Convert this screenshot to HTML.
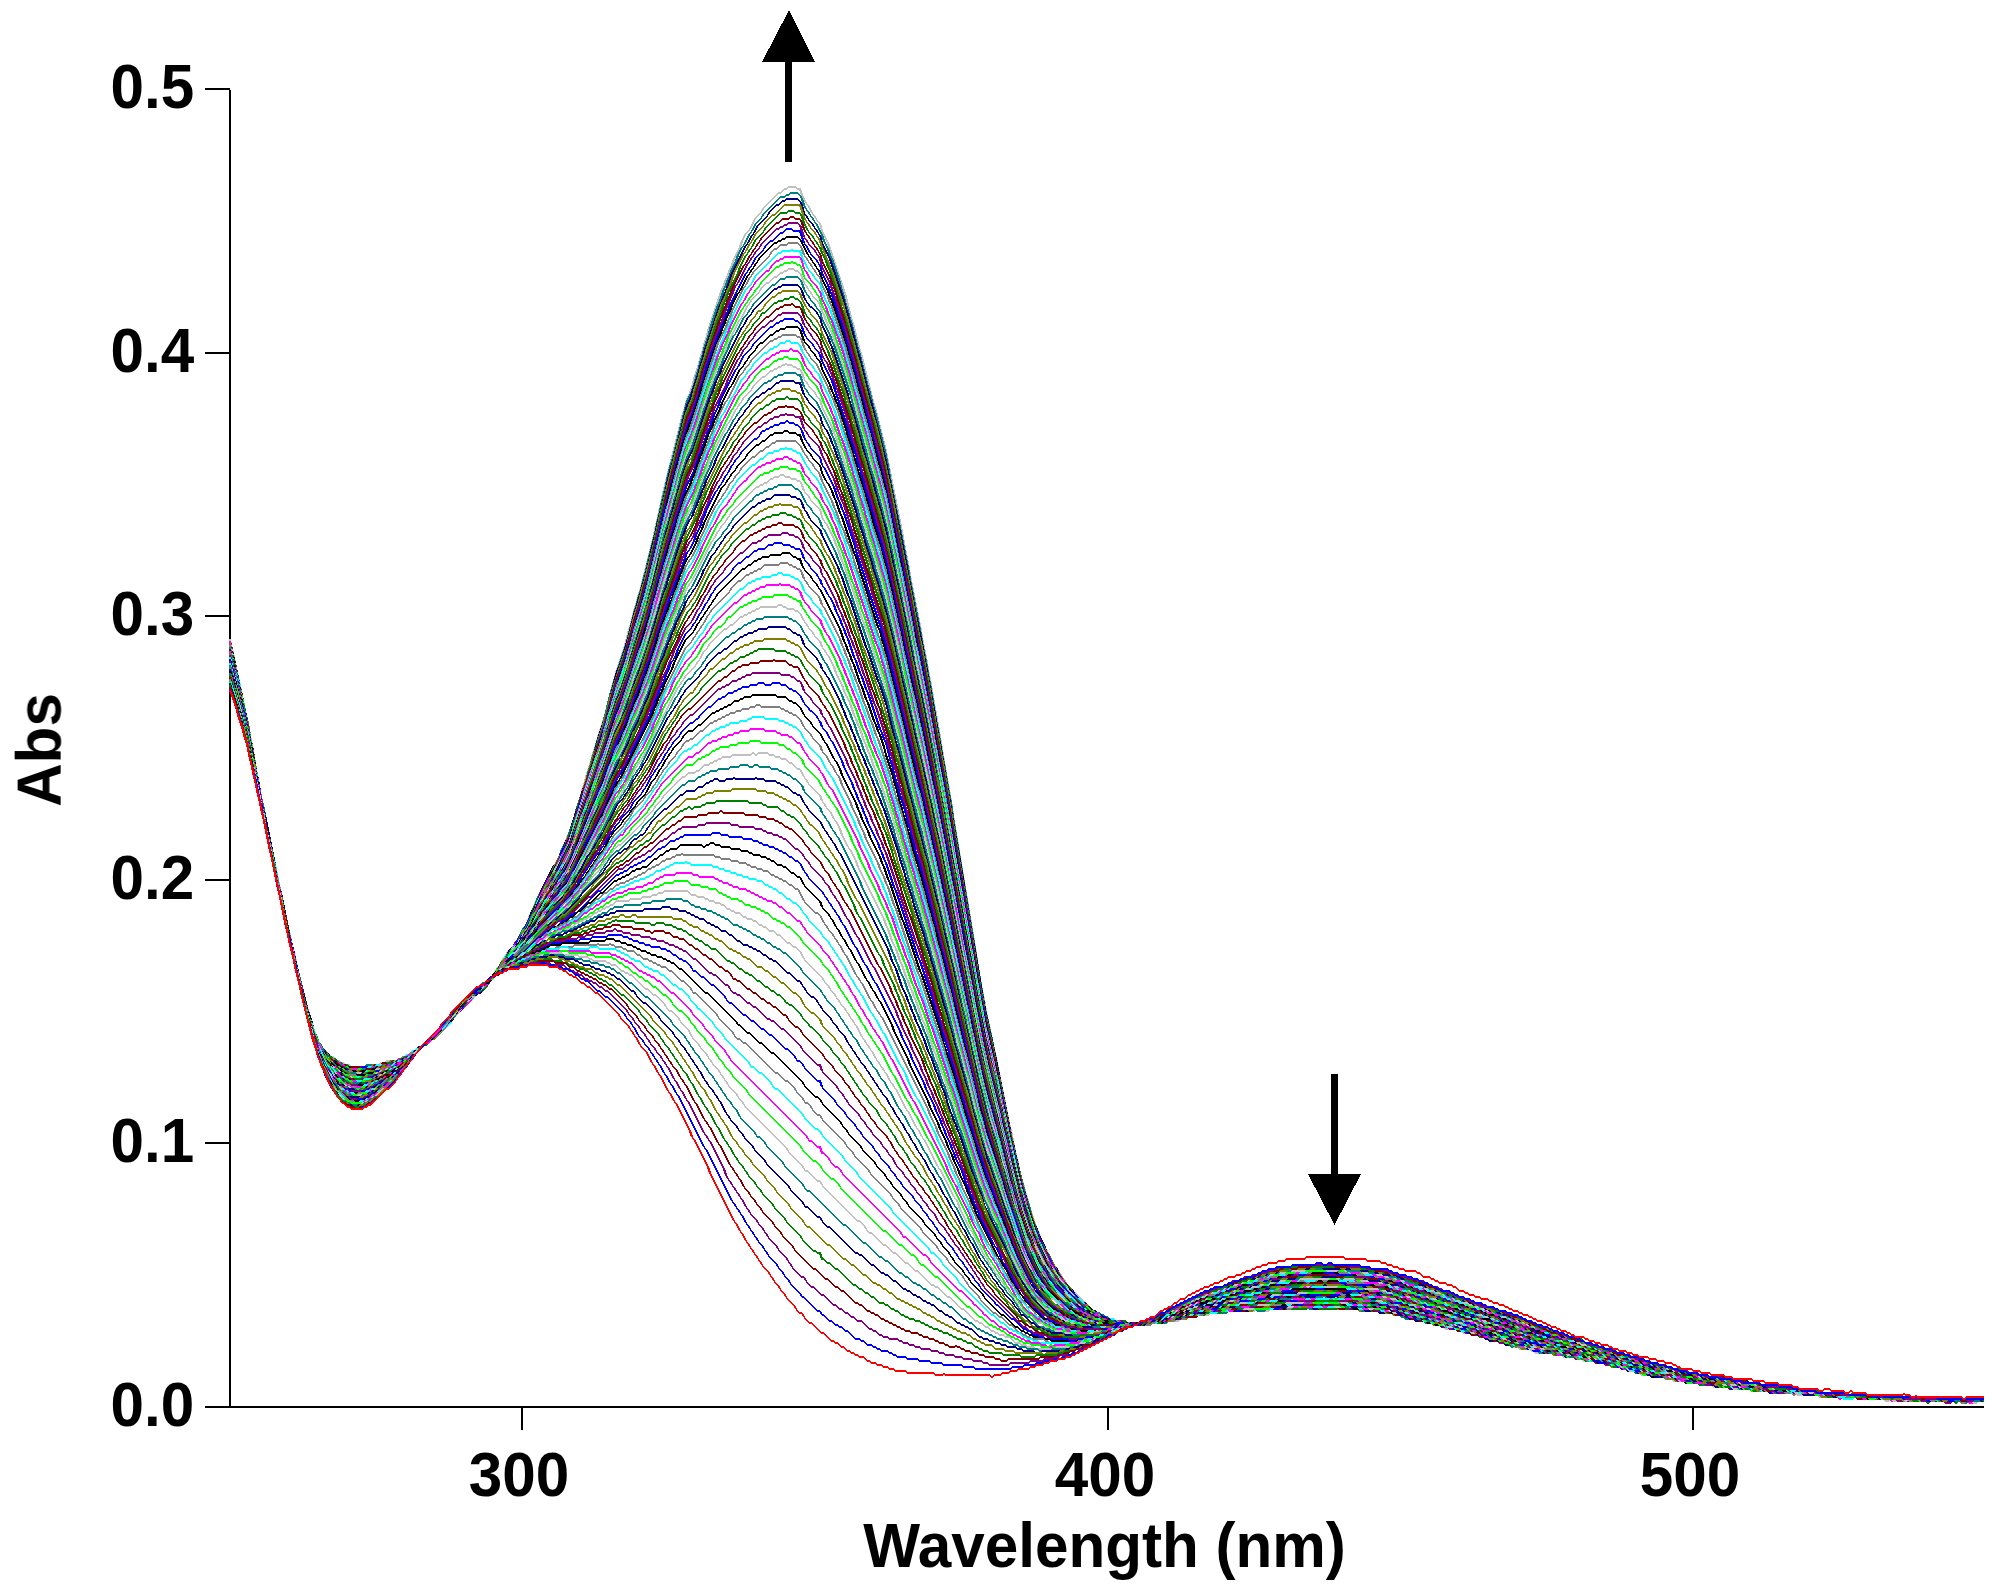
<!DOCTYPE html>
<html><head><meta charset="utf-8"><title>Abs vs Wavelength</title>
<style>
html,body{margin:0;padding:0;background:#fff}
body{width:2002px;height:1596px;overflow:hidden}
svg{display:block}
text{font-family:"Liberation Sans",sans-serif;font-weight:bold;font-size:60.2px;fill:#000}
.aw{stroke-width:.98}.bw{stroke-width:.72;transform:translate(0,.25px)}.cw{stroke-width:.9}
.r{stroke:#ff0000}.u{stroke:#0000ff}.p{stroke:#800080}.m{stroke:#800000}.g{stroke:#008000}.o{stroke:#808000}.n{stroke:#000080}.t{stroke:#008080}.s{stroke:#c0c0c0}.l{stroke:#00ff00}.f{stroke:#ff00ff}.c{stroke:#00ffff}.y{stroke:#808080}.k{stroke:#000000}
</style></head><body>
<svg width="2002" height="1596" viewBox="0 0 2002 1596">
<rect width="2002" height="1596" fill="#fff"/>
<g shape-rendering="crispEdges" fill="#000">
<rect x="229" y="90" width="2" height="1318"/>
<rect x="205" y="1406" width="1779" height="2"/>
<rect x="205" y="88" width="25" height="2"/>
<rect x="205" y="352" width="25" height="2"/>
<rect x="205" y="615" width="25" height="2"/>
<rect x="205" y="879" width="25" height="2"/>
<rect x="205" y="1142" width="25" height="2"/>
<rect x="521" y="1407" width="2" height="23"/>
<rect x="1107" y="1407" width="2" height="23"/>
<rect x="1692" y="1407" width="2" height="23"/>
</g>
<g fill="none" shape-rendering="crispEdges" stroke-linejoin="miter" stroke-linecap="butt" transform="translate(1 0) scale(2) translate(.5 .5)">
<path class="s aw" d="M114 319l1 5l1 4l2 10l1 4l3 15l1 4l1 6l1 5l3 18l2 10l1 4l9 45l1 4l2 10l1 4l1 5l2 8l1 5l5 20l1 3l1 4l1 3m1 2l1 3m7 8h1m2 2h1m1 1h1m1 1h2m1 1h6m1-1h6m1-1h2m1-1h5m1-1h2m1-1h1m1-1h1m4-4h2m2-2h1m3-3h1m17-19h1m28-39l1-3m2-4l1-3m13-25l1-3m1-2l1-3m1-2l2-6l1-4l2-6l1-4l1-3l1-4l2-6l1-4l2-6l1-4l3-9l4-16l1-3l1-4l4-12l2-8l1-3l2-8l1-3l1-4l1-3l7-28l1-5l1-4l1-5l1-4l1-5l9-36l1-3l1-4l1-3m1-2l1-3l1-4l2-6l1-4l1-3l1-4l1-3l1-4l7-21m1-2l1-3m1-2l1-3m1-2l1-3m3-6l1-3m18-24h1m2-2h1m1-1h4m1 1h1l1 3m9 14l1 4m3 6l9 27l3 12l1 3l3 12l1 3l6 24l1 3l5 20l8 40l1 6l2 10l1 6l5 25l1 6l2 10l1 6l1 5l2 12l1 5l5 30l1 5l2 12l1 7l11 66l1 7l1 6l2 10l1 6l1 5l1 4l2 10l1 4l7 35l1 4l2 10l1 4l1 5l1 4l1 3l1 4l1 3l1 4l3 9m1 2l1 3m1 2l1 3m25 32h1m1 1h1m1 1h1m1 1h1m1 1h2m1 1h4m1 1h2m1 1h1m1-1h13m1-1h2m1-1h2m1 1h1m1-1h1m1-1h4m1-1h7m1-1h5m1-1h16m1-1h2m1 1h3m1-1h18m1-1h3m1 1h2m1-1h6m1 1h11m1 1h10m1 1h5m1 1h3m1 1h3m1 1h4m1 1h2m1 1h6m1 1h1m2 2h5m1 1h2m1 1h4m1 1h3m1 1h3m1 1h2m1 1h3m1 1h1m1 1h2m1 1h2m1 1h5m1 1h1m1 1h1m1-1h3m1 1h4m1 1h2m1 1h5m1 1h3m1 1h6m1 1h3m1 1h2m1 1h5m1 1h1m1 1h4m1 1h1m1 1h5m1 1h5m1 1h3m1 1h8m1 1h3m1 1h6m1 1h9m1 1h9m1 1h9m1 1h13m1 1h16m1 1h17m1 1h6m1 1h1m1-1h18m1 1h22m1 1h1m1-1h3"/>
<path class="s cw" d="M156 515l1 2m2 4l1 2m61-9l1-2m7-7l1-2m14-13l1-2m1-1l2-4m1-1l2-4m1-1l1-2m3-3l1-2m1-1l1-2m1-1l3-6m1-3l2-4m1-3l9-18m1-1l3-6m1-3l1-2m1-3l1-2m59-217l1-2m16-52l1-2m1-3l1-2m1-3l1-2m1-3l3-6m1-3l2-4m2-2l3-6m3-3l1-2m19-6l2 4m1 1l2 4m1 1l1 2m3 6l3 6m104 492l1 2m1 3l1 2m2 4l4 8m1 1l1 2m1 1l1 2m1 1l1 2"/>
<path class="s bw" d="M158 520l1 1m1 2l5 5m1 0l2 2m1 0l1 1m1 0l1 1m2 0l1 1m6 0l1-1m6 0l1-1m2 0l1-1m5 0l1-1m2 0l1-1m1 0l1-1m1 0l4-4m2 0l2-2m1 0l3-3m1 0l4-4m1-2l7-7m1-2l4-4m1 0l9-9m1-2l1-1m2-4l1-1m2-4l1-1m1-2l3-3m1-2l1-1m1-2l1-1m16-34l1-1m95-315l2-2m3-6l3-3m1-2l7-7m1 0l2-2m1 0l1-1m4 0l1 1m4 7l1 1m2 4l1 1m1 2l2 2m112 512l1 1m4 8l1 1m1 2l1 1m1 2l1 1m1 2l14 14m1 0l1 1m1 0l1 1m1 0l1 1m1 0l1 1m2 0l1 1m4 0l1 1m2 0l1 1m1 0l1-1m13 0l1-1m2 0l1-1m2 0l1 1m1 0l1-1m1 0l1-1m4 0l1-1m7 0l1-1m5 0l1-1m16 0l1-1m2 0l1 1m3 0l1-1m18 0l1-1m3 0l1 1m2 0l1-1m6 0l1 1m11 0l1 1m10 0l1 1m5 0l1 1m3 0l1 1m3 0l1 1m4 0l1 1m2 0l1 1m6 0l1 1m1 0l2 2m5 0l1 1m2 0l1 1m4 0l1 1m3 0l1 1m3 0l1 1m2 0l1 1m3 0l1 1m1 0l1 1m2 0l1 1m2 0l1 1m5 0l1 1m1 0l1 1m1 0l1-1m3 0l1 1m4 0l1 1m2 0l1 1m5 0l1 1m3 0l1 1m6 0l1 1m3 0l1 1m2 0l1 1m5 0l1 1m1 0l1 1m4 0l1 1m1 0l1 1m5 0l1 1m5 0l1 1m3 0l1 1m8 0l1 1m3 0l1 1m6 0l1 1m9 0l1 1m9 0l1 1m9 0l1 1m13 0l1 1m16 0l1 1m17 0l1 1m6 0l1 1m1 0l1-1m18 0l1 1m22 0l1 1m1 0l1-1"/>
<path class="t aw" d="M114 320l1 4l1 5l1 4l2 10l1 4l5 25l2 12l1 5l1 6l1 5l1 4l1 5l1 6l5 25l1 4l2 10l1 4l2 10l2 8l1 5l7 28l2 6m1 2l1 3m6 8h1m3 3h1m1 1h3m1 1h7m1-1h8m1-1h3m1-1h2m1-1h1m1-1h1m1-1h1m2-2h2m2-2h1m2-2h1m2-2h1m24-25h1m23-36l1-3m2-4l1-3m11-21l1-3m3-6l3-9l1-4l5-15l1-4l1-3l1-4l1-3l1-4l3-9l1-4l1-3l1-5l1-4l1-3l1-4l6-18l4-16l1-3l1-4l1-3l2-8l1-3l1-5l4-16l1-5l1-4l1-5l2-8l1-5l1-4l1-3l7-28l1-3m2-4l1-3l1-4l1-3l1-4l1-3l1-4l2-6l1-4l4-12m1-2l2-6m1-2l1-3m1-2l1-3m2-4l1-3m21-29h2m1-1h1m1-1h4m2 3l1 3m9 15l1 3m2 4l1 3m1 2l4 12l1 4l1 3l1 4l1 3l1 4l1 3l3 12l1 3l4 16l1 3l2 8l1 3l5 20l1 5l1 6l9 45l1 6l5 25l1 6l2 10l1 6l1 5l3 18l1 5l2 12l1 5l2 12l1 5l1 6l1 7l15 90l1 5l1 4l1 5l1 4l11 55l6 24l2 6l1 4l1 3m1 2l1 3m1 2l1 3m23 32h1m3 3h2m1 1h1m1 1h1m1 1h1m1 1h2m1 1h23m1-1h3m1-1h4m1-1h5m1-1h3m1-1h10m1-1h2m1-1h3m1 1h5m1-1h1m1 1h3m1-1h17m1-1h3m1 1h3m1-1h6m1 1h4m1-1h3m1 1h5m1 1h10m1 1h4m1 1h3m1 1h1m1 1h5m1 1h3m1 1h5m1 1h2m1 1h3m1 1h2m1 1h3m1 1h4m1 1h2m1 1h3m1 1h3m1 1h2m1 1h1m1 1h1m2 0h3m1 1h1m1 1h4m1 1h1m1 1h8m1 1h4m1 1h3m1 1h6m1 1h2m1 1h5m1 1h3m1 1h2m1 1h3m1 1h2m1 1h5m1 1h4m1 1h5m1 1h6m1 1h2m1 1h10m1 1h2m1 1h7m1 1h12m1 1h4m1 1h1m1-1h2m1 1h8m1 1h1m1-1h2m1 1h8m1 1h18m1 1h4m1-1h4m1 1h11m1 1h7m1-1h3m1 1h6m2 0h18"/>
<path class="t cw" d="M156 515l1 2m2 4l2 4m58-9l1-2m23-22l2-4m1-1l1-2m1-1l2-4m1-1l1-2m2-2l1-2m2-2l4-8m1-1l2-4m1-3l2-4m1-3l8-16m1-1l2-4m1-3l3-6m60-219l2-4m13-43l1-2m2-6l1-2m1-3l1-2m1-3l2-4m1-3l2-4m1-1l3-6m1-1l2-4m3-3l1-2m18-9l1 2m1 3l1 2m1 1l1 2m1 1l1 2m1 1l3 6m1 3l2 4m1 3l1 2m101 482l1 2m1 3l1 2m1 3l2 4m1 1l3 6m1 1l2 4m1 1l1 2m3 3l1 2"/>
<path class="t bw" d="M158 520l1 1m2 4l3 3m1 0l3 3m1 0l1 1m3 0l1 1m7 0l1-1m8 0l1-1m3 0l1-1m2 0l1-1m1 0l1-1m1 0l1-1m1 0l2-2m2 0l2-2m1 0l2-2m1 0l2-2m1 0l3-3m1-2l20-20m1 0l2-2m2-4l1-1m1-2l1-1m2-4l1-1m1-2l2-2m1-2l2-2m4-8l1-1m14-30l1-1m93-308l1-1m3-6l1-1m2-4l3-3m1-2l8-8m2 0l1-1m1 0l1-1m4 0l1 1m3 7l1 1m1 2l1 1m1 2l1 1m115 514l1 1m3 6l1 1m2 4l1 1m1 2l3 3m1 2l8 8m1 0l3 3m2 0l1 1m1 0l1 1m1 0l1 1m1 0l1 1m2 0l1 1m23 0l1-1m3 0l1-1m4 0l1-1m5 0l1-1m3 0l1-1m10 0l1-1m2 0l1-1m3 0l1 1m5 0l1-1m1 0l1 1m3 0l1-1m17 0l1-1m3 0l1 1m3 0l1-1m6 0l1 1m4 0l1-1m3 0l1 1m5 0l1 1m10 0l1 1m4 0l1 1m3 0l1 1m1 0l1 1m5 0l1 1m3 0l1 1m5 0l1 1m2 0l1 1m3 0l1 1m2 0l1 1m3 0l1 1m4 0l1 1m2 0l1 1m3 0l1 1m3 0l1 1m2 0l1 1m1 0l1 1m1 0l1 1l1-1m3 0l1 1m1 0l1 1m4 0l1 1m1 0l1 1m8 0l1 1m4 0l1 1m3 0l1 1m6 0l1 1m2 0l1 1m5 0l1 1m3 0l1 1m2 0l1 1m3 0l1 1m2 0l1 1m5 0l1 1m4 0l1 1m5 0l1 1m6 0l1 1m2 0l1 1m10 0l1 1m2 0l1 1m7 0l1 1m12 0l1 1m4 0l1 1m1 0l1-1m2 0l1 1m8 0l1 1m1 0l1-1m2 0l1 1m8 0l1 1m18 0l1 1m4 0l1-1m4 0l1 1m11 0l1 1m7 0l1-1m3 0l1 1m6 0l1-1l1 1"/>
<path class="n aw" d="M114 320l1 4l1 5l1 4l2 10l1 4l5 25l3 18l5 25l1 4l5 25l1 4l3 15l1 4l1 5l1 4l1 5l7 28l3 9m7 10h1m3 3h1m1 1h2m1 1h12m1-1h4m1-1h5m1-1h1m1-1h1m1-1h1m1-1h1m1-1h1m3-3h1m2-2h1m3-3h1m17-19h1m3-3h1m25-38l1-3m4-8l1-3m11-21l1-3m2-4l1-4l4-12l1-4l3-9l1-4l2-6l2-8l4-12l5-20l1-3m1-2l2-6l1-4l1-3l3-12l1-3l1-4l1-3l1-4l1-3l3-12l1-5l2-8l1-5l4-16l1-5l1-4l1-3l7-28l1-3m1-2l4-12l1-4l1-3l1-4l8-24m1-2l1-3m1-2l3-9m22-34h1m2-2h1m1-1h6m2 3l1 4m8 11l1 4m4 8l7 21l1 4l1 3l1 4l1 3l3 12l1 3l5 20l1 3l7 28l10 50l1 6l2 10l1 6l1 5l1 4l2 10l1 6l1 5l1 6l1 5l1 6l1 5l2 12l1 5l4 24l1 5l1 7l2 12l1 5l3 18l1 7l3 18l1 5l4 24l1 5l1 6l1 4l1 5l1 4l1 5l1 4l8 40l1 4l1 5l1 4l1 5l2 8l1 3l1 4l3 9m1 2l1 3m3 6l1 3m19 26h1m4 4h1m2 2h1m1 1h1m1 1h2m1 1h4m1 1h18m1-1h5m1-1h6m1-1h2m1-1h4m1-1h6m1-1h6m2 0h8m1-1h26m1-1h3m1 1h3m1-1h3m1 1h2m1-1h1m1 1h12m1 1h6m1 1h9m1 1h2m1 1h1m1 1h2m1 1h5m1 1h3m1 1h2m1 1h3m1 1h3m1 1h5m1 1h4m1 1h1m2 2h1m1 1h5m1 1h1m1 1h5m1 1h2m1 1h5m1 1h3m1 1h6m1 1h3m1 1h6m1 1h3m1 1h5m1 1h2m1 1h5m1 1h1m1 1h2m1 1h3m1 1h3m1 1h3m1 1h6m1 1h5m1 1h4m1 1h6m1 1h6m1 1h10m1 1h8m1 1h6m1 1h14m1 1h1m1-1h3m1 1h10m1 1h17m2 0h4m1 1h10m2 0h1m1 1h37"/>
<path class="n cw" d="M157 518l2 4m4 4l1 2m59-16l1-2m9-9l1-2m7-5l1-2m2-2l1-2m2-2l2-4m1-1l2-4m1-1l1-2m3-3l2-4m1-1l4-8m1-3l4-8m1-3l6-12m1-1l4-8m1-3l2-4m24-82l1-2m34-131l1-2m15-47l1-2m1-3l1-2m3-9l7-14m1-1l2-4m1-1l2-4m5-5l1-2m15-5l1 2m2 5l1 2m2 2l1 2m1 1l1 2m2 5l4 8m102 482l1 2m1 3l3 6m1 3l2 4m1 1l1 2m1 1l2 4m1 1l1 2m4 4l1 2"/>
<path class="n bw" d="M159 522l4 4m2 2l3 3m1 0l1 1m2 0l1 1m12 0l1-1m4 0l1-1m5 0l1-1m1 0l1-1m1 0l1-1m1 0l1-1m1 0l1-1m1 0l3-3m1 0l2-2m1 0l3-3m1 0l6-6m1-2l9-9m2-2l3-3m1 0l2-2m1-2l2-2m1-2l2-2m2-4l1-1m2-4l1-1m1-2l3-3m2-4l1-1m16-34l1-1m95-309l1-1m2-4l1-1m2-4l5-5m1-2l3-3m1 0l2-2m1 0l1-1m6 0l1 1m2 6l1 1m1 2l2 2m1 2l1 1m1 2l1 1m115 512l1 1m1 2l1 1m2 4l1 1m1 2l4 4m1 2l5 5m1 0l4 4m1 0l2 2m1 0l1 1m1 0l1 1m2 0l1 1m4 0l1 1m18 0l1-1m5 0l1-1m6 0l1-1m2 0l1-1m4 0l1-1m6 0l1-1m6 0l1-1l1 1m8 0l1-1m26 0l1-1m3 0l1 1m3 0l1-1m3 0l1 1m2 0l1-1m1 0l1 1m12 0l1 1m6 0l1 1m9 0l1 1m2 0l1 1m1 0l1 1m2 0l1 1m5 0l1 1m3 0l1 1m2 0l1 1m3 0l1 1m3 0l1 1m5 0l1 1m4 0l1 1m1 0l2 2m1 0l1 1m5 0l1 1m1 0l1 1m5 0l1 1m2 0l1 1m5 0l1 1m3 0l1 1m6 0l1 1m3 0l1 1m6 0l1 1m3 0l1 1m5 0l1 1m2 0l1 1m5 0l1 1m1 0l1 1m2 0l1 1m3 0l1 1m3 0l1 1m3 0l1 1m6 0l1 1m5 0l1 1m4 0l1 1m6 0l1 1m6 0l1 1m10 0l1 1m8 0l1 1m6 0l1 1m14 0l1 1m1 0l1-1m3 0l1 1m10 0l1 1m17 0l1 1l1-1m4 0l1 1m10 0l1-1l1 1m1 0l1 1"/>
<path class="o aw" d="M114 320l1 4l2 10l1 4l2 10l1 4l1 5l1 4l1 6l1 5l4 24l1 4l4 20l1 4l5 25l1 4l2 10l1 4l1 5l2 8l1 5l7 28m1 2l1 3m7 10h1m2 2h1m1 1h1m1 1h1m1 1h11m1-1h5m1-1h2m1-1h3m1-1h2m1-1h1m1-1h1m2-2h1m2-2h1m1-1h1m4-4h1m17-19h1m31-45l1-3m14-27l2-6m1-2l3-9l1-4l2-6l1-4l2-6l1-4l3-9l1-4l2-6l1-4l1-3l2-8l1-3l1-4l6-18l4-16l2-6l2-8l1-3l5-20l1-5l1-4l1-5l9-36l1-3l3-12m1-2l1-3m1-2l1-4l2-6l1-4l2-6l1-4l4-12l1-4m1-2l2-6m2-4l1-3m1-2l2-6m19-29h1m5-5h8l2 6m8 12l1 3m1 2l1 3m1 2l1 3m1 2l6 18l1 4l1 3l2 8l1 3l2 8l1 3l5 20l1 3l1 4l1 3l3 12l1 5l1 4l1 5l1 4l2 10l1 6l8 40l1 6l3 15l1 4l1 6l2 10l2 12l1 5l1 6l1 5l1 6l1 5l19 114l1 5l1 6l1 5l1 4l1 5l1 4l3 15l1 4l5 25l1 4l2 10l5 20l6 18m24 35h1m5 5h1m1 1h1m1 1h1m1 1h4m1 1h5m1 1h3m1-1h9m1-1h3m1-1h9m1-1h4m1-1h2m1-1h5m1-1h9m1-1h6m1 1h1m1-1h22m1-1h11m1 1h17m2 0h5m1 1h5m1 1h3m1 1h5m1 1h3m1 1h2m1 1h3m1 1h2m1 1h4m1 1h3m1 1h3m1 1h3m1 1h3m1 1h3m1 1h2m1 1h1m1 1h3m1 1h3m1 1h2m1 1h2m1 1h6m1 1h4m1 1h3m1 1h7m1 1h2m1 1h7m1 1h4m1 1h1m1 1h2m2 0h2m1 1h1m1 1h2m1 1h2m1 1h6m1 1h4m1 1h2m1 1h4m1 1h4m1 1h9m1 1h6m1 1h13m1 1h5m1 1h7m1 1h12m1 1h13m1 1h14m1 1h4m1-1h8m1 1h10m1 1h1m1-1h3m1 1h19m2 0h10"/>
<path class="o cw" d="M155 513l1 2m1 3l2 4m3 3l1 2m61-16l1-2m6-6l1-2m13-12l1-2m1-1l1-2m1-1l2-4m1-1l1-2m2-2l1-2m1-1l2-4m1-1l6-12m1-3l12-24m1-1l1-2m2-6l1-2m58-210l1-2m1-3l1-2m12-40l1-2m2-6l2-4m1-3l1-2m2-6l5-10m1-1l2-4m1-1l2-4m4-4l1-2m19-2l1 2m1 1l1 2m2 2l1 2m1 1l1 2m1 3l1 2m1 3l1 2m1 3l1 2m103 482l6 12m1 1l2 4m1 1l1 2m1 1l1 2m3 3l1 2"/>
<path class="o bw" d="M159 522l3 3m1 2l1 1m1 0l2 2m1 0l1 1m1 0l1 1m1 0l1 1m11 0l1-1m5 0l1-1m2 0l1-1m3 0l1-1m2 0l1-1m1 0l1-1m1 0l2-2m1 0l2-2m1 0l1-1m1 0l4-4m1 0l7-7m1-2l6-6m1-2l2-2m1 0l10-10m1-2l1-1m1-2l1-1m2-4l1-1m1-2l2-2m1-2l1-1m2-4l1-1m19-39l1-1m91-300l1-1m2-4l1-1m2-4l4-4m1-2l3-3m1 0l5-5m11 8l1 1m1 2l2 2m1 2l1 1m116 511l1 1m2 4l1 1m1 2l1 1m1 2l3 3m1 2l7 7m1 0l5 5m1 0l1 1m1 0l1 1m1 0l1 1m4 0l1 1m5 0l1 1m3 0l1-1m9 0l1-1m3 0l1-1m9 0l1-1m4 0l1-1m2 0l1-1m5 0l1-1m9 0l1-1m6 0l1 1m1 0l1-1m22 0l1-1m11 0l1 1m17 0l1 1l1-1m5 0l1 1m5 0l1 1m3 0l1 1m5 0l1 1m3 0l1 1m2 0l1 1m3 0l1 1m2 0l1 1m4 0l1 1m3 0l1 1m3 0l1 1m3 0l1 1m3 0l1 1m3 0l1 1m2 0l1 1m1 0l1 1m3 0l1 1m3 0l1 1m2 0l1 1m2 0l1 1m6 0l1 1m4 0l1 1m3 0l1 1m7 0l1 1m2 0l1 1m7 0l1 1m4 0l1 1m1 0l1 1m2 0l1 1l1-1m2 0l1 1m1 0l1 1m2 0l1 1m2 0l1 1m6 0l1 1m4 0l1 1m2 0l1 1m4 0l1 1m4 0l1 1m9 0l1 1m6 0l1 1m13 0l1 1m5 0l1 1m7 0l1 1m12 0l1 1m13 0l1 1m14 0l1 1m4 0l1-1m8 0l1 1m10 0l1 1m1 0l1-1m3 0l1 1m19 0l1 1l1-1"/>
<path class="g aw" d="M114 320l1 5l2 8l2 10l1 4l5 25l3 18l4 20l1 4l7 35l1 4l2 10l1 4l1 5l1 4l1 5l8 32m1 2l1 3m7 10h1m1 1h1m2 2h1m1 1h2m1 1h1m2 0h3m2 0h4m1-1h2m1-1h4m1-1h2m1-1h2m1-1h1m2-2h1m1-1h1m1-1h1m2-2h1m3-3h1m19-21h1m29-42l1-3m15-29l1-3m1-2l4-12l1-4l4-12l1-4l3-9l1-4l4-12l2-8l1-3l3-12m1-2l3-9l1-4l1-3l1-4l1-3l1-4l1-3l1-4l1-3l2-8l1-3l2-8l1-5l1-4l1-5l2-8l1-5l2-8l1-3l7-28l1-3l1-4l1-3m2-4l1-3l1-4l2-6l1-4l4-12l1-4l3-9m1-2l2-6m1-2l1-3m5-10l1-3m20-27h3m1-1h3m1 1h2m1 2l1 3m8 12l1 3m2 4l1 3m1 2l5 15l1 4l3 9l1 4l1 3l4 16l1 3l2 8l1 3l2 8l1 3l6 24l5 25l1 4l1 5l1 6l4 20l1 6l8 40l1 6l1 5l2 12l1 5l2 12l1 5l4 24l1 5l12 72l1 5l1 6l1 5l1 6l2 8l2 10l1 4l7 35l1 4l1 5l1 4l1 5l2 8l1 3l1 4l2 6l1 4m1 2l2 6m2 4l1 3m25 32h1m1 1h2m1 1h1m1 1h2m1 1h2m2 0h2m1 1h16m1-1h5m1-1h3m1-1h4m1-1h6m1-1h7m1-1h8m1-1h15m2 0h16m1-1h5m1 1h8m1-1h3m1 1h3m1-1h1m1 1h6m1 1h7m1 1h4m1 1h3m1 1h2m1 1h4m1 1h2m1 1h3m1 1h3m1 1h3m1 1h3m1 1h3m1 1h2m1 1h2m1 1h4m1 1h4m1 1h1m1 1h2m1 1h4m1 1h3m1 1h3m1 1h4m1 1h4m1 1h3m2 0h1m1 1h4m1 1h2m1 1h6m1 1h3m1 1h2m1 1h5m1 1h2m1 1h1m1 1h5m1 1h2m1 1h5m1 1h8m1 1h1m1 1h5m1 1h12m1 1h3m1 1h5m2 0h1m1 1h13m1 1h9m1 1h10m1 1h23m2 0h2m1 1h6m1 1h2m1-1h7m1 1h6m2 0h27"/>
<path class="g cw" d="M155 513l1 2m1 3l3 6m59-8l1-2m13-13l1-2m10-9l1-2m1-1l1-2m1-1l2-4m1-1l1-2m2-2l1-2m2-2l2-4m1-1l5-10m1-3l8-16m1-1l6-12m1-3l1-2m24-80l1-2m35-132l2-4m13-42l1-2m2-6l1-2m1-3l5-10m1-3l3-6m1-1l1-2m1-1l2-4m4-4l1-2m17-7l1 2m1 3l2 4m2 2l1 2m1 1l1 2m2 4l2 4m1 3l1 2m101 474l1 2m2 6l2 4m1 3l3 6m1 1l1 2m1 1l1 2m1 1l1 2m3 3l1 2"/>
<path class="g bw" d="M160 524l4 4m1 0l1 1m1 0l2 2m1 0l1 1m2 0l1 1m1 0l1 1l1-1m3 0l1 1l1-1m4 0l1-1m2 0l1-1m4 0l1-1m2 0l1-1m2 0l1-1m1 0l2-2m1 0l1-1m1 0l1-1m1 0l2-2m1 0l3-3m1 0l3-3m1-2l13-13m1-2l1-1m1 0l8-8m1-2l1-1m1-2l1-1m2-4l1-1m1-2l2-2m1-2l2-2m2-4l1-1m14-29l1-1m97-309l1-1m1-2l1-1m2-4l4-4m1-2l7-7m3 0l1-1m3 0l1 1m6 9l2 2m1 2l1 1m1 2l1 1m115 507l1 1m1 2l1 1m1 2l1 1m1 2l3 3m1 2l12 12m1 0l1 1m2 0l1 1m1 0l1 1m2 0l1 1m2 0l1 1l1-1m2 0l1 1m16 0l1-1m5 0l1-1m3 0l1-1m4 0l1-1m6 0l1-1m7 0l1-1m8 0l1-1m15 0l1-1l1 1m16 0l1-1m5 0l1 1m8 0l1-1m3 0l1 1m3 0l1-1m1 0l1 1m6 0l1 1m7 0l1 1m4 0l1 1m3 0l1 1m2 0l1 1m4 0l1 1m2 0l1 1m3 0l1 1m3 0l1 1m3 0l1 1m3 0l1 1m3 0l1 1m2 0l1 1m2 0l1 1m4 0l1 1m4 0l1 1m1 0l1 1m2 0l1 1m4 0l1 1m3 0l1 1m3 0l1 1m4 0l1 1m4 0l1 1m3 0l1-1l1 1m1 0l1 1m4 0l1 1m2 0l1 1m6 0l1 1m3 0l1 1m2 0l1 1m5 0l1 1m2 0l1 1m1 0l1 1m5 0l1 1m2 0l1 1m5 0l1 1m8 0l1 1m1 0l1 1m5 0l1 1m12 0l1 1m3 0l1 1m5 0l1-1l1 1m1 0l1 1m13 0l1 1m9 0l1 1m10 0l1 1m23 0l1 1l1-1m2 0l1 1m6 0l1 1m2 0l1-1m7 0l1 1m6 0l1 1l1-1"/>
<path class="m aw" d="M114 320l1 4l1 5l1 4l2 10l1 4l5 25l2 12l1 5l1 6l4 20l1 4l7 35l1 4l2 10l1 4l1 5l8 32l4 12m7 8h1m3 3h3m1 1h12m1-1h3m1-1h2m2 0h1m1-1h1m1-1h1m1-1h1m1-1h1m2-2h1m1-1h1m2-2h1m2-2h1m1-1h1m5-6h1m11-13h1m34-50l1-3m13-25l1-3m1-2l2-6l1-4l1-3l1-4l6-18l1-4l5-15l4-16l1-3l1-4l1-3m1-2l2-6l2-8l1-3l2-8l3-9l2-8l1-3l4-16l1-5l4-16l1-5l3-12l1-3l3-12l1-3l2-8l1-3m1-2l1-3m1-2l1-4l2-6l1-4l9-27m1-2l1-3m1-2l1-3m1-2l1-3m22-33h1m2-2h3m1-1h2m1 1h2m1 2l1 3m8 12l1 4m4 8l1 3m1 2l1 3l1 4l3 9l1 4l1 3l1 4l1 3l1 4l1 3l3 12l1 3l2 8l1 3l4 16l1 3l3 12l12 60l1 6l7 35l1 6l1 5l1 6l1 5l1 6l1 5l1 6l1 5l2 12l1 5l5 30l1 5l10 60l5 25l1 4l1 5l1 4l5 25l1 4l3 15l6 24l5 15m2 4l1 3m25 33h1m2 2h1m1 1h2m1 1h1m1 1h4m1 1h18m1-1h5m1-1h5m1-1h6m2-2h6m1-1h10m1-1h1m1 1h2m1-1h21m1-1h24m1 1h2m1-1h3m1 1h9m1 1h7m1 1h2m1 1h4m1 1h2m1 1h3m1 1h5m1 1h2m1 1h3m1 1h2m1 1h2m1 1h3m1 1h2m1 1h4m1 1h3m1 1h1m1 1h6m1 1h2m1 1h1m1 1h4m1 1h3m1 1h6m1 1h4m1 1h3m1 1h4m1 1h5m1 1h5m1 1h3m1 1h2m1 1h4m1 1h1m1 1h3m1 1h5m1 1h2m1 1h5m1 1h6m1 1h5m1 1h6m1 1h6m1 1h3m2 0h4m1 1h5m1 1h6m1-1h1m1 1h1m1 1h13m1 1h16m1 1h9m1 1h2m1-1h1m2 0h4m1 1h12m2 0h1m1 1h4m1-1h1m1 1h17m1 1h1m1-1h9"/>
<path class="m cw" d="M160 523l1 2m56-7l1-2m5-4l1-2m6-6l1-2m13-12l1-2m1-1l1-2m1-1l1-2m1-1l1-2m1-1l1-2m2-2l1-2m1-1l2-4m1-1l8-16m1-3l6-12m1-1l6-12m1-3l1-2m24-80l1-2m34-128l1-2m1-3l1-2m13-41l1-2m1-3l1-2m1-3l1-2m1-3l6-12m1-1l2-4m1-1l1-2m1-1l1-2m1-1l1-2m19-9l1 2m1 3l1 2m1 1l1 2m1 1l1 2m1 1l1 2m2 5l4 8m1 3l1 2m101 472l2 4m1 3l1 2m1 1l5 10m2 2l1 2m2 2l1 2"/>
<path class="m bw" d="M158 521l2 2m1 2l4 4m1 0l3 3m3 0l1 1m12 0l1-1m3 0l1-1m2 0l1 1l1-1m1 0l1-1m1 0l1-1m1 0l1-1m1 0l1-1m1 0l2-2m1 0l1-1m1 0l2-2m1 0l2-2m1 0l1-1m1 0l1-1m1-2l3-3m1 0l1-1m1-2l6-6m1-2l2-2m1 0l10-10m1-2l1-1m1-2l1-1m1-2l1-1m1-2l1-1m1-2l2-2m1-2l1-1m2-4l1-1m15-31l1-1m95-302l1-1m2-4l1-1m1-2l1-1m1-2l1-1m1-2l7-7m1 0l2-2m3 0l1-1m2 0l1 1m5 7l1 1m1 2l1 1m1 2l1 1m1 2l1 1m112 498l1 1m5 10l2 2m1 2l2 2m1 2l12 12m1 0l2 2m1 0l1 1m2 0l1 1m1 0l1 1m4 0l1 1m18 0l1-1m5 0l1-1m5 0l1-1m6 0l2-2m6 0l1-1m10 0l1-1m1 0l1 1m2 0l1-1m21 0l1-1m24 0l1 1m2 0l1-1m3 0l1 1m9 0l1 1m7 0l1 1m2 0l1 1m4 0l1 1m2 0l1 1m3 0l1 1m5 0l1 1m2 0l1 1m3 0l1 1m2 0l1 1m2 0l1 1m3 0l1 1m2 0l1 1m4 0l1 1m3 0l1 1m1 0l1 1m6 0l1 1m2 0l1 1m1 0l1 1m4 0l1 1m3 0l1 1m6 0l1 1m4 0l1 1m3 0l1 1m4 0l1 1m5 0l1 1m5 0l1 1m3 0l1 1m2 0l1 1m4 0l1 1m1 0l1 1m3 0l1 1m5 0l1 1m2 0l1 1m5 0l1 1m6 0l1 1m5 0l1 1m6 0l1 1m6 0l1 1m3 0l1 1l1-1m4 0l1 1m5 0l1 1m6 0l1-1m1 0l1 1m1 0l1 1m13 0l1 1m16 0l1 1m9 0l1 1m2 0l1-1m1 0l1 1l1-1m4 0l1 1m12 0l1 1l1-1m1 0l1 1m4 0l1-1m1 0l1 1m17 0l1 1m1 0l1-1"/>
<path class="p aw" d="M114 320l1 4l1 5l1 4l4 20l1 4l2 10l1 6l1 5l3 18l1 5l1 4l2 10l1 4l7 35l1 4l1 5l1 4l2 10l5 20l1 5l1 3l2 8m1 2l2 6m7 8h1m2 2h1m1 1h1m1 1h2m1 1h3m1-1h7m1-1h5m1-1h1m1-1h2m1-1h2m2-2h1m1-1h1m1-1h1m4-4h1m1-1h1m3-3h1m16-18h1m27-36l1-3m6-12l1-3m12-23l1-3m1-2l6-18l1-4l3-9l1-4l3-9l1-4l3-9l1-4l1-3l2-8l6-18l1-4l1-3l2-8l1-3l1-4l2-6l7-28l1-5l5-20l1-3l6-24l1-3l1-4m1-2l1-3m1-2l3-9l1-4l1-3l1-4l6-18m1-2l1-3m1-2l2-6m1-2l1-3m1-2l1-3m21-30h1m1-1h1m1-1h1m1-1h5m1 1l2 6m8 11l1 4m4 8l8 24l2 8l1 3l1 4l1 3l4 16l1 3l1 4l1 3l2 8l1 3l5 20l1 5l1 4l10 50l1 6l8 40l2 12l1 5l1 6l1 5l1 6l2 10l5 30l1 5l4 24l1 5l6 36l1 5l1 6l4 20l1 4l2 10l1 4l1 5l1 4l5 25l2 8l1 5l1 4l1 3l2 8l2 6l1 4m1 2l1 3m1 2l1 3m18 28h1m6 6h1m2 2h1m1 1h1m1 1h1m1 1h3m1 1h3m1 1h4m1 1h3m1-1h6m1-1h9m1-1h4m1-1h2m1-1h5m1-1h5m1-1h8m1-1h28m1-1h28m1 1h12m1 1h8m1 1h2m1 1h3m1 1h3m1 1h3m1 1h2m1 1h4m1 1h1m1 1h2m1 1h5m1 1h1m1 1h4m1 1h3m1 1h3m1 1h1m1 1h1m1 1h6m1 1h1m1 1h5m1 1h4m1 1h3m1 1h6m1 1h3m1 1h2m1 1h5m1 1h3m1 1h4m1 1h6m1 1h1m1 1h3m1 1h3m1 1h4m1 1h4m1 1h3m1 1h4m1 1h5m1 1h6m1 1h9m1 1h6m1 1h8m1 1h2m1-1h2m1 1h6m1 1h9m1 1h15m1 1h17m1 1h15m1 1h3m2 0h10m2 0h4m1 1h2m1-1h16"/>
<path class="p cw" d="M155 513l1 2m3 7l1 2m62-11l1-2m5-5l1-2m15-14l1-2m2-2l1-2m1-1l2-4m1-1l1-2m1-1l1-2m1-1l1-2m2-2l1-2m1-1l1-2m1-3l6-12m1-3l4-8m1-1l7-14m1-3l1-2m58-205l1-2m1-3l1-2m12-38l1-2m1-3l1-2m2-6l1-2m1-3l1-2m1-3l1-2m1-1l5-10m1-1l1-2m1-1l1-2m2-2l1-2m22-2l1 2m3 3l1 2m1 1l1 2m1 4l4 8m101 469l1 2m1 3l1 2m1 3l3 6m1 1l3 6m1 1l1 2m1 1l1 2m1 1l1 2m2 2l1 2"/>
<path class="p bw" d="M158 521l1 1m1 2l5 5m1 0l2 2m1 0l1 1m1 0l1 1m2 0l1 1m3 0l1-1m7 0l1-1m5 0l1-1m1 0l1-1m2 0l1-1m2 0l2-2m1 0l1-1m1 0l1-1m1 0l4-4m1 0l1-1m1 0l3-3m1 0l4-4m1-2l5-5m1-2l5-5m1 0l9-9m1-2l2-2m1-2l1-1m2-4l1-1m1-2l1-1m1-2l1-1m1-2l2-2m1-2l1-1m13-28l1-1m92-294l1-1m5-10l1-1m1-2l1-1m1-2l2-2m1-2l7-7m1 0l1-1m1 0l1-1m1 0l1-1m5 0l1 1m2 6l1 1m1 2l3 3m1 2l1 1m114 499l1 1m3 6l1 1m1 2l1 1m1 2l1 1m1 2l2 2m1 2l2 2m1 0l6 6m1 0l2 2m1 0l1 1m1 0l1 1m1 0l1 1m3 0l1 1m3 0l1 1m4 0l1 1m3 0l1-1m6 0l1-1m9 0l1-1m4 0l1-1m2 0l1-1m5 0l1-1m5 0l1-1m8 0l1-1m28 0l1-1m28 0l1 1m12 0l1 1m8 0l1 1m2 0l1 1m3 0l1 1m3 0l1 1m3 0l1 1m2 0l1 1m4 0l1 1m1 0l1 1m2 0l1 1m5 0l1 1m1 0l1 1m4 0l1 1m3 0l1 1m3 0l1 1m1 0l1 1m1 0l1 1m6 0l1 1m1 0l1 1m5 0l1 1m4 0l1 1m3 0l1 1m6 0l1 1m3 0l1 1m2 0l1 1m5 0l1 1m3 0l1 1m4 0l1 1m6 0l1 1m1 0l1 1m3 0l1 1m3 0l1 1m4 0l1 1m4 0l1 1m3 0l1 1m4 0l1 1m5 0l1 1m6 0l1 1m9 0l1 1m6 0l1 1m8 0l1 1m2 0l1-1m2 0l1 1m6 0l1 1m9 0l1 1m15 0l1 1m17 0l1 1m15 0l1 1m3 0l1-1l1 1m10 0l1-1l1 1m4 0l1 1m2 0l1-1"/>
<path class="u aw" d="M114 320l1 5l1 4l1 5l1 4l2 10l1 4l3 15l1 6l1 5l2 12l3 15l1 4l1 5l1 6l1 4l6 30l1 4l1 5l1 4l1 5l2 8l1 5l6 24l3 9m9 12h1m1 1h1m1 1h1m1 1h2m1 1h4m1-1h8m1-1h3m1-1h2m1-1h2m1-1h1m1-1h1m2-2h1m1-1h1m2-2h1m2-2h1m2-2h1m13-15h1m6-7h1m26-36l1-3m15-29l1-3m4-8l3-9l1-4l6-18l1-4l3-9l1-4l3-9l2-8l1-3l1-4l5-15l1-4l2-6l1-4l1-3l1-4l2-6l2-8l1-3l4-16l1-5l2-8l1-5l1-4l1-3l5-20l1-3l1-4l1-3l1-4l3-9m1-2l3-9l1-4l1-3l1-4l4-12m1-2l2-6m1-2l1-3m1-2l1-3m1-2l1-3m20-32h1m4-4h1m2-2h3m1 1h3l2 6m8 11l1 4m3 6l1 3m1 2l6 18l1 4l1 3l1 4l1 3l1 4l1 3l3 12l1 3l2 8l1 3l3 12l1 3l4 16l1 5l1 4l4 20l1 4l2 10l1 6l6 30l1 4l1 5l1 6l1 5l1 6l1 5l1 6l1 5l1 6l2 10l1 6l1 5l3 18l1 5l3 18l1 5l7 42l1 5l2 12l2 10l1 6l1 4l1 5l1 4l1 5l1 4l1 5l1 4l3 15l1 4l2 10l1 4l1 5l1 4l1 5l1 4l1 3l1 4l4 12m1 2l1 3m2 4l1 3m23 29h1m2 2h1m1 1h1m1 1h1m1 1h1m1 1h3m1 1h7m1 1h4m1-1h5m1-1h5m1-1h6m1-1h2m1-1h4m1-1h4m1-1h15m1-1h3m2 0h13m1-1h30m2 0h9m1 1h8m1 1h5m1 1h2m1 1h3m1 1h3m1 1h3m1 1h3m1 1h1m1 1h4m1 1h3m1 1h3m1 1h2m1 1h4m1 1h3m1 1h3m1 1h1m1 1h4m1 1h1m1 1h2m1 1h4m1 1h2m1 1h9m1 1h2m1 1h4m1 1h4m1 1h4m1 1h5m1 1h3m1 1h2m1 1h4m1 1h1m1 1h3m1 1h5m1 1h3m1 1h6m1 1h3m1 1h4m1 1h9m1 1h5m1 1h4m1 1h11m1 1h7m1 1h12m1 1h2m1-1h2m1 1h11m1 1h19m1 1h2m1-1h2m1 1h21m1 1h27"/>
<path class="u cw" d="M157 518l2 4m2 2l1 2m58-11l1-2m6-6l1-2m5-4l1-2m11-10l2-4m1-1l1-2m1-1l1-2m1-1l1-2m2-2l1-2m1-1l1-2m1-1l3-6m2-4l12-24m1-1l2-4m1-3l4-8m60-209l1-2m10-32l1-2m2-6l1-2m1-3l1-2m1-3l1-2m1-3l8-16m1-1l1-2m1-1l2-4m4-4l1-2m20 0l2 4m3 3l1 2m2 5l3 6m1 3l1 2m101 466l1 2m1 3l2 4m1 3l1 2m1 1l2 4m1 1l1 2m1 1l1 2m1 1l1 2"/>
<path class="u bw" d="M159 522l2 2m1 2l4 4m1 0l1 1m1 0l1 1m1 0l1 1m2 0l1 1m4 0l1-1m8 0l1-1m3 0l1-1m2 0l1-1m2 0l1-1m1 0l1-1m1 0l2-2m1 0l1-1m1 0l2-2m1 0l2-2m1 0l2-2m1 0l4-4m1-2l6-6m1-2l1-1m1 0l3-3m1-2l2-2m1 0l8-8m2-4l1-1m1-2l1-1m1-2l1-1m1-2l2-2m1-2l1-1m1-2l1-1m3-6l1-1m13-27l1-1m95-297l1-1m1-2l1-1m2-4l4-4m1-2l2-2m1 0l4-4m1 0l2-2m3 0l1 1m5 6l1 1m2 4l3 3m1 2l1 1m113 495l1 1m2 4l1 1m1 2l1 1m1 2l1 1m1 2l13 13m1 0l2 2m1 0l1 1m1 0l1 1m1 0l1 1m1 0l1 1m3 0l1 1m7 0l1 1m4 0l1-1m5 0l1-1m5 0l1-1m6 0l1-1m2 0l1-1m4 0l1-1m4 0l1-1m15 0l1-1m3 0l1-1l1 1m13 0l1-1m30 0l1-1l1 1m9 0l1 1m8 0l1 1m5 0l1 1m2 0l1 1m3 0l1 1m3 0l1 1m3 0l1 1m3 0l1 1m1 0l1 1m4 0l1 1m3 0l1 1m3 0l1 1m2 0l1 1m4 0l1 1m3 0l1 1m3 0l1 1m1 0l1 1m4 0l1 1m1 0l1 1m2 0l1 1m4 0l1 1m2 0l1 1m9 0l1 1m2 0l1 1m4 0l1 1m4 0l1 1m4 0l1 1m5 0l1 1m3 0l1 1m2 0l1 1m4 0l1 1m1 0l1 1m3 0l1 1m5 0l1 1m3 0l1 1m6 0l1 1m3 0l1 1m4 0l1 1m9 0l1 1m5 0l1 1m4 0l1 1m11 0l1 1m7 0l1 1m12 0l1 1m2 0l1-1m2 0l1 1m11 0l1 1m19 0l1 1m2 0l1-1m2 0l1 1m21 0l1 1"/>
<path class="k aw" d="M114 320l1 5l1 4l2 10l1 4l2 10l1 4l2 10l1 6l1 5l1 6l1 5l1 6l7 35l1 4l3 15l1 4l3 15l1 4l1 5l7 28l1 3l1 4l2 6m10 13h2m1 1h1m1 1h2m1 1h8m1-1h4m1-1h3m1-1h3m1-1h1m1-1h1m2-2h1m2-2h1m1-1h1m3-3h1m1-1h1m50-61l1-3m17-33l1-3m1-2l6-18l1-4l3-9l1-4l7-21l2-8l1-3l1-4l6-18l1-4l1-3l1-4l1-3l1-4l2-6l1-4l1-3l11-44l1-5l1-4l1-3l2-8l1-3l2-8l4-12m1-2l3-9l1-4l8-24m1-2l2-6m1-2l1-3m2-4l1-3m21-31h1m1-1h1m1-1h1m1-1h6m11 18l1 3m3 6l1 3m1 2l6 18l1 4l1 3l1 4l1 3l1 4l1 3l1 4l1 3l5 20l2 6l2 8l1 3l3 12l3 15l1 4l16 80l1 6l3 15l1 6l1 5l1 6l1 5l2 12l1 5l3 18l1 5l6 36l1 5l1 6l1 5l3 18l1 5l1 6l1 4l1 5l2 8l1 5l1 4l4 20l1 4l3 15l1 4l1 5l4 16l7 21m21 31h1m3 3h1m4 4h1m1 1h1m1 1h2m1 1h3m1 1h7m1 1h4m1-1h8m1-1h4m1-1h2m1-1h5m1-1h4m1-1h6m1-1h9m1-1h13m1-1h9m2 0h12m1-1h1m1 1h18m1 1h16m1 1h1m1 1h4m1 1h3m1 1h4m1 1h1m1 1h1m1 1h3m1 1h6m1 1h2m1 1h3m1 1h2m1 1h3m1 1h4m1 1h1m1 1h2m1 1h3m1 1h2m1 1h4m1 1h3m1 1h6m1 1h2m1 1h6m1 1h2m1 1h5m1 1h2m1 1h4m1 1h5m1 1h4m1 1h2m1 1h3m1 1h3m1 1h3m1 1h1m1 1h5m1 1h7m1 1h1m1 1h3m2 0h3m1 1h10m1 1h5m1 1h13m1 1h4m1 1h14m1 1h10m1 1h1m1-1h4m1 1h15m1 1h14m1 1h8m2 0h30"/>
<path class="k cw" d="M157 518l3 6m85-35l1-2m1-1l2-4m1-1l2-4m5-5l4-8m1-1l2-4m1-3l12-24m1-1l4-8m1-3l1-2m60-207l1-2m12-37l1-2m2-6l1-2m1-3l2-4m1-3l3-6m1-1l4-8m1-1l1-2m1-1l1-2m1-1l1-2m20-9l4 8m1 1l1 2m1 1l1 2m1 1l1 2m1 3l3 6m1 3l1 2m103 469l6 12m1 1l1 2m1 1l1 2m2 2l1 2m3 3l1 2"/>
<path class="k bw" d="M160 524l7 7m2 0l1 1m1 0l1 1m2 0l1 1m8 0l1-1m4 0l1-1m3 0l1-1m3 0l1-1m1 0l1-1m1 0l2-2m1 0l2-2m1 0l1-1m1 0l3-3m1 0l1-1m1 0l31-31m1-2l1-1m2-4l1-1m2-4l5-5m4-8l1-1m15-31l1-1m90-285l1-1m4-8l1-1m1-2l1-1m1-2l1-1m1-2l7-7m1 0l1-1m1 0l1-1m1 0l1-1m6 0l1 1m4 8l1 1m1 2l1 1m1 2l1 1m116 497l1 1m1 2l1 1m1 2l2 2m1 2l3 3m1 2l4 4m1 0l3 3m1 0l4 4m1 0l1 1m1 0l1 1m2 0l1 1m3 0l1 1m7 0l1 1m4 0l1-1m8 0l1-1m4 0l1-1m2 0l1-1m5 0l1-1m4 0l1-1m6 0l1-1m9 0l1-1m13 0l1-1m9 0l1 1l1-1m12 0l1-1m1 0l1 1m18 0l1 1m16 0l1 1m1 0l1 1m4 0l1 1m3 0l1 1m4 0l1 1m1 0l1 1m1 0l1 1m3 0l1 1m6 0l1 1m2 0l1 1m3 0l1 1m2 0l1 1m3 0l1 1m4 0l1 1m1 0l1 1m2 0l1 1m3 0l1 1m2 0l1 1m4 0l1 1m3 0l1 1m6 0l1 1m2 0l1 1m6 0l1 1m2 0l1 1m5 0l1 1m2 0l1 1m4 0l1 1m5 0l1 1m4 0l1 1m2 0l1 1m3 0l1 1m3 0l1 1m3 0l1 1m1 0l1 1m5 0l1 1m7 0l1 1m1 0l1 1m3 0l1-1l1 1m3 0l1 1m10 0l1 1m5 0l1 1m13 0l1 1m4 0l1 1m14 0l1 1m10 0l1 1m1 0l1-1m4 0l1 1m15 0l1 1m14 0l1 1m8 0l1-1l1 1"/>
<path class="y aw" d="M114 320l2 10l1 4l1 5l1 4l2 10l1 4l2 10l1 6l1 5l3 18l1 4l3 15l1 4l7 35l1 4l2 10l1 4l1 5l8 32l4 12m7 8h1m2 2h1m2 2h1m1 1h9m1-1h4m1-1h5m1-1h1m1-1h2m2-2h1m1-1h2m3-3h1m1-1h1m3-3h1m1-1h1m19-21h1m33-49l1-3m14-27l1-3l1-4l4-12l1-4l9-27l1-4l1-3l1-4l1-3l1-4l1-3l1-4l1-3m1-2l3-9l1-4l1-3l2-8l3-9l1-4l1-3l11-44l1-3l4-16l1-3l1-4l1-3l1-4l2-6m1-2l6-18l1-4l7-21m4-8l1-3m1-2l1-3m21-31h1m2-2h3m1-1h5m2 3l1 3m8 11l1 4m3 6l1 3m1 2l7 21l1 4l1 3l1 4l1 3l2 8l1 3l2 8l1 3l1 4l1 3l4 16l1 3l2 8l1 3l7 35l1 4l5 25l1 6l1 5l1 4l5 25l1 6l1 5l1 6l1 5l1 6l3 15l6 36l1 5l1 6l1 5l4 24l1 5l2 12l1 5l1 6l1 5l1 6l1 5l1 4l1 5l2 8l1 5l1 4l3 15l1 4l2 10l1 4l1 5l1 4l1 5l2 8l2 6l1 4l3 9m1 2l1 3m23 33h1m3 3h1m2 2h1m1 1h1m1 1h1m1 1h5m1 1h3m1 1h2m1-1h2m1 1h4m1-1h4m1-1h1m1-1h1m1 1h2m1-1h4m1-1h2m1-1h5m1-1h4m1-1h6m1-1h12m1-1h16m1 1h1m1-1h21m1-1h1m1 1h11m1 1h8m1 1h7m1 1h2m1 1h2m1 1h3m1 1h2m1 1h4m1 1h4m2 2h5m1 1h2m1 1h3m1 1h4m1 1h1m1 1h1m1 1h6m1 1h1m1 1h1m1 1h2m1 1h5m1 1h7m1 1h2m1 1h3m1 1h6m1 1h1m1 1h4m1 1h7m1 1h2m1 1h2m1 1h3m1 1h2m1 1h5m1 1h2m1 1h5m1 1h2m1 1h7m1 1h4m1 1h6m1 1h9m1 1h3m1 1h10m1 1h9m1 1h15m1 1h11m1 1h15m2 0h3m1 1h17m2 0h6m1 1h29"/>
<path class="y cw" d="M159 522l1 2m61-10l1-2m10-10l1-2m12-11l1-2m1-1l1-2m1-1l2-4m1-1l1-2m3-3l1-2m1-1l1-2m1-1l9-18m1-3l4-8m1-1l9-18m24-78l1-2m34-123l1-2m14-43l4-8m1-3l1-2m1-3l6-12m1-1l2-4m1-1l1-2m8-8l1-2m14-3l1 2m2 4l1 2m1 1l1 2m1 1l1 2m3 6l3 6m1 3l1 2m101 461l1 2m1 3l7 14m1 1l1 2m2 2l1 2m2 2l1 2"/>
<path class="y bw" d="M158 521l1 1m1 2l5 5m1 0l2 2m1 0l2 2m1 0l1 1m9 0l1-1m4 0l1-1m5 0l1-1m1 0l1-1m2 0l2-2m1 0l1-1m2 0l3-3m1 0l1-1m1 0l3-3m1 0l1-1m1 0l5-5m1-2l10-10m1-2l2-2m1 0l9-9m1-2l1-1m1-2l1-1m2-4l1-1m1-2l3-3m1-2l1-1m1-2l1-1m14-29l1-1m96-294l1-1m2-4l1-1m1-2l8-8m1-2l1-1m1 0l2-2m3 0l1-1m5 0l1 1m2 5l1 1m1 2l1 1m1 2l1 1m1 2l2 2m116 495l1 1m1 2l2 2m1 2l2 2m1 2l8 8m1 0l3 3m1 0l2 2m1 0l1 1m1 0l1 1m1 0l1 1m5 0l1 1m3 0l1 1m2 0l1-1m2 0l1 1m4 0l1-1m4 0l1-1m1 0l1-1m1 0l1 1m2 0l1-1m4 0l1-1m2 0l1-1m5 0l1-1m4 0l1-1m6 0l1-1m12 0l1-1m16 0l1 1m1 0l1-1m21 0l1-1m1 0l1 1m11 0l1 1m8 0l1 1m7 0l1 1m2 0l1 1m2 0l1 1m3 0l1 1m2 0l1 1m4 0l1 1m4 0l2 2m5 0l1 1m2 0l1 1m3 0l1 1m4 0l1 1m1 0l1 1m1 0l1 1m6 0l1 1m1 0l1 1m1 0l1 1m2 0l1 1m5 0l1 1m7 0l1 1m2 0l1 1m3 0l1 1m6 0l1 1m1 0l1 1m4 0l1 1m7 0l1 1m2 0l1 1m2 0l1 1m3 0l1 1m2 0l1 1m5 0l1 1m2 0l1 1m5 0l1 1m2 0l1 1m7 0l1 1m4 0l1 1m6 0l1 1m9 0l1 1m3 0l1 1m10 0l1 1m9 0l1 1m15 0l1 1m11 0l1 1m15 0l1 1l1-1m3 0l1 1m17 0l1 1l1-1m6 0l1 1"/>
<path class="c aw" d="M114 321l1 4l1 5l1 4l1 5l1 4l3 15l1 4l1 6l2 10l2 12l9 45l1 4l3 15l1 4l1 5l1 4l1 5l1 4l1 5l8 32m1 2l1 3m10 13h1m1 1h1m1 1h1m1 1h9m1-1h3m1-1h2m2 0h2m1-1h2m1-1h1m1-1h1m2-2h1m2-2h1m1-1h1m2-2h1m3-3h1m1-1h1m4-5h1m10-12h1m34-48l1-3m11-20l1-3m4-8l4-12l1-4l12-36l2-8l1-3l1-4l1-3l1-4m1-2l5-15l1-4l1-3l1-4l1-3l1-4l2-6l1-4l1-3l12-48l1-3l1-4l1-3l3-12l3-9m2-4l3-9l1-4l7-21m1-2l1-3m1-2l1-3m1-2l1-3m2-4l1-3m23-32h1m1-1h4m2 0h3l1 3m9 13l1 4l1 3m3 6l5 15m1 2l1 3l1 4l1 3l1 4l1 3l1 4l1 3l1 4l1 3l2 8l1 3l2 8l1 3l2 8l1 3l2 8l1 3l1 4l3 15l1 4l11 55l1 4l3 15l1 6l2 10l1 6l4 20l2 12l1 5l2 12l1 5l1 6l1 5l4 24l1 5l2 12l1 5l2 12l1 5l1 6l1 5l1 6l1 5l2 8l1 5l1 4l1 5l1 4l2 10l1 4l3 15l2 8l1 5l4 16l6 18m2 4l1 3m18 25h1m8 8h1m1 1h2m1 1h4m1 1h2m1 1h18m1-1h5m1-1h4m1-1h4m1-1h3m1-1h8m1-1h7m1-1h10m1-1h6m1 1h1m1-1h9m1-1h1m1 1h30m1 1h1m1-1h5m1 1h2m1 1h6m1 1h4m1 1h2m1 1h2m1 1h2m1 1h3m1 1h4m1 1h2m1 1h3m1 1h2m1 1h5m1 1h2m1 1h2m1 1h3m1 1h2m1 1h3m1 1h2m1 1h4m1 1h4m1 1h3m1 1h5m1 1h4m1 1h3m1 1h4m1 1h3m1 1h6m1 1h2m1 1h3m1 1h3m1 1h2m1 1h5m1 1h1m1 1h5m1 1h7m1 1h2m1 1h2m2 0h4m1 1h3m1 1h8m1 1h9m1 1h2m1 1h12m1 1h13m1 1h18m1 1h3m2 0h11m1 1h12m1 1h1m1-1h4m1 1h33"/>
<path class="c cw" d="M155 513l1 2m1 3l3 6m58-7l1-2m6-5l1-2m4-4l1-2m13-12l1-2m1-1l1-2m1-1l1-2m1-1l2-4m3-3l1-2m2-2l1-2m1-1l7-14m1-3l2-4m1-1l6-12m1-1l1-2m1-3l4-8m23-74l1-2m35-125l2-4m11-34l1-2m1-3l1-2m1-3l1-2m1-3l2-4m1-3l7-14m3-3l2-4m23-9l3 6m2 2l1 2m5 10l3 6m5 15l1 2m97 446l2 4m1 3l2 4m1 1l2 4m1 1l1 2m1 1l1 2m3 3l1 2"/>
<path class="c bw" d="M160 524l7 7m1 0l1 1m1 0l1 1m1 0l1 1m9 0l1-1m3 0l1-1m2 0l1 1l1-1m2 0l1-1m2 0l1-1m1 0l1-1m1 0l2-2m1 0l2-2m1 0l1-1m1 0l2-2m1 0l3-3m1 0l1-1m1 0l1-1m1-2l2-2m1 0l3-3m1-2l4-4m1-2l1-1m1 0l11-11m1-2l1-1m1-2l1-1m1-2l1-1m2-4l3-3m1-2l2-2m1-2l1-1m10-21l1-1m6-12l1-1m94-288l3-3m2-4l11-11m1 0l1-1m4 0l1-1l1 1m7 9l2 2m1 2l3 3m113 487l1 1m2 4l1 1m1 2l1 1m1 2l3 3m1 2l5 5m1 0l8 8m1 0l1 1m2 0l1 1m4 0l1 1m2 0l1 1m18 0l1-1m5 0l1-1m4 0l1-1m4 0l1-1m3 0l1-1m8 0l1-1m7 0l1-1m10 0l1-1m6 0l1 1m1 0l1-1m9 0l1-1m1 0l1 1m30 0l1 1m1 0l1-1m5 0l1 1m2 0l1 1m6 0l1 1m4 0l1 1m2 0l1 1m2 0l1 1m2 0l1 1m3 0l1 1m4 0l1 1m2 0l1 1m3 0l1 1m2 0l1 1m5 0l1 1m2 0l1 1m2 0l1 1m3 0l1 1m2 0l1 1m3 0l1 1m2 0l1 1m4 0l1 1m4 0l1 1m3 0l1 1m5 0l1 1m4 0l1 1m3 0l1 1m4 0l1 1m3 0l1 1m6 0l1 1m2 0l1 1m3 0l1 1m3 0l1 1m2 0l1 1m5 0l1 1m1 0l1 1m5 0l1 1m7 0l1 1m2 0l1 1m2 0l1 1l1-1m4 0l1 1m3 0l1 1m8 0l1 1m9 0l1 1m2 0l1 1m12 0l1 1m13 0l1 1m18 0l1 1m3 0l1-1l1 1m11 0l1 1m12 0l1 1m1 0l1-1m4 0l1 1"/>
<path class="f aw" d="M114 320l2 10l1 4l3 15l1 4l1 5l1 4l1 6l2 10l2 12l5 25l1 4l8 40l1 4l1 5l1 4l1 5l5 20l1 5l1 3l1 4l3 9m10 13h2m1 1h1m1 1h1m1 1h10m1-1h5m1-1h2m1-1h2m2-2h2m1-1h1m2-2h1m2-2h1m2-2h1m2-2h1m4-4h1m17-19h1m2-2h1m29-46l1-3m10-18l1-3m4-8l3-9l1-4l8-24l1-4l4-12l1-4l1-3l1-4l4-12m1-2l1-3l1-4l1-3l1-4l1-3l1-4l2-6l1-4l3-9l12-48l2-6l3-12l1-3l1-4l1-3m1-2l1-3m1-2l13-39m1-2l1-3m3-6l1-3m18-28h1m4-5h1m1-1h1m1-1h8m1 2l1 4m8 11l1 4m2 4l1 3m2 4l2 6m1 2l3 9l1 4l2 6l2 8l1 3l2 8l1 3l1 4l1 3l2 8l1 3l1 4l1 3l1 4l1 3l3 12l4 20l1 4l3 15l1 4l7 35l1 4l4 20l1 6l1 5l1 6l2 10l1 6l1 5l1 6l1 5l1 6l1 5l2 12l1 5l2 12l1 5l3 18l1 5l3 18l1 5l1 6l3 15l2 8l1 5l1 4l2 10l2 8l4 20l1 4l1 5l4 16l2 6l1 4l3 9m2 4l1 3m22 30h1m3 3h1m1 1h1m2 2h1m1 1h2m1 1h4m1 1h16m1-1h7m1-1h3m1-1h5m1-1h2m1-1h5m1-1h6m1-1h2m1 1h1m1-1h8m1-1h5m1 1h2m1-1h21m1-1h4m1 1h1m1-1h7m1 1h9m1 1h2m1-1h1m1 1h5m1 1h4m1 1h3m1 1h2m1 1h3m1 1h4m1 1h2m1 1h2m1 1h4m1 1h4m1 1h2m1 1h2m1 1h3m1 1h2m1 1h3m1 1h3m1 1h1m1 1h5m1 1h2m1 1h4m1 1h4m1 1h4m1 1h1m1 1h7m1 1h5m1 1h2m1 1h4m1 1h3m1 1h3m1 1h2m1 1h3m1 1h3m1 1h4m1 1h2m1 1h5m1 1h5m1 1h3m1 1h7m1 1h9m1 1h7m1 1h5m2 0h3m1 1h5m1 1h2m1-1h2m1 1h6m2 0h1m1 1h12m1 1h3m2 0h10m2 0h3m1 1h2m1-1h1m1 1h3m1 1h1m1-1h5m1 1h2m1-1h8m1 1h18m1 1h2m1-1h4"/>
<path class="f cw" d="M157 518l3 6m60-9l1-2m10-10l1-2m8-6l1-2m4-4l1-2m1-1l2-4m1-1l1-2m2-2l1-2m2-2l1-2m1-1l1-2m1-1l9-18m1-3l4-8m1-1l1-2m1-1l3-6m1-3l4-8m24-76l1-2m32-116l1-2m1-3l1-2m13-39l1-2m1-3l3-6m1-3l6-12m1-1l2-4m1-1l1-2m1-1l1-2m7-6l1-2m14-4l1 2m2 5l2 4m3 3l1 2m2 5l2 4m1 3l2 4m2 6l1 2m98 447l2 4m1 3l3 6m1 1l1 2m1 1l2 4m3 3l2 4"/>
<path class="f bw" d="M160 524l7 7m2 0l1 1m1 0l1 1m1 0l1 1m10 0l1-1m5 0l1-1m2 0l1-1m2 0l2-2m2 0l1-1m1 0l2-2m1 0l2-2m1 0l2-2m1 0l2-2m1 0l4-4m1 0l1-1m1-2l10-10m1-2l4-4m1 0l2-2m2-2l4-4m1-2l1-1m2-4l1-1m1-2l2-2m1-2l2-2m1-2l1-1m1-2l1-1m14-29l1-1m1-2l1-1m93-283l1-1m2-4l1-1m1-2l1-1m1-2l5-5m1 0l1-1m1-2l2-2m1 0l1-1m1 0l1-1m10 6l1 1m2 4l3 3m1 2l1 1m113 483l1 1m1 2l1 1m2 4l3 3m2 4l9 9m1 0l3 3m1 0l1 1m1 0l2 2m1 0l1 1m2 0l1 1m4 0l1 1m16 0l1-1m7 0l1-1m3 0l1-1m5 0l1-1m2 0l1-1m5 0l1-1m6 0l1-1m2 0l1 1m1 0l1-1m8 0l1-1m5 0l1 1m2 0l1-1m21 0l1-1m4 0l1 1m1 0l1-1m7 0l1 1m9 0l1 1m2 0l1-1m1 0l1 1m5 0l1 1m4 0l1 1m3 0l1 1m2 0l1 1m3 0l1 1m4 0l1 1m2 0l1 1m2 0l1 1m4 0l1 1m4 0l1 1m2 0l1 1m2 0l1 1m3 0l1 1m2 0l1 1m3 0l1 1m3 0l1 1m1 0l1 1m5 0l1 1m2 0l1 1m4 0l1 1m4 0l1 1m4 0l1 1m1 0l1 1m7 0l1 1m5 0l1 1m2 0l1 1m4 0l1 1m3 0l1 1m3 0l1 1m2 0l1 1m3 0l1 1m3 0l1 1m4 0l1 1m2 0l1 1m5 0l1 1m5 0l1 1m3 0l1 1m7 0l1 1m9 0l1 1m7 0l1 1m5 0l1 1l1-1m3 0l1 1m5 0l1 1m2 0l1-1m2 0l1 1m6 0l1 1l1-1m1 0l1 1m12 0l1 1m3 0l1 1l1-1m10 0l1 1l1-1m3 0l1 1m2 0l1-1m1 0l1 1m3 0l1 1m1 0l1-1m5 0l1 1m2 0l1-1m8 0l1 1m18 0l1 1m2 0l1-1"/>
<path class="l aw" d="M114 322l2 8l1 5l1 4l1 5l2 8l3 15l2 12l1 5l1 6l5 25l1 4l8 40l1 4l1 5l1 4l1 5l5 20l1 5l1 4l1 3l1 4l1 3m1 2l1 3m4 6h1m3 3h1m2 2h1m1 1h2m1 1h1m1 1h1m1-1h7m1-1h3m1-1h2m1-1h2m1-1h2m1-1h1m1-1h1m2-2h1m1-1h1m2-2h1m3-3h1m1-1h1m5-6h1m13-15h1m35-53l1-3m9-15l1-3m2-4l11-33l1-4l6-18l2-8l10-30l1-4l1-3l1-4l3-9l1-4l1-3l4-16l1-3l2-8l1-5l1-4l2-6l3-12l1-3l2-8l1-3l1-4l2-6m2-4l1-3m1-2l1-3l1-4l1-3l1-4l3-9m1-2l1-3m1-2l1-3m2-4l1-3m1-2l1-3m24-35h1m1-1h1m1-1h3m2 0h1m1 1h1m1 2l1 4m8 11l1 3m3 6l1 3m1 2l5 15m1 2l1 4l1 3l1 4l1 3l1 4l1 3l2 8l1 3l1 4l1 3l2 8l1 3l1 4l1 3l1 4l1 3l3 12l1 5l1 4l2 10l1 4l6 30l1 4l9 45l1 6l6 30l1 6l1 5l3 18l1 5l2 12l1 5l2 12l1 5l1 6l1 5l2 12l1 5l1 6l1 5l1 6l3 15l1 4l1 5l3 12l2 10l1 4l2 10l1 4l1 5l3 12l1 5l1 3l1 4l5 15m1 2l1 3m20 30h1m3 3h1m2 2h1m2 2h1m1 1h1m1 1h2m1 1h3m1 1h18m1-1h5m1-1h4m1-1h4m1-1h3m1-1h5m1-1h7m1-1h7m1-1h6m1 1h6m1-1h5m1-1h8m1 1h3m1-1h16m1 1h16m1 1h8m1 1h2m1 1h2m1 1h3m1 1h1m1 1h3m1 1h3m1 1h2m1 1h4m1 1h3m1 1h3m1 1h2m1 1h4m1 1h3m1 1h1m1 1h2m1 1h2m1 1h4m1 1h4m1 1h4m1 1h3m1 1h4m1 1h3m1 1h2m1 1h5m1 1h5m1 1h5m1 1h3m1 1h2m1 1h3m1 1h3m1 1h2m1 1h1m1 1h5m1 1h5m1 1h7m1 1h1m1 1h7m1 1h9m2 0h2m1 1h2m1 1h6m1 1h1m1-1h4m1 1h6m1 1h10m1 1h11m1 1h26m1 1h16m1 1h4m1-1h3m1 1h26"/>
<path class="l cw" d="M156 516l1 2m1 3l1 2m1 1l1 2m57-9l1-2m3-2l1-2m6-6l1-2m14-13l1-2m1-1l2-4m2-2l1-2m1-1l1-2m4-4l4-8m1-1l9-18m2-4l3-6m1-1l1-2m1-1l2-4m1-3l2-4m59-198l2-4m1-3l1-2m7-23l1-2m1-3l1-2m1-3l2-4m1-3l1-2m1-3l7-14m1-1l1-2m1-1l1-2m2-2l1-2m2-2l1-2m19-8l1 2m4 7l1 2m1 1l1 2m1 1l1 2m1 3l3 6m1 3l1 2m5 15l1 2m95 435l1 2m1 3l6 12m2 2l1 2m1 1l1 2m2 2l1 2m3 3l1 2"/>
<path class="l bw" d="M159 523l1 1m1 2l1 1m1 0l3 3m1 0l2 2m1 0l1 1m2 0l1 1m1 0l1 1m1 0l1-1m7 0l1-1m3 0l1-1m2 0l1-1m2 0l1-1m2 0l1-1m1 0l1-1m1 0l2-2m1 0l1-1m1 0l2-2m1 0l3-3m1 0l1-1m1 0l2-2m1-2l2-2m2-2l6-6m1-2l5-5m1 0l8-8m1-2l1-1m2-4l2-2m1-2l1-1m1-2l4-4m4-8l1-1m10-21l1-1m3-6l1-1m1-2l1-1m91-277l1-1m1-2l1-1m1-2l2-2m1-2l2-2m1-2l7-7m1 0l1-1m1 0l1-1m3 0l1-1l1 1m1 0l1 1m3 6l3 3m1 2l1 1m1 2l1 1m116 485l2 2m1 2l1 1m1 2l2 2m1 2l3 3m1 2l2 2m1 0l3 3m1 0l2 2m1 0l2 2m1 0l1 1m1 0l1 1m2 0l1 1m3 0l1 1m18 0l1-1m5 0l1-1m4 0l1-1m4 0l1-1m3 0l1-1m5 0l1-1m7 0l1-1m7 0l1-1m6 0l1 1m6 0l1-1m5 0l1-1m8 0l1 1m3 0l1-1m16 0l1 1m16 0l1 1m8 0l1 1m2 0l1 1m2 0l1 1m3 0l1 1m1 0l1 1m3 0l1 1m3 0l1 1m2 0l1 1m4 0l1 1m3 0l1 1m3 0l1 1m2 0l1 1m4 0l1 1m3 0l1 1m1 0l1 1m2 0l1 1m2 0l1 1m4 0l1 1m4 0l1 1m4 0l1 1m3 0l1 1m4 0l1 1m3 0l1 1m2 0l1 1m5 0l1 1m5 0l1 1m5 0l1 1m3 0l1 1m2 0l1 1m3 0l1 1m3 0l1 1m2 0l1 1m1 0l1 1m5 0l1 1m5 0l1 1m7 0l1 1m1 0l1 1m7 0l1 1m9 0l1 1l1-1m2 0l1 1m2 0l1 1m6 0l1 1m1 0l1-1m4 0l1 1m6 0l1 1m10 0l1 1m11 0l1 1m26 0l1 1m16 0l1 1m4 0l1-1m3 0l1 1"/>
<path class="s aw" d="M114 321l1 4l1 5l1 4l3 15l2 8l2 10l1 6l1 5l3 18l1 4l10 50l1 4l1 5l2 8l1 5l2 8l1 5l7 28m1 2l1 3m7 11h1m2 2h1m1 1h1m1 1h1m1 1h1m1 1h7m1-1h3m1-1h1m1-1h4m1-1h2m1-1h1m1-1h1m1-1h1m2-2h1m2-2h1m2-2h1m2-2h1m21-22h1m31-44l1-3m15-28l2-6m1-2l1-3l1-4l14-42l1-4l1-3l1-4l4-12m1-2l2-6l1-4l3-9l1-4l2-6l1-4l2-6l9-36l1-3l2-8l1-3l1-4l1-3l1-4l1-3l1-4l3-9m1-2l3-9m1-2l1-3l1-4l4-12m1-2l2-6m2-4l1-3m2-4l1-3m19-30h1m3-3h1m2-2h1m1-1h1m1-1h3m1 1h1m2 3l1 3m8 11l1 3m1 2l1 3m3 6l7 21l1 4l2 6l1 4l1 3l3 12l1 3l1 4l1 3l1 4l1 3l1 4l1 3l2 8l1 3l2 8l1 5l1 4l3 15l1 4l2 10l1 4l4 20l1 4l8 40l1 6l3 15l1 6l1 5l1 6l2 10l1 6l1 5l2 12l1 5l2 12l1 5l1 6l1 5l1 6l1 5l2 12l1 5l1 6l2 10l1 4l1 5l1 4l1 5l1 4l1 5l1 4l1 5l1 4l3 15l2 8l1 5l4 16l1 3l1 4l3 9m1 2l2 6m21 30h1m4 4h1m1 1h1m2 2h1m1 1h3m1 1h2m1 1h11m1 1h1m1-1h4m1-1h5m1-1h6m1-1h3m1-1h3m1-1h5m1-1h3m1-1h11m2 0h4m1-1h12m1-1h3m1 1h2m1-1h11m2 0h7m1 1h1m1-1h6m1 1h7m1 1h1m1-1h4m1 1h2m1 1h1m1 1h5m1 1h3m1 1h3m1 1h2m1 1h4m1 1h2m1 1h2m1 1h4m1 1h2m1 1h2m1 1h4m1 1h3m1 1h2m1 1h3m1 1h3m1 1h2m1 1h3m1 1h1m1 1h7m1 1h2m1 1h6m1 1h2m1 1h4m1 1h5m1 1h3m1 1h3m1 1h3m1 1h3m1 1h1m1 1h4m1 1h6m1 1h1m1 1h6m1 1h3m1 1h7m1 1h4m1 1h8m1 1h4m1 1h1m1-1h2m1 1h7m1 1h7m1 1h13m1 1h7m1 1h3m1-1h1m1 1h6m2 0h10m1 1h11m1 1h5m1-1h6m1 1h5m1-1h2m1 1h23"/>
<path class="s cw" d="M155 513l1 2m1 3l2 4m1 1l1 2m1 1l1 2m70-27l1-2m10-9l1-2m1-1l1-2m1-1l1-2m1-1l1-2m4-4l1-2m1-1l2-4m1-1l2-4m1-1l4-8m1-3l5-10m1-1l5-10m1-1l3-6m2-6l1-2m23-72l1-2m33-116l1-2m3-9l1-2m6-19l1-2m2-6l2-4m1-3l2-4m1-3l6-12m1-1l3-6m1-1l1-2m4-4l1-2m19-7l1 2m2 4l1 2m1 1l1 2m3 3l1 2m1 3l1 2m1 3l3 6m100 447l1 2m2 6l1 2m1 1l4 8m1 1l1 2m1 1l1 2m2 2l1 2m6 6l1 2"/>
<path class="s bw" d="M159 522l1 1m1 2l1 1m1 2l1 1m1 0l2 2m1 0l1 1m1 0l1 1m1 0l1 1m1 0l1 1m7 0l1-1m3 0l1-1m1 0l1-1m4 0l1-1m2 0l1-1m1 0l1-1m1 0l1-1m1 0l2-2m1 0l2-2m1 0l2-2m1 0l2-2m1 0l19-19m1-2l1-1m1 0l8-8m1-2l1-1m1-2l1-1m1-2l1-1m1-2l4-4m1-2l1-1m2-4l1-1m2-4l1-1m10-21l1-1m5-10l1-1m89-270l1-1m3-6l1-1m1-2l4-4m1-2l2-2m1 0l3-3m1 0l2-2m1 0l1-1m1 0l1-1m3 0l1 1m1 0l1 1m2 5l1 1m1 2l1 1m1 2l3 3m111 473l1 1m4 8l1 1m1 2l1 1m1 2l2 2m1 2l6 6m1 2l1 1m1 0l4 4m1 0l1 1m1 0l2 2m1 0l1 1m3 0l1 1m2 0l1 1m11 0l1 1m1 0l1-1m4 0l1-1m5 0l1-1m6 0l1-1m3 0l1-1m3 0l1-1m5 0l1-1m3 0l1-1m11 0l1-1l1 1m4 0l1-1m12 0l1-1m3 0l1 1m2 0l1-1m11 0l1-1l1 1m7 0l1 1m1 0l1-1m6 0l1 1m7 0l1 1m1 0l1-1m4 0l1 1m2 0l1 1m1 0l1 1m5 0l1 1m3 0l1 1m3 0l1 1m2 0l1 1m4 0l1 1m2 0l1 1m2 0l1 1m4 0l1 1m2 0l1 1m2 0l1 1m4 0l1 1m3 0l1 1m2 0l1 1m3 0l1 1m3 0l1 1m2 0l1 1m3 0l1 1m1 0l1 1m7 0l1 1m2 0l1 1m6 0l1 1m2 0l1 1m4 0l1 1m5 0l1 1m3 0l1 1m3 0l1 1m3 0l1 1m3 0l1 1m1 0l1 1m4 0l1 1m6 0l1 1m1 0l1 1m6 0l1 1m3 0l1 1m7 0l1 1m4 0l1 1m8 0l1 1m4 0l1 1m1 0l1-1m2 0l1 1m7 0l1 1m7 0l1 1m13 0l1 1m7 0l1 1m3 0l1-1m1 0l1 1m6 0l1 1l1-1m10 0l1 1m11 0l1 1m5 0l1-1m6 0l1 1m5 0l1-1m2 0l1 1"/>
<path class="t aw" d="M114 321l1 5l1 4l1 5l1 4l2 10l1 4l5 25l2 12l8 40l1 4l6 30l2 8l1 5l9 36m1 2l2 6m3 5h1m6 6h2m1 1h1m1 1h1m1 1h4m1-1h5m1-1h3m1-1h3m1-1h2m1-1h1m1-1h1m1-1h1m1-1h1m3-3h1m1-1h1m2-2h1m8-8h1m15-17h1m46-75l17-51l1-4l1-3l1-4l2-6l1-4m1-2l1-3m1-2l3-9l1-4l1-3l1-4l3-9l1-4l2-6l2-8l1-3l3-12l1-5l2-8l2-6l1-4l1-3l1-4l1-3l2-8l4-12m2-4l5-15l1-4m1-2l3-9m1-2l1-3m1-2l1-3m1-2l1-3m2-4l1-3m21-29h1m3-3h2m1-1h6m2 3l1 3m8 11l1 4m4 8l1 3m1 2l8 24l3 12l1 3l1 4l1 3l1 4l1 3l2 8l2 6l2 8l1 3l4 16l1 5l1 4l3 15l1 4l3 15l1 4l2 10l1 6l1 5l1 4l1 5l1 4l6 30l1 6l1 5l1 6l2 10l1 6l1 5l2 12l2 10l1 6l1 5l2 12l1 5l1 6l2 10l2 12l1 5l1 6l3 15l2 8l1 5l2 8l2 10l1 4l2 10l1 4l1 5l1 4l1 5l3 12l1 3l1 4l5 15m1 2l1 3m18 27h1m7 7h1m1 1h1m2 2h1m1 1h2m1 1h3m1 1h3m1 1h2m1-1h12m1-1h4m1-1h4m1-1h5m1-1h2m1-1h6m1-1h3m1-1h12m1-1h18m1-1h31m1 1h1m1-1h3m1 1h11m1 1h4m1 1h2m1 1h4m1 1h2m1 1h1m1 1h4m1 1h5m1 1h2m1 1h3m1 1h3m1 1h1m1 1h4m1 1h3m1 1h2m1 1h3m1 1h2m1 1h4m2 2h5m1 1h3m1 1h3m1 1h2m1 1h5m1 1h3m1 1h1m1-1h2m2 2h5m1 1h2m1 1h6m1 1h1m1 1h3m1 1h5m1 1h1m1 1h3m1 1h7m1 1h1m1 1h6m1 1h5m1 1h3m1 1h1m1-1h2m1 1h5m1 1h6m1 1h10m1 1h9m1 1h9m1 1h13m1 1h23m1 1h17m1 1h12m1-1h2m1 1h7m1 1h2m1-1h2m2 0h4"/>
<path class="t cw" d="M155 513l1 2m3 7l2 4m61-13l1-2m7-7l1-2m14-13l1-2m1-1l1-2m1-1l2-4m1-1l1-2m4-4l3-6m1-1l13-26m1-1l1-2m1-1l7-14m23-72l1-2m1-3l1-2m33-115l2-4m6-19l1-2m3-9l1-2m1-3l1-2m1-3l1-2m1-3l2-4m1-3l2-4m1-1l4-8m2-2l1-2m1-1l1-2m23-12l1 2m1 3l1 2m1 1l1 2m2 2l1 2m3 6l4 8m1 3l1 2m100 444l1 2m1 3l4 8m1 1l3 6m1 1l1 2m3 3l1 2"/>
<path class="t bw" d="M158 521l1 1m3 4l6 6m2 0l1 1m1 0l1 1m1 0l1 1m4 0l1-1m5 0l1-1m3 0l1-1m3 0l1-1m2 0l1-1m1 0l1-1m1 0l1-1m1 0l1-1m1 0l3-3m1 0l1-1m1 0l2-2m1 0l8-8m2-2l7-7m1-2l6-6m1 0l7-7m1-2l1-1m1-2l1-1m2-4l1-1m1-2l4-4m3-6l1-1m13-26l1-1m1-2l1-1m89-268l1-1m4-8l2-2m1-2l1-1m1-2l9-9m1 0l3-3m2 0l1-1m6 0l1 1m3 7l1 1m1 2l2 2m1 2l2 2m113 474l1 1m3 6l1 1m1 2l3 3m1 2l4 4m1 0l7 7m1 0l1 1m1 0l2 2m1 0l1 1m2 0l1 1m3 0l1 1m3 0l1 1m2 0l1-1m12 0l1-1m4 0l1-1m4 0l1-1m5 0l1-1m2 0l1-1m6 0l1-1m3 0l1-1m12 0l1-1m18 0l1-1m31 0l1 1m1 0l1-1m3 0l1 1m11 0l1 1m4 0l1 1m2 0l1 1m4 0l1 1m2 0l1 1m1 0l1 1m4 0l1 1m5 0l1 1m2 0l1 1m3 0l1 1m3 0l1 1m1 0l1 1m4 0l1 1m3 0l1 1m2 0l1 1m3 0l1 1m2 0l1 1m4 0l2 2m5 0l1 1m3 0l1 1m3 0l1 1m2 0l1 1m5 0l1 1m3 0l1 1m1 0l1-1m2 0l2 2m5 0l1 1m2 0l1 1m6 0l1 1m1 0l1 1m3 0l1 1m5 0l1 1m1 0l1 1m3 0l1 1m7 0l1 1m1 0l1 1m6 0l1 1m5 0l1 1m3 0l1 1m1 0l1-1m2 0l1 1m5 0l1 1m6 0l1 1m10 0l1 1m9 0l1 1m9 0l1 1m13 0l1 1m23 0l1 1m17 0l1 1m12 0l1-1m2 0l1 1m7 0l1 1m2 0l1-1m2 0l1 1l1-1"/>
<path class="n aw" d="M114 322l1 4l1 5l2 8l2 10l2 8l1 5l1 6l1 5l3 18l2 10l1 4l2 10l1 4l2 10l1 6l1 5l1 4l3 15l1 4l1 5l2 8l1 5l2 8l1 5l2 8l3 9l1 4l2 6m5 7h1m2 2h1m3 3h1m2 2h8m1-1h4m1-1h4m1-1h1m1-1h2m1-1h2m1-1h1m2-2h1m4-4h1m1-1h1m1-1h1m22-23h1m31-44l1-3m16-30l7-21m1-2l10-30l1-4l1-3l1-4l3-9m1-2l4-12l1-4l3-9l1-4l4-12l6-24l1-3l3-12l1-3l1-4l1-3l1-4l1-3l1-4l1-3l1-4l3-9m3-6l2-6l1-4l5-15m1-2l2-6m2-4l1-3m26-39h1m1-1h1m1-1h8m2 3l1 3m3 5h1m4 5l1 4m3 6l1 3m1 2l8 24l1 4l2 6l1 4l1 3l2 8l1 3l1 4l1 3l1 4l2 6l2 8l1 3l2 8l1 3l2 10l1 4l2 10l1 4l2 10l1 4l6 30l1 4l1 5l1 4l3 15l1 6l2 10l1 6l3 15l1 6l2 10l1 6l1 5l1 6l2 10l1 6l1 5l1 6l1 5l1 6l1 5l1 6l1 5l2 12l4 20l1 4l1 5l1 4l1 5l2 8l1 5l1 4l1 5l1 4l1 5l1 4l1 5l3 12l1 5l2 6l1 4l4 12m24 35h1m3 3h1m2 2h1m1 1h2m1 1h2m1 1h2m1 1h21m1-1h3m1-1h5m1-1h2m1-1h4m1-1h4m1-1h3m1-1h8m1-1h18m1-1h1m1 1h5m1-1h14m1-1h1m1 1h14m1 1h2m1-1h3m1 1h9m1 1h2m1 1h2m1 1h3m1 1h3m1 1h3m1 1h4m1 1h2m1 1h4m1 1h3m1 1h1m1 1h5m1 1h1m1 1h2m1 1h3m1 1h3m1 1h1m1 1h5m1 1h1m1 1h6m1 1h3m1 1h3m1 1h3m1 1h5m1 1h2m1 1h5m1 1h3m1 1h4m1 1h4m1 1h2m1 1h3m1 1h2m1 1h2m1 1h3m1 1h3m1 1h7m1 1h5m1 1h5m1 1h6m1 1h11m1 1h3m1 1h6m1 1h10m1 1h12m1 1h11m1 1h24m1 1h16m2 0h1m1 1h33"/>
<path class="n cw" d="M159 522l2 4m72-25l1-2m10-9l1-2m2-2l1-2m1-1l2-4m2-2l1-2m4-4l3-6m1-1l5-10m1-3l4-8m1-1l1-2m1-1l9-18m7-21l1-2m16-50l1-2m34-117l3-6m8-25l1-2m2-6l2-4m1-3l10-20m1-1l2-4m2-2l1-2m23-11l1 2m1 3l1 2m1 1l1 2m3 2l1 2m2 5l3 6m1 3l1 2m101 444l7 14m1 1l2 4m1 1l1 2m2 2l1 2"/>
<path class="n bw" d="M158 521l1 1m2 4l2 2m1 0l2 2m1 0l3 3m1 0l2 2m8 0l1-1m4 0l1-1m4 0l1-1m1 0l1-1m2 0l1-1m2 0l1-1m1 0l2-2m1 0l4-4m1 0l1-1m1 0l1-1m1 0l20-20m1-2l1-1m1 0l8-8m1-2l2-2m1-2l1-1m2-4l2-2m1-2l4-4m3-6l1-1m10-21l1-1m1-2l1-1m95-276l1-1m2-4l2-2m1-2l10-10m1 0l1-1m1 0l1-1m8 0l1 1m3 7l1 1m2 2l2 2m1 2l1 1m114 473l1 1m2 4l1 1m1 2l2 2m1 2l9 9m1 0l3 3m1 0l2 2m1 0l1 1m2 0l1 1m2 0l1 1m2 0l1 1m21 0l1-1m3 0l1-1m5 0l1-1m2 0l1-1m4 0l1-1m4 0l1-1m3 0l1-1m8 0l1-1m18 0l1-1m1 0l1 1m5 0l1-1m14 0l1-1m1 0l1 1m14 0l1 1m2 0l1-1m3 0l1 1m9 0l1 1m2 0l1 1m2 0l1 1m3 0l1 1m3 0l1 1m3 0l1 1m4 0l1 1m2 0l1 1m4 0l1 1m3 0l1 1m1 0l1 1m5 0l1 1m1 0l1 1m2 0l1 1m3 0l1 1m3 0l1 1m1 0l1 1m5 0l1 1m1 0l1 1m6 0l1 1m3 0l1 1m3 0l1 1m3 0l1 1m5 0l1 1m2 0l1 1m5 0l1 1m3 0l1 1m4 0l1 1m4 0l1 1m2 0l1 1m3 0l1 1m2 0l1 1m2 0l1 1m3 0l1 1m3 0l1 1m7 0l1 1m5 0l1 1m5 0l1 1m6 0l1 1m11 0l1 1m3 0l1 1m6 0l1 1m10 0l1 1m12 0l1 1m11 0l1 1m24 0l1 1m16 0l1 1l1-1m1 0l1 1"/>
<path class="o aw" d="M114 321l1 5l1 4l2 10l1 4l1 5l1 4l1 5l1 4l1 6l1 5l1 6l1 5l2 12l1 5l1 4l6 30l1 4l5 25l2 8l1 5l2 8l1 5l3 12l1 3l1 4l4 12m9 11h2m1 1h1m1 1h3m1 1h6m1-1h4m1-1h2m1-1h2m1-1h2m1-1h2m2-2h1m2-2h1m2-2h1m3-3h2m2-2h1m21-23h1m32-48l1-3m13-23l19-57l1-4l4-12m1-2l3-9l1-4l6-18l1-4l1-3l1-4l1-3l1-4l1-3l2-8l1-3l1-5l2-8l2-6l1-4l2-6l2-8l1-3l1-4l3-9m2-3l9-27m1-2l1-3m1-2l1-3m1-2l1-3m18-31h1m6-7h1m2-2h1m1-1h8m1 1l1 3m9 13l1 4m5 10l8 24l1 4l2 6l1 4l1 3l2 8l2 6l1 4l1 3l2 8l1 3l1 4l1 3l4 16l2 10l1 4l1 5l1 4l1 5l1 4l5 25l1 4l2 10l1 4l8 40l1 4l1 6l1 5l1 6l1 5l2 12l2 10l1 6l1 5l1 6l1 5l1 6l1 5l1 6l1 5l1 6l1 5l1 6l1 5l1 6l2 10l1 4l1 5l3 12l1 5l2 8l1 5l1 4l2 10l1 4l1 5l5 20l1 3l1 4m1 2l3 9m1 2l1 3m24 32h1m1 1h1m2 2h1m1 1h1m1 1h1m1 1h4m1 1h17m1-1h8m1-1h4m1-1h4m1-1h2m1-1h2m1-1h8m1-1h1m1-1h3m1 1h2m1-1h15m1-1h14m1 1h2m1-1h3m1-1h3m1 1h8m2 0h12m1 1h7m1 1h4m1 1h2m1 1h3m1 1h3m1 1h3m1 1h2m1 1h1m1 1h5m1 1h3m1 1h1m1 1h4m1 1h2m1 1h4m1 1h2m1 1h1m1 1h2m1 1h4m1 1h3m1 1h3m1 1h4m1 1h4m1 1h2m1 1h5m1 1h3m1 1h4m1 1h4m1 1h4m1 1h3m1 1h2m1 1h4m1 1h2m1 1h4m1 1h4m1 1h3m1 1h2m1 1h6m1 1h5m1 1h7m1 1h8m1 1h8m1 1h6m1 1h9m1 1h5m1-1h1m1 1h2m1 1h9m1 1h3m1-1h3m1 1h20m1 1h19m1 1h32"/>
<path class="o cw" d="M159 522l2 4m59-11l1-2m9-9l1-2m13-12l1-2m2-2l1-2m1-1l2-4m2-2l1-2m3-3l1-2m1-1l3-6m1-1l7-14m1-3l2-4m1-1l1-2m1-1l1-2m1-1l6-12m24-73l1-2m34-116l1-2m10-28l1-2m1-3l1-2m1-3l1-2m1-3l9-18m1-1l1-2m1-1l1-2m1-1l1-2m2-2l1-2m3-2l1-2m18-2l2 4m1 1l1 2m3 3l1 2m2 5l5 10m97 430l1 2m3 9l1 2m1 3l3 6m1 1l2 4m1 1l1 2m1 1l1 2m2 2l1 2"/>
<path class="o bw" d="M158 521l1 1m2 4l6 6m2 0l1 1m1 0l1 1m3 0l1 1m6 0l1-1m4 0l1-1m2 0l1-1m2 0l1-1m2 0l1-1m2 0l2-2m1 0l2-2m1 0l2-2m1 0l3-3m2 0l2-2m1 0l4-4m1-2l9-9m1-2l6-6m1 0l6-6m1-2l2-2m1-2l1-1m2-4l2-2m1-2l3-3m1-2l1-1m3-6l1-1m10-21l1-1m1-2l1-1m1-2l1-1m66-205l1-1m24-60l1-1m1-2l1-1m1-2l1-1m1-2l2-2m2-2l2-2m1-2l3-3m1 0l2-2m1 0l1-1m8 0l1 1m3 7l1 1m1 2l3 3m1 2l1 1m112 466l1 1m2 4l1 1m1 2l1 1m1 2l2 2m1 2l11 11m1 0l1 1m1 0l2 2m1 0l1 1m1 0l1 1m1 0l1 1m4 0l1 1m17 0l1-1m8 0l1-1m4 0l1-1m4 0l1-1m2 0l1-1m2 0l1-1m8 0l1-1m1 0l1-1m3 0l1 1m2 0l1-1m15 0l1-1m14 0l1 1m2 0l1-1m3 0l1-1m3 0l1 1m8 0l1-1l1 1m12 0l1 1m7 0l1 1m4 0l1 1m2 0l1 1m3 0l1 1m3 0l1 1m3 0l1 1m2 0l1 1m1 0l1 1m5 0l1 1m3 0l1 1m1 0l1 1m4 0l1 1m2 0l1 1m4 0l1 1m2 0l1 1m1 0l1 1m2 0l1 1m4 0l1 1m3 0l1 1m3 0l1 1m4 0l1 1m4 0l1 1m2 0l1 1m5 0l1 1m3 0l1 1m4 0l1 1m4 0l1 1m4 0l1 1m3 0l1 1m2 0l1 1m4 0l1 1m2 0l1 1m4 0l1 1m4 0l1 1m3 0l1 1m2 0l1 1m6 0l1 1m5 0l1 1m7 0l1 1m8 0l1 1m8 0l1 1m6 0l1 1m9 0l1 1m5 0l1-1m1 0l1 1m2 0l1 1m9 0l1 1m3 0l1-1m3 0l1 1m20 0l1 1m19 0l1 1"/>
<path class="g aw" d="M114 322l2 8l1 5l1 4l2 10l1 4l1 5l1 4l1 6l1 5l2 12l1 5l1 6l1 5l1 4l6 30l1 4l4 20l1 4l1 5l1 4l1 5l5 20l1 5l1 3l2 8m1 2l1 3m11 14h1m1 1h1m1 1h1m1 1h3m2 0h2m1-1h6m1-1h2m2-2h3m1-1h1m1-1h1m1-1h1m1-1h1m3-3h1m3-3h1m2-2h1m22-23h1m1-1h1m44-73l2-6m1-2l17-51l1-4l3-9m1-2l5-15l1-4l6-18l1-4l1-3l4-16l1-3l1-4l1-3l2-8l1-3l2-8l1-3l1-4l3-9l1-4l1-3m3-6l5-15m1-2l3-9m1-2l2-6m2-4l1-3m20-33h1m5-5h1m1-1h2m1-1h2m1-1h2m1 1h1m2 3l1 3m8 11l1 3m3 6l1 3m1 2l4 12m1 2l1 3l1 4l2 6l1 4l2 6l1 4l1 3l1 4l1 3l1 4l1 3l1 4l1 3l1 4l1 3l1 4l1 3l2 8l1 3l1 5l1 4l1 5l1 4l2 10l1 4l1 5l1 4l6 30l2 8l10 50l1 6l2 10l1 6l1 5l1 6l1 5l1 6l3 15l2 12l1 5l1 6l2 10l1 6l1 5l1 6l2 10l1 4l2 10l5 20l1 5l1 4l1 5l1 4l1 5l6 24l1 3l1 4l3 9m1 2l1 3m23 32h1m5 5h1m1 1h1m1 1h2m1 1h4m1 1h21m1-1h2m1-1h4m1-1h2m1-1h5m1-1h6m1-1h2m1-1h7m2 0h3m1-1h7m1-1h18m2 0h9m1-1h2m1 1h21m1 1h9m1 1h4m1 1h1m1 1h2m1 1h4m1 1h2m1 1h4m1 1h2m1 1h3m1 1h4m1 1h1m1 1h4m1 1h3m1 1h1m1 1h2m1 1h3m1 1h3m1 1h1m1 1h2m1 1h5m1 1h4m1 1h5m1 1h2m1 1h4m1 1h3m1 1h5m1 1h4m1 1h3m1 1h2m1 1h2m1 1h5m1 1h2m1 1h2m1 1h5m1 1h5m1 1h6m1 1h3m1 1h3m1 1h5m1 1h1m2 0h4m1 1h2m2 0h8m1 1h2m1 1h10m1 1h14m1 1h13m1 1h1m1-1h1m1 1h16m1 1h10m1 1h1m1-1h4m1 1h21m2 0h4m1-1h1m1 1h6"/>
<path class="g cw" d="M155 513l1 2m1 3l2 4m1 1l1 2m72-24l1-2m9-7l1-2m1-1l1-2m1-1l1-2m1-1l1-2m1-1l1-2m2-2l1-2m3-3l2-4m1-1l12-24m1-1l1-2m1-1l8-16m2-6l1-2m21-64l1-2m33-112l3-6m5-15l1-2m3-9l1-2m2-6l2-4m1-3l9-18m1-1l2-4m3-3l1-2m3-3l1-2m19-6l1 2m1 3l1 2m2 2l1 2m2 2l1 2m2 4l3 6m1 3l1 2m4 12l1 2m95 421l1 2m1 3l6 12m1 1l1 2m2 2l1 2m2 2l1 2"/>
<path class="g bw" d="M159 522l1 1m1 2l7 7m1 0l1 1m1 0l1 1m1 0l1 1m3 0l1 1l1-1m2 0l1-1m6 0l1-1m2 0l2-2m3 0l1-1m1 0l1-1m1 0l1-1m1 0l1-1m1 0l3-3m1 0l3-3m1 0l2-2m1 0l18-18m1-2l3-3m1 0l1-1m1 0l3-3m1-2l1-1m1-2l1-1m1-2l1-1m1-2l1-1m1-2l2-2m1-2l3-3m2-4l1-1m12-24l1-1m1-2l1-1m93-267l1-1m2-4l3-3m1-2l3-3m2-2l5-5m1 0l1-1m2 0l1-1m2 0l1-1m2 0l1 1m1 0l1 1m3 7l2 2m1 2l2 2m1 2l1 1m114 466l1 1m1 2l2 2m1 2l2 2m1 2l9 9m1 0l5 5m1 0l1 1m1 0l1 1m2 0l1 1m4 0l1 1m21 0l1-1m2 0l1-1m4 0l1-1m2 0l1-1m5 0l1-1m6 0l1-1m2 0l1-1m7 0l1-1l1 1m3 0l1-1m7 0l1-1m18 0l1-1l1 1m9 0l1-1m2 0l1 1m21 0l1 1m9 0l1 1m4 0l1 1m1 0l1 1m2 0l1 1m4 0l1 1m2 0l1 1m4 0l1 1m2 0l1 1m3 0l1 1m4 0l1 1m1 0l1 1m4 0l1 1m3 0l1 1m1 0l1 1m2 0l1 1m3 0l1 1m3 0l1 1m1 0l1 1m2 0l1 1m5 0l1 1m4 0l1 1m5 0l1 1m2 0l1 1m4 0l1 1m3 0l1 1m5 0l1 1m4 0l1 1m3 0l1 1m2 0l1 1m2 0l1 1m5 0l1 1m2 0l1 1m2 0l1 1m5 0l1 1m5 0l1 1m6 0l1 1m3 0l1 1m3 0l1 1m5 0l1 1m1 0l1-1l1 1m4 0l1 1m2 0l1-1l1 1m8 0l1 1m2 0l1 1m10 0l1 1m14 0l1 1m13 0l1 1m1 0l1-1m1 0l1 1m16 0l1 1m10 0l1 1m1 0l1-1m4 0l1 1m21 0l1 1l1-1m4 0l1-1m1 0l1 1"/>
<path class="m aw" d="M114 322l1 4l1 5l1 4l1 5l1 4l2 10l1 4l3 15l3 18l2 10l1 4l6 30l1 4l5 25l1 4l1 5l10 40m1 2l2 6m6 8h1m2 2h1m2 2h1m1 1h1m1 1h2m1 1h1m1-1h2m1-1h8m1-1h1m1-1h3m2-2h1m1-1h1m1-1h1m4-4h1m1-1h1m3-3h1m24-25h1m45-72l10-30m1-2l8-24l1-4l4-12m1-2l3-9m1-2l1-4l1-3l1-4l6-18l1-4l1-3l1-4l1-3l3-12l1-3l2-8l1-3l1-4l1-3l1-4l3-9l1-4l3-9m3-6l8-24m1-2l1-3m2-4l1-3m23-36h1m4-4h1m1-1h1m1-1h3m3 1h2m1 2l1 3m8 11l1 4m4 8l2 6m1 2l7 21l1 4l1 3l1 4l1 3l1 4l2 6l1 4l1 3l1 4l1 3l1 4l1 3l1 4l1 3l6 24l2 10l1 4l3 15l1 4l2 10l1 4l3 15l1 4l1 5l1 4l8 40l1 6l2 10l1 6l1 5l1 6l2 10l1 6l1 5l1 6l2 10l1 6l1 5l1 6l2 10l1 6l2 10l1 4l2 10l1 4l1 5l4 16l1 5l1 4l1 5l1 4l1 5l6 24l5 15m1 2l1 3m1 2l1 3m24 30h1m1 1h1m1 1h1m1 1h1m1 1h2m1 1h2m1 1h20m1-1h3m1-1h7m1-1h4m1-1h1m1-1h3m1-1h6m1-1h9m1-1h12m1-1h3m1 1h1m1-1h3m2 0h4m2 0h8m1-1h4m1 1h3m1-1h3m1 1h15m1 1h5m1 1h3m1 1h4m1 1h3m1 1h2m1 1h3m1 1h3m1 1h2m1 1h3m1 1h3m1 1h3m1 1h4m1 1h1m1 1h2m1 1h3m1 1h2m1 1h3m1 1h2m1 1h4m1 1h3m1 1h3m1 1h4m1 1h6m1 1h2m1 1h3m1 1h1m1-1h1m1 1h1m1 1h3m1 1h3m1 1h3m1 1h2m1 1h6m2 2h4m1 1h3m1 1h7m1 1h3m1 1h4m1 1h3m1 1h6m1 1h9m1 1h8m1 1h7m1 1h12m1 1h9m1 1h16m1 1h15m1 1h11m1 1h1m1-1h3m1 1h1m1-1h5m1 1h29"/>
<path class="m cw" d="M155 513l1 2m3 7l2 4m69-22l1-2m15-14l3-6m2-2l1-2m1-1l1-2m3-3l1-2m1-1l1-2m1-1l11-22m1-1l3-6m1-1l2-4m1-1l4-8m10-30l1-2m13-40l1-2m3-9l1-2m30-102l3-6m8-24l1-2m1-3l2-4m1-3l9-18m1-1l1-2m1-1l1-2m1-1l1-2m2-2l1-2m22-10l1 2m1 3l1 2m1 1l1 2m3 3l1 2m2 5l4 8m2 6l1 2m98 426l1 2m1 3l1 2m1 3l2 4m1 1l2 4m1 1l1 2m2 2l1 2"/>
<path class="m bw" d="M158 521l1 1m2 4l3 3m1 0l2 2m1 0l2 2m1 0l1 1m1 0l1 1m2 0l1 1m1 0l1-1m2 0l1-1m8 0l1-1m1 0l1-1m3 0l2-2m1 0l1-1m1 0l1-1m1 0l4-4m1 0l1-1m1 0l3-3m1 0l16-16m1-2l7-7m1 0l7-7m3-6l2-2m1-2l1-1m1-2l3-3m1-2l1-1m1-2l1-1m11-22l1-1m3-6l1-1m2-4l1-1m88-255l1-1m1-2l1-1m1-2l1-1m1-2l2-2m1-2l5-5m1 0l4-4m1 0l1-1m1 0l1-1m3 0l1-1l2 2m5 7l1 1m1 2l3 3m1 2l1 1m112 460l1 1m2 4l1 1m1 2l2 2m1 2l14 14m1 0l1 1m1 0l1 1m1 0l1 1m1 0l1 1m2 0l1 1m2 0l1 1m20 0l1-1m3 0l1-1m7 0l1-1m4 0l1-1m1 0l1-1m3 0l1-1m6 0l1-1m9 0l1-1m12 0l1-1m3 0l1 1m1 0l1-1m3 0l1-1l1 1m4 0l1-1l1 1m8 0l1-1m4 0l1 1m3 0l1-1m3 0l1 1m15 0l1 1m5 0l1 1m3 0l1 1m4 0l1 1m3 0l1 1m2 0l1 1m3 0l1 1m3 0l1 1m2 0l1 1m3 0l1 1m3 0l1 1m3 0l1 1m4 0l1 1m1 0l1 1m2 0l1 1m3 0l1 1m2 0l1 1m3 0l1 1m2 0l1 1m4 0l1 1m3 0l1 1m3 0l1 1m4 0l1 1m6 0l1 1m2 0l1 1m3 0l1 1m1 0l1-1m1 0l1 1m1 0l1 1m3 0l1 1m3 0l1 1m3 0l1 1m2 0l1 1m6 0l2 2m4 0l1 1m3 0l1 1m7 0l1 1m3 0l1 1m4 0l1 1m3 0l1 1m6 0l1 1m9 0l1 1m8 0l1 1m7 0l1 1m12 0l1 1m9 0l1 1m16 0l1 1m15 0l1 1m11 0l1 1m1 0l1-1m3 0l1 1m1 0l1-1m5 0l1 1"/>
<path class="p aw" d="M114 323l3 12l3 15l2 8l3 15l3 18l3 15l1 4l4 20l1 4l4 20l1 4l2 10l1 4l1 5l4 16l1 5l1 4l1 3l1 4l4 12m9 11h1m1 1h1m1 1h1m1 1h2m1 1h4m1-1h4m1-1h2m1-1h2m1-1h2m1-1h1m1-1h2m1-1h1m3-3h1m2-2h1m1-1h1m4-4h1m22-23h1m26-35l1-3m16-28l1-3m2-4l3-9m1-2l5-15m1-2l9-27l1-4l4-12m1-2l11-33l1-4l2-6l1-4l1-3l3-12l1-3l2-8l1-3l1-4l3-9l1-4l2-6l1-4l3-9m3-6l1-3m1-2l1-3l1-4l1-3m1-2l1-3m1-2l2-6m6-12l1-3m17-26h1m3-3h1m3-3h1m1-1h8m2 3l1 3m8 11l1 4m3 5l1 3m1 2l2 6m1 2l4 12l1 4l1 3l1 4l2 6l1 4l1 3l1 4l2 6l1 4l2 6l1 4l1 3l2 8l2 6l2 8l2 10l1 4l2 10l1 4l1 5l1 4l1 5l1 4l2 10l1 4l3 15l1 4l5 25l1 4l3 15l1 6l3 15l1 6l1 5l1 6l1 5l1 6l1 5l1 6l3 15l1 6l1 5l1 6l1 5l1 6l3 15l4 16l1 5l3 12l1 5l1 4l1 5l2 8l1 5l4 16l1 3l1 4l4 12m1 2l1 3m22 31h1m3 3h1m1 1h1m1 1h1m2 2h2m1 1h3m1 1h18m1-1h6m1-1h4m1-1h4m1-1h1m1-1h5m1-1h8m1-1h3m1-1h5m1-1h1m1 1h4m1-1h18m1-1h2m1 1h4m1-1h10m2 0h5m1 1h13m1 1h8m1 1h1m1 1h2m2 0h1m1 1h1m1 1h2m1 1h4m1 1h4m1 1h2m1 1h2m1 1h5m1 1h1m1 1h2m1 1h3m1 1h1m1 1h4m1 1h1m1 1h4m1 1h2m1 1h2m1 1h4m1 1h2m1 1h4m1 1h7m1 1h2m1 1h3m1 1h5m1 1h3m1 1h3m1 1h4m1 1h2m1 1h3m1 1h4m1 1h2m1 1h4m1 1h3m1 1h5m1 1h5m1 1h3m1 1h5m1 1h10m1 1h8m1 1h8m1 1h10m1 1h9m1 1h4m2 0h6m1 1h1m1-1h5m1 1h11m1 1h16m1 1h3m1-1h1m1 1h10m2 0h21"/>
<path class="p cw" d="M159 522l1 2m1 1l1 2m72-27l1-2m9-8l1-2m1-1l1-2m1-1l1-2m1-1l1-2m2-2l1-2m5-5l2-4m1-1l2-4m1-3l7-14m1-1l2-4m1-1l1-2m1-1l2-4m2-4l2-4m3-9l1-2m5-15l1-2m14-43l1-2m34-112l3-6m1-3l1-2m3-10l1-2m1-3l1-2m2-6l6-12m1-3l5-10m1-1l2-4m2-2l1-2m2-2l1-2m22-9l1 2m2 4l1 2m1 1l1 2m2 2l1 2m2 5l1 2m1 1l1 2m1 3l1 2m2 6l1 2m97 421l1 2m1 3l3 6m1 1l3 6m1 1l1 2m1 1l1 2m2 2l1 2"/>
<path class="p bw" d="M158 521l1 1m1 2l1 1m1 2l5 5m1 0l1 1m1 0l1 1m1 0l1 1m2 0l1 1m4 0l1-1m4 0l1-1m2 0l1-1m2 0l1-1m2 0l1-1m1 0l1-1m2 0l1-1m1 0l3-3m1 0l2-2m1 0l1-1m1 0l4-4m1 0l19-19m1-2l2-2m1 0l6-6m1-2l1-1m1-2l1-1m1-2l1-1m1-2l2-2m1-2l5-5m2-4l1-1m10-21l1-1m2-4l1-1m1-2l1-1m2-4l1-1m87-251l1-1m2-4l2-2m1-2l2-2m1-2l3-3m1 0l3-3m1 0l3-3m1 0l1-1m8 0l1 1m2 5l1 1m1 2l1 1m1 2l2 2m1 2l1 1m2 6l1 1m108 447l1 1m3 6l1 1m1 2l1 1m1 2l2 2m1 2l8 8m1 0l3 3m1 0l1 1m1 0l1 1m1 0l2 2m2 0l1 1m3 0l1 1m18 0l1-1m6 0l1-1m4 0l1-1m4 0l1-1m1 0l1-1m5 0l1-1m8 0l1-1m3 0l1-1m5 0l1-1m1 0l1 1m4 0l1-1m18 0l1-1m2 0l1 1m4 0l1-1m10 0l1 1l1-1m5 0l1 1m13 0l1 1m8 0l1 1m1 0l1 1m2 0l1 1l1-1m1 0l1 1m1 0l1 1m2 0l1 1m4 0l1 1m4 0l1 1m2 0l1 1m2 0l1 1m5 0l1 1m1 0l1 1m2 0l1 1m3 0l1 1m1 0l1 1m4 0l1 1m1 0l1 1m4 0l1 1m2 0l1 1m2 0l1 1m4 0l1 1m2 0l1 1m4 0l1 1m7 0l1 1m2 0l1 1m3 0l1 1m5 0l1 1m3 0l1 1m3 0l1 1m4 0l1 1m2 0l1 1m3 0l1 1m4 0l1 1m2 0l1 1m4 0l1 1m3 0l1 1m5 0l1 1m5 0l1 1m3 0l1 1m5 0l1 1m10 0l1 1m8 0l1 1m8 0l1 1m10 0l1 1m9 0l1 1m4 0l1-1l1 1m6 0l1 1m1 0l1-1m5 0l1 1m11 0l1 1m16 0l1 1m3 0l1-1m1 0l1 1m10 0l1-1l1 1"/>
<path class="u aw" d="M114 322l1 5l1 4l1 5l1 4l2 10l2 8l2 10l1 6l1 5l2 12l3 15l1 4l8 40l1 4l1 5l1 4l1 5l1 4l1 5l3 12l1 5l3 12l1 3l1 4l1 3m1 2l1 3m9 11h1m1 1h1m1 1h2m1 1h3m1 1h1m1-1h7m1-1h1m1-1h3m1-1h1m1-1h1m1-1h1m1-1h1m1-1h1m2-2h1m3-3h1m1-1h1m25-26h1m45-70l1-3m1-2l2-6m1-2l7-21m1-2l4-12m1-2l1-4l1-3l1-4l4-12m2-4l10-30l1-4l2-6l1-4l1-3l3-12l1-3l2-8l2-6l1-4l1-3l1-4l3-9l1-4l2-6m4-8l3-9m1-2l3-9m1-2l2-6m2-4l1-3m25-37h1m2-2h1m1-1h1m1-1h5m1 1h1m2 3l1 3m8 11l1 3m5 10l8 24l1 4l3 9l1 4l1 3l1 4l1 3l1 4l2 6l1 4l1 3l1 4l2 6l5 20l1 5l1 4l1 5l1 4l1 5l1 4l2 10l1 4l2 10l1 4l1 5l1 4l1 5l1 4l13 65l1 6l1 5l1 6l5 25l1 6l1 5l1 6l1 5l1 6l7 35l5 20l1 5l2 8l1 5l2 8l1 5l4 16l2 6l1 4m1 2l2 6m1 2l1 3m23 32h1m4 4h1m1 1h1m1 1h2m1 1h5m1 1h18m1-1h5m1-1h1m1-1h2m2 0h2m1-1h3m1-1h3m1-1h6m1-1h4m1-1h11m1-1h17m1-1h5m1 1h2m1-1h23m1 1h11m1 1h7m1 1h2m1 1h4m1 1h1m1 1h2m1 1h4m1 1h2m1 1h4m1 1h2m1 1h3m1 1h1m1 1h6m1 1h2m1 1h1m1 1h2m1 1h3m1 1h3m1 1h3m1 1h2m1 1h4m1 1h3m1 1h4m1 1h3m1 1h4m1 1h4m1 1h5m1 1h1m1 1h2m1 1h6m1 1h1m1 1h5m1 1h2m1 1h3m1 1h5m1 1h1m1 1h6m1 1h4m1 1h8m1 1h4m1 1h8m1 1h6m1 1h6m1 1h9m1 1h4m2 0h3m1 1h2m1-1h2m1 1h12m1 1h16m2 0h5m1 1h3m2 0h3m1 1h2m1-1h8m1 1h2m1-1h1m1 1h24"/>
<path class="u cw" d="M156 516l1 2m2 4l2 4m66-19l1-2m17-16l1-2m1-1l1-2m1-1l1-2m1-1l1-2m3-3l1-2m1-1l1-2m1-1l1-2m1-1l4-8m1-1l7-14m1-1l2-4m1-1l3-6m1-1l2-4m1-3l1-2m2-6l1-2m7-21l1-2m4-12l1-2m7-23l2-4m32-106l4-8m3-9l1-2m3-9l1-2m2-6l2-4m1-3l8-16m1-1l3-6m4-4l1-2m23-10l1 2m1 3l1 2m3 3l1 2m2 2l1 2m1 3l5 10m97 418l1 2m2 6l1 2m1 3l7 14m1 1l1 2m9 9l1 2"/>
<path class="u bw" d="M158 521l1 1m2 4l6 6m1 0l1 1m1 0l1 1m2 0l1 1m3 0l1 1m1 0l1-1m7 0l1-1m1 0l1-1m3 0l1-1m1 0l1-1m1 0l1-1m1 0l1-1m1 0l1-1m1 0l2-2m1 0l3-3m1 0l1-1m1 0l15-15m1-2l9-9m1 0l7-7m1-2l1-1m1-2l1-1m1-2l1-1m1-2l3-3m1-2l1-1m1-2l1-1m1-2l1-1m4-8l1-1m7-14l1-1m2-4l1-1m3-6l1-1m86-246l1-1m3-6l4-4m1-2l8-8m1 0l2-2m1 0l1-1m1 0l1-1m5 0l1 1m1 0l1 1m3 7l3 3m1 2l2 2m116 460l1 1m1 2l9 9m1 2l4 4m1 0l4 4m1 0l1 1m1 0l1 1m2 0l1 1m5 0l1 1m18 0l1-1m5 0l1-1m1 0l1-1m2 0l1 1l1-1m2 0l1-1m3 0l1-1m3 0l1-1m6 0l1-1m4 0l1-1m11 0l1-1m17 0l1-1m5 0l1 1m2 0l1-1m23 0l1 1m11 0l1 1m7 0l1 1m2 0l1 1m4 0l1 1m1 0l1 1m2 0l1 1m4 0l1 1m2 0l1 1m4 0l1 1m2 0l1 1m3 0l1 1m1 0l1 1m6 0l1 1m2 0l1 1m1 0l1 1m2 0l1 1m3 0l1 1m3 0l1 1m3 0l1 1m2 0l1 1m4 0l1 1m3 0l1 1m4 0l1 1m3 0l1 1m4 0l1 1m4 0l1 1m5 0l1 1m1 0l1 1m2 0l1 1m6 0l1 1m1 0l1 1m5 0l1 1m2 0l1 1m3 0l1 1m5 0l1 1m1 0l1 1m6 0l1 1m4 0l1 1m8 0l1 1m4 0l1 1m8 0l1 1m6 0l1 1m6 0l1 1m9 0l1 1m4 0l1-1l1 1m3 0l1 1m2 0l1-1m2 0l1 1m12 0l1 1m16 0l1 1l1-1m5 0l1 1m3 0l1-1l1 1m3 0l1 1m2 0l1-1m8 0l1 1m2 0l1-1m1 0l1 1"/>
<path class="k aw" d="M114 322l1 5l1 4l1 5l2 8l2 10l1 4l3 15l2 12l1 5l1 6l2 10l1 4l7 35l1 4l3 15l1 4l1 5l2 8l1 5l6 24l3 9m9 12h1m2 2h1m1 1h1m1 1h4m1 1h1m1-1h4m1-1h4m1-1h3m1-1h2m2-2h1m1-1h1m1-1h1m4-4h1m1-1h1m4-4h1m2-2h1m6-7h1m9-12h1m3-3h1m44-69l1-3m1-2l1-3m1-2l4-12m1-2l4-12m1-2l3-9m1-2l1-4l1-3l1-4l2-6m1-2l2-6m1-2l10-30l1-4l4-12l3-12l1-3l1-4l1-3l2-8l4-12l1-4l4-12m2-4l1-3m1-2l3-9m1-2l3-9m2-4l1-3m3-6l1-3m19-30h1m4-4h1m2-2h1m1-1h2m1-1h6m1 1l2 6m8 10l1 4m4 8l1 3m1 2l1 3m1 2l4 12l1 4l2 6l1 4l1 3l1 4l2 6l1 4l2 6l1 4l1 3l1 4l2 6l2 8l1 3l4 16l2 10l1 4l1 5l1 4l2 10l1 4l1 5l2 8l1 5l1 4l2 10l1 4l10 50l1 6l4 20l1 6l2 10l1 6l4 20l1 6l2 10l1 6l3 15l2 8l1 5l4 16l1 5l2 8l1 5l8 32l1 3l1 4m1 2l1 3m1 2l1 3m1 2l1 3m23 30h1m1 1h1m2 2h1m1 1h1m1 1h2m1 1h2m1 1h5m1 1h4m1-1h8m1-1h4m1-1h6m1-1h2m1-1h2m1-1h7m1-1h3m1-1h5m1-1h9m1-1h12m1-1h1m1 1h5m1-1h3m2 0h22m1 1h14m1 1h9m1 1h2m1 1h2m1 1h2m1 1h5m1 1h3m1 1h3m1 1h2m1 1h2m1 1h4m1 1h2m1 1h2m1 1h2m1 1h4m1 1h3m1 1h1m1 1h2m1 1h3m1 1h4m1 1h2m1 1h3m1 1h3m1 1h7m1 1h3m1 1h1m1 1h4m1 1h7m1 1h2m1 1h1m1 1h3m1 1h4m1 1h2m1 1h3m1 1h3m1 1h4m1 1h5m1 1h5m1 1h6m1 1h8m1 1h6m1 1h6m1 1h1m1-1h1m1 1h3m1 1h9m1 1h13m1 1h12m1 1h16m1 1h21m1 1h11m1-1h3m1 1h19"/>
<path class="k cw" d="M157 519l2 4m2 2l1 2m58-12l1-2m4-3l1-2m1-1l1-2m4-4l1-2m9-7l1-2m4-4l1-2m1-1l2-4m4-4l1-2m3-3l3-6m1-1l10-20m1-1l1-2m1-1l1-2m1-1l5-10m1-3l1-2m1-3l1-2m4-12l1-2m4-12l1-2m3-9l1-2m5-17l1-2m2-6l1-2m32-104l2-4m1-3l1-2m3-9l1-2m3-9l2-4m1-3l3-6m1-3l4-8m1-1l4-8m2-2l1-2m1-1l1-2m3-3l1-2m25 0l1 2m2 2l1 2m3 6l4 8m1 3l1 2m1 3l1 2m94 407l1 2m1 3l1 2m1 3l1 2m1 3l1 2m1 1l4 8m1 1l1 2m1 1l1 2"/>
<path class="k bw" d="M159 523l2 2m1 2l4 4m1 0l2 2m1 0l1 1m1 0l1 1m4 0l1 1m1 0l1-1m4 0l1-1m4 0l1-1m3 0l1-1m2 0l2-2m1 0l1-1m1 0l1-1m1 0l4-4m1 0l1-1m1 0l4-4m1 0l2-2m1 0l2-2m1-2l3-3m2-2l1-1m1-2l4-4m1-2l1-1m1 0l3-3m1 0l3-3m1-2l4-4m1-2l1-1m2-4l4-4m1-2l3-3m3-6l1-1m10-20l1-1m1-2l1-1m1-2l1-1m86-243l1-1m4-8l2-2m1-2l1-1m1-2l3-3m1-2l1-1m1 0l4-4m1 0l2-2m1 0l1-1m2 0l1-1m6 0l1 1m2 6l2 2m1 2l2 2m1 2l2 2m110 446l1 1m4 8l1 1m1 2l1 1m1 2l13 13m1 0l1 1m1 0l2 2m1 0l1 1m1 0l1 1m2 0l1 1m2 0l1 1m5 0l1 1m4 0l1-1m8 0l1-1m4 0l1-1m6 0l1-1m2 0l1-1m2 0l1-1m7 0l1-1m3 0l1-1m5 0l1-1m9 0l1-1m12 0l1-1m1 0l1 1m5 0l1-1m3 0l1 1l1-1m22 0l1 1m14 0l1 1m9 0l1 1m2 0l1 1m2 0l1 1m2 0l1 1m5 0l1 1m3 0l1 1m3 0l1 1m2 0l1 1m2 0l1 1m4 0l1 1m2 0l1 1m2 0l1 1m2 0l1 1m4 0l1 1m3 0l1 1m1 0l1 1m2 0l1 1m3 0l1 1m4 0l1 1m2 0l1 1m3 0l1 1m3 0l1 1m7 0l1 1m3 0l1 1m1 0l1 1m4 0l1 1m7 0l1 1m2 0l1 1m1 0l1 1m3 0l1 1m4 0l1 1m2 0l1 1m3 0l1 1m3 0l1 1m4 0l1 1m5 0l1 1m5 0l1 1m6 0l1 1m8 0l1 1m6 0l1 1m6 0l1 1m1 0l1-1m1 0l1 1m3 0l1 1m9 0l1 1m13 0l1 1m12 0l1 1m16 0l1 1m21 0l1 1m11 0l1-1m3 0l1 1"/>
<path class="y aw" d="M114 322l2 10l1 4l1 5l2 8l3 15l1 4l2 10l3 18l3 15l1 4l4 20l1 4l5 25l2 8l1 5l1 4l1 5l5 20l1 3l1 4l1 3m10 16h1m1 1h1m1 1h1m1 1h3m1 1h6m1-1h3m1-1h2m1-1h3m1-1h1m1-1h2m2-2h1m3-3h1m2-2h1m1-1h1m3-3h1m2-2h1m19-21h1m27-36l1-3m6-11l1-3m13-22l5-15m1-2l2-6m1-2l6-18m1-2l7-21m1-2l10-30m1-2l2-6l1-4l1-3l2-8l1-3l2-8l1-3l1-4l2-6l1-4l3-9l1-4l4-12m4-8l3-9m1-2l2-6m1-2l1-3m1-2l1-3m1-2l1-3m26-38h1m1-1h1m1-1h1m1-1h7m1 1h1m1 2l1 3m12 20l1 3m2 4l1 3m1 2l1 3l1 4l5 15l1 4l1 3l1 4l3 9l1 4l1 3l2 8l4 12l2 8l1 3l1 5l2 8l1 5l1 4l1 5l1 4l2 10l1 4l2 10l3 12l2 10l1 4l5 25l1 4l5 25l1 6l4 20l1 6l2 10l1 6l5 25l1 6l5 25l1 4l1 5l6 24l1 5l3 12l1 5l5 20l1 3l1 4l2 6m1 2l1 3m1 2l1 3m16 25h1m7 7h1m2 2h1m1 1h1m2 2h2m1 1h3m1 1h6m1 1h6m1-1h5m1-1h5m1-1h4m1-1h2m1-1h5m1-1h3m1-1h4m1-1h9m1-1h6m1-1h17m1-1h39m1 1h9m1 1h5m1 1h2m1 1h4m2 2h2m1 1h2m2 0h1m1 1h2m1 1h2m1 1h3m1 1h5m1 1h2m1 1h2m1 1h4m1 1h1m1 1h2m1 1h3m1 1h2m1 1h5m1 1h2m1 1h3m1 1h5m1 1h2m1 1h2m1 1h5m1 1h2m1 1h4m1 1h5m1 1h5m1 1h2m1 1h1m1 1h5m1 1h2m1 1h2m1 1h3m1 1h6m1 1h2m1 1h5m1 1h5m1 1h13m1 1h2m1 1h7m1 1h6m1 1h11m1 1h4m2 0h2m1 1h16m1 1h14m1 1h21m2 0h7m1 1h28"/>
<path class="y cw" d="M156 516l5 10m1 1l1 2m59-16l1-2m6-6l1-2m15-14l1-2m2-2l2-4m1-1l1-2m4-4l1-2m2-2l3-6m1-1l1-2m1-3l1-2m1-1l4-8m3-5l1-2m1-1l2-4m1-1l6-12m5-15l1-2m2-6l1-2m6-18l1-2m7-21l1-2m10-30l1-2m22-74l4-8m3-9l1-2m2-6l1-2m1-3l1-2m1-3l1-2m1-3l4-8m1-1l6-12m2-2l1-2m2-2l1-2m24-11l1 2m1 3l1 2m1 1l1 2m3 3l6 12m1 3l2 4m1 3l1 2m95 407l1 2m1 3l1 2m1 3l5 10m1 1l1 2m1 1l1 2m1 1l1 2m2 2l1 2"/>
<path class="y bw" d="M161 526l1 1m1 2l3 3m1 0l1 1m1 0l1 1m1 0l1 1m3 0l1 1m6 0l1-1m3 0l1-1m2 0l1-1m3 0l1-1m1 0l1-1m2 0l2-2m1 0l3-3m1 0l2-2m1 0l1-1m1 0l3-3m1 0l2-2m1 0l5-5m1-2l6-6m1-2l6-6m1 0l8-8m1-2l2-2m2-4l1-1m1-2l4-4m1-2l2-2m3-6l1-1m3-7l1-1m5-11l2-2m1-2l1-1m2-4l1-1m83-234l1-1m6-12l2-2m1-2l2-2m1-2l9-9m1 0l1-1m1 0l1-1m1 0l1-1m7 0l1 1m4 7l1 1m1 2l3 3m115 451l1 1m1 2l1 1m1 2l1 1m1 2l2 2m1 2l2 2m1 0l7 7m1 0l2 2m1 0l1 1m1 0l2 2m2 0l1 1m3 0l1 1m6 0l1 1m6 0l1-1m5 0l1-1m5 0l1-1m4 0l1-1m2 0l1-1m5 0l1-1m3 0l1-1m4 0l1-1m9 0l1-1m6 0l1-1m17 0l1-1m39 0l1 1m9 0l1 1m5 0l1 1m2 0l1 1m4 0l2 2m2 0l1 1m2 0l1-1l1 1m1 0l1 1m2 0l1 1m2 0l1 1m3 0l1 1m5 0l1 1m2 0l1 1m2 0l1 1m4 0l1 1m1 0l1 1m2 0l1 1m3 0l1 1m2 0l1 1m5 0l1 1m2 0l1 1m3 0l1 1m5 0l1 1m2 0l1 1m2 0l1 1m5 0l1 1m2 0l1 1m4 0l1 1m5 0l1 1m5 0l1 1m2 0l1 1m1 0l1 1m5 0l1 1m2 0l1 1m2 0l1 1m3 0l1 1m6 0l1 1m2 0l1 1m5 0l1 1m5 0l1 1m13 0l1 1m2 0l1 1m7 0l1 1m6 0l1 1m11 0l1 1m4 0l1 1l1-1m2 0l1 1m16 0l1 1m14 0l1 1m21 0l1 1l1-1m7 0l1 1"/>
<path class="c aw" d="M114 323l1 4l1 5l2 8l1 5l1 4l2 10l1 4l1 5l1 6l1 5l2 12l4 20l1 4l3 15l1 4l1 5l1 6l1 5l1 4l1 5l1 4l1 5l1 4l1 5l3 12l1 5l2 8l1 3l1 4l4 12m10 12h1m2 2h2m1 1h7m1-1h4m1-1h3m1-1h2m1-1h1m1-1h1m1-1h1m1-1h2m5-5h1m1-1h1m2-2h1m23-24h1m48-74l6-18m2-4l4-12m1-2l10-30m1-2l1-3m1-2l4-12l1-4m1-2l6-18l1-4l1-3l1-4l1-3l1-4l1-3l1-4l1-3l1-4l3-9l1-4l2-6l1-4l1-3m1-2l1-3m2-4l1-3m1-2l1-3m1-2l2-6m1-2l1-3m1-2l1-3m1-2l1-3m2-4l1-3m22-33h1m2-2h1m1-1h1m2-2h2m1-1h2m1 1h3m1 1l1 3m9 13l1 3m4 8l1 3m1 2l2 6m1 2l3 9l1 4l4 12l1 4l2 6l1 4l2 6l2 8l2 6l1 4l2 6l1 4l1 3l1 5l1 4l1 5l1 4l1 5l1 4l1 5l1 4l1 5l2 8l2 10l1 4l1 5l2 8l1 5l1 4l5 25l1 4l5 25l1 6l5 25l1 6l3 15l1 6l4 20l1 6l3 15l8 32l1 5l2 8l1 5l6 24l2 6l1 4m1 2l2 6m1 2l1 3m16 24h1m5 6h1m1 1h1m2 2h1m1 1h1m1 1h1m1 1h1m1 1h3m1 1h10m1 1h3m1-1h6m1-1h3m1-1h4m1-1h4m1-1h3m1-1h2m1-1h6m1-1h4m1-1h7m1-1h12m1-1h10m1 1h1m1-1h18m1-1h1m1 1h6m1 1h16m1 1h4m1 1h4m1 1h1m1 1h4m1 1h2m1 1h3m1 1h3m1 1h3m1 1h2m1 1h4m1 1h4m1 1h1m1 1h3m1 1h2m1 1h3m1 1h2m1 1h2m1 1h3m1 1h3m1 1h2m1 1h5m1 1h3m1 1h6m1 1h2m1 1h3m1 1h4m1 1h5m1 1h1m1 1h2m1 1h4m1 1h2m1 1h2m1 1h6m1 1h3m1 1h3m1 1h6m1 1h3m1 1h7m1 1h6m1 1h10m1 1h5m1 1h5m1 1h13m1 1h5m1 1h15m1 1h4m1 1h4m1-1h11m1 1h3m2 0h15m1 1h2m1-1h13m1 1h15"/>
<path class="c cw" d="M158 521l1 2m1 1l1 2m67-20l1-2m16-15l1-2m2-2l1-2m1-1l1-2m1-1l1-2m2-2l1-2m2-2l1-2m2-2l9-18m1-1l3-6m1-1l1-2m1-1l3-6m1-1l4-8m6-18l2-4m4-12l1-2m10-30l1-2m1-3l1-2m5-16l1-2m23-76l1-2m1-3l2-4m1-3l1-2m1-3l1-2m2-6l1-2m1-3l1-2m1-3l1-2m1-3l2-4m1-3l1-2m1-1l4-8m1-1l4-8m2-2l1-2m2-2l1-2m24-6l1 2m1 1l1 2m2 2l1 2m2 2l1 2m1 3l4 8m1 3l1 2m2 6l1 2m93 398l1 2m2 6l1 2m1 3l4 8m1 1l1 2m1 1l1 2m1 1l1 2m5 5l1 2m3 2l1 2"/>
<path class="c bw" d="M159 523l1 1m1 2l7 7m1 0l2 2m2 0l1 1m7 0l1-1m4 0l1-1m3 0l1-1m2 0l1-1m1 0l1-1m1 0l1-1m1 0l1-1m2 0l5-5m1 0l1-1m1 0l2-2m1 0l15-15m1-2l7-7m1 0l8-8m1-2l2-2m1-2l1-1m1-2l1-1m1-2l2-2m1-2l2-2m1-2l2-2m9-18l1-1m3-6l1-1m1-2l1-1m3-6l1-1m79-224l1-1m4-8l1-1m4-8l2-2m1-2l2-2m1-2l5-5m1 0l2-2m1 0l1-1m1 0l2-2m2 0l1-1m2 0l1 1m3 0l1 1m2 5l1 1m1 2l2 2m1 2l2 2m113 445l1 1m1 2l1 1m1 2l1 1m1 2l5 5m2 2l2 2m1 2l2 2m1 0l1 1m1 0l2 2m1 0l1 1m1 0l1 1m1 0l1 1m1 0l1 1m3 0l1 1m10 0l1 1m3 0l1-1m6 0l1-1m3 0l1-1m4 0l1-1m4 0l1-1m3 0l1-1m2 0l1-1m6 0l1-1m4 0l1-1m7 0l1-1m12 0l1-1m10 0l1 1m1 0l1-1m18 0l1-1m1 0l1 1m6 0l1 1m16 0l1 1m4 0l1 1m4 0l1 1m1 0l1 1m4 0l1 1m2 0l1 1m3 0l1 1m3 0l1 1m3 0l1 1m2 0l1 1m4 0l1 1m4 0l1 1m1 0l1 1m3 0l1 1m2 0l1 1m3 0l1 1m2 0l1 1m2 0l1 1m3 0l1 1m3 0l1 1m2 0l1 1m5 0l1 1m3 0l1 1m6 0l1 1m2 0l1 1m3 0l1 1m4 0l1 1m5 0l1 1m1 0l1 1m2 0l1 1m4 0l1 1m2 0l1 1m2 0l1 1m6 0l1 1m3 0l1 1m3 0l1 1m6 0l1 1m3 0l1 1m7 0l1 1m6 0l1 1m10 0l1 1m5 0l1 1m5 0l1 1m13 0l1 1m5 0l1 1m15 0l1 1m4 0l1 1m4 0l1-1m11 0l1 1m3 0l1-1l1 1m15 0l1 1m2 0l1-1m13 0l1 1"/>
<path class="f aw" d="M114 324l3 12l1 5l1 4l1 5l1 4l1 5l1 4l1 6l1 5l1 6l13 65l1 4l2 10l1 4l2 10l1 4l1 5l5 20l1 3l2 8l1 3m1 2l1 3m10 12h1m1 1h1m1 1h1m1 1h9m1-1h2m1-1h2m1-1h2m1-1h3m1-1h1m1-1h1m3-3h1m2-2h1m2-2h1m3-3h1m7-7h1m8-10h1m6-7h1m43-64l1-3m2-4l1-3m1-2l1-3m1-2l3-9m1-2l3-9m1-2l3-9m1-2l5-15l1-4l1-3m1-2l1-3m1-2l1-3m1-2l5-15m1-2l3-9l1-4l3-9l3-12l2-6l1-4l4-12l1-4l6-18m4-8l1-3m1-2l3-9m1-2l1-3m2-4l1-3m3-6l1-3m22-31h1m2-2h1m1-1h1m1-1h4m1-1h1m1 1h2m2 3l1 3m8 10l1 4m4 8l1 3m1 2l3 9m1 2l5 15l1 4l2 6l1 4l2 6l1 4l1 3l1 4l2 6l1 4l2 6l1 4l1 3l2 8l1 5l4 16l3 15l2 8l1 5l1 4l1 5l1 4l1 5l2 8l1 5l1 4l5 25l1 4l4 20l1 6l3 15l1 4l1 6l2 10l1 6l3 15l1 6l6 30l8 32l1 5l3 12l1 5l3 12l1 3l1 4l2 6l1 4m1 2l2 6m1 2l1 3m22 30h1m2 2h1m1 1h1m1 1h2m2 2h2m1 1h3m1 1h7m1 1h3m1-1h1m1-1h3m1 1h2m1-1h3m1-1h4m1-1h4m1-1h2m1-1h3m1-1h6m1-1h3m1-1h13m1-1h5m1-1h19m2 0h4m1-1h7m1 1h11m1 1h1m1-1h2m1 1h1m1-1h2m1 1h1m2 0h2m1 1h3m1 1h3m1 1h3m1 1h3m1 1h4m1 1h1m1 1h3m1 1h2m1 1h3m1 1h4m1 1h2m1 1h2m1 1h2m1 1h4m1 1h2m1 1h2m1 1h1m1 1h3m1 1h6m1 1h1m1 1h2m1 1h7m1 1h3m1 1h1m1 1h8m2 2h6m1 1h2m1 1h2m1 1h2m1 1h5m1 1h1m1 1h5m1 1h2m1 1h4m1 1h4m1 1h3m2 0h3m1 1h4m1 1h5m1 1h6m1 1h2m1-1h2m1 1h2m1 1h9m1 1h10m1 1h7m1 1h16m1 1h12m1 1h1m2 0h16m1 1h1m1-1h5m1 1h3m1-1h6m1 1h21"/>
<path class="f cw" d="M156 516l1 2m1 3l1 2m1 1l1 2m61-13l1-2m4-4l1-2m7-6l1-2m8-7l1-2m2-2l1-2m1-1l1-2m2-2l1-2m1-1l1-2m3-3l1-2m1-1l1-2m1-1l7-14m1-1l4-8m1-1l1-2m2-2l2-4m2-4l2-4m1-3l1-2m1-3l1-2m3-9l1-2m3-9l1-2m3-9l1-2m7-22l1-2m1-3l1-2m1-3l1-2m5-15l1-2m24-78l4-8m1-3l1-2m3-9l1-2m1-3l2-4m1-3l3-6m2-4l6-12m1-1l1-2m1-1l1-2m2-2l1-2m25-11l1 2m1 3l1 2m2 2l1 2m5 8l4 8m1 3l1 2m3 9l1 2m92 391l1 2m2 6l1 2m1 3l6 12m3 3l1 2m3 3l1 2"/>
<path class="f bw" d="M159 523l1 1m1 2l7 7m1 0l1 1m1 0l1 1m1 0l1 1m9 0l1-1m2 0l1-1m2 0l1-1m2 0l1-1m3 0l1-1m1 0l1-1m1 0l3-3m1 0l2-2m1 0l2-2m1 0l3-3m1 0l7-7m2-2l4-4m1-2l2-2m1 0l4-4m1-2l1-1m1 0l6-6m1-2l2-2m1-2l1-1m1-2l2-2m1-2l1-1m1-2l3-3m1-2l1-1m1-2l1-1m7-14l1-1m4-8l1-1m1-2l2-2m2-4l1-1m79-222l1-1m6-12l1-1m1-2l1-1m1-2l2-2m1-2l8-8m1 0l2-2m1 0l1-1m1 0l1-1m4 0l1-1m1 0l1 1m2 0l1 1m3 7l2 2m1 2l4 4m114 444l3 3m1 2l3 3m1 2l8 8m1 0l2 2m1 0l1 1m1 0l1 1m2 0l2 2m2 0l1 1m3 0l1 1m7 0l1 1m3 0l1-1m1 0l1-1m3 0l1 1m2 0l1-1m3 0l1-1m4 0l1-1m4 0l1-1m2 0l1-1m3 0l1-1m6 0l1-1m3 0l1-1m13 0l1-1m5 0l1-1m19 0l1-1l1 1m4 0l1-1m7 0l1 1m11 0l1 1m1 0l1-1m2 0l1 1m1 0l1-1m2 0l1 1m1 0l1 1l1-1m2 0l1 1m3 0l1 1m3 0l1 1m3 0l1 1m3 0l1 1m4 0l1 1m1 0l1 1m3 0l1 1m2 0l1 1m3 0l1 1m4 0l1 1m2 0l1 1m2 0l1 1m2 0l1 1m4 0l1 1m2 0l1 1m2 0l1 1m1 0l1 1m3 0l1 1m6 0l1 1m1 0l1 1m2 0l1 1m7 0l1 1m3 0l1 1m1 0l1 1m8 0l2 2m6 0l1 1m2 0l1 1m2 0l1 1m2 0l1 1m5 0l1 1m1 0l1 1m5 0l1 1m2 0l1 1m4 0l1 1m4 0l1 1m3 0l1 1l1-1m3 0l1 1m4 0l1 1m5 0l1 1m6 0l1 1m2 0l1-1m2 0l1 1m2 0l1 1m9 0l1 1m10 0l1 1m7 0l1 1m16 0l1 1m12 0l1 1m1 0l1-1l1 1m16 0l1 1m1 0l1-1m5 0l1 1m3 0l1-1m6 0l1 1"/>
<path class="l aw" d="M114 323l1 5l1 4l1 5l2 8l1 5l2 8l2 10l1 6l1 5l2 12l3 15l1 4l7 35l1 4l2 10l1 4l1 5l1 4l1 5l3 12l1 5l3 12l1 3l1 4l1 3m1 2l1 3m6 9h1m3 3h1m1 1h1m1 1h1m1 1h8m1-1h5m1-1h2m1-1h1m1-1h2m1-1h1m1-1h1m2-2h1m2-2h1m3-3h1m4-4h1m3-3h1m12-15h1m4-4h1m47-71l1-3m1-2l4-12m1-2l2-6m1-2l3-9m1-2l1-3m1-2l8-24m2-4l7-21m1-2l6-18l1-4l3-9l2-8l1-3l1-4l5-15l1-4l3-9m1-2l1-3m2-3l1-3m1-2l2-6m2-4l1-3m1-2l1-3m1-2l1-3m24-38h1m1-1h1m3-3h1m1-1h2m1-1h2m1 1h4m2 3l1 3m9 13l1 3m4 8l2 6m1 2l2 6m1 2l1 3l1 4l4 12l1 4l1 3l1 4l3 9l1 4l2 6l1 4l1 3l1 4l2 6l2 8l1 5l2 8l1 5l2 8l1 5l2 8l1 5l1 4l2 10l2 8l1 5l1 4l2 10l1 4l2 10l1 4l4 20l1 4l2 10l1 6l1 5l1 6l6 30l1 4l1 6l3 15l1 6l1 5l1 4l1 5l7 28l1 5l2 8l1 5l3 12l1 3l3 12l6 18m1 2l1 3m19 27h1m3 3h1m1 1h1m1 1h1m2 2h1m2 2h6m1 1h18m1-1h4m1-1h5m1-1h3m1-1h2m1-1h4m1-1h5m1-1h6m1-1h3m1-1h18m1-1h15m1-1h4m1 1h4m1-1h2m1 1h4m1-1h3m1 1h10m1 1h5m1 1h7m1 1h1m1 1h4m1 1h2m1 1h2m1 1h5m1 1h2m1 1h1m1 1h5m1 1h2m1 1h1m1 1h5m1 1h1m1 1h3m1 1h3m1 1h1m1 1h2m1 1h2m1 1h4m1 1h3m1 1h5m1 1h3m1 1h4m1 1h4m1 1h4m1 1h3m1 1h2m1 1h4m1 1h2m1 1h3m1 1h3m1 1h3m1 1h4m1 1h3m1 1h5m1 1h2m1 1h5m1 1h5m1 1h7m1 1h4m2 0h2m1 1h5m1 1h13m1 1h7m1 1h12m1 1h9m2 0h5m1 1h14m1 1h24m1 1h28"/>
<path class="l cw" d="M156 516l1 2m1 3l2 4m2 2l1 2m56-13l1-2m8-8l1-2m1-1l1-2m13-11l1-2m2-2l1-2m2-2l1-2m1-1l1-2m1-1l1-2m4-4l1-2m1-1l6-12m1-1l4-8m1-1l2-4m1-1l1-2m1-1l1-2m1-1l4-8m1-3l1-2m4-12l1-2m2-6l1-2m3-9l1-2m1-3l1-2m8-24l2-4m7-21l1-2m23-74l1-2m2-4l1-2m1-3l1-2m2-6l2-4m1-3l1-2m1-3l1-2m1-3l9-18m1-1l3-6m4-4l1-2m2-2l1-2m22-7l1 2m2 4l1 2m4 4l3 6m1 3l4 8m2 6l1 2m2 6l1 2m94 394l1 2m1 3l2 4m1 1l2 4m1 1l1 2m1 1l1 2m3 3l1 2m4 4l1 2"/>
<path class="l bw" d="M160 525l2 2m1 2l1 1m1 0l3 3m1 0l1 1m1 0l1 1m1 0l1 1m8 0l1-1m5 0l1-1m2 0l1-1m1 0l1-1m2 0l1-1m1 0l1-1m1 0l2-2m1 0l2-2m1 0l3-3m1 0l4-4m1 0l3-3m2-2l8-8m1-2l1-1m2-2l4-4m1 0l7-7m1-2l2-2m1-2l2-2m1-2l1-1m1-2l1-1m1-2l4-4m1-2l1-1m6-12l1-1m4-8l1-1m2-4l1-1m1-2l1-1m1-2l1-1m63-181l1-1m21-48l1-1m3-6l4-4m1-2l2-2m1-2l3-3m1 0l1-1m1 0l3-3m1 0l1-1m2 0l1-1m2 0l1 1m4 0l1 1m2 5l1 1m1 2l4 4m112 436l1 1m2 4l1 1m1 2l1 1m1 2l3 3m1 2l4 4m1 2l1 1m1 0l3 3m1 0l1 1m1 0l1 1m1 0l2 2m1 0l2 2m6 0l1 1m18 0l1-1m4 0l1-1m5 0l1-1m3 0l1-1m2 0l1-1m4 0l1-1m5 0l1-1m6 0l1-1m3 0l1-1m18 0l1-1m15 0l1-1m4 0l1 1m4 0l1-1m2 0l1 1m4 0l1-1m3 0l1 1m10 0l1 1m5 0l1 1m7 0l1 1m1 0l1 1m4 0l1 1m2 0l1 1m2 0l1 1m5 0l1 1m2 0l1 1m1 0l1 1m5 0l1 1m2 0l1 1m1 0l1 1m5 0l1 1m1 0l1 1m3 0l1 1m3 0l1 1m1 0l1 1m2 0l1 1m2 0l1 1m4 0l1 1m3 0l1 1m5 0l1 1m3 0l1 1m4 0l1 1m4 0l1 1m4 0l1 1m3 0l1 1m2 0l1 1m4 0l1 1m2 0l1 1m3 0l1 1m3 0l1 1m3 0l1 1m4 0l1 1m3 0l1 1m5 0l1 1m2 0l1 1m5 0l1 1m5 0l1 1m7 0l1 1m4 0l1 1l1-1m2 0l1 1m5 0l1 1m13 0l1 1m7 0l1 1m12 0l1 1m9 0l1 1l1-1m5 0l1 1m14 0l1 1m24 0l1 1"/>
<path class="s aw" d="M114 323l1 5l2 8l1 5l2 8l2 10l1 4l1 6l2 10l2 12l4 20l1 4l7 35l1 4l1 5l1 4l2 10l1 4l1 5l7 28l3 9m7 11h1m4 4h1m1 1h1m1 1h10m1-1h2m1-1h2m1-1h4m1-1h1m1-1h2m1-1h1m4-4h1m3-3h1m3-3h1m21-22h1m48-72l1-3m2-4l3-9m1-2l2-6m1-2l1-3m1-2l4-12m1-2l1-3l1-4l2-6m1-2l1-3m2-4l1-3m1-2l4-12l1-4m2-4l4-12l1-4l2-6l1-4l1-3l1-4l2-6l1-4l10-30m1-2l1-3m2-3l1-3m1-2l2-6m1-2l1-3m1-2l2-6m26-41h1m3-3h1m1-1h1m1-1h1m1-1h1m2 0h2m1 1h1m1 1h1m1 2l1 3m8 10l1 4m5 10l1 3m1 2l11 33l1 4l2 6l1 4l1 3l1 4l5 15l2 8l1 3l1 5l5 20l3 15l2 8l1 5l2 8l1 5l3 12l1 5l1 4l2 10l1 6l1 4l1 5l1 4l16 80l1 6l5 25l1 4l1 5l4 16l1 3l1 4l1 5l10 40l6 18m23 32h1m5 5h1m1 1h1m1 1h1m1 1h4m1 1h10m1 1h5m1-1h4m1-1h4m1-1h3m1-1h5m1-1h2m1-1h2m1-1h3m1-1h5m1-1h7m1-1h17m1-1h16m1-1h18m1 1h14m1 1h8m1 1h2m1 1h3m1 1h4m1 1h2m1 1h3m1 1h2m1 1h3m1 1h2m1 1h3m1 1h1m1 1h4m1 1h3m1 1h3m1 1h2m1 1h1m1 1h3m1 1h3m1 1h2m1 1h4m1 1h2m1 1h3m1 1h4m1 1h4m1 1h2m1 1h7m1 1h2m1 1h3m1 1h5m1 1h2m1 1h2m1 1h2m1 1h4m1 1h2m1 1h8m1 1h2m1 1h3m1 1h6m1 1h4m1 1h8m1 1h6m1 1h8m1 1h6m1 1h1m1-1h1m1 1h6m1 1h6m1 1h18m1 1h20m1 1h1m1-1h3m1 1h18m1 1h21m1 1h1m1-1h3"/>
<path class="s cw" d="M157 519l2 4m1 1l1 2m2 2l1 2m65-25l1-2m14-13l1-2m2-2l1-2m1-1l1-2m1-1l1-2m3-3l1-2m2-2l1-2m1-1l1-2m2-2l9-18m1-1l1-2m2-2l1-2m1-1l6-12m1-3l2-4m3-9l1-2m2-6l1-2m1-3l1-2m4-12l1-2m4-13l1-2m1-3l2-4m1-3l1-2m5-16l2-4m23-73l1-2m1-3l1-2m2-4l1-2m2-6l1-2m1-3l1-2m2-6l9-18m1-1l3-6m1-1l1-2m1-1l1-2m4-4l1-2m23-8l1 2m2 4l1 2m3 3l1 2m3 6l5 10m1 3l1 2m99 403l6 12m1 1l2 4m1 1l1 2"/>
<path class="s bw" d="M159 523l1 1m1 2l2 2m2 2l4 4m1 0l1 1m1 0l1 1m10 0l1-1m2 0l1-1m2 0l1-1m4 0l1-1m1 0l1-1m2 0l1-1m1 0l4-4m1 0l3-3m1 0l3-3m1 0l15-15m1-2l5-5m1 0l8-8m1-2l2-2m1-2l1-1m1-2l1-1m1-2l3-3m1-2l2-2m1-2l1-1m1-2l2-2m9-18l1-1m1-2l2-2m1-2l1-1m66-184l1-1m18-42l1-1m3-6l1-1m1-2l1-1m1-2l4-4m1-2l4-4m1 0l3-3m1 0l1-1m1 0l1-1m1 0l1-1m1 0l1-1l1 1m2 0l1 1m1 0l1 1m3 5l1 1m1 2l3 3m1 2l2 2m106 421l1 1m6 12l1 1m2 4l1 1m1 2l11 11m1 0l5 5m1 0l1 1m1 0l1 1m1 0l1 1m4 0l1 1m10 0l1 1m5 0l1-1m4 0l1-1m4 0l1-1m3 0l1-1m5 0l1-1m2 0l1-1m2 0l1-1m3 0l1-1m5 0l1-1m7 0l1-1m17 0l1-1m16 0l1-1m18 0l1 1m14 0l1 1m8 0l1 1m2 0l1 1m3 0l1 1m4 0l1 1m2 0l1 1m3 0l1 1m2 0l1 1m3 0l1 1m2 0l1 1m3 0l1 1m1 0l1 1m4 0l1 1m3 0l1 1m3 0l1 1m2 0l1 1m1 0l1 1m3 0l1 1m3 0l1 1m2 0l1 1m4 0l1 1m2 0l1 1m3 0l1 1m4 0l1 1m4 0l1 1m2 0l1 1m7 0l1 1m2 0l1 1m3 0l1 1m5 0l1 1m2 0l1 1m2 0l1 1m2 0l1 1m4 0l1 1m2 0l1 1m8 0l1 1m2 0l1 1m3 0l1 1m6 0l1 1m4 0l1 1m8 0l1 1m6 0l1 1m8 0l1 1m6 0l1 1m1 0l1-1m1 0l1 1m6 0l1 1m6 0l1 1m18 0l1 1m20 0l1 1m1 0l1-1m3 0l1 1m18 0l1 1m21 0l1 1m1 0l1-1"/>
<path class="t aw" d="M114 323l1 5l2 8l1 5l1 4l1 5l1 4l5 25l2 12l2 10l1 4l10 50l1 4l2 10l5 20l1 5l3 12l1 3l1 4l2 6m8 12h1m3 3h1m1 1h2m1 1h3m1 1h3m1-1h2m1-1h3m1-1h2m1-1h1m1-1h2m1-1h1m1-1h1m2-2h1m3-3h1m3-3h1m2-2h1m26-27h1m44-68l1-3m1-2l5-15m1-2l1-3m1-2l1-3m1-2l3-9m1-2l6-18m3-6l3-9m1-2l4-12m1-2l5-15l1-4l2-6l1-4l1-3l1-4l3-9l1-4l7-21m5-10l1-3m1-2l2-6m1-2l1-3m2-4l1-3m26-39h1m1-1h1m2-2h1m1-1h2m1-1h6m1 1h1l2 6m13 21l1 3m1 2l6 18m1 2l2 6l1 4l2 6l1 4l2 6l1 4l4 12l1 4l2 6l1 4l1 3l5 20l1 5l2 8l1 5l2 8l1 5l1 4l1 5l1 4l1 5l2 8l1 5l1 4l1 5l1 4l1 5l1 4l3 15l1 4l4 20l1 4l1 6l9 45l1 6l4 20l1 4l1 5l17 68l1 3l1 4l3 9m1 2l2 6m18 26h1m4 4h1m3 3h1m2 2h1m1 1h2m1 1h5m1 1h6m1 1h2m1-1h7m1-1h7m1-1h1m1-1h6m1-1h1m1-1h3m1-1h5m1-1h3m1-1h11m1-1h7m1-1h12m1-1h11m2 0h19m1 1h4m2 0h4m1 1h7m1 1h3m1 1h6m1 1h1m1 1h2m1 1h2m1 1h3m1 1h4m1 1h1m1 1h4m1 1h4m2 2h4m1 1h1m1 1h1m1 1h5m1 1h3m1 1h2m1 1h2m1 1h3m1 1h4m1 1h3m1 1h2m1 1h6m1 1h5m1 1h2m1 1h4m1 1h2m1 1h3m1 1h3m1 1h4m1 1h1m1 1h3m1 1h4m1 1h2m1 1h4m1 1h7m1 1h4m1 1h2m1 1h8m1 1h11m1 1h3m1 1h2m2 0h4m1 1h10m1 1h11m1 1h13m1 1h17m1 1h19m1 1h8m1-1h3m1 1h16m1-1h1m1 1h3"/>
<path class="t cw" d="M157 519l2 4m1 1l1 2m1 1l1 2m64-22l1-2m18-17l2-4m1-1l1-2m2-2l1-2m4-4l1-2m1-1l1-2m1-1l1-2m1-1l5-10m1-1l4-8m2-2l3-6m1-1l1-2m1-1l4-8m1-3l1-2m5-15l1-2m1-3l1-2m1-3l1-2m3-9l1-2m6-18l3-6m3-9l1-2m4-12l1-2m22-70l5-10m1-3l1-2m2-6l1-2m1-3l2-4m1-3l7-14m1-1l3-6m1-1l1-2m1-1l1-2m3-3l1-2m28-4l1 2m4 4l7 14m1 3l1 2m6 18l1 2m90 376l1 2m2 6l4 8m1 1l1 2m1 1l1 2m2 2l1 2m3 3l1 2"/>
<path class="t bw" d="M159 523l1 1m1 2l1 1m1 2l2 2m1 0l3 3m1 0l1 1m2 0l1 1m3 0l1 1m3 0l1-1m2 0l1-1m3 0l1-1m2 0l1-1m1 0l1-1m2 0l1-1m1 0l1-1m1 0l2-2m1 0l3-3m1 0l3-3m1 0l2-2m1 0l13-13m1-2l12-12m1 0l5-5m2-4l1-1m1-2l2-2m1-2l4-4m1-2l1-1m1-2l1-1m1-2l1-1m5-10l1-1m4-8l2-2m3-6l1-1m1-2l1-1m81-217l1-1m3-6l1-1m1-2l1-1m1-2l3-3m1-2l7-7m1 0l1-1m1 0l2-2m1 0l1-1m2 0l1-1m6 0l1 1m3 6l1 1m1 2l4 4m113 431l1 1m1 2l1 1m1 2l2 2m1 2l3 3m1 2l3 3m1 0l4 4m1 0l3 3m1 0l2 2m1 0l1 1m2 0l1 1m5 0l1 1m6 0l1 1m2 0l1-1m7 0l1-1m7 0l1-1m1 0l1-1m6 0l1-1m1 0l1-1m3 0l1-1m5 0l1-1m3 0l1-1m11 0l1-1m7 0l1-1m12 0l1-1m11 0l1 1l1-1m19 0l1 1m4 0l1-1l1 1m4 0l1 1m7 0l1 1m3 0l1 1m6 0l1 1m1 0l1 1m2 0l1 1m2 0l1 1m3 0l1 1m4 0l1 1m1 0l1 1m4 0l1 1m4 0l2 2m4 0l1 1m1 0l1 1m1 0l1 1m5 0l1 1m3 0l1 1m2 0l1 1m2 0l1 1m3 0l1 1m4 0l1 1m3 0l1 1m2 0l1 1m6 0l1 1m5 0l1 1m2 0l1 1m4 0l1 1m2 0l1 1m3 0l1 1m3 0l1 1m4 0l1 1m1 0l1 1m3 0l1 1m4 0l1 1m2 0l1 1m4 0l1 1m7 0l1 1m4 0l1 1m2 0l1 1m8 0l1 1m11 0l1 1m3 0l1 1m2 0l1-1l1 1m4 0l1 1m10 0l1 1m11 0l1 1m13 0l1 1m17 0l1 1m19 0l1 1m8 0l1-1m3 0l1 1m16 0l1-1m1 0l1 1"/>
<path class="n aw" d="M114 324l3 12l2 10l1 4l1 5l1 4l3 15l1 6l1 5l1 6l3 15l1 4l7 35l1 4l2 10l1 4l2 10l3 12l1 5l5 20l3 9m10 14h1m1 1h1m1 1h1m1 1h1m1 1h4m1-1h4m1-1h3m1-1h2m1-1h2m1-1h1m1-1h1m2-2h1m1-1h1m3-3h1m2-2h1m3-3h1m22-23h1m2-2h1m44-67l2-6m1-2l2-6m1-2l2-6m1-2l1-3m2-4l3-9m1-2l7-21m3-6l1-3m1-2l5-15m1-2l2-6m1-2l2-6l1-4l2-6l1-4l1-3l1-4l3-9l1-4l1-3m1-2l1-3l1-4l3-9m1-2l1-3m3-5l1-3m1-2l1-3m1-2l1-3m1-2l1-3m4-8l1-3m20-31h1m2-2h1m2-2h1m3-3h1m1-1h7m1 1h2l2 6m8 10l1 4m4 7l1 3m1 2l2 6m1 2l8 24l1 4l3 9l1 4l3 9l1 4l2 6l1 4l1 3l1 4l1 3l4 16l1 5l2 8l1 5l2 8l1 5l2 8l1 5l1 4l1 5l4 16l2 10l1 4l2 10l1 4l22 110l1 4l1 5l1 4l1 3l3 12l1 3l1 5l8 32l1 3l1 4l4 12m1 2l2 6m21 29h1m2 2h1m1 1h1m2 2h1m1 1h1m1 1h1m1 1h3m1 1h3m1 1h1m1-1h4m1 1h3m1-1h5m1-1h4m1-1h3m1-1h4m1-1h3m1-1h6m2-2h6m1-1h7m1-1h6m1-1h13m1-1h37m1 1h5m2 0h5m1 1h3m1 1h4m1 1h2m1 1h3m1 1h5m1 1h1m1 1h5m1 1h1m1 1h3m1 1h2m1 1h2m1 1h3m1 1h2m1 1h3m1 1h1m1 1h3m1 1h4m1 1h1m1 1h5m1 1h3m1 1h3m1 1h2m1 1h4m1 1h3m1 1h3m1 1h5m1 1h3m1 1h2m1 1h3m1 1h5m1 1h3m1 1h2m1 1h3m1 1h2m1 1h5m1 1h4m1 1h4m1 1h4m1 1h7m1 1h4m1 1h9m1 1h6m1 1h7m1 1h10m1 1h10m1 1h10m1 1h3m1-1h4m1 1h13m1 1h4m1-1h2m1 1h11m1 1h10m1-1h3m1 1h19"/>
<path class="n cw" d="M157 519l3 6m1 1l1 2m64-20l1-2m13-11l1-2m4-4l1-2m1-1l1-2m1-1l1-2m2-2l1-2m4-4l1-2m1-1l1-2m1-1l1-2m1-1l4-8m1-1l3-6m1-1l3-6m1-1l1-2m1-1l1-2m1-1l2-4m1-1l1-2m2-6l1-2m2-6l1-2m2-6l1-2m1-3l2-4m3-9l1-2m7-21l3-6m1-3l1-2m5-15l1-2m2-6l1-2m13-43l1-2m5-16l1-2m1-3l2-4m2-4l1-2m1-3l1-2m1-3l1-2m1-3l4-8m1-3l2-4m1-1l5-10m1-1l1-2m1-1l1-2m2-2l1-2m2-2l1-2m27-2l1 2m4 4l1 2m2 5l1 2m1 1l2 4m1 3l1 2m2 6l1 2m94 384l1 2m2 6l4 8m1 1l3 6m6 6l1 2"/>
<path class="n bw" d="M160 525l1 1m1 2l5 5m1 0l1 1m1 0l1 1m1 0l1 1m1 0l1 1m4 0l1-1m4 0l1-1m3 0l1-1m2 0l1-1m2 0l1-1m1 0l1-1m1 0l2-2m1 0l1-1m1 0l3-3m1 0l2-2m1 0l3-3m1 0l12-12m1-2l9-9m1 0l2-2m2-2l4-4m1-2l1-1m1-2l1-1m1-2l2-2m1-2l4-4m1-2l1-1m1-2l1-1m1-2l1-1m4-8l1-1m3-6l1-1m3-6l1-1m1-2l1-1m1-2l1-1m2-4l1-1m61-171l1-1m14-33l1-1m5-10l1-1m1-2l1-1m1-2l2-2m1-2l2-2m1-2l2-2m1 0l2-2m1 0l2-2m1 0l3-3m1 0l1-1m7 0l1 1m4 6l1 1m1 2l4 4m1 2l1 1m2 6l1 1m108 417l1 1m3 6l6 6m1 2l6 6m1 0l2 2m1 0l1 1m1 0l2 2m1 0l1 1m1 0l1 1m1 0l1 1m3 0l1 1m3 0l1 1m1 0l1-1m4 0l1 1m3 0l1-1m5 0l1-1m4 0l1-1m3 0l1-1m4 0l1-1m3 0l1-1m6 0l2-2m6 0l1-1m7 0l1-1m6 0l1-1m13 0l1-1m37 0l1 1m5 0l1-1l1 1m5 0l1 1m3 0l1 1m4 0l1 1m2 0l1 1m3 0l1 1m5 0l1 1m1 0l1 1m5 0l1 1m1 0l1 1m3 0l1 1m2 0l1 1m2 0l1 1m3 0l1 1m2 0l1 1m3 0l1 1m1 0l1 1m3 0l1 1m4 0l1 1m1 0l1 1m5 0l1 1m3 0l1 1m3 0l1 1m2 0l1 1m4 0l1 1m3 0l1 1m3 0l1 1m5 0l1 1m3 0l1 1m2 0l1 1m3 0l1 1m5 0l1 1m3 0l1 1m2 0l1 1m3 0l1 1m2 0l1 1m5 0l1 1m4 0l1 1m4 0l1 1m4 0l1 1m7 0l1 1m4 0l1 1m9 0l1 1m6 0l1 1m7 0l1 1m10 0l1 1m10 0l1 1m10 0l1 1m3 0l1-1m4 0l1 1m13 0l1 1m4 0l1-1m2 0l1 1m11 0l1 1m10 0l1-1m3 0l1 1"/>
<path class="o aw" d="M114 324l2 8l1 5l1 4l1 5l1 4l1 5l1 4l2 10l1 6l1 5l1 6l6 30l1 4l5 25l1 4l2 10l1 4l3 15l9 36m1 2l1 3m6 10h1m4 5h1m1 1h2m1 1h1m1 1h5m1-1h2m1-1h2m4-2h5m1-1h1m1-1h1m3-3h1m3-3h1m2-2h1m3-3h1m16-17h1m8-9h1m26-35l1-3m17-28l1-3m1-2l3-9m2-4l1-3m1-2l2-6m1-2l2-6m1-2l1-3m1-2l6-18m3-6l1-3m2-4l1-4l2-6m1-2l1-3m1-2l8-24l1-4l1-3l1-4l2-6m1-2l1-3l1-4l5-15m1-2l1-3m4-7l1-3m1-2l2-6m1-2l1-3m26-42h1m4-4h1m1-1h1m1-1h2m1-1h4m1 1h2m1 1h1m1 2l1 3m8 10l1 4m3 5l1 3m2 4l1 3m1 2l10 30l1 4l5 15l1 4l3 9l1 4l1 3l1 4l1 3l4 16l1 5l2 8l1 5l2 8l1 5l2 8l1 5l4 16l1 5l1 4l1 5l1 4l2 10l2 8l11 55l1 4l1 6l3 15l1 4l2 10l1 6l1 5l18 72l1 3l1 4l4 12m1 2l1 3m2 4l1 3m21 26h1m1 1h1m2 2h1m1 1h1m1 1h3m1 1h2m1 1h7m1 1h2m1-1h8m1-1h6m1-1h4m1-1h1m1-1h3m1-1h3m1-1h6m1-1h3m1-1h5m1-1h9m1-1h12m1-1h40m1 1h13m1 1h3m1 1h3m1 1h1m1 1h4m1 1h3m1 1h2m1 1h2m1 1h2m1 1h5m1 1h2m1 1h3m1 1h3m1 1h2m1 1h2m1 1h2m1 1h1m1 1h4m1 1h2m1 1h3m1 1h3m1 1h3m1 1h3m1 1h5m1 1h3m1 1h3m1 1h4m1 1h3m1 1h3m1 1h4m1 1h2m1 1h4m1 1h1m1 1h3m2 2h8m1 1h5m1 1h1m1 1h7m1 1h6m1 1h5m1 1h12m1 1h1m1 1h5m2 0h4m1 1h5m1 1h12m1 1h22m1 1h7m1 1h1m1-1h4m1 1h12m1 1h8m2 0h27"/>
<path class="o cw" d="M155 514l1 2m1 3l4 8m3 2l1 2m59-21l1-2m6-5l1-2m12-11l1-2m2-2l1-2m1-1l2-4m7-7l1-2m1-1l1-2m1-1l3-6m2-4l3-6m1-1l2-4m2-2l1-2m1-1l1-2m1-1l1-2m1-1l3-6m1-3l1-2m3-9l2-4m1-3l1-2m2-6l1-2m2-6l1-2m1-3l1-2m6-18l3-6m1-3l2-4m3-10l1-2m1-3l1-2m13-41l1-2m7-22l1-2m1-3l1-2m1-1l2-4m1-3l1-2m2-6l1-2m1-3l11-22m1-1l1-2m1-1l1-2m1-1l1-2m1-1l1-2m3-3l1-2m24-8l1 2m2 4l1 2m3 3l1 2m3 6l1 2m1 1l1 2m1 3l2 4m1 3l1 2m95 384l1 2m1 3l2 4m2 4l3 6m1 1l1 2m2 2l1 2"/>
<path class="o bw" d="M161 527l2 2m2 2l3 3m1 0l1 1m2 0l1 1m1 0l1 1m5 0l1-1m2 0l1-1m2 0l1 1l3-3m5 0l1-1m1 0l1-1m1 0l3-3m1 0l3-3m1 0l2-2m1 0l3-3m1 0l10-10m1-2l5-5m2-2l7-7m1 0l4-4m1-2l2-2m1-2l1-1m2-4l7-7m1-2l1-1m1-2l1-1m3-6l1-1m4-9l1-1m2-4l2-2m1-2l1-1m1-2l1-1m1-2l1-1m62-170l1-1m19-42l1-1m1-2l1-1m1-2l1-1m1-2l1-1m1-2l3-3m1-2l3-3m1 0l4-4m1 0l1-1m1 0l1-1m2 0l1-1m4 0l1 1m2 0l1 1m3 5l1 1m1 2l3 3m1 2l2 2m2 6l1 1m106 410l1 1m3 6l1 1m1 2l2 2m1 2l12 12m1 0l1 1m1 0l2 2m1 0l1 1m1 0l1 1m3 0l1 1m2 0l1 1m7 0l1 1m2 0l1-1m8 0l1-1m6 0l1-1m4 0l1-1m1 0l1-1m3 0l1-1m3 0l1-1m6 0l1-1m3 0l1-1m5 0l1-1m9 0l1-1m12 0l1-1m40 0l1 1m13 0l1 1m3 0l1 1m3 0l1 1m1 0l1 1m4 0l1 1m3 0l1 1m2 0l1 1m2 0l1 1m2 0l1 1m5 0l1 1m2 0l1 1m3 0l1 1m3 0l1 1m2 0l1 1m2 0l1 1m2 0l1 1m1 0l1 1m4 0l1 1m2 0l1 1m3 0l1 1m3 0l1 1m3 0l1 1m3 0l1 1m5 0l1 1m3 0l1 1m3 0l1 1m4 0l1 1m3 0l1 1m3 0l1 1m4 0l1 1m2 0l1 1m4 0l1 1m1 0l1 1m3 0l2 2m8 0l1 1m5 0l1 1m1 0l1 1m7 0l1 1m6 0l1 1m5 0l1 1m12 0l1 1m1 0l1 1m5 0l1 1l1-1m4 0l1 1m5 0l1 1m12 0l1 1m22 0l1 1m7 0l1 1m1 0l1-1m4 0l1 1m12 0l1 1m8 0l1-1l1 1"/>
<path class="g aw" d="M114 324l3 12l2 10l1 4l1 5l1 4l3 15l1 6l1 5l1 6l6 30l1 4l5 25l1 4l1 5l1 4l3 15l9 36l1 3m1 2l1 3m11 13h2m1 1h1m1 1h7m1-1h3m1-1h4m1-1h1m1-1h1m1-1h1m1-1h1m1-1h1m1-1h1m2-2h1m4-4h1m1-1h1m18-19h1m6-7h1m46-67l2-6m1-2l1-3m1-2l1-3m1-2l1-3m1-2l1-3m1-2l1-3m1-2l2-6m1-2l6-18m4-8l4-12m1-2l2-6m1-2l1-3m1-2l6-18l1-4l2-6l1-4l5-15m1-2l4-12m1-2l1-3m6-12l2-6m1-2l1-3m27-42h1m2-2h1m2-2h1m1-1h4m1-1h1m1 1h4m2 3l1 4m8 10l1 3m3 5l1 3m1 2l1 3m1 2l2 6m1 2l8 24l1 4l4 12l1 4l5 15l1 4l1 3l7 28l1 5l3 12l1 5l2 8l1 5l3 12l1 5l1 4l1 5l1 4l1 5l2 8l2 10l1 4l1 5l1 4l10 50l1 4l7 35l1 4l1 5l4 16l1 3l10 40l1 3l2 8l3 9m1 2l2 6m20 29h1m3 3h1m1 1h1m2 2h1m1 1h1m1 1h2m1 1h4m1 1h7m1 1h3m1-1h7m1-1h5m1-1h2m1-1h4m1-1h3m1-1h3m1-1h3m1-1h7m1-1h1m1-1h3m1-1h3m1 1h5m1-1h8m1-1h2m1 1h3m1-1h11m1-1h2m1 1h23m1 1h5m1-1h1m1 1h2m1 1h4m1 1h1m1 1h4m1 1h2m1 1h4m1 1h1m1 1h4m1 1h2m1 1h2m1 1h2m1 1h4m1 1h3m1 1h1m1 1h2m1 1h4m1 1h1m1 1h4m1 1h1m1 1h3m1 1h4m1 1h4m1 1h3m1 1h2m1 1h5m1 1h3m1 1h4m1 1h3m1 1h3m1 1h4m1 1h1m1 1h4m1 1h1m1 1h4m1 1h3m1 1h2m1 1h7m1 1h4m1 1h3m1 1h5m1 1h8m1 1h3m1 1h9m1 1h8m2 0h2m1 1h9m1 1h8m1 1h10m1 1h8m1-1h1m1 1h10m1 1h25m1 1h25m2 0h1"/>
<path class="g cw" d="M156 517l1 2m2 4l1 2m1 1l1 2m64-20l1-2m4-3l1-2m12-11l1-2m2-2l1-2m1-1l1-2m2-2l1-2m5-5l1-2m1-1l1-2m1-1l2-4m1-1l5-10m1-1l2-4m2-2l1-2m1-1l2-4m1-1l1-2m1-1l2-4m2-6l1-2m1-3l1-2m1-3l1-2m1-3l1-2m1-3l1-2m1-3l1-2m2-6l1-2m6-18l4-8m4-12l1-2m2-6l1-2m1-3l1-2m15-47l1-2m4-12l1-2m1-3l6-12m2-6l1-2m1-3l9-18m1-1l1-2m1-1l2-4m2-2l1-2m1-1l1-2m3-3l1-2m24-8l1 2m3 6l1 2m4 4l1 2m2 4l2 4m1 3l1 2m1 3l1 2m2 6l1 2m92 372l1 2m2 6l5 10m1 1l1 2m1 1l1 2m1 1l1 2m1 1l1 2"/>
<path class="g bw" d="M158 522l1 1m1 2l1 1m1 2l7 7m2 0l1 1m1 0l1 1m7 0l1-1m3 0l1-1m4 0l1-1m1 0l1-1m1 0l1-1m1 0l1-1m1 0l1-1m1 0l1-1m1 0l2-2m1 0l4-4m1 0l1-1m1 0l14-14m1-2l3-3m2-2l5-5m1 0l6-6m1-2l2-2m1-2l1-1m1-2l2-2m1-2l5-5m1-2l1-1m1-2l1-1m2-4l1-1m5-10l1-1m2-4l2-2m1-2l1-1m2-4l1-1m1-2l1-1m79-205l1-1m1-2l1-1m2-4l2-2m1-2l1-1m1-2l3-3m1-2l4-4m1 0l2-2m1 0l2-2m1 0l1-1m4 0l1-1m1 0l1 1m4 0l1 1m2 6l2 2m1 2l4 4m2 5l1 1m109 412l1 1m1 2l1 1m1 2l1 1m1 2l1 1m1 2l7 7m1 0l3 3m1 0l1 1m1 0l2 2m1 0l1 1m1 0l1 1m2 0l1 1m4 0l1 1m7 0l1 1m3 0l1-1m7 0l1-1m5 0l1-1m2 0l1-1m4 0l1-1m3 0l1-1m3 0l1-1m3 0l1-1m7 0l1-1m1 0l1-1m3 0l1-1m3 0l1 1m5 0l1-1m8 0l1-1m2 0l1 1m3 0l1-1m11 0l1-1m2 0l1 1m23 0l1 1m5 0l1-1m1 0l1 1m2 0l1 1m4 0l1 1m1 0l1 1m4 0l1 1m2 0l1 1m4 0l1 1m1 0l1 1m4 0l1 1m2 0l1 1m2 0l1 1m2 0l1 1m4 0l1 1m3 0l1 1m1 0l1 1m2 0l1 1m4 0l1 1m1 0l1 1m4 0l1 1m1 0l1 1m3 0l1 1m4 0l1 1m4 0l1 1m3 0l1 1m2 0l1 1m5 0l1 1m3 0l1 1m4 0l1 1m3 0l1 1m3 0l1 1m4 0l1 1m1 0l1 1m4 0l1 1m1 0l1 1m4 0l1 1m3 0l1 1m2 0l1 1m7 0l1 1m4 0l1 1m3 0l1 1m5 0l1 1m8 0l1 1m3 0l1 1m9 0l1 1m8 0l1 1l1-1m2 0l1 1m9 0l1 1m8 0l1 1m10 0l1 1m8 0l1-1m1 0l1 1m10 0l1 1m25 0l1 1m25 0l1-1l1 1"/>
<path class="m aw" d="M114 324l1 5l2 8l1 5l2 8l1 5l1 4l2 10l1 6l1 5l1 6l5 25l1 4l8 40l2 8l1 5l1 4l1 5l1 4l1 5l5 20l1 3l1 4l3 9m6 9h1m2 2h1m3 3h1m1 1h11m1-1h1m1-1h2m1-1h2m1-1h1m1-1h1m1-1h1m1-1h1m2-2h1m2-2h1m3-3h1m2-2h1m26-27h1m4-5h1m40-62l1-3m1-2l2-6m1-2l1-3m1-2l1-3m1-2l1-3m1-2l1-3m1-2l1-3m1-2l4-12m1-2l2-6m2-4l1-3m2-4l2-6m1-2l2-6m1-2l2-6m1-2l5-15l1-4l2-6l1-4l1-3m1-2l8-24m1-2l1-3m5-9l1-3m1-2l1-3m4-8l1-3m21-32h1m4-4h1m1-1h1m2-2h1m1-1h3m2 0h3m1 1h1m2 3l1 3m8 10l1 3m3 5l1 3m2 4l3 9m1 2l3 9m1 2l1 3l1 4l3 9l1 4l5 15l1 4l5 15l7 28l1 5l3 12l1 5l2 8l1 5l4 16l1 5l2 8l2 10l2 8l1 5l1 4l4 20l1 4l4 20l1 4l9 45l1 4l1 5l6 24l1 3l9 36l1 3l1 4l5 15m1 2l1 3m1 2l1 3m11 17h1m7 8h1m2 2h1m2 2h1m1 1h1m1 1h1m1 1h1m1 1h2m1 1h5m1 1h1m1-1h14m1-1h6m1-1h1m1-1h4m1-1h2m1-1h3m1-1h4m1-1h5m1-1h3m1-1h10m1-1h8m1-1h10m1-1h5m1 1h7m1-1h12m1 1h5m2 0h10m1 1h2m1 1h5m1 1h1m1 1h4m1 1h1m1 1h5m1 1h1m1 1h3m1 1h3m1 1h5m1 1h2m1 1h1m1 1h2m1 1h3m1 1h4m1 1h2m1 1h1m1 1h2m1 1h2m1 1h5m1 1h2m1 1h4m1 1h3m1 1h3m1 1h3m1 1h5m1 1h3m1 1h2m1 1h3m1 1h4m1 1h2m1 1h4m1 1h3m1 1h3m1 1h3m1 1h5m1 1h2m1 1h5m1 1h4m1 1h5m1 1h5m1 1h9m1 1h8m1 1h5m1 1h7m1 1h14m1 1h1m1-1h3m1 1h13m1 1h8m1 1h14m1 1h4m1-1h4m1 1h2m1-1h3m1 1h3m1-1h4m1 1h17"/>
<path class="m cw" d="M159 523l1 2m1 1l1 2m1 1l1 2m60-21l1-2m16-15l1-2m3-2l1-2m1-1l1-2m1-1l1-2m4-4l1-2m4-4l1-2m1-1l3-6m1-1l5-10m1-1l2-4m1-1l1-2m2-2l1-2m1-1l1-2m1-1l4-8m1-3l1-2m2-6l1-2m1-3l1-2m1-3l1-2m1-3l1-2m1-3l1-2m1-3l1-2m4-12l1-2m2-6l2-4m1-3l2-4m2-6l1-2m2-6l1-2m2-6l1-2m10-32l1-2m8-24l1-2m1-3l1-2m1-1l3-6m1-3l1-2m1-3l4-8m1-3l5-10m1-1l1-2m1-1l1-2m1-1l2-4m1-1l1-2m2-2l1-2m27-10l1 2m5 7l1 2m1 1l1 2m2 4l1 2m1 1l1 2m1 3l2 4m3 9l1 2m3 9l1 2m89 360l1 2m1 3l1 2m1 3l2 4m1 1l1 2m1 1l1 2m1 1l1 2m1 1l1 2m3 2l1 2"/>
<path class="m bw" d="M158 522l1 1m1 2l1 1m1 2l1 1m2 2l2 2m1 0l3 3m1 0l1 1m11 0l1-1m1 0l1-1m2 0l1-1m2 0l1-1m1 0l1-1m1 0l1-1m1 0l1-1m1 0l2-2m1 0l2-2m1 0l3-3m1 0l2-2m1 0l11-11m1-2l14-14m1 0l1-1m1-2l2-2m2-2l1-1m1-2l1-1m1-2l4-4m1-2l4-4m1-2l1-1m3-6l1-1m5-10l1-1m2-4l1-1m1-2l2-2m1-2l1-1m1-2l1-1m62-166l1-1m16-35l1-1m1-2l1-1m1-2l1-1m2-4l1-1m1-2l2-2m1-2l4-4m1 0l4-4m1 0l1-1m1 0l2-2m1 0l1-1m3 0l1-1l1 1m3 0l1 1m1 0l1 1m2 5l4 4m1 2l1 1m1 2l1 1m2 5l1 1m107 405l1 1m1 2l1 1m1 2l1 1m1 2l1 1m1 2l1 1m1 0l1 1m1 2l5 5m1 0l2 2m1 0l2 2m1 0l1 1m1 0l1 1m1 0l1 1m1 0l1 1m2 0l1 1m5 0l1 1m1 0l1-1m14 0l1-1m6 0l1-1m1 0l1-1m4 0l1-1m2 0l1-1m3 0l1-1m4 0l1-1m5 0l1-1m3 0l1-1m10 0l1-1m8 0l1-1m10 0l1-1m5 0l1 1m7 0l1-1m12 0l1 1m5 0l1-1l1 1m10 0l1 1m2 0l1 1m5 0l1 1m1 0l1 1m4 0l1 1m1 0l1 1m5 0l1 1m1 0l1 1m3 0l1 1m3 0l1 1m5 0l1 1m2 0l1 1m1 0l1 1m2 0l1 1m3 0l1 1m4 0l1 1m2 0l1 1m1 0l1 1m2 0l1 1m2 0l1 1m5 0l1 1m2 0l1 1m4 0l1 1m3 0l1 1m3 0l1 1m3 0l1 1m5 0l1 1m3 0l1 1m2 0l1 1m3 0l1 1m4 0l1 1m2 0l1 1m4 0l1 1m3 0l1 1m3 0l1 1m3 0l1 1m5 0l1 1m2 0l1 1m5 0l1 1m4 0l1 1m5 0l1 1m5 0l1 1m9 0l1 1m8 0l1 1m5 0l1 1m7 0l1 1m14 0l1 1m1 0l1-1m3 0l1 1m13 0l1 1m8 0l1 1m14 0l1 1m4 0l1-1m4 0l1 1m2 0l1-1m3 0l1 1m3 0l1-1m4 0l1 1"/>
<path class="p aw" d="M114 325l4 16l1 5l1 4l1 5l2 8l1 6l2 10l2 12l6 30l1 4l6 30l1 4l1 5l1 4l2 10l7 28l1 3l1 4l2 6m8 13h1m2 2h1m2 2h1m2 2h5m1-1h2m1-1h4m1-1h2m1-1h1m1-1h3m1-1h1m4-4h1m3-3h1m3-3h1m2-2h1m23-24h1m48-71l1-3m1-2l2-6m2-4l2-6m1-2l1-3m1-2l1-3m3-6l6-18m3-5l2-6m1-2l3-9m1-2l1-3m1-2l1-3m1-2l6-18l1-4l5-15m1-2l6-18m1-2l1-3m4-7l1-3m4-8l1-3m1-2l1-3m24-35h1m2-2h1m2-2h1m1-1h2m1-1h2m2 0h3m1 1h2l2 6m8 10l1 3m6 12l2 6m1 2l1 3m1 2l2 6l1 4l10 30l1 4l4 12l1 4l1 3l2 8l1 3l3 12l1 5l3 12l1 5l3 12l1 5l5 20l1 5l2 8l1 5l1 4l1 5l1 4l2 10l1 4l4 20l1 4l4 20l1 4l1 5l1 4l5 25l1 4l1 5l1 4l1 5l1 3l3 12l1 3l5 20l1 5l1 3l1 4l1 3l1 4l1 3l1 4l4 12m1 2l1 3m20 28h1m3 3h1m2 2h1m1 1h1m2 2h2m1 1h1m1 1h9m1 1h1m1-1h11m1-1h4m1-1h3m1-1h3m1-1h3m1-1h4m1-1h1m1-1h6m1-1h1m2 0h1m1-1h6m1-1h8m1-1h21m2 0h3m1-1h13m1 1h3m1-1h3m1 1h8m1 1h4m1 1h3m1 1h4m1 1h3m1 1h3m1 1h1m1 1h4m1 1h2m1 1h3m1 1h5m1 1h1m1 1h2m1 1h1m1 1h5m1 1h2m1 1h1m1 1h3m1 1h3m1 1h4m2 2h7m1 1h2m1 1h2m1 1h1m1 1h6m1 1h2m1 1h4m1 1h5m1 1h2m1 1h2m1 1h3m1 1h4m1 1h1m1 1h6m1 1h1m1 1h4m1 1h4m1 1h5m1 1h2m1 1h5m1 1h8m1 1h10m1 1h6m1 1h10m1 1h2m1 1h3m2 0h14m1 1h10m1 1h17m1 1h9m1 1h1m1-1h13m1 1h5m1-1h3m1 1h17"/>
<path class="p cw" d="M157 519l4 8m1 1l1 2m63-22l1-2m18-17l1-2m2-2l1-2m1-1l1-2m2-2l1-2m4-4l1-2m1-1l1-2m1-1l1-2m1-1l5-10m1-1l1-2m2-2l2-4m1-1l2-4m1-1l1-2m1-1l5-10m1-3l1-2m2-6l2-4m2-6l1-2m1-3l1-2m1-3l3-6m6-18l2-4m3-7l1-2m3-9l1-2m1-3l1-2m1-3l1-2m12-37l1-2m6-18l1-2m1-3l2-4m1-1l1-2m1-3l4-8m1-3l1-2m1-3l4-8m1-1l2-4m1-1l1-2m1-1l2-4m2-2l1-2m1-1l1-2m31-5l1 2m5 5l1 2m1 3l6 12m2 6l1 2m1 3l1 2m92 366l1 2m1 3l6 12m3 3l1 2m4 4l1 2"/>
<path class="p bw" d="M161 527l1 1m1 2l2 2m1 0l2 2m1 0l2 2m1 0l2 2m5 0l1-1m2 0l1-1m4 0l1-1m2 0l1-1m1 0l1-1m3 0l1-1m1 0l4-4m1 0l3-3m1 0l3-3m1 0l2-2m1 0l12-12m1-2l10-10m1 0l7-7m1-2l2-2m1-2l1-1m1-2l2-2m1-2l4-4m1-2l1-1m1-2l1-1m1-2l1-1m5-10l1-1m1-2l2-2m2-4l1-1m2-4l1-1m1-2l1-1m28-69l1-1m34-95l1-1m13-29l1-1m2-4l1-1m1-2l1-1m2-4l2-2m1-2l1-1m1-2l7-7m1 0l2-2m1 0l2-2m1 0l1-1m2 0l1-1m2 0l1-1l1 1m3 0l1 1m4 6l1 1m1 2l5 5m113 413l3 3m1 2l4 4m1 2l5 5m1 0l3 3m1 0l2 2m1 0l1 1m1 0l2 2m2 0l1 1m1 0l1 1m9 0l1 1m1 0l1-1m11 0l1-1m4 0l1-1m3 0l1-1m3 0l1-1m3 0l1-1m4 0l1-1m1 0l1-1m6 0l1-1m1 0l1-1l1 1m1 0l1-1m6 0l1-1m8 0l1-1m21 0l1-1l1 1m3 0l1-1m13 0l1 1m3 0l1-1m3 0l1 1m8 0l1 1m4 0l1 1m3 0l1 1m4 0l1 1m3 0l1 1m3 0l1 1m1 0l1 1m4 0l1 1m2 0l1 1m3 0l1 1m5 0l1 1m1 0l1 1m2 0l1 1m1 0l1 1m5 0l1 1m2 0l1 1m1 0l1 1m3 0l1 1m3 0l1 1m4 0l2 2m7 0l1 1m2 0l1 1m2 0l1 1m1 0l1 1m6 0l1 1m2 0l1 1m4 0l1 1m5 0l1 1m2 0l1 1m2 0l1 1m3 0l1 1m4 0l1 1m1 0l1 1m6 0l1 1m1 0l1 1m4 0l1 1m4 0l1 1m5 0l1 1m2 0l1 1m5 0l1 1m8 0l1 1m10 0l1 1m6 0l1 1m10 0l1 1m2 0l1 1m3 0l1-1l1 1m14 0l1 1m10 0l1 1m17 0l1 1m9 0l1 1m1 0l1-1m13 0l1 1m5 0l1-1m3 0l1 1"/>
<path class="u aw" d="M114 325l4 16l1 5l1 4l1 5l1 4l2 10l1 6l1 5l2 12l1 5l1 4l3 15l1 4l7 35l1 4l1 5l1 4l2 10l7 28l1 3l1 4l3 9m8 11h1m2 2h1m1 1h1m1 1h2m1 1h2m1-1h3m1-1h3m1-1h3m1-1h2m1-1h1m1-1h1m1-1h1m2-2h1m2-2h1m5-5h1m1-1h1m21-23h1m3-3h1m45-65l1-3m2-4l1-3m1-2l1-3m1-2l1-3m1-2l1-3m2-4l1-3m1-2l1-3m1-2l3-9m1-2l2-6m1-2l1-3m4-8l2-6m1-2l2-6m1-2l1-3m1-2l3-9m1-2l2-6l1-4l7-21m1-2l2-6m1-2l1-3m1-2l2-6m4-7l1-3m2-4l1-3m1-2l1-3m24-36h1m3-4h1m1-1h1m1-1h1m1-1h2m1-1h2m1-1h1m1 1h2m1 1h1m2 3l1 3m8 10l1 4m6 11l2 6m1 2l1 3m1 2l5 15l1 4l5 15l1 4l7 21l1 4l1 3l6 24l1 5l8 32l1 5l3 12l1 5l2 8l1 5l1 4l1 5l1 4l1 5l1 4l1 5l1 4l2 10l1 4l3 15l1 4l4 20l1 4l4 20l1 4l1 5l4 16l1 3l3 12l1 3l1 4l1 3l1 5l3 12l1 3l1 4l1 3l1 4l3 9m1 2l2 6m18 26h1m4 4h1m1 1h1m3 3h2m1 1h1m1 1h3m1 1h5m2 0h14m1-1h5m1-1h3m1-1h2m1-1h3m1-1h4m1-1h2m1-1h7m1-1h2m1-1h6m1-1h7m1-1h15m1-1h2m1 1h2m1-1h30m1 1h10m1 1h2m1 1h4m1 1h2m1 1h3m1 1h3m1 1h5m1 1h1m1 1h1m1 1h2m1 1h4m1 1h1m1 1h4m1 1h3m1 1h2m1 1h3m1 1h2m1 1h2m1 1h2m1 1h4m1 1h1m1 1h4m1 1h3m1 1h5m1 1h1m1 1h5m1 1h3m1 1h3m1 1h4m1 1h1m1 1h5m1 1h3m1 1h2m1 1h1m1 1h2m1 1h6m1 1h4m1 1h5m1 1h1m2 0h2m1 1h1m1 1h4m1 1h8m1 1h11m1 1h5m1 1h8m1 1h2m2 0h3m1 1h14m1 1h5m1 1h1m1-1h5m1 1h18m1 1h22m2 0h2m1 1h24"/>
<path class="u cw" d="M159 523l2 4m4 4l1 2m57-22l1-2m9-9l1-2m11-9l1-2m1-1l1-2m2-2l1-2m4-4l1-2m3-3l1-2m1-1l1-2m1-1l4-8m1-1l2-4m1-1l2-4m2-2l2-4m1-1l1-2m1-1l3-6m2-4l2-4m1-3l1-2m1-3l1-2m1-3l1-2m1-3l2-4m1-3l1-2m1-3l1-2m3-9l1-2m2-6l1-2m1-3l4-8m2-6l1-2m2-6l1-2m1-3l1-2m3-9l1-2m10-31l1-2m2-6l1-2m1-3l1-2m2-6l1-2m1-1l2-4m1-3l2-4m1-3l1-2m1-3l5-10m1-1l1-2m1-1l2-4m1-1l2-4m1-1l1-2m2-2l1-2m9-8l1-2m19-2l1 2m1 3l1 2m1 1l1 2m7 10l5 10m2 6l1 2m1 3l1 2m91 360l1 2m2 6l3 6m1 1l1 2m1 1l2 4m2 2l1 2m4 4l1 2"/>
<path class="u bw" d="M158 522l1 1m2 4l4 4m2 2l2 2m1 0l1 1m1 0l1 1m2 0l1 1m2 0l1-1m3 0l1-1m3 0l1-1m3 0l1-1m2 0l1-1m1 0l1-1m1 0l1-1m1 0l2-2m1 0l2-2m1 0l5-5m1 0l1-1m1 0l10-10m1-2l9-9m2-2l3-3m1 0l6-6m1-2l1-1m1-2l2-2m1-2l4-4m1-2l3-3m1-2l1-1m1-2l1-1m4-8l1-1m2-4l1-1m2-4l2-2m2-4l1-1m1-2l1-1m3-6l1-1m59-155l1-1m13-29l1-1m1-2l1-1m2-4l1-1m2-4l1-1m1-2l2-2m1-2l6-6m1 0l2-2m2-2l1-1m1 0l1-1m1 0l1-1m2 0l1-1m2 0l1-1m1 0l1 1m2 0l1 1m1 0l1 1m3 7l1 1m1 2l5 5m1 4l1 1m107 397l1 1m1 2l1 1m2 4l2 2m1 2l4 4m1 2l2 2m1 0l4 4m1 0l1 1m1 0l3 3m2 0l1 1m1 0l1 1m3 0l1 1m5 0l1 1l1-1m14 0l1-1m5 0l1-1m3 0l1-1m2 0l1-1m3 0l1-1m4 0l1-1m2 0l1-1m7 0l1-1m2 0l1-1m6 0l1-1m7 0l1-1m15 0l1-1m2 0l1 1m2 0l1-1m30 0l1 1m10 0l1 1m2 0l1 1m4 0l1 1m2 0l1 1m3 0l1 1m3 0l1 1m5 0l1 1m1 0l1 1m1 0l1 1m2 0l1 1m4 0l1 1m1 0l1 1m4 0l1 1m3 0l1 1m2 0l1 1m3 0l1 1m2 0l1 1m2 0l1 1m2 0l1 1m4 0l1 1m1 0l1 1m4 0l1 1m3 0l1 1m5 0l1 1m1 0l1 1m5 0l1 1m3 0l1 1m3 0l1 1m4 0l1 1m1 0l1 1m5 0l1 1m3 0l1 1m2 0l1 1m1 0l1 1m2 0l1 1m6 0l1 1m4 0l1 1m5 0l1 1m1 0l1 1l1-1m2 0l1 1m1 0l1 1m4 0l1 1m8 0l1 1m11 0l1 1m5 0l1 1m8 0l1 1m2 0l1-1l1 1m3 0l1 1m14 0l1 1m5 0l1 1m1 0l1-1m5 0l1 1m18 0l1 1m22 0l1 1l1-1m2 0l1 1"/>
<path class="k aw" d="M114 325l3 12l1 5l2 8l2 10l1 4l3 15l3 18l1 4l2 10l1 4l8 40l1 4l1 5l1 4l1 5l1 4l1 5l6 24l1 3l1 4l2 6m7 12h1m4 4h1m1 1h1m1 1h2m2 0h5m1-1h6m1-1h1m1-1h2m1-1h1m2-2h1m1-1h1m4-4h1m3-3h1m7-7h1m21-22h1m47-70l2-6m2-4l1-3m1-2l1-3m1-2l1-3m3-6l2-6m1-2l3-9m3-6l1-3m2-4l1-3m1-2l2-6m1-2l1-3m1-2l1-3m1-2l1-3m1-2l4-12l1-4l4-12m1-2l2-6m1-2l4-12m1-2l1-3m6-11l1-3m2-4l1-3m26-39h1m2-2h1m3-3h1m1-1h4m1-1h2m1 1h3m1 1h1l1 3m9 12l1 4m5 9l1 3m1 2l2 6m1 2l6 18m1 2l1 3l1 4l4 12l1 4l4 12m1 2l1 4l1 3l15 60l1 5l5 20l1 5l2 8l1 5l2 8l1 5l1 4l1 5l1 4l3 15l1 4l4 20l1 4l2 10l1 4l1 5l1 4l2 10l1 4l1 5l5 20l1 3l1 4l1 3l7 28l1 3l1 4l6 18m1 2l1 3m17 25h1m6 6h1m2 2h1m1 1h1m1 1h2m1 1h4m1 1h7m1 1h4m1-1h7m1-1h5m1-1h3m1-1h4m1-1h2m1-1h1m1-1h3m1-1h5m1-1h5m1-1h5m1-1h10m1-1h12m1-1h7m1-1h1m1 1h27m1 1h5m1 1h1m1-1h1m1 1h5m1 1h3m1 1h3m1 1h2m1 1h1m1 1h5m1 1h2m1 1h5m1 1h1m1 1h3m1 1h2m1 1h2m1 1h2m1 1h2m1 1h2m1 1h2m1 1h2m1 1h4m1 1h1m1 1h4m1 1h3m1 1h3m1 1h3m1 1h3m1 1h5m1 1h4m1 1h1m1 1h5m1 1h3m1 1h3m1 1h4m1 1h2m1 1h2m1 1h5m1 1h2m1 1h4m1 1h3m1 1h2m1 1h2m2 0h5m1 1h4m1 1h4m1 1h7m1 1h9m1 1h6m1 1h15m1 1h7m1 1h16m1 1h18m1 1h14m2 0h3m1 1h29"/>
<path class="k cw" d="M157 519l4 8m2 2l1 2m62-23l1-2m17-16l1-2m3-3l1-2m1-1l1-2m2-2l1-2m4-4l1-2m2-2l1-2m1-1l4-8m1-1l2-4m1-1l1-2m1-1l1-2m1-1l1-2m1-1l1-2m2-2l7-14m2-6l2-4m1-3l1-2m1-3l1-2m1-3l3-6m2-6l1-2m3-9l3-6m1-3l2-4m1-3l1-2m2-6l1-2m1-3l1-2m1-3l1-2m1-3l1-2m9-28l1-2m2-6l1-2m4-12l1-2m1-3l2-4m1-1l3-6m1-3l2-4m1-3l9-18m2-2l1-2m1-1l1-2m2-2l1-2m4-4l1-2m27-6l2 4m2 2l1 2m5 8l2 4m1 1l2 4m1 3l1 2m2 6l1 2m6 18l1 2m11 35l1 2m74 304l1 2m1 3l5 10m1 1l1 2m1 1l1 2m1 1l1 2"/>
<path class="k bw" d="M161 527l2 2m2 2l4 4m1 0l1 1m1 0l1 1m2 0l1 1l1-1m5 0l1-1m6 0l1-1m1 0l1-1m2 0l1-1m1 0l2-2m1 0l1-1m1 0l4-4m1 0l3-3m1 0l7-7m1 0l8-8m1-2l12-12m1 0l4-4m1-2l3-3m1-2l1-1m1-2l2-2m1-2l4-4m1-2l2-2m1-2l1-1m4-8l1-1m2-4l1-1m1-2l1-1m1-2l1-1m1-2l1-1m1-2l2-2m63-160l1-1m16-34l2-2m1-2l1-1m1-2l2-2m1-2l4-4m1-2l4-4m1 0l2-2m1 0l3-3m1 0l1-1m4 0l1-1m2 0l1 1m3 0l1 1m4 7l2 2m1 2l4 4m3 8l1 1m107 393l1 1m1 2l1 1m1 2l1 1m1 2l6 6m1 0l6 6m1 0l2 2m1 0l1 1m1 0l1 1m2 0l1 1m4 0l1 1m7 0l1 1m4 0l1-1m7 0l1-1m5 0l1-1m3 0l1-1m4 0l1-1m2 0l1-1m1 0l1-1m3 0l1-1m5 0l1-1m5 0l1-1m5 0l1-1m10 0l1-1m12 0l1-1m7 0l1-1m1 0l1 1m27 0l1 1m5 0l1 1m1 0l1-1m1 0l1 1m5 0l1 1m3 0l1 1m3 0l1 1m2 0l1 1m1 0l1 1m5 0l1 1m2 0l1 1m5 0l1 1m1 0l1 1m3 0l1 1m2 0l1 1m2 0l1 1m2 0l1 1m2 0l1 1m2 0l1 1m2 0l1 1m2 0l1 1m4 0l1 1m1 0l1 1m4 0l1 1m3 0l1 1m3 0l1 1m3 0l1 1m3 0l1 1m5 0l1 1m4 0l1 1m1 0l1 1m5 0l1 1m3 0l1 1m3 0l1 1m4 0l1 1m2 0l1 1m2 0l1 1m5 0l1 1m2 0l1 1m4 0l1 1m3 0l1 1m2 0l1 1m2 0l1-1l1 1m5 0l1 1m4 0l1 1m4 0l1 1m7 0l1 1m9 0l1 1m6 0l1 1m15 0l1 1m7 0l1 1m16 0l1 1m18 0l1 1m14 0l1 1l1-1m3 0l1 1"/>
<path class="y aw" d="M114 325l1 4l1 5l3 12l1 5l1 4l1 5l1 4l1 6l2 10l1 6l8 40l1 4l5 25l1 4l1 5l1 4l2 10l9 36m1 2l2 6m10 13h1m1 1h1m1 1h5m1 1h4m1-1h3m1-1h1m2-2h2m1-1h2m1-1h1m2-2h1m1-1h1m4-4h1m2-2h1m4-4h1m20-22h1m2-2h1m47-68l1-3m2-4l1-3m1-2l1-3m1-2l1-3m1-2l1-3m2-4l1-3m2-4l3-9m1-2l2-6m3-5l1-3m2-4l2-6m1-2l1-3m2-4l3-9m1-2l5-15l1-4l2-6m1-2l1-3m1-2l3-9m1-2l1-3m1-2l2-6m6-10l1-3m3-6l1-3m22-32h1m3-3h1m2-2h1m2-2h1m1-1h10m12 17l1 3m5 10l1 3m1 2l2 6m2 4l2 6m1 2l1 3l1 4l9 27l1 4l2 6m1 2l1 4l2 6l9 36l1 5l6 24l1 3l1 4l1 5l3 12l1 5l2 8l1 5l1 4l1 5l1 4l1 5l1 4l3 15l1 4l2 10l1 4l2 10l1 4l2 10l1 4l2 10l1 4l1 5l3 12l1 3l2 8l1 3l1 4l1 3l5 20l1 3l1 4l1 3l1 4l4 12m1 2l1 3m2 4l1 3m19 24h1m2 2h1m1 1h1m1 1h1m1 1h1m1 1h1m1 1h2m1 1h21m1-1h6m1-1h4m1-1h1m1-1h3m1-1h3m1-1h3m1-1h3m1-1h5m1-1h3m1-1h2m2 0h8m1-1h6m1-1h44m1 1h5m2 0h2m1 1h4m1 1h4m1 1h3m1 1h3m1 1h1m1 1h5m1 1h1m1 1h2m1 1h2m1 1h4m1 1h1m1 1h3m1 1h4m1 1h2m1 1h3m1 1h1m1 1h4m1 1h2m1 1h1m1 1h6m1 1h1m1 1h3m1 1h1m1 1h7m1 1h3m1 1h3m1 1h3m1 1h4m1 1h1m1 1h6m1 1h1m1 1h2m1 1h3m1 1h3m1 1h3m1 1h4m1 1h2m1 1h5m1 1h6m1 1h5m1 1h5m1 1h12m1 1h3m1 1h7m1 1h11m1 1h3m1 1h2m1-1h5m1 1h11m2 0h3m1 1h13m1 1h12m1 1h1m1-1h8m1 1h29"/>
<path class="y cw" d="M155 514l1 2m3 7l1 2m1 1l1 2m1 1l1 2m60-21l1-2m5-5l1-2m14-12l1-2m1-1l1-2m1-1l1-2m3-3l1-2m5-5l1-2m1-1l1-2m1-1l1-2m1-1l3-6m1-1l2-4m1-1l2-4m2-2l1-2m2-2l2-4m1-1l4-8m1-3l2-4m1-3l1-2m1-3l1-2m1-3l1-2m1-3l2-4m1-3l2-4m3-9l1-2m2-6l1-2m1-1l1-2m1-3l2-4m2-6l1-2m1-3l2-4m3-9l1-2m8-25l1-2m1-3l1-2m3-9l1-2m1-3l1-2m3-7l1-2m1-1l3-6m1-3l3-6m1-3l4-8m1-1l1-2m1-1l1-2m1-1l2-4m2-2l1-2m2-2l1-2m29-11l2 4m1 1l1 2m2 2l1 2m2 2l1 2m1 3l5 10m1 3l1 2m2 6l2 4m2 6l1 2m14 44l1 2m73 298l1 2m1 3l2 4m1 3l1 2m1 1l1 2m1 1l2 4m2 2l1 2"/>
<path class="y bw" d="M158 522l1 1m1 2l1 1m1 2l1 1m1 2l4 4m1 0l1 1m1 0l1 1m5 0l1 1m4 0l1-1m3 0l1-1m1 0l2-2m2 0l1-1m2 0l1-1m1 0l2-2m1 0l1-1m1 0l4-4m1 0l2-2m1 0l4-4m1 0l9-9m1-2l5-5m1-2l4-4m1 0l2-2m1 0l6-6m1-2l1-1m1-2l1-1m1-2l3-3m1-2l5-5m1-2l1-1m1-2l1-1m1-2l1-1m3-6l1-1m2-4l1-1m2-4l2-2m1-2l2-2m2-4l1-1m26-63l1-1m33-89l1-1m1-2l1-1m12-26l1-1m1-2l1-1m1-2l1-1m2-4l2-2m1-2l2-2m1-2l5-5m1 0l3-3m1 0l2-2m1 0l2-2m1 0l1-1m10 0l2 2m2 4l1 1m1 2l2 2m1 2l2 2m110 396l1 1m1 2l1 1m2 4l2 2m1 2l10 10m1 0l2 2m1 0l1 1m1 0l1 1m1 0l1 1m1 0l1 1m1 0l1 1m2 0l1 1m21 0l1-1m6 0l1-1m4 0l1-1m1 0l1-1m3 0l1-1m3 0l1-1m3 0l1-1m3 0l1-1m5 0l1-1m3 0l1-1m2 0l1 1l1-1m8 0l1-1m6 0l1-1m44 0l1 1m5 0l1-1l1 1m2 0l1 1m4 0l1 1m4 0l1 1m3 0l1 1m3 0l1 1m1 0l1 1m5 0l1 1m1 0l1 1m2 0l1 1m2 0l1 1m4 0l1 1m1 0l1 1m3 0l1 1m4 0l1 1m2 0l1 1m3 0l1 1m1 0l1 1m4 0l1 1m2 0l1 1m1 0l1 1m6 0l1 1m1 0l1 1m3 0l1 1m1 0l1 1m7 0l1 1m3 0l1 1m3 0l1 1m3 0l1 1m4 0l1 1m1 0l1 1m6 0l1 1m1 0l1 1m2 0l1 1m3 0l1 1m3 0l1 1m3 0l1 1m4 0l1 1m2 0l1 1m5 0l1 1m6 0l1 1m5 0l1 1m5 0l1 1m12 0l1 1m3 0l1 1m7 0l1 1m11 0l1 1m3 0l1 1m2 0l1-1m5 0l1 1m11 0l1 1l1-1m3 0l1 1m13 0l1 1m12 0l1 1m1 0l1-1m8 0l1 1"/>
<path class="c aw" d="M114 326l2 8l1 3l2 10l1 4l1 5l2 8l1 6l3 15l1 6l5 25l1 4l7 35l1 4l1 5l1 4l1 5l1 4l1 5l7 28l4 12m10 13h1m1 1h1m1 1h1m1 1h8m1-1h3m1-1h1m1-1h2m1-1h1m2-2h2m1-1h1m1-1h1m6-6h1m2-2h1m2-2h1m24-25h1m14-17h1m31-48l1-3m2-4l1-3m1-2l1-3m1-2l1-3m1-2l1-3m2-4l1-3m2-4l1-3m1-2l2-6m1-2l1-3m5-10l1-3m1-2l2-6m2-4l1-3m2-4l1-3m1-2l11-33m1-2l2-6m1-2l1-3m1-2l1-3m1-2l1-3m6-10l1-3m7-14l1-3m18-23h1m3-3h1m3-3h2m1-1h2m1-1h2m2 0h2m1 1h1m1 1h1m10 15l1 3m6 12l1 3m1 2l2 6m1 2l5 15m1 2l3 9l1 4l9 27l2 8l1 3l1 4l1 3l9 36l1 5l2 8l1 3l3 12l1 5l4 16l1 5l2 8l2 10l1 4l1 5l1 4l1 5l1 4l4 20l1 4l1 5l1 4l2 10l1 4l2 10l2 8l1 5l1 3l2 8l1 3l1 4l1 3l4 16l1 3l2 8l1 3l1 4l1 3l1 4l4 12m1 2l1 3m20 28h1m5 5h1m2 2h1m1 1h4m1 1h1m1 1h12m2 0h7m2 0h2m1-1h2m1-1h2m1-1h3m1-1h3m1-1h3m1-1h4m1-1h1m1-1h6m1-1h4m2 0h2m1-1h6m1-1h11m1-1h25m1-1h1m1 1h15m1 1h7m1 1h6m1 1h3m1 1h2m1 1h2m1 1h3m1 1h2m1 1h3m1 1h3m1 1h1m1 1h2m1 1h3m1 1h3m1 1h2m1 1h4m1 1h2m1 1h1m1 1h1m1 1h6m1 1h1m1 1h3m1 1h2m1 1h6m1 1h2m1 1h2m1 1h1m2 0h3m1 1h4m1 1h1m1 1h4m1 1h2m1 1h3m1 1h2m1 1h5m1 1h1m1 1h4m1 1h1m1 1h6m1 1h3m1 1h6m1 1h3m1 1h6m1 1h6m1 1h5m1 1h8m1 1h9m1 1h9m1 1h9m1 1h11m1 1h16m1 1h4m1-1h2m1 1h15m2 0h5m1 1h27"/>
<path class="c cw" d="M159 523l2 4m2 2l1 2m57-18l1-2m22-21l1-2m1-1l1-2m3-3l1-2m4-3l1-2m1-1l1-2m2-2l1-2m1-1l1-2m1-1l5-10m1-1l2-4m3-3l1-2m1-1l2-4m1-1l1-2m2-2l2-4m1-3l2-4m1-3l1-2m1-3l1-2m1-3l1-2m1-3l2-4m1-3l2-4m1-3l1-2m2-6l1-2m1-3l5-10m1-3l1-2m2-6l2-4m1-3l2-4m1-3l1-2m11-33l1-2m2-6l1-2m1-3l1-2m1-3l1-2m2-4l1-2m1-1l3-6m1-3l7-14m2-4l1-2m1-1l1-2m2-2l1-2m1-1l1-2m1-1l1-2m31-13l3 6m1 1l1 2m3 3l1 2m2 4l6 12m1 3l1 2m2 6l1 2m5 15l1 2m85 332l1 2m1 3l7 14m3 3l1 2"/>
<path class="c bw" d="M158 522l1 1m2 4l2 2m1 2l4 4m1 0l1 1m1 0l1 1m1 0l1 1m8 0l1-1m3 0l1-1m1 0l1-1m2 0l1-1m1 0l2-2m2 0l1-1m1 0l1-1m1 0l6-6m1 0l2-2m1 0l2-2m1 0l7-7m1-2l16-16m1 0l5-5m1-2l1-1m1-2l3-3m1-2l2-2m1 0l1-1m1-2l1-1m1-2l2-2m1-2l1-1m1-2l1-1m5-10l1-1m2-4l3-3m1-2l1-1m2-4l1-1m1-2l2-2m59-149l1-1m1-2l1-1m12-26l1-1m1-2l1-1m1-2l2-2m1-2l1-1m1-2l1-1m1-2l7-7m1 0l3-3m1 0l3-3m2 0l1-1m2 0l1-1m2 0l1-1l1 1m2 0l1 1m1 0l1 1m4 6l1 1m1 2l3 3m1 2l1 1m112 396l3 3m1 2l9 9m1 0l5 5m1 0l2 2m1 0l1 1m4 0l1 1m1 0l1 1m12 0l1 1l1-1m7 0l1-1l1 1m2 0l1-1m2 0l1-1m2 0l1-1m3 0l1-1m3 0l1-1m3 0l1-1m4 0l1-1m1 0l1-1m6 0l1-1m4 0l1-1l1 1m2 0l1-1m6 0l1-1m11 0l1-1m25 0l1-1m1 0l1 1m15 0l1 1m7 0l1 1m6 0l1 1m3 0l1 1m2 0l1 1m2 0l1 1m3 0l1 1m2 0l1 1m3 0l1 1m3 0l1 1m1 0l1 1m2 0l1 1m3 0l1 1m3 0l1 1m2 0l1 1m4 0l1 1m2 0l1 1m1 0l1 1m1 0l1 1m6 0l1 1m1 0l1 1m3 0l1 1m2 0l1 1m6 0l1 1m2 0l1 1m2 0l1 1m1 0l1-1l1 1m3 0l1 1m4 0l1 1m1 0l1 1m4 0l1 1m2 0l1 1m3 0l1 1m2 0l1 1m5 0l1 1m1 0l1 1m4 0l1 1m1 0l1 1m6 0l1 1m3 0l1 1m6 0l1 1m3 0l1 1m6 0l1 1m6 0l1 1m5 0l1 1m8 0l1 1m9 0l1 1m9 0l1 1m9 0l1 1m11 0l1 1m16 0l1 1m4 0l1-1m2 0l1 1m15 0l1 1l1-1m5 0l1 1"/>
<path class="f aw" d="M114 325l1 5l4 16l1 5l1 4l1 5l1 4l1 6l2 10l1 6l7 35l1 4l6 30l1 4l1 5l1 4l1 5l2 8l1 5l6 24l3 9m9 14h1m3 3h1m1 1h1m1 1h2m1 1h2m1-1h1m1-1h3m1-1h2m1-1h1m1-1h2m1-1h1m1-1h1m1-1h1m1-1h1m4-4h1m3-3h1m2-2h1m11-12h1m9-11h1m52-72l1-3m1-2l1-3m2-4l1-3m1-2l1-3m3-6l1-3m2-4l2-6m1-2l1-3m2-4l1-3m4-8l1-3m1-2l1-3m1-2l1-3m1-2l1-3m2-4l1-3m1-2l8-24m1-2l1-3m1-2l1-3m1-2l2-6m1-2l1-3m9-17l1-3m21-33h1m6-7h1m1-1h1m1-1h2m1-1h1m1-1h3m1-1h2m1 1h1m1 1h1m1 1h1m1 2l1 3m8 10l1 3m4 7l1 3m2 4l2 6m1 2l2 6m1 2l14 42m1 2l1 3l1 4l1 3l2 8l1 3l4 16l1 3l4 16l1 5l3 12l1 3l2 8l1 5l4 16l1 5l2 8l1 5l2 8l2 10l1 4l1 5l1 4l1 5l1 4l2 10l1 4l1 5l1 4l1 5l1 4l2 10l1 4l1 5l4 16l1 3l1 4l1 3l3 12l1 3l1 4l1 3l1 4l1 3l1 4l1 3l1 4l1 3l1 4l3 9m2 4l1 3m18 25h1m3 3h1m1 1h1m2 2h1m1 1h1m2 2h3m1 1h8m1 1h4m2 0h2m1-1h5m1-1h6m1-1h2m1-1h3m1-1h1m1-1h2m1-1h2m1-1h7m1-1h2m1-1h4m1-1h9m1-1h10m1-1h8m1-1h2m1 1h5m1-1h2m1 1h1m1-1h14m1 1h3m2 0h4m1 1h11m1 1h4m1 1h1m1 1h2m1 1h3m1 1h3m1 1h1m1 1h3m1 1h3m1 1h1m1 1h4m1 1h3m1 1h1m1 1h3m1 1h1m1 1h4m1 1h3m1 1h1m1 1h3m1 1h2m1 1h4m1 1h2m1 1h4m1 1h4m1 1h5m1 1h1m1 1h2m1 1h6m1 1h2m1 1h2m1 1h4m1 1h2m1 1h3m1 1h4m1 1h1m1 1h3m1 1h5m1 1h2m1 1h4m1 1h4m3 1h2m1 1h9m1 1h9m1 1h8m1 1h8m1 1h8m1 1h3m1 1h3m1-1h5m1 1h11m1 1h25m1 1h14m1 1h2m1-1h2m1 1h10m1-1h4m1 1h7"/>
<path class="f cw" d="M157 519l4 8m2 2l1 2m57-18l1-2m3-2l1-2m7-7l1-2m13-12l1-2m3-3l1-2m6-6l1-2m1-1l1-2m1-1l2-4m1-1l1-2m1-1l2-4m1-1l2-4m1-1l1-2m2-2l2-4m2-2l1-2m1-1l5-10m1-3l1-2m1-3l2-4m1-3l1-2m1-3l3-6m1-3l2-4m2-6l1-2m1-3l2-4m1-3l4-8m1-3l1-2m1-3l1-2m1-3l1-2m1-3l2-4m1-3l1-2m8-24l1-2m1-3l1-2m1-3l1-2m2-6l1-2m1-3l4-8m1-1l4-8m1-3l5-10m1-1l4-8m3-3l1-2m1-1l1-2m1-1l1-2m4-3l1-2m26-7l1 2m3 5l1 2m3 3l1 2m2 4l1 2m1 1l2 4m1 3l2 4m2 6l1 2m2 6l1 2m14 42l1 2m74 296l2 4m1 3l4 8m1 1l1 2m1 1l1 2m2 2l1 2"/>
<path class="f bw" d="M161 527l2 2m1 2l2 2m1 0l3 3m1 0l1 1m1 0l1 1m2 0l1 1m2 0l1-1m1 0l1-1m3 0l1-1m2 0l1-1m1 0l1-1m2 0l1-1m1 0l1-1m1 0l1-1m1 0l1-1m1 0l4-4m1 0l3-3m1 0l2-2m1 0l8-8m1-2l2-2m2-2l7-7m2-2l12-12m1-2l3-3m1-2l6-6m1-2l1-1m1-2l1-1m2-4l1-1m1-2l1-1m2-4l1-1m2-4l1-1m1-2l2-2m2-4l2-2m1-2l1-1m62-151l1-1m10-21l1-1m4-8l3-3m1-2l1-1m1-2l1-1m1-2l3-3m2-2l5-5m1 0l1-1m1 0l1-1m2 0l1-1m1 0l1-1m3 0l1-1m2 0l1 1m1 0l1 1m1 0l1 1m3 5l2 2m1 2l3 3m1 2l1 1m2 5l1 1m107 382l1 1m1 2l1 1m1 2l2 2m1 2l7 7m1 0l3 3m1 0l1 1m1 0l2 2m1 0l1 1m1 0l2 2m3 0l1 1m8 0l1 1m4 0l1-1l1 1m2 0l1-1m5 0l1-1m6 0l1-1m2 0l1-1m3 0l1-1m1 0l1-1m2 0l1-1m2 0l1-1m7 0l1-1m2 0l1-1m4 0l1-1m9 0l1-1m10 0l1-1m8 0l1-1m2 0l1 1m5 0l1-1m2 0l1 1m1 0l1-1m14 0l1 1m3 0l1-1l1 1m4 0l1 1m11 0l1 1m4 0l1 1m1 0l1 1m2 0l1 1m3 0l1 1m3 0l1 1m1 0l1 1m3 0l1 1m3 0l1 1m1 0l1 1m4 0l1 1m3 0l1 1m1 0l1 1m3 0l1 1m1 0l1 1m4 0l1 1m3 0l1 1m1 0l1 1m3 0l1 1m2 0l1 1m4 0l1 1m2 0l1 1m4 0l1 1m4 0l1 1m5 0l1 1m1 0l1 1m2 0l1 1m6 0l1 1m2 0l1 1m2 0l1 1m4 0l1 1m2 0l1 1m3 0l1 1m4 0l1 1m1 0l1 1m3 0l1 1m5 0l1 1m2 0l1 1m4 0l1 1m4 0l1-1l2 2m2 0l1 1m9 0l1 1m9 0l1 1m8 0l1 1m8 0l1 1m8 0l1 1m3 0l1 1m3 0l1-1m5 0l1 1m11 0l1 1m25 0l1 1m14 0l1 1m2 0l1-1m2 0l1 1m10 0l1-1m4 0l1 1"/>
<path class="l aw" d="M114 326l4 16l1 5l1 4l1 5l1 4l4 20l2 12l2 10l1 4l4 20l1 4l4 20l1 4l2 10l1 4l2 10l5 20l1 5l1 3l1 4l4 12m9 12h1m2 2h1m1 1h1m1 1h3m2 0h2m1-1h3m1-1h3m1-1h2m1-1h1m1-1h1m1-1h1m2-2h1m4-4h1m4-4h1m2-2h1m6-7h1m17-18h1m17-21h1m30-47l1-3m2-4l1-3m1-2l1-3m3-6l2-6m4-8l2-6m1-2l2-6m6-12l1-3m1-2l1-3m3-6l1-3m1-2l1-3m1-2l2-6m1-2l7-21m1-2l1-3m2-4l1-3m1-2l1-3m1-2l1-3m37-54h1m1-1h2m1-1h1m1-1h2m1-1h4m1 1h3m1 1h1m1 2l1 3m14 23l1 3m2 4l1 3m1 2l5 15m1 2l3 9l1 4m1 2l11 33l5 20l1 3l10 40l1 3l2 8l1 5l5 20l1 5l1 4l1 5l1 4l1 5l2 8l2 10l1 4l1 5l2 8l1 5l1 4l1 5l1 4l1 5l1 4l2 10l6 24l1 3l1 4l2 6l3 12l1 3l2 8l1 3l1 4l6 18m1 2l1 3m17 25h1m4 5h1m1 1h1m2 2h1m1 1h2m1 1h2m1 1h1m1 1h3m1 1h9m1-1h10m1-1h3m1-1h3m1-1h3m1-1h3m1-1h2m1-1h2m1-1h3m1-1h4m1-1h3m1-1h2m1 1h2m1-1h4m1-1h9m1-1h7m1-1h3m2 0h21m2 0h7m1 1h8m1 1h7m1 1h4m1 1h2m1 1h2m1 1h3m1 1h3m1 1h3m1 1h4m1 1h1m1 1h3m1 1h1m1 1h4m2 2h5m1 1h1m1 1h2m1 1h2m1 1h2m1 1h4m1 1h2m1 1h4m1 1h2m1 1h4m1 1h2m1 1h3m1 1h5m1 1h3m1 1h2m1 1h3m1 1h5m1 1h1m1 1h3m1 1h1m1 1h6m1 1h1m1 1h6m1 1h2m1 1h3m1 1h5m1 1h4m1 1h6m1 1h7m1 1h6m1 1h10m1 1h4m1 1h9m1 1h11m1 1h14m1 1h18m1 1h29m1 1h5m2 0h15"/>
<path class="l cw" d="M158 522l1 2m1 1l1 2m2 2l1 2m54-15l1-2m4-3l1-2m19-18l1-2m3-3l1-2m2-2l1-2m2-2l1-2m3-2l1-2m3-3l2-4m1-1l2-4m1-1l1-2m1-1l3-6m3-3l1-2m1-1l1-2m2-2l1-2m1-1l5-10m1-3l2-4m1-3l1-2m1-3l3-6m2-6l4-8m2-6l1-2m2-6l6-12m1-3l1-2m1-3l3-6m1-3l1-2m1-3l1-2m2-6l1-2m7-21l1-2m1-3l2-4m1-3l1-2m1-3l1-2m3-5l14-28m2-2l1-2m1-1l1-2m3-3l1-2m32-14l1 2m3 5l1 2m1 1l1 2m2 2l7 14m1 3l2 4m1 3l1 2m5 15l1 2m4 13l1 2m81 312l1 2m1 3l6 12m1 1l1 2m3 3l1 2m7 6l1 2"/>
<path class="l bw" d="M159 524l1 1m1 2l2 2m1 2l3 3m1 0l2 2m1 0l1 1m1 0l1 1m3 0l1 1l1-1m2 0l1-1m3 0l1-1m3 0l1-1m2 0l1-1m1 0l1-1m1 0l1-1m1 0l2-2m1 0l4-4m1 0l4-4m1 0l2-2m1 0l4-4m1-2l1-1m1 0l2-2m1-2l14-14m1 0l4-4m1-2l3-3m1-2l2-2m1-2l2-2m1-2l2-2m2-2l3-3m2-4l1-1m2-4l1-1m1-2l1-1m3-6l3-3m1-2l1-1m1-2l2-2m1-2l1-1m60-146l2-2m14-28l2-2m1-2l1-1m1-2l3-3m1-2l12-12m1 0l1-1m2 0l1-1m1 0l1-1m2 0l1-1m4 0l1 1m3 0l1 1m3 5l2 2m1 2l1 1m1 2l2 2m112 387l1 1m1 2l3 3m1 2l5 5m1 0l1 1m1 2l2 2m1 0l1 1m1 0l2 2m1 0l1 1m2 0l1 1m2 0l1 1m1 0l1 1m3 0l1 1m9 0l1-1m10 0l1-1m3 0l1-1m3 0l1-1m3 0l1-1m3 0l1-1m2 0l1-1m2 0l1-1m3 0l1-1m4 0l1-1m3 0l1-1m2 0l1 1m2 0l1-1m4 0l1-1m9 0l1-1m7 0l1-1m3 0l1 1l1-1m21 0l1 1l1-1m7 0l1 1m8 0l1 1m7 0l1 1m4 0l1 1m2 0l1 1m2 0l1 1m3 0l1 1m3 0l1 1m3 0l1 1m4 0l1 1m1 0l1 1m3 0l1 1m1 0l1 1m4 0l2 2m5 0l1 1m1 0l1 1m2 0l1 1m2 0l1 1m2 0l1 1m4 0l1 1m2 0l1 1m4 0l1 1m2 0l1 1m4 0l1 1m2 0l1 1m3 0l1 1m5 0l1 1m3 0l1 1m2 0l1 1m3 0l1 1m5 0l1 1m1 0l1 1m3 0l1 1m1 0l1 1m6 0l1 1m1 0l1 1m6 0l1 1m2 0l1 1m3 0l1 1m5 0l1 1m4 0l1 1m6 0l1 1m7 0l1 1m6 0l1 1m10 0l1 1m4 0l1 1m9 0l1 1m11 0l1 1m14 0l1 1m18 0l1 1m29 0l1 1m5 0l1-1l1 1"/>
<path class="s aw" d="M114 326l4 16l1 5l1 4l1 5l1 4l3 15l1 6l1 5l1 6l2 10l1 4l3 15l1 4l6 30l1 4l1 5l1 4l1 5l2 8l1 5l3 12l1 5l1 3l2 8m1 2l2 6m10 13h1m3 3h3m1 1h3m1-1h4m1-1h1m1-1h1m1-1h2m1-1h2m1-1h2m2-2h1m5-5h1m4-4h1m3-3h1m26-27h1m42-58l1-3m3-6l1-3m1-2l1-3m5-10l1-3m4-8l4-12m9-18l2-6m2-4l1-3m1-2l1-3m1-2l1-3m2-4l7-21m1-2l1-3m2-4l1-3m1-2l1-3m2-4l1-3m35-51h1m1-1h1m1-1h1m2-2h1m1-1h2m1-1h2m1 1h2m1 1h2m1 1h1m1 2l1 3m8 9l1 4m6 11l1 3m1 2l2 6m1 2l3 9m1 2l3 9l1 4l1 3m1 2l1 3m1 2l1 3l1 4l2 6m1 2l1 3l1 4l2 6l2 8l1 3l7 28l1 3l1 4l1 5l2 8l1 3l1 4l1 3l2 8l1 5l5 20l1 5l1 4l1 5l1 4l1 5l2 8l1 5l1 4l1 5l1 4l1 5l1 4l1 5l1 4l1 5l1 4l1 5l1 4l1 5l4 16l1 3l1 4l2 6l1 4l1 3l2 8l1 3l3 12l1 3l1 4l5 15m1 2l1 3m1 2l1 3m20 26h1m3 3h1m1 1h1m1 1h1m1 1h1m1 1h3m1 1h8m1 1h8m1-1h5m1-1h3m1-1h4m1-1h3m1-1h3m1-1h3m1-1h2m1-1h2m1-1h5m1-1h5m1-1h8m1-1h5m1-1h11m1-1h40m1 1h5m1 1h6m1 1h2m1 1h4m1 1h1m1 1h2m1 1h4m1 1h4m1 1h1m1 1h2m1 1h2m1 1h2m1 1h4m1 1h2m1 1h2m1 1h2m1 1h3m1 1h2m1 1h3m1 1h2m1 1h3m1 1h2m1 1h4m1 1h2m1 1h4m1 1h4m1 1h2m1 1h5m1 1h2m1 1h2m1 1h5m1 1h2m1 1h5m2 2h3m1 1h2m1 1h5m1 1h4m1 1h2m1 1h4m1 1h7m1 1h3m1 1h9m1 1h7m1 1h6m1 1h9m1 1h8m1 1h2m1 1h3m1-1h4m1 1h5m1 1h1m1-1h6m2 0h6m1 1h8m1 1h12m2 0h3m2 0h9m1 1h23"/>
<path class="s cw" d="M155 514l1 2m2 6l2 4m1 1l1 2m61-18l1-2m21-20l1-2m1-1l1-2m2-2l1-2m8-8l1-2m1-1l1-2m1-1l2-4m1-1l1-2m1-1l2-4m1-1l1-2m1-1l1-2m1-1l1-2m2-2l1-2m2-2l2-4m2-4l3-6m1-3l1-2m1-3l5-10m1-3l4-8m4-12l9-18m2-6l2-4m1-3l1-2m1-3l1-2m1-3l2-4m7-21l1-2m1-3l2-4m1-3l1-2m1-3l2-4m2-4l1-2m1-1l10-20m1-1l2-4m1-1l1-2m2-2l1-2m1-1l1-2m34-15l1 2m3 5l1 2m6 9l1 2m1 1l4 8m1 3l1 2m2 6l1 2m3 9l1 2m5 16l1 2m1 3l1 2m4 13l1 2m73 286l1 2m1 3l1 2m1 3l4 8m1 1l1 2m1 1l1 2"/>
<path class="s bw" d="M160 526l1 1m1 2l6 6m1 0l3 3m3 0l1 1m3 0l1-1m4 0l1-1m1 0l1-1m1 0l1-1m2 0l1-1m2 0l1-1m2 0l2-2m1 0l5-5m1 0l4-4m1 0l3-3m1 0l8-8m1-2l17-17m1 0l3-3m1-2l1-1m1-2l2-2m1-2l8-8m1-2l1-1m1-2l1-1m2-4l1-1m1-2l1-1m2-4l1-1m1-2l1-1m1-2l1-1m1-2l2-2m1-2l2-2m2-4l1-1m58-140l1-1m1-2l1-1m10-20l1-1m2-4l1-1m1-2l2-2m1-2l1-1m1-2l12-12m1 0l1-1m1 0l1-1m1 0l2-2m1 0l1-1m2 0l1-1m2 0l1 1m2 0l1 1m2 0l1 1m3 5l2 2m1 2l5 5m2 6l1 1m107 374l1 1m1 2l1 1m1 2l12 12m1 0l3 3m1 0l1 1m1 0l1 1m1 0l1 1m1 0l1 1m3 0l1 1m8 0l1 1m8 0l1-1m5 0l1-1m3 0l1-1m4 0l1-1m3 0l1-1m3 0l1-1m3 0l1-1m2 0l1-1m2 0l1-1m5 0l1-1m5 0l1-1m8 0l1-1m5 0l1-1m11 0l1-1m40 0l1 1m5 0l1 1m6 0l1 1m2 0l1 1m4 0l1 1m1 0l1 1m2 0l1 1m4 0l1 1m4 0l1 1m1 0l1 1m2 0l1 1m2 0l1 1m2 0l1 1m4 0l1 1m2 0l1 1m2 0l1 1m2 0l1 1m3 0l1 1m2 0l1 1m3 0l1 1m2 0l1 1m3 0l1 1m2 0l1 1m4 0l1 1m2 0l1 1m4 0l1 1m4 0l1 1m2 0l1 1m5 0l1 1m2 0l1 1m2 0l1 1m5 0l1 1m2 0l1 1m5 0l2 2m3 0l1 1m2 0l1 1m5 0l1 1m4 0l1 1m2 0l1 1m4 0l1 1m7 0l1 1m3 0l1 1m9 0l1 1m7 0l1 1m6 0l1 1m9 0l1 1m8 0l1 1m2 0l1 1m3 0l1-1m4 0l1 1m5 0l1 1m1 0l1-1m6 0l1 1l1-1m6 0l1 1m8 0l1 1m12 0l1 1l1-1m3 0l1 1l1-1m9 0l1 1"/>
<path class="t aw" d="M114 326l4 16l1 5l2 8l5 25l1 6l6 30l1 4l2 10l1 6l1 4l3 15l1 4l1 5l1 4l1 5l2 8l1 5l3 12l1 5l1 3l2 8l1 3m1 2l1 3m8 12h1m2 2h1m2 2h2m1 1h4m1-1h2m1-1h4m1-1h1m1-1h2m1-1h1m1-1h1m1-1h1m1-1h1m5-5h1m4-4h1m4-4h1m18-20h1m5-5h1m43-58l1-3m3-6l1-3m1-2l1-3m3-6l1-3m3-6l1-3m3-6l2-6m2-4l1-3m5-9l1-3m1-2l1-3m4-8l1-3m1-2l1-3m1-2l3-9m1-2l1-3m1-2l2-6m1-2l2-6m2-4l1-3m1-2l1-3m2-4l1-3m32-47h1m2-3h1m1-1h1m1-1h1m1-1h2m1-1h1m1-1h7m2 2h1m11 16l1 3m7 13l1 3m1 2l1 3m1 2l8 24m1 2l13 39l4 16l1 3l8 32l1 3l2 8l1 3l1 5l6 24l1 5l3 12l1 5l1 4l1 5l3 12l1 5l1 4l1 5l2 8l1 5l1 4l1 5l1 4l1 5l1 4l1 5l1 3l4 16l3 9l3 12l2 6l1 4l1 3l2 8l6 18m3 6l1 3m16 21h1m3 3h1m1 1h1m2 2h1m1 1h2m2 2h4m1 1h3m1 1h8m1-1h7m1-1h5m1-1h4m1-1h2m1-1h2m1-1h5m1-1h2m1-1h4m1-1h2m1-1h3m1-1h7m1-1h6m1-1h1m1 1h1m1-1h14m1-1h15m2 0h3m1-1h2m1 1h3m2 0h6m1 1h3m1 1h1m1-1h3m1 1h1m1 1h6m1 1h1m1 1h5m1 1h2m1 1h2m1 1h3m1 1h1m1 1h2m1 1h3m1 1h4m1 1h1m1 1h3m1 1h1m1 1h2m1 1h5m1 1h2m1 1h1m1 1h1m1 1h3m1 1h5m1 1h2m1 1h5m1 1h1m1 1h3m1 1h4m1 1h2m1 1h5m1 1h2m1 1h4m1 1h1m1 1h4m1 1h2m1 1h3m1 1h4m1 1h3m1 1h3m1 1h4m1 1h3m1 1h5m1 1h6m1 1h6m1 1h9m1 1h4m1 1h13m1 1h8m1 1h7m1 1h4m1-1h1m1 1h3m1 1h7m1-1h1m1 1h7m1 1h2m1-1h2m1 1h7m1-1h1m1 1h6m1 1h4m1-1h9m1 1h12m1-1h1m1 1h4"/>
<path class="t cw" d="M156 517l1 2m1 3l2 4m1 1l1 2m1 1l1 2m63-25l1-2m5-5l1-2m12-10l1-2m1-1l1-2m2-2l1-2m7-7l1-2m1-1l1-2m1-1l2-4m1-1l1-2m1-1l2-4m1-1l1-2m3-3l2-4m2-2l1-2m1-1l1-2m3-5l3-6m1-3l1-2m1-3l3-6m1-3l3-6m1-3l3-6m2-6l2-4m1-3l1-2m1-1l3-6m1-3l1-2m1-3l4-8m1-3l1-2m1-3l1-2m3-9l1-2m1-3l1-2m2-6l1-2m2-6l2-4m1-3l1-2m1-3l2-4m2-4l1-2m1-1l9-18m1-1l2-4m3-3l1-2m2-2l1-2m1-1l1-2m9-8l1-2m23-3l3 6m2 2l1 2m3 3l1 2m2 4l6 12m1 3l1 2m1 3l1 2m8 24l1 2m82 309l3 6m1 3l2 4m1 1l1 2m2 2l1 2m3 3l1 2"/>
<path class="t bw" d="M160 526l1 1m1 2l1 1m1 2l2 2m1 0l2 2m1 0l2 2m2 0l1 1m4 0l1-1m2 0l1-1m4 0l1-1m1 0l1-1m2 0l1-1m1 0l1-1m1 0l1-1m1 0l1-1m1 0l5-5m1 0l4-4m1 0l4-4m1 0l11-11m1-2l5-5m2-2l5-5m1 0l5-5m1-2l1-1m1-2l2-2m1-2l7-7m1-2l1-1m1-2l1-1m2-4l1-1m1-2l1-1m2-4l1-1m1-2l3-3m2-4l2-2m1-2l1-1m1-2l2-2m24-56l1-1m33-81l1-1m1-2l1-1m9-18l1-1m2-4l3-3m1-2l2-2m1-2l1-1m1-2l8-8m2-2l1-1m1 0l1-1m1 0l1-1m1 0l1-1m2 0l1-1m1 0l1-1m7 0l2 2m1 0l1 1m3 6l2 2m1 2l3 3m2 5l1 1m107 370l1 1m1 2l2 2m1 2l3 3m1 2l5 5m1 0l3 3m1 0l1 1m1 0l2 2m1 0l1 1m2 0l2 2m4 0l1 1m3 0l1 1m8 0l1-1m7 0l1-1m5 0l1-1m4 0l1-1m2 0l1-1m2 0l1-1m5 0l1-1m2 0l1-1m4 0l1-1m2 0l1-1m3 0l1-1m7 0l1-1m6 0l1-1m1 0l1 1m1 0l1-1m14 0l1-1m15 0l1-1l1 1m3 0l1-1m2 0l1 1m3 0l1-1l1 1m6 0l1 1m3 0l1 1m1 0l1-1m3 0l1 1m1 0l1 1m6 0l1 1m1 0l1 1m5 0l1 1m2 0l1 1m2 0l1 1m3 0l1 1m1 0l1 1m2 0l1 1m3 0l1 1m4 0l1 1m1 0l1 1m3 0l1 1m1 0l1 1m2 0l1 1m5 0l1 1m2 0l1 1m1 0l1 1m1 0l1 1m3 0l1 1m5 0l1 1m2 0l1 1m5 0l1 1m1 0l1 1m3 0l1 1m4 0l1 1m2 0l1 1m5 0l1 1m2 0l1 1m4 0l1 1m1 0l1 1m4 0l1 1m2 0l1 1m3 0l1 1m4 0l1 1m3 0l1 1m3 0l1 1m4 0l1 1m3 0l1 1m5 0l1 1m6 0l1 1m6 0l1 1m9 0l1 1m4 0l1 1m13 0l1 1m8 0l1 1m7 0l1 1m4 0l1-1m1 0l1 1m3 0l1 1m7 0l1-1m1 0l1 1m7 0l1 1m2 0l1-1m2 0l1 1m7 0l1-1m1 0l1 1m6 0l1 1m4 0l1-1m9 0l1 1m12 0l1-1m1 0l1 1"/>
<path class="n aw" d="M114 326l1 5l4 16l1 5l2 8l4 20l1 6l1 5l1 6l2 10l1 4l5 25l1 4l2 10l1 4l3 15l3 12l1 5l3 12l1 5l1 3l1 4l4 12m9 13h1m1 1h1m2 2h2m1 1h5m1-1h4m1-1h1m1-1h2m1-1h1m1-1h1m1-1h1m1-1h1m1-1h1m6-6h1m1-1h1m5-5h1m28-29h1m40-55l1-3m6-12l1-3m2-4l1-3m6-12l1-3m1-2l1-3m1-2l1-3m4-7l1-3m3-6l1-3m4-8l1-3m1-2l1-3m1-2l1-3m1-2l3-9m1-2l1-3m1-2l2-6m1-2l1-3m1-2l1-3m4-8l1-3m8-13l1-3m24-31h1m2-2h1m1-1h1m1-1h2m2-2h8m1 1h2m1 1h1m1 2l1 3m8 10l1 3m8 16l1 3m1 2l3 9m1 2l8 24m1 2l5 15m1 2l3 9l5 20l1 3l1 4l1 3l7 28l1 3l11 44l1 5l3 12l1 5l2 8l1 5l1 4l2 10l4 16l1 5l2 8l1 5l5 20l1 3l1 4l3 9l2 8l1 3l1 4l1 3l1 4l1 3l1 4l6 18m22 31h1m2 2h1m1 1h1m1 1h1m1 1h1m1 1h1m1 1h2m1 1h7m1 1h6m1-1h4m1 1h1m1-1h3m1-1h4m1-1h1m1-1h3m1-1h2m1-1h4m1-1h1m1-1h3m1-1h7m1-1h2m1-1h5m1-1h6m1-1h6m1-1h5m2 0h10m1-1h1m1 1h4m1-1h5m1 1h3m2 0h16m1 1h6m1 1h2m1 1h4m1 1h1m1 1h4m1 1h1m1 1h2m1 1h5m1 1h1m1 1h4m2 2h4m1 1h3m1 1h1m1 1h3m1 1h3m1 1h2m1 1h1m1 1h3m1 1h3m1 1h3m1 1h1m1 1h3m1 1h5m1 1h3m1 1h3m1 1h3m1 1h4m1 1h3m1 1h2m1 1h2m1 1h6m1 1h2m1 1h2m1 1h3m1 1h5m1 1h2m1 1h3m1 1h5m1 1h2m1 1h5m1 1h5m1 1h7m1 1h8m1 1h5m1 1h10m1 1h11m1 1h2m1 1h14m1 1h8m1-1h2m1 1h10m1 1h20m1 1h1m1-1h5m1 1h23"/>
<path class="n cw" d="M158 522l1 2m1 1l3 6m62-22l1-2m19-18l1-2m2-2l1-2m1-1l1-2m8-8l2-4m2-2l1-2m1-1l1-2m1-1l2-4m1-1l2-4m2-2l1-2m3-3l1-2m2-2l2-4m2-4l6-12m1-3l2-4m1-3l6-12m1-3l1-2m1-3l1-2m1-3l3-6m2-4l3-6m1-3l4-8m1-3l1-2m1-3l1-2m1-3l1-2m3-9l1-2m1-3l1-2m2-6l1-2m1-3l1-2m1-3l4-8m2-4l1-2m1-1l1-2m1-1l3-6m2-4l3-6m2-2l1-2m1-1l1-2m1-1l1-2m3-3l1-2m33-13l1 2m2 4l2 4m6 8l8 16m1 3l1 2m3 9l1 2m8 24l1 2m5 15l1 2m73 280l7 14m2 2l1 2m1 1l1 2"/>
<path class="n bw" d="M159 524l1 1m3 6l4 4m1 0l1 1m1 0l2 2m2 0l1 1m5 0l1-1m4 0l1-1m1 0l1-1m2 0l1-1m1 0l1-1m1 0l1-1m1 0l1-1m1 0l1-1m1 0l6-6m1 0l1-1m1 0l5-5m1 0l10-10m1-2l17-17m1 0l1-1m1-2l2-2m1-2l1-1m1-2l8-8m2-4l2-2m1-2l1-1m1-2l1-1m2-4l1-1m2-4l2-2m1-2l3-3m1-2l2-2m2-4l1-1m25-56l1-1m32-78l1-1m1-2l1-1m1-2l1-1m4-9l1-1m3-6l2-2m1-2l1-1m1-2l1-1m1-2l3-3m1-2l9-9m1 0l2-2m1 0l1-1m1 0l1-1m2 0l2-2m8 0l1 1m2 0l1 1m3 5l1 1m2 4l5 5m110 372l2 2m1 2l1 1m1 2l10 10m1 0l2 2m1 0l1 1m1 0l1 1m1 0l1 1m1 0l1 1m1 0l1 1m2 0l1 1m7 0l1 1m6 0l1-1m4 0l1 1m1 0l1-1m3 0l1-1m4 0l1-1m1 0l1-1m3 0l1-1m2 0l1-1m4 0l1-1m1 0l1-1m3 0l1-1m7 0l1-1m2 0l1-1m5 0l1-1m6 0l1-1m6 0l1-1m5 0l1 1l1-1m10 0l1-1m1 0l1 1m4 0l1-1m5 0l1 1m3 0l1-1l1 1m16 0l1 1m6 0l1 1m2 0l1 1m4 0l1 1m1 0l1 1m4 0l1 1m1 0l1 1m2 0l1 1m5 0l1 1m1 0l1 1m4 0l2 2m4 0l1 1m3 0l1 1m1 0l1 1m3 0l1 1m3 0l1 1m2 0l1 1m1 0l1 1m3 0l1 1m3 0l1 1m3 0l1 1m1 0l1 1m3 0l1 1m5 0l1 1m3 0l1 1m3 0l1 1m3 0l1 1m4 0l1 1m3 0l1 1m2 0l1 1m2 0l1 1m6 0l1 1m2 0l1 1m2 0l1 1m3 0l1 1m5 0l1 1m2 0l1 1m3 0l1 1m5 0l1 1m2 0l1 1m5 0l1 1m5 0l1 1m7 0l1 1m8 0l1 1m5 0l1 1m10 0l1 1m11 0l1 1m2 0l1 1m14 0l1 1m8 0l1-1m2 0l1 1m10 0l1 1m20 0l1 1m1 0l1-1m5 0l1 1"/>
<path class="o aw" d="M114 326l1 5l3 12l1 5l2 8l1 5l1 4l3 15l1 6l1 5l1 6l1 4l4 20l1 4l8 40l3 12l1 5l4 16l1 5l1 3l1 4l4 12m9 13h1m2 2h1m1 1h2m1 1h5m1-1h4m1-1h1m1-1h1m1-1h2m1-1h1m1-1h1m1-1h1m2-2h1m2-2h1m4-4h1m8-8h1m13-15h1m7-7h1m48-67l1-3m5-10l1-3m4-8l1-3m3-6l1-3m5-10l1-3m4-7l2-6m3-5l1-3m1-2l1-3m2-4l4-12m1-2l1-3m2-4l1-3m1-2l1-3m1-2l1-3m1-2l1-3m32-48h1m4-4h1m2-2h1m1-1h1m1-1h2m1-1h2m2 0h5m1 1h2m1 1l1 3m9 12l1 3m6 11l1 3m1 2l1 3m1 2l1 3m1 2l3 9m1 2l2 6l1 4l1 3m1 2l1 3m1 2l4 12m1 2l3 9l1 4l1 3l2 8l1 3l1 4l1 3l5 20l1 3l4 16l1 3l2 8l1 3l1 4l1 5l3 12l1 3l1 5l1 4l1 5l4 16l1 5l1 4l1 5l3 12l1 5l2 8l1 5l1 4l1 5l5 20l2 6l1 4l3 9l1 4l1 3l3 12l3 9l1 4l3 9m1 2l1 3m1 2l1 3m21 27h1m1 1h1m2 2h1m1 1h2m1 1h1m1 1h3m1 1h7m1 1h6m1-1h6m1-1h6m1-1h2m1-1h3m1-1h3m1-1h2m1-1h1m1-1h6m1-1h2m1-1h4m1-1h6m1-1h7m1-1h11m1-1h11m1-1h18m1 1h2m1-1h2m1 1h6m2 0h4m1 1h2m1 1h6m2 2h2m1 1h6m1 1h1m1 1h3m1 1h3m1 1h2m2 2h4m1 1h2m1 1h2m1 1h3m1 1h3m1 1h2m1 1h4m1 1h1m1 1h3m1 1h2m1 1h3m1 1h3m1 1h3m1 1h1m1 1h3m1 1h5m1 1h1m1 1h7m1 1h2m1 1h1m1 1h5m1 1h2m1 1h3m1 1h3m1 1h2m1 1h3m1 1h4m1 1h2m1 1h5m1 1h4m1 1h5m1 1h3m1 1h6m2 0h3m1 1h4m1 1h8m1 1h10m1 1h8m1 1h10m1 1h9m1 1h11m1-1h1m1 1h6m1 1h1m1-1h2m1 1h9m1 1h3m1-1h7m1 1h1m1-1h1m1 1h4m1-1h5m1 1h10"/>
<path class="o cw" d="M158 522l2 4m1 1l1 2m1 1l1 2m58-20l1-2m7-7l1-2m13-11l1-2m2-2l1-2m2-2l1-2m9-9l1-2m1-1l1-2m1-1l1-2m1-1l3-6m1-1l1-2m1-1l1-2m3-3l1-2m3-3l1-2m1-1l6-12m1-3l5-10m1-3l4-8m1-3l3-6m1-3l5-10m2-4l3-6m3-7l2-4m1-3l1-2m1-3l2-4m4-12l1-2m1-3l2-4m1-3l1-2m1-3l1-2m1-3l1-2m1-3l3-6m2-2l1-2m1-1l8-16m2-2l1-2m2-2l1-2m1-1l1-2m2-2l1-2m35-10l1 2m3 3l1 2m1 1l1 2m3 5l2 4m1 1l3 6m1 3l1 2m1 3l1 2m1 3l1 2m3 9l1 2m4 13l1 2m1 3l1 2m4 12l1 2m72 274l1 2m1 3l1 2m1 3l4 8m1 1l1 2m1 1l1 2"/>
<path class="o bw" d="M160 526l1 1m1 2l1 1m1 2l3 3m1 0l2 2m1 0l1 1m2 0l1 1m5 0l1-1m4 0l1-1m1 0l1-1m1 0l1-1m2 0l1-1m1 0l1-1m1 0l1-1m1 0l2-2m1 0l2-2m1 0l4-4m1 0l8-8m1 0l4-4m1-2l7-7m2-2l7-7m1 0l4-4m1-2l2-2m1-2l2-2m1-2l9-9m1-2l1-1m1-2l1-1m1-2l1-1m3-6l1-1m1-2l1-1m1-2l3-3m1-2l3-3m1-2l1-1m28-61l1-1m5-12l1-1m25-61l2-2m1-2l1-1m8-16l2-2m1-2l2-2m1-2l1-1m1-2l2-2m1-2l6-6m1 0l4-4m1 0l2-2m1 0l1-1m1 0l1-1m2 0l1-1m2 0l1-1l1 1m5 0l1 1m2 0l1 1m2 5l3 3m1 2l1 1m1 2l2 2m3 7l1 1m105 358l1 1m1 2l1 1m1 2l13 13m1 0l1 1m1 0l2 2m1 0l1 1m2 0l1 1m1 0l1 1m3 0l1 1m7 0l1 1m6 0l1-1m6 0l1-1m6 0l1-1m2 0l1-1m3 0l1-1m3 0l1-1m2 0l1-1m1 0l1-1m6 0l1-1m2 0l1-1m4 0l1-1m6 0l1-1m7 0l1-1m11 0l1-1m11 0l1-1m18 0l1 1m2 0l1-1m2 0l1 1m6 0l1 1l1-1m4 0l1 1m2 0l1 1m6 0l2 2m2 0l1 1m6 0l1 1m1 0l1 1m3 0l1 1m3 0l1 1m2 0l2 2m4 0l1 1m2 0l1 1m2 0l1 1m3 0l1 1m3 0l1 1m2 0l1 1m4 0l1 1m1 0l1 1m3 0l1 1m2 0l1 1m3 0l1 1m3 0l1 1m3 0l1 1m1 0l1 1m3 0l1 1m5 0l1 1m1 0l1 1m7 0l1 1m2 0l1 1m1 0l1 1m5 0l1 1m2 0l1 1m3 0l1 1m3 0l1 1m2 0l1 1m3 0l1 1m4 0l1 1m2 0l1 1m5 0l1 1m4 0l1 1m5 0l1 1m3 0l1 1m6 0l1 1l1-1m3 0l1 1m4 0l1 1m8 0l1 1m10 0l1 1m8 0l1 1m10 0l1 1m9 0l1 1m11 0l1-1m1 0l1 1m6 0l1 1m1 0l1-1m2 0l1 1m9 0l1 1m3 0l1-1m7 0l1 1m1 0l1-1m1 0l1 1m4 0l1-1m5 0l1 1"/>
<path class="g aw" d="M114 327l5 20l1 5l1 4l1 5l1 4l1 5l1 6l2 10l1 6l1 5l1 4l5 25l1 4l6 30l1 4l1 5l1 4l1 5l4 16l1 5l1 4l1 3l2 8l1 3m1 2l1 3m9 13h1m2 2h1m1 1h1m1 1h9m1-1h3m1-1h1m2-2h1m1-1h1m1-1h1m1-1h1m1-1h1m1-1h1m3-4h1m3-3h1m4-4h1m24-25h1m48-66l1-3m6-12l1-3m5-10l1-3m1-2l1-3m2-4l1-3m6-10l1-3m1-2l1-3m6-12l1-3m1-2l2-6m1-2l1-3m1-2l2-6m2-4l1-3m3-6l1-3m34-51h1m2-2h1m2-2h1m1-1h1m1-1h2m1-1h3m1-1h3m1 1h2m1 1h1m1 1h1m1 2l1 3m16 26l1 3m1 2l2 6m1 2l2 6m1 2l2 6m1 2l5 15m1 2l4 12m1 2l1 4l2 6l1 4l2 6l2 8l1 3l4 16l1 3l3 12l1 3l1 4l1 3l2 8l1 3l1 5l4 16l1 3l1 5l4 16l1 5l4 16l1 5l2 8l1 5l2 8l1 5l7 28l1 3l1 4l4 12l2 8l1 3l1 4l1 3l1 4l3 9l1 4l2 6m1 2l1 3m19 28h1m3 3h1m2 2h1m2 2h1m1 1h1m1 1h1m1 1h8m1 1h4m1-1h1m1 1h5m1-1h4m1-1h3m1-1h4m1-1h5m1-1h1m1-1h3m1-1h1m1-1h1m1-1h6m1-1h6m1-1h1m1-1h11m1-1h1m2 0h4m1-1h15m1-1h23m1 1h12m1 1h4m1 1h3m1 1h3m1 1h2m1 1h2m1 1h3m1 1h2m1 1h4m1 1h2m1 1h2m1 1h2m1 1h3m1 1h3m1 1h2m1 1h3m1 1h1m1 1h2m1 1h2m1 1h4m1 1h2m1 1h4m1 1h1m1 1h3m1 1h2m1 1h5m1 1h5m2 2h6m1 1h2m1 1h3m1 1h2m1 1h3m1 1h3m1 1h2m1 1h3m1 1h3m1 1h3m1 1h5m1 1h3m1 1h5m1 1h4m1 1h6m1 1h4m1 1h8m1 1h6m1 1h8m1 1h11m1 1h10m1 1h2m2 0h1m1 1h1m1-1h5m1 1h17m1 1h16m1 1h2m1-1h3m1 1h8m1-1h3m1 1h15"/>
<path class="g cw" d="M156 517l1 2m1 3l3 6m1 1l1 2m41-3l1-2m16-13l1-2m19-18l1-2m6-6l1-2m2-2l1-2m7-7l1-2m3-3l2-4m1-1l2-4m1-1l1-2m1-1l1-2m3-3l1-2m2-2l1-2m2-2l2-4m1-1l4-8m1-3l6-12m1-3l5-10m1-3l1-2m1-3l2-4m2-4l2-4m1-1l2-4m1-3l1-2m1-3l6-12m1-3l1-2m2-6l1-2m1-3l1-2m2-6l2-4m1-3l3-6m1-3l5-10m2-2l1-2m1-1l7-14m1-1l1-2m1-1l1-2m1-1l1-2m4-4l1-2m34-12l1 2m2 4l1 2m4 4l1 2m1 1l8 16m1 3l1 2m2 6l1 2m2 6l1 2m2 6l1 2m5 15l1 2m4 12l1 2m71 268l1 2m1 3l7 14m1 1l1 2m2 2l1 2"/>
<path class="g bw" d="M161 528l1 1m1 2l4 4m1 0l2 2m1 0l1 1m1 0l1 1m9 0l1-1m3 0l1-1m1 0l2-2m1 0l1-1m1 0l1-1m1 0l1-1m1 0l1-1m1 0l1-1m1 0l2-2m2-2l3-3m1 0l4-4m1 0l6-6m1-2l17-17m1 0l1-1m1-2l6-6m1-2l2-2m1-2l7-7m1-2l3-3m2-4l1-1m2-4l1-1m1-2l1-1m1-2l3-3m1-2l2-2m1-2l2-2m2-4l1-1m23-51l1-1m2-4l1-1m32-74l2-2m1-2l1-1m7-14l1-1m1-2l1-1m1-2l1-1m1-2l4-4m1-2l7-7m1 0l2-2m1 0l2-2m1 0l1-1m1 0l1-1m2 0l1-1m3 0l1-1m3 0l1 1m2 0l1 1m1 0l1 1m3 5l1 1m1 2l4 4m1 2l1 1m110 363l1 1m1 2l2 2m1 2l7 7m1 0l3 3m1 0l2 2m1 0l2 2m1 0l1 1m1 0l1 1m1 0l1 1m8 0l1 1m4 0l1-1m1 0l1 1m5 0l1-1m4 0l1-1m3 0l1-1m4 0l1-1m5 0l1-1m1 0l1-1m3 0l1-1m1 0l1-1m1 0l1-1m6 0l1-1m6 0l1-1m1 0l1-1m11 0l1-1m1 0l1-1l1 1m4 0l1-1m15 0l1-1m23 0l1 1m12 0l1 1m4 0l1 1m3 0l1 1m3 0l1 1m2 0l1 1m2 0l1 1m3 0l1 1m2 0l1 1m4 0l1 1m2 0l1 1m2 0l1 1m2 0l1 1m3 0l1 1m3 0l1 1m2 0l1 1m3 0l1 1m1 0l1 1m2 0l1 1m2 0l1 1m4 0l1 1m2 0l1 1m4 0l1 1m1 0l1 1m3 0l1 1m2 0l1 1m5 0l1 1m5 0l2 2m6 0l1 1m2 0l1 1m3 0l1 1m2 0l1 1m3 0l1 1m3 0l1 1m2 0l1 1m3 0l1 1m3 0l1 1m3 0l1 1m5 0l1 1m3 0l1 1m5 0l1 1m4 0l1 1m6 0l1 1m4 0l1 1m8 0l1 1m6 0l1 1m8 0l1 1m11 0l1 1m10 0l1 1m2 0l1-1l1 1m1 0l1 1m1 0l1-1m5 0l1 1m17 0l1 1m16 0l1 1m2 0l1-1m3 0l1 1m8 0l1-1m3 0l1 1"/>
<path class="m aw" d="M114 327l5 20l1 5l1 4l6 30l1 6l2 10l1 4l5 25l1 4l4 20l1 4l2 10l1 4l1 5l3 12l1 5l3 12l1 3l1 4l3 9m11 14h1m1 1h1m1 1h3m1 1h2m1-1h2m1-1h2m1-1h3m1-1h1m1-1h1m1-1h1m1-1h1m3-3h1m3-3h1m4-4h1m3-3h1m10-11h1m7-9h1m23-25h1m30-44l1-3m8-16l1-3m5-10l1-3m2-4l1-3m13-25l1-3m2-4l1-3m1-2l1-3m1-2l1-3m1-2l2-6m1-2l1-3m6-12l1-3m31-46h1m3-3h1m1-1h1m1-1h1m1-1h1m1-1h2m1-1h2m1-1h2m1 1h5m1 1h1m2 3l1 3m8 10l1 3m8 15l2 6m1 2l1 3m1 2l2 6m1 2l3 9m1 2l5 15m1 2l2 6m1 2l1 4l3 9l1 4l1 3l2 8l1 3l1 4l1 3l2 8l1 3l4 16l1 3l1 4l1 3l15 60l1 5l3 12l1 5l3 12l1 5l8 32l3 9l1 4l2 6l2 8l2 6l1 4l2 6l1 4l3 9m1 2l2 6m22 30h1m1 1h1m1 1h1m2 2h1m1 1h1m1 1h2m1 1h3m1 1h3m2 0h6m1-1h10m1-1h2m1-1h4m1-1h3m1-1h3m1-1h2m1-1h3m1-1h2m1-1h1m1-1h2m2 0h2m1-1h5m1-1h7m1-1h7m1-1h1m1 1h2m1-1h6m1-1h4m2 0h26m1 1h12m1 1h4m1 1h1m1 1h2m1 1h4m1 1h3m1 1h1m1 1h4m1 1h2m2 2h1m1-1h1m1 1h1m1 1h3m1 1h1m1 1h4m1 1h3m1 1h1m1 1h1m1 1h3m1 1h3m1 1h1m1 1h2m1 1h6m1 1h3m1 1h2m1 1h4m1 1h2m1 1h3m1 1h3m1 1h2m1 1h3m1 1h3m1 1h2m1 1h4m1 1h4m1 1h2m1 1h2m1 1h2m1 1h3m1 1h4m1 1h4m1 1h6m1 1h5m1 1h10m1 1h3m1 1h4m1 1h9m1 1h4m1 1h2m1-1h1m1 1h6m1 1h9m1 1h1m2 0h12m1 1h22m1 1h27m1 1h4m1-1h5m1 1h8"/>
<path class="m cw" d="M159 524l2 4m3 3l1 2m52-16l1-2m7-6l1-2m4-4l1-2m17-16l1-2m3-3l1-2m5-4l1-2m2-2l2-4m1-1l1-2m1-1l1-2m1-1l2-4m2-2l1-2m2-2l1-2m3-3l1-2m2-2l2-4m1-1l2-4m1-3l8-16m1-3l5-10m1-3l2-4m1-3l2-4m1-1l10-20m1-3l2-4m1-3l1-2m1-3l1-2m1-3l1-2m2-6l1-2m1-3l6-12m1-3l3-6m1-1l1-2m1-1l1-2m1-1l3-6m1-1l3-6m1-1l1-2m2-2l1-2m2-2l1-2m4-4l1-2m32-9l1 2m3 5l1 2m3 3l1 2m2 4l1 2m1 1l6 12m2 6l1 2m1 3l1 2m2 6l1 2m3 9l1 2m5 15l1 2m2 6l1 2m70 262l1 2m2 6l6 12m1 1l2 4"/>
<path class="m bw" d="M158 523l1 1m2 4l3 3m1 2l4 4m1 0l1 1m1 0l1 1m3 0l1 1m2 0l1-1m2 0l1-1m2 0l1-1m3 0l1-1m1 0l1-1m1 0l1-1m1 0l1-1m1 0l3-3m1 0l3-3m1 0l4-4m1 0l3-3m1 0l3-3m1-2l6-6m2-2l4-4m1-2l1-1m1 0l15-15m1-2l3-3m1-2l3-3m1 0l1-1m1-2l2-2m2-4l1-1m1-2l1-1m1-2l1-1m2-4l2-2m1-2l2-2m1-2l3-3m1-2l2-2m2-4l1-1m23-50l1-1m33-74l1-1m1-2l1-1m1-2l1-1m3-6l1-1m3-6l1-1m1-2l2-2m1-2l2-2m1-2l4-4m1-2l3-3m1 0l3-3m1 0l1-1m1 0l1-1m1 0l1-1m1 0l1-1m2 0l1-1m2 0l1-1m2 0l1 1m5 0l1 1m1 0l1 1m2 5l2 2m1 2l3 3m1 2l1 1m2 5l1 1m106 351l1 1m2 4l13 13m1 0l1 1m1 0l1 1m1 0l2 2m1 0l1 1m1 0l1 1m2 0l1 1m3 0l1 1m3 0l1-1l1 1m6 0l1-1m10 0l1-1m2 0l1-1m4 0l1-1m3 0l1-1m3 0l1-1m2 0l1-1m3 0l1-1m2 0l1-1m1 0l1-1m2 0l1 1l1-1m2 0l1-1m5 0l1-1m7 0l1-1m7 0l1-1m1 0l1 1m2 0l1-1m6 0l1-1m4 0l1 1l1-1m26 0l1 1m12 0l1 1m4 0l1 1m1 0l1 1m2 0l1 1m4 0l1 1m3 0l1 1m1 0l1 1m4 0l1 1m2 0l2 2m1 0l1-1m1 0l1 1m1 0l1 1m3 0l1 1m1 0l1 1m4 0l1 1m3 0l1 1m1 0l1 1m1 0l1 1m3 0l1 1m3 0l1 1m1 0l1 1m2 0l1 1m6 0l1 1m3 0l1 1m2 0l1 1m4 0l1 1m2 0l1 1m3 0l1 1m3 0l1 1m2 0l1 1m3 0l1 1m3 0l1 1m2 0l1 1m4 0l1 1m4 0l1 1m2 0l1 1m2 0l1 1m2 0l1 1m3 0l1 1m4 0l1 1m4 0l1 1m6 0l1 1m5 0l1 1m10 0l1 1m3 0l1 1m4 0l1 1m9 0l1 1m4 0l1 1m2 0l1-1m1 0l1 1m6 0l1 1m9 0l1 1m1 0l1-1l1 1m12 0l1 1m22 0l1 1m27 0l1 1m4 0l1-1m5 0l1 1"/>
<path class="p aw" d="M114 327l4 16l1 5l2 8l1 5l1 4l1 6l3 15l1 6l3 15l1 4l4 20l1 4l1 5l1 6l1 5l1 4l1 5l1 4l1 5l1 4l1 5l4 16l1 5l1 4l1 3l2 8l3 9m10 13h1m1 1h1m2 2h2m1 1h3m1-1h2m1-1h3m1-1h1m1-1h2m1-1h1m1-1h1m1-1h1m2-2h1m1-1h1m8-8h1m2-2h1m22-24h1m4-4h1m50-71l1-3m6-11l1-3m3-6l1-3m8-15l1-3m9-18l1-3m2-4l1-3m1-2l1-3m1-2l1-3m3-6l1-3m1-2l1-3m33-49h1m5-5h2m1-1h1m2-2h1m1-1h6m1-1h3m1 1h2m1 1h1m2 3l1 3m8 9l1 4m7 13l1 3m2 4l1 3m1 2l2 6m1 2l1 3m1 2l4 12m1 2l4 12m1 2l6 18l1 4l1 3l1 4l1 3l2 8l1 3l2 8l1 3l3 12l2 6l1 4l1 3l2 8l1 3l4 16l1 5l1 4l1 3l3 12l1 5l4 16l1 5l5 20l1 5l7 28l3 9l1 4l4 12l1 4l1 3l1 4l8 24m1 2l1 3m17 24h1m4 4h1m2 2h1m1 1h2m1 1h2m1 1h2m1 1h4m1 1h14m1-1h4m1-1h4m1-1h4m1-1h2m1-1h2m1-1h1m1-1h4m1-1h2m1-1h4m1-1h3m1-1h4m1-1h9m1-1h5m1-1h13m1-1h1m1 1h1m1-1h11m1-1h5m1 1h13m1 1h11m1 1h1m1 1h1m1 1h5m1 1h2m1 1h4m1 1h1m1 1h5m1 1h1m1 1h2m1 1h3m1 1h2m1 1h2m1 1h1m1 1h3m1 1h2m1 1h4m1 1h2m1 1h2m1 1h2m1 1h3m1 1h2m1 1h4m1 1h3m1 1h2m1 1h4m1 1h2m1 1h4m1 1h3m1 1h3m1 1h3m1 1h3m1 1h2m1 1h5m1 1h1m1 1h4m1 1h1m1 1h6m1 1h2m1 1h2m1 1h5m1 1h4m1 1h1m1-1h1m1 1h2m1 1h7m1 1h4m1 1h9m1 1h11m1 1h9m1 1h9m1 1h12m1 1h15m1 1h1m1-1h1m1 1h17m1 1h11m1-1h3m1 1h16"/>
<path class="p cw" d="M159 524l2 4m1 1l1 2m59-19l1-2m6-6l1-2m13-11l1-2m3-3l1-2m11-11l1-2m1-1l1-2m1-1l1-2m1-1l1-2m1-1l2-4m2-2l1-2m2-2l1-2m2-2l1-2m1-1l1-2m2-2l1-2m1-1l8-16m1-3l2-4m1-1l3-6m1-3l3-6m1-3l5-10m1-1l2-4m1-3l9-18m1-3l2-4m1-3l1-2m1-3l1-2m1-3l3-6m1-3l1-2m1-3l6-12m3-3l3-6m1-1l3-6m1-1l2-4m1-1l1-2m4-4l1-2m37-14l1 2m4 6l1 2m6 9l6 12m1 3l2 4m1 3l1 2m2 6l1 2m1 3l1 2m4 12l1 2m4 12l1 2m74 269l1 2m1 3l4 8m1 1l1 2m2 2l1 2m1 1l1 2"/>
<path class="p bw" d="M158 523l1 1m2 4l1 1m1 2l5 5m1 0l1 1m1 0l2 2m2 0l1 1m3 0l1-1m2 0l1-1m3 0l1-1m1 0l1-1m2 0l1-1m1 0l1-1m1 0l1-1m1 0l2-2m1 0l1-1m1 0l8-8m1 0l2-2m1 0l8-8m1-2l6-6m1-2l6-6m1 0l4-4m1 0l1-1m1-2l3-3m1-2l11-11m1-2l1-1m1-2l1-1m1-2l1-1m1-2l1-1m2-4l2-2m1-2l2-2m1-2l2-2m1-2l1-1m1-2l2-2m1-2l1-1m11-23l1-1m13-28l1-1m32-71l3-3m3-6l1-1m3-6l1-1m2-4l1-1m1-2l4-4m1-2l7-7m1 0l5-5m2 0l1-1m1 0l2-2m1 0l1-1m6 0l1-1m3 0l1 1m2 0l1 1m1 0l1 1m2 5l3 3m1 2l4 4m1 4l1 1m106 347l1 1m1 2l2 2m1 2l1 1m1 2l6 6m1 0l4 4m1 0l2 2m1 0l1 1m2 0l1 1m2 0l1 1m2 0l1 1m4 0l1 1m14 0l1-1m4 0l1-1m4 0l1-1m4 0l1-1m2 0l1-1m2 0l1-1m1 0l1-1m4 0l1-1m2 0l1-1m4 0l1-1m3 0l1-1m4 0l1-1m9 0l1-1m5 0l1-1m13 0l1-1m1 0l1 1m1 0l1-1m11 0l1-1m5 0l1 1m13 0l1 1m11 0l1 1m1 0l1 1m1 0l1 1m5 0l1 1m2 0l1 1m4 0l1 1m1 0l1 1m5 0l1 1m1 0l1 1m2 0l1 1m3 0l1 1m2 0l1 1m2 0l1 1m1 0l1 1m3 0l1 1m2 0l1 1m4 0l1 1m2 0l1 1m2 0l1 1m2 0l1 1m3 0l1 1m2 0l1 1m4 0l1 1m3 0l1 1m2 0l1 1m4 0l1 1m2 0l1 1m4 0l1 1m3 0l1 1m3 0l1 1m3 0l1 1m3 0l1 1m2 0l1 1m5 0l1 1m1 0l1 1m4 0l1 1m1 0l1 1m6 0l1 1m2 0l1 1m2 0l1 1m5 0l1 1m4 0l1 1m1 0l1-1m1 0l1 1m2 0l1 1m7 0l1 1m4 0l1 1m9 0l1 1m11 0l1 1m9 0l1 1m9 0l1 1m12 0l1 1m15 0l1 1m1 0l1-1m1 0l1 1m17 0l1 1m11 0l1-1m3 0l1 1"/>
<path class="u aw" d="M114 328l7 28l1 5l1 4l2 10l1 6l2 10l1 6l1 5l1 4l6 30l1 4l5 25l3 12l1 5l4 16l1 5l1 3l2 8l3 9m13 16h3m1 1h5m1-1h3m1-1h1m1-1h2m1-1h2m1-1h1m3-3h1m2-2h1m3-3h1m5-5h1m4-4h1m19-21h1m3-3h1m16-19h1m34-51l1-3m10-19l1-3m1-2l1-3m9-16l1-3m9-18l1-3m1-2l1-3m1-2l1-3m2-4l1-3m1-2l1-3m3-5l1-3m30-43h1m3-3h1m3-3h1m1-1h3m2-2h2m1-1h4m1 1h3m1 1h1m1 1h2m1 2l1 3m8 10l1 3m6 10l1 3m2 4l1 3m1 2l1 3m1 2l3 9m1 2l2 6m1 2l2 6m1 2l6 18m1 2l1 3m1 2l2 8l1 3l2 8l1 3l1 4l2 6l2 8l1 3l3 12l2 6l2 8l1 3l8 32l1 3l4 16l1 5l7 28l1 5l6 24l1 3l1 4l1 3l1 4l3 9l1 4l3 9l1 4l9 27m3 6l1 3m14 18h1m2 3h1m2 2h1m2 2h1m1 1h2m1 1h1m1 1h2m1 1h2m1 1h5m1-1h4m1 1h1m1-1h12m1-1h1m1-1h2m1-1h3m1-1h1m1-1h4m1-1h1m1-1h3m1-1h5m1-1h4m1-1h3m1-1h9m1-1h1m1-1h1m1 1h3m1-1h6m1-1h20m1-1h4m1 1h16m1 1h7m1 1h5m2 2h5m1 1h1m1 1h4m1 1h2m1 1h1m1 1h3m1 1h3m1 1h2m1 1h3m1 1h1m1 1h2m1 1h5m1 1h2m1 1h3m1 1h1m1 1h2m1 1h3m1 1h2m1 1h2m1 1h2m1 1h3m1 1h6m1 1h3m1 1h3m1 1h1m1 1h4m1 1h4m1 1h2m1 1h3m1 1h4m1 1h1m1 1h3m1 1h2m1 1h4m1 1h2m1 1h5m1 1h5m1 1h4m1 1h5m1 1h3m1 1h9m1 1h4m1 1h7m1 1h9m1 1h9m1 1h9m1 1h2m1-1h1m1 1h12m1 1h14m1 1h26m2 0h2m1 1h21"/>
<path class="u cw" d="M158 523l1 2m1 1l2 4m61-19l1-2m7-7l1-2m14-12l1-2m1-1l1-2m4-4l1-2m3-2l1-2m3-3l1-2m1-1l1-2m1-1l1-2m1-1l1-2m1-1l1-2m1-1l1-2m3-3l1-2m2-2l1-2m3-3l1-2m1-1l7-14m1-3l2-4m1-1l7-14m1-3l1-2m1-3l3-6m1-1l2-4m1-1l2-4m1-3l9-18m1-3l1-2m1-3l1-2m1-3l2-4m1-3l1-2m1-3l1-2m1-1l1-2m1-3l4-8m3-3l1-2m1-1l2-4m1-1l2-4m1-1l2-4m1-1l1-2m8-8l1-2m33-9l1 2m3 5l1 2m3 3l1 2m3 5l2 4m1 1l2 4m1 3l2 4m1 3l1 2m1 3l1 2m3 9l1 2m2 6l1 2m2 6l1 2m6 18l1 2m1 3l1 2m69 252l3 6m2 4l2 4m1 1l2 4m10 9l1 2"/>
<path class="u bw" d="M159 525l1 1m2 4l9 9m3 0l1 1m5 0l1-1m3 0l1-1m1 0l1-1m2 0l1-1m2 0l1-1m1 0l3-3m1 0l2-2m1 0l3-3m1 0l5-5m1 0l4-4m1 0l7-7m1-2l7-7m1-2l3-3m1 0l3-3m1 0l6-6m1-2l1-1m1-2l4-4m1-2l2-2m2-2l3-3m1-2l1-1m1-2l1-1m1-2l1-1m1-2l1-1m1-2l1-1m1-2l3-3m1-2l2-2m1-2l3-3m1-2l1-1m10-21l1-1m13-28l1-1m2-4l1-1m23-52l1-1m6-13l3-3m1-2l1-1m2-4l1-1m2-4l1-1m2-4l1-1m1-2l8-8m1-2l2-2m1 0l3-3m1 0l3-3m1 0l1-1m3 0l2-2m2 0l1-1m4 0l1 1m3 0l1 1m1 0l1 1m4 5l2 2m1 2l3 3m1 2l1 1m1 3l1 1m2 4l1 1m101 334l1 1m2 4l1 1m2 4l8 8m1 0l1 1m2 2l2 2m1 0l2 2m1 0l1 1m2 0l1 1m1 0l1 1m2 0l1 1m2 0l1 1m5 0l1-1m4 0l1 1m1 0l1-1m12 0l1-1m1 0l1-1m2 0l1-1m3 0l1-1m1 0l1-1m4 0l1-1m1 0l1-1m3 0l1-1m5 0l1-1m4 0l1-1m3 0l1-1m9 0l1-1m1 0l1-1m1 0l1 1m3 0l1-1m6 0l1-1m20 0l1-1m4 0l1 1m16 0l1 1m7 0l1 1m5 0l2 2m5 0l1 1m1 0l1 1m4 0l1 1m2 0l1 1m1 0l1 1m3 0l1 1m3 0l1 1m2 0l1 1m3 0l1 1m1 0l1 1m2 0l1 1m5 0l1 1m2 0l1 1m3 0l1 1m1 0l1 1m2 0l1 1m3 0l1 1m2 0l1 1m2 0l1 1m2 0l1 1m3 0l1 1m6 0l1 1m3 0l1 1m3 0l1 1m1 0l1 1m4 0l1 1m4 0l1 1m2 0l1 1m3 0l1 1m4 0l1 1m1 0l1 1m3 0l1 1m2 0l1 1m4 0l1 1m2 0l1 1m5 0l1 1m5 0l1 1m4 0l1 1m5 0l1 1m3 0l1 1m9 0l1 1m4 0l1 1m7 0l1 1m9 0l1 1m9 0l1 1m9 0l1 1m2 0l1-1m1 0l1 1m12 0l1 1m14 0l1 1m26 0l1 1l1-1m2 0l1 1"/>
<path class="k aw" d="M114 328l6 24l1 5l1 4l5 25l1 6l4 20l1 4l7 35l1 4l2 10l2 8l1 5l9 36l3 9m9 13h1m1 1h1m2 2h2m1 1h7m1-1h2m1-1h1m1-1h1m1-1h1m1-1h2m1-1h1m3-3h1m1-1h1m3-4h1m6-6h1m4-4h1m19-21h1m50-64l1-3m13-25l1-3m22-43l1-3m1-2l1-3m2-4l1-3m4-8l1-3m34-47h1m2-2h1m2-2h1m1-1h1m1-1h3m1-1h5m1-1h4m2 2h1m1 1h1l1 3m19 32l2 6m1 2l1 3m1 2l1 3m1 2l3 9m1 2l2 6m1 2l3 9m1 2l1 3m1 2l2 6l1 4l3 9l1 4l1 3l2 8l1 3l1 4l1 3l1 4l1 3l2 8l2 6l1 4l1 3l3 12l1 3l2 8l1 3l12 48l1 5l1 4l1 3l1 4l1 5l4 16l1 3l2 8l1 3l1 4l5 15l1 4l2 6l1 4l2 6l1 4l4 12m1 2l1 3m13 22h1m5 6h1m2 2h1m1 1h1m1 1h1m2 2h1m1 1h2m1 1h1m1 1h6m1 1h7m1-1h2m1 1h1m1-1h5m1-1h5m1-1h3m1-1h2m1-1h2m1-1h1m1-1h4m1-1h2m1-1h5m1-1h2m1-1h3m1-1h6m1-1h4m1-1h9m1-1h8m1 1h1m1-1h1m1-1h5m2 0h18m1 1h8m2 0h2m1 1h4m1 1h4m1 1h4m1 1h1m1 1h2m1 1h3m1 1h4m1 1h1m1 1h2m1 1h4m1 1h4m1 1h1m1 1h2m1 1h1m1 1h2m1 1h4m1 1h2m1 1h3m1 1h1m1 1h2m1 1h2m1 1h4m1 1h3m1 1h3m1 1h3m1 1h2m1 1h4m1 1h2m1 1h4m1 1h3m1 1h5m1 1h1m1 1h2m1 1h1m1 1h4m1 1h3m1 1h3m1 1h5m1 1h2m1 1h5m1 1h1m1 1h6m1 1h7m1 1h5m1 1h10m1 1h6m1 1h7m1 1h9m1 1h8m1 1h12m1 1h13m1 1h3m1-1h3m1 1h22m1 1h13m2 0h12"/>
<path class="k cw" d="M159 524l2 4m1 1l1 2m2 2l1 2m37-6l1-2m17-14l1-2m6-6l1-2m16-15l1-2m12-12l1-2m2-2l1-2m2-2l1-2m1-1l2-4m1-1l1-2m2-2l1-2m5-5l1-2m1-1l1-2m3-3l4-8m1-3l2-4m1-1l10-20m1-3l5-10m1-1l16-32m1-3l1-2m1-3l2-4m1-3l4-8m1-3l6-12m4-4l2-4m1-1l1-2m1-1l1-2m1-1l1-2m1-1l1-2m1-1l1-2m42-14l1 2m3 3l1 2m2 2l1 2m1 1l10 20m2 6l1 2m1 3l1 2m1 3l1 2m3 9l1 2m2 6l1 2m3 9l1 2m1 3l1 2m70 252l1 2m1 3l7 14m2 2l1 2m2 2l1 2m4 3l1 2"/>
<path class="k bw" d="M158 523l1 1m2 4l1 1m1 2l2 2m1 2l1 1m1 0l1 1m1 0l2 2m2 0l1 1m7 0l1-1m2 0l1-1m1 0l1-1m1 0l1-1m1 0l1-1m2 0l1-1m1 0l3-3m1 0l1-1m1 0l1-1m1-2l1-1m1 0l6-6m1 0l4-4m1 0l3-3m1-2l6-6m1-2l8-8m1 0l7-7m1-2l12-12m1-2l2-2m1-2l2-2m1-2l1-1m2-4l1-1m1-2l2-2m1-2l5-5m1-2l1-1m1-2l3-3m7-15l1-1m16-33l1-1m33-70l4-4m2-4l1-1m1-2l1-1m1-2l1-1m1-2l1-1m1-2l1-1m1-2l12-12m1 0l2-2m1 0l2-2m1 0l1-1m1 0l1-1m3 0l1-1m5 0l1-1m4 0l2 2m1 0l1 1m3 5l3 3m1 2l2 2m1 2l1 1m109 344l2 2m1 2l2 2m2 2l3 3m1 2l1 1m1 0l2 2m1 0l1 1m1 0l1 1m1 0l2 2m1 0l1 1m2 0l1 1m1 0l1 1m6 0l1 1m7 0l1-1m2 0l1 1m1 0l1-1m5 0l1-1m5 0l1-1m3 0l1-1m2 0l1-1m2 0l1-1m1 0l1-1m4 0l1-1m2 0l1-1m5 0l1-1m2 0l1-1m3 0l1-1m6 0l1-1m4 0l1-1m9 0l1-1m8 0l1 1m1 0l1-1m1 0l1-1m5 0l1 1l1-1m18 0l1 1m8 0l1 1l1-1m2 0l1 1m4 0l1 1m4 0l1 1m4 0l1 1m1 0l1 1m2 0l1 1m3 0l1 1m4 0l1 1m1 0l1 1m2 0l1 1m4 0l1 1m4 0l1 1m1 0l1 1m2 0l1 1m1 0l1 1m2 0l1 1m4 0l1 1m2 0l1 1m3 0l1 1m1 0l1 1m2 0l1 1m2 0l1 1m4 0l1 1m3 0l1 1m3 0l1 1m3 0l1 1m2 0l1 1m4 0l1 1m2 0l1 1m4 0l1 1m3 0l1 1m5 0l1 1m1 0l1 1m2 0l1 1m1 0l1 1m4 0l1 1m3 0l1 1m3 0l1 1m5 0l1 1m2 0l1 1m5 0l1 1m1 0l1 1m6 0l1 1m7 0l1 1m5 0l1 1m10 0l1 1m6 0l1 1m7 0l1 1m9 0l1 1m8 0l1 1m12 0l1 1m13 0l1 1m3 0l1-1m3 0l1 1m22 0l1 1m13 0l1-1l1 1"/>
<path class="y aw" d="M114 328l2 8l1 3l1 5l1 4l1 5l2 8l3 15l1 6l6 30l1 4l3 15l1 4l6 30l2 8l1 5l2 8l1 5l5 20l4 12m9 13h1m2 2h1m1 1h1m1 1h7m1-1h3m1-1h1m1-1h2m1-1h1m1-1h1m2-2h1m1-1h1m6-6h1m3-3h1m8-8h1m14-16h1m6-6h1m11-14h1m48-72l1-3m4-8l1-3m6-9l1-3m10-19l1-3m2-4l1-3m1-2l1-3m38-57h1m3-3h1m1-1h1m1-1h1m1-1h1m2-2h7m1-1h4m1 1h1m1 1h1m1 1h1m1 2l1 3m8 10l1 3m9 17l1 3m1 2l1 3m1 2l2 6m1 2l1 3m1 2l3 9m1 2l2 6m1 2l2 6m1 2l6 18l1 4l1 3l1 4l3 9l1 4l1 3l3 12l1 3l1 4l2 6l1 4l1 3l2 8l1 3l1 4l1 3l1 5l1 4l1 3l4 16l1 3l1 4l1 5l5 20l1 3l5 20l1 5l1 4l1 3l2 8l8 24l1 4l9 27m1 2l1 3m16 23h1m5 5h1m2 2h1m1 1h1m1 1h2m1 1h2m1 1h2m1 1h12m1-1h3m1 1h1m1-1h3m2 0h2m1-1h1m1-1h1m1-1h5m1-1h1m1-1h2m1-1h3m1-1h3m1-1h2m1-1h4m1-1h4m1-1h5m1-1h8m1-1h2m1-1h3m2 0h12m1-1h20m1 1h1m1-1h3m1 1h4m1 1h2m1-1h2m1 1h2m1 1h5m1 1h4m1 1h3m1 1h2m1 1h2m1 1h3m1 1h1m1 1h4m1 1h1m1 1h2m1 1h3m1 1h3m1 1h2m1 1h1m1 1h4m1 1h2m1 1h3m1 1h1m1 1h3m1 1h3m1 1h3m1 1h2m1 1h3m1 1h3m1 1h3m1 1h3m1 1h3m1 1h3m1 1h4m1 1h1m1 1h2m1 1h3m1 1h5m1 1h3m1 1h1m1 1h5m1 1h1m1 1h5m1 1h3m1 1h5m1 1h5m1 1h4m1 1h9m1 1h4m1 1h6m1 1h9m1 1h5m1 1h12m1 1h4m1-1h1m1 1h8m1 1h14m1 1h1m1-1h4m1 1h26m1 1h9m1 1h1m1-1h1m2 0h6"/>
<path class="y cw" d="M158 523l1 2m1 1l2 4m1 1l1 2m59-22l1-2m5-5l1-2m14-12l1-2m3-3l1-2m2-2l1-2m7-6l1-2m2-2l1-2m1-1l1-2m2-2l2-4m1-1l1-2m3-3l1-2m4-4l1-2m3-3l3-6m1-1l13-26m2-4l4-8m2-4l1-2m1-1l2-4m2-4l5-10m1-1l4-8m1-3l2-4m1-3l1-2m1-3l12-24m3-3l1-2m1-1l1-2m1-1l1-2m1-1l2-4m1-1l1-2m9-9l1-2m34-9l1 2m2 4l1 2m5 5l1 2m2 4l8 16m1 3l1 2m1 3l1 2m2 6l1 2m1 3l1 2m3 9l1 2m2 6l1 2m2 6l1 2m72 253l1 2m1 3l5 10m1 1l1 2m2 2l1 2"/>
<path class="y bw" d="M159 525l1 1m2 4l1 1m1 2l3 3m1 0l2 2m1 0l1 1m1 0l1 1m7 0l1-1m3 0l1-1m1 0l1-1m2 0l1-1m1 0l1-1m1 0l2-2m1 0l1-1m1 0l6-6m1 0l3-3m1 0l8-8m1 0l4-4m1-2l5-5m1-2l3-3m1 0l6-6m1 0l3-3m1-2l3-3m1-2l2-2m2-2l6-6m1-2l2-2m1-2l1-1m1-2l2-2m2-4l1-1m1-2l3-3m1-2l4-4m1-2l3-3m3-6l1-1m13-26l1-1m6-14l1-1m1-2l1-1m2-4l1-1m6-13l1-1m22-47l3-3m1-2l1-1m1-2l1-1m1-2l1-1m2-4l1-1m1-2l9-9m1-2l3-3m1 0l3-3m1 0l1-1m1 0l1-1m1 0l1-1m1 0l2-2m7 0l1-1m4 0l1 1m1 0l1 1m1 0l1 1m3 5l1 1m1 2l5 5m2 5l1 1m106 334l1 1m1 2l2 2m1 2l6 6m1 0l5 5m1 0l2 2m1 0l1 1m1 0l1 1m2 0l1 1m2 0l1 1m2 0l1 1m12 0l1-1m3 0l1 1m1 0l1-1m3 0l1-1l1 1m2 0l1-1m1 0l1-1m1 0l1-1m5 0l1-1m1 0l1-1m2 0l1-1m3 0l1-1m3 0l1-1m2 0l1-1m4 0l1-1m4 0l1-1m5 0l1-1m8 0l1-1m2 0l1-1m3 0l1 1l1-1m12 0l1-1m20 0l1 1m1 0l1-1m3 0l1 1m4 0l1 1m2 0l1-1m2 0l1 1m2 0l1 1m5 0l1 1m4 0l1 1m3 0l1 1m2 0l1 1m2 0l1 1m3 0l1 1m1 0l1 1m4 0l1 1m1 0l1 1m2 0l1 1m3 0l1 1m3 0l1 1m2 0l1 1m1 0l1 1m4 0l1 1m2 0l1 1m3 0l1 1m1 0l1 1m3 0l1 1m3 0l1 1m3 0l1 1m2 0l1 1m3 0l1 1m3 0l1 1m3 0l1 1m3 0l1 1m3 0l1 1m3 0l1 1m4 0l1 1m1 0l1 1m2 0l1 1m3 0l1 1m5 0l1 1m3 0l1 1m1 0l1 1m5 0l1 1m1 0l1 1m5 0l1 1m3 0l1 1m5 0l1 1m5 0l1 1m4 0l1 1m9 0l1 1m4 0l1 1m6 0l1 1m9 0l1 1m5 0l1 1m12 0l1 1m4 0l1-1m1 0l1 1m8 0l1 1m14 0l1 1m1 0l1-1m4 0l1 1m26 0l1 1m9 0l1 1m1 0l1-1m1 0l1-1l1 1"/>
<path class="c aw" d="M114 328l2 8l1 5l4 16l1 5l1 4l1 5l1 6l8 40l1 4l5 25l1 4l2 10l1 4l1 5l1 4l1 5l3 12l1 5l3 12l1 3l1 4l2 6m7 13h1m5 5h1m1 1h1m1 1h6m1-1h5m1-1h1m1-1h1m1-1h1m2-2h1m1-1h1m1-1h1m4-4h1m5-5h1m7-7h1m14-16h1m4-5h1m2-2h1m14-17h1m46-70l1-3m10-17l1-3m1-2l1-3m9-16l1-3m1-2l1-3m2-4l1-3m38-53h1m3-3h1m1-1h1m1-1h2m1-1h4m1-1h2m1-1h2m1 1h3m1 1h1m1 1h1m2 3l1 3m8 9l1 3m8 15l1 3m2 4l1 3m2 4l3 9m1 2l1 3m1 2l2 6m1 2l4 12m1 2l1 3m1 2l3 9l1 4l1 3l1 4l2 6l1 4l1 3l1 4l1 3l1 4l1 3l1 4l3 9l1 4l1 3l1 4l1 3l2 8l1 3l2 8l1 3l6 24l1 3l14 56l1 3l1 4l6 18l1 4l12 36m3 6l1 3m10 15h1m6 6h1m2 2h1m3 3h1m1 1h2m1 1h2m1 1h3m1 1h13m1-1h3m2 0h3m1-1h4m1-1h2m1-1h3m1-1h3m1-1h1m1-1h3m1-1h1m1-1h5m1-1h3m1-1h3m1-1h5m1-1h7m1-1h6m1-1h2m2 0h10m1-1h18m1-1h2m1 1h5m1 1h8m1 1h8m1 1h4m1 1h2m1 1h2m1 1h2m1 1h5m1 1h1m1 1h1m1 1h4m1 1h2m1 1h4m2 2h4m1 1h1m1 1h2m1 1h4m1 1h2m1 1h2m1 1h3m1 1h1m1 1h4m1 1h1m1 1h3m1 1h3m1 1h3m1 1h2m1 1h5m1 1h3m1 1h2m1 1h3m1 1h1m2 0h2m2 2h4m1 1h4m1 1h1m1 1h2m1 1h4m1 1h3m1 1h4m1 1h2m1 1h7m1 1h1m1 1h7m1 1h10m1 1h6m1 1h2m1 1h9m1 1h9m1 1h13m1 1h11m1 1h19m1 1h29m1 1h20"/>
<path class="c cw" d="M157 520l5 10m1 1l1 2m57-20l1-2m5-5l1-2m6-5l1-2m9-7l1-2m4-4l1-2m3-3l1-2m4-3l1-2m4-4l1-2m1-1l1-2m2-2l1-2m1-1l1-2m1-1l1-2m5-5l1-2m1-1l1-2m3-3l6-12m1-1l8-16m1-1l2-4m1-3l5-10m1-1l1-2m1-1l1-2m2-4l1-2m2-4l2-4m1-1l5-10m1-3l1-2m1-3l2-4m1-3l2-4m1-1l8-16m4-4l1-2m1-1l1-2m2-2l2-4m2-2l1-2m43-17l1 2m4 6l1 2m6 8l7 14m1 3l2 4m1 3l2 4m3 9l1 2m1 3l1 2m2 6l1 2m4 12l1 2m1 3l1 2m70 244l3 6m1 3l1 2m1 1l2 4m2 2l1 2m2 2l1 2"/>
<path class="c bw" d="M162 530l1 1m2 2l5 5m1 0l1 1m1 0l1 1m6 0l1-1m5 0l1-1m1 0l1-1m1 0l1-1m1 0l2-2m1 0l1-1m1 0l1-1m1 0l4-4m1 0l5-5m1 0l7-7m1 0l3-3m1-2l5-5m1-2l4-4m1 0l1-1m1-2l2-2m1 0l2-2m1 0l3-3m1-2l4-4m1-2l3-3m1-2l1-1m1 0l2-2m1-2l4-4m1-2l1-1m1-2l2-2m1-2l1-1m1-2l1-1m1-2l5-5m1-2l1-1m1-2l3-3m6-12l1-1m8-16l1-1m8-17l1-1m1-2l1-1m1-2l1-1m3-8l1-1m2-4l1-1m13-29l1-1m8-16l4-4m1-2l1-1m1-2l2-2m2-4l2-2m1-2l13-13m1 0l3-3m1 0l1-1m1 0l1-1m2 0l1-1m4 0l1-1m2 0l1-1m2 0l1 1m3 0l1 1m1 0l1 1m1 0l1 1m2 5l3 3m1 2l4 4m1 3l1 1m104 326l1 1m2 4l2 2m1 2l2 2m2 2l6 6m1 0l2 2m1 0l3 3m1 0l1 1m2 0l1 1m2 0l1 1m3 0l1 1m13 0l1-1m3 0l1 1l1-1m3 0l1-1m4 0l1-1m2 0l1-1m3 0l1-1m3 0l1-1m1 0l1-1m3 0l1-1m1 0l1-1m5 0l1-1m3 0l1-1m3 0l1-1m5 0l1-1m7 0l1-1m6 0l1-1m2 0l1 1l1-1m10 0l1-1m18 0l1-1m2 0l1 1m5 0l1 1m8 0l1 1m8 0l1 1m4 0l1 1m2 0l1 1m2 0l1 1m2 0l1 1m5 0l1 1m1 0l1 1m1 0l1 1m4 0l1 1m2 0l1 1m4 0l2 2m4 0l1 1m1 0l1 1m2 0l1 1m4 0l1 1m2 0l1 1m2 0l1 1m3 0l1 1m1 0l1 1m4 0l1 1m1 0l1 1m3 0l1 1m3 0l1 1m3 0l1 1m2 0l1 1m5 0l1 1m3 0l1 1m2 0l1 1m3 0l1 1m1 0l1 1l1-1m2 0l2 2m4 0l1 1m4 0l1 1m1 0l1 1m2 0l1 1m4 0l1 1m3 0l1 1m4 0l1 1m2 0l1 1m7 0l1 1m1 0l1 1m7 0l1 1m10 0l1 1m6 0l1 1m2 0l1 1m9 0l1 1m9 0l1 1m13 0l1 1m11 0l1 1m19 0l1 1m29 0l1 1"/>
<path class="f aw" d="M114 329l1 4l1 3l1 4l1 5l3 12l1 5l1 4l3 15l1 6l4 20l1 4l6 30l1 4l3 15l1 4l1 5l2 8l1 5l2 8l1 5l4 16l4 12m9 13h1m3 3h1m1 1h4m1 1h1m1-1h4m1-1h1m1-1h1m1-1h1m1-1h1m1-1h1m1-1h1m3-3h1m2-2h1m5-5h1m3-3h1m21-23h1m6-6h1m10-13h1m3-3h1m45-69l1-3m11-19l1-3m10-18l1-3m3-6l1-3m4-7l1-3m31-41h1m4-4h1m1-1h1m1-1h1m1-1h1m1-1h2m1-1h6m2 0h4m1 1h1m1 1h1m1 1l1 3m9 11l1 3m9 17l1 3m1 2l1 3m1 2l1 3m1 2l1 3m1 2l2 6m1 2l2 6m1 2l2 6m1 2l1 3m2 4l4 12l1 4l2 6l1 4l1 3l1 4l1 3l1 4l2 6l1 4l2 6l1 4l2 6l1 4l1 3l1 4l1 3l2 8l1 3l1 4l1 3l4 16l1 3l6 24l1 3l9 36l2 6l1 4l9 27l1 4l5 15m1 2l1 3m1 2l1 3m18 26h1m3 3h1m2 2h1m1 1h1m1 1h1m1 1h2m1 1h3m1 1h17m1-1h6m1-1h4m1-1h2m1-1h2m1-1h3m1-1h2m1-1h1m1-1h4m1-1h4m1-1h2m1-1h3m1-1h6m1-1h4m1-1h8m1-1h8m1-1h9m1-1h3m1 1h23m1 1h7m1 1h5m1 1h6m1 1h1m1 1h3m1 1h1m1 1h2m1 1h3m1 1h2m1 1h4m1 1h3m1 1h1m1 1h2m1 1h2m1 1h3m1 1h1m1 1h2m1 1h1m2 0h1m1 1h2m1 1h2m1 1h1m1 1h3m1 1h5m1 1h2m1 1h3m1 1h3m1 1h2m1 1h4m1 1h2m1 1h4m1 1h2m1 1h4m1 1h2m1 1h3m1 1h1m1 1h5m1 1h3m1 1h1m1 1h4m1 1h6m1 1h2m1 1h1m1 1h7m1 1h6m1 1h8m1 1h5m1 1h6m1 1h8m1 1h12m1 1h9m1 1h9m1 1h19m1 1h2m1-1h4m1 1h13m1 1h3m1-1h8m1 1h5m1-1h1m1 1h9"/>
<path class="f cw" d="M158 523l2 4m1 1l2 4m54-15l1-2m11-11l1-2m13-11l1-2m4-4l1-2m2-2l1-2m5-3l1-2m3-3l1-2m1-1l1-2m2-2l1-2m2-2l1-2m1-1l1-2m4-4l1-2m3-3l1-2m2-2l2-4m1-1l4-8m1-1l8-16m1-1l2-4m1-3l4-8m2-2l1-2m1-1l3-6m1-3l2-4m1-1l1-2m1-1l5-10m1-3l3-6m1-3l2-4m1-1l1-2m1-3l2-4m1-1l2-4m1-1l1-2m3-3l1-2m1-1l1-2m1-1l1-2m2-2l1-2m1-1l1-2m45-14l1 2m2 2l1 2m6 8l2 4m1 1l6 12m1 3l1 2m1 3l1 2m1 3l1 2m1 3l1 2m2 6l1 2m2 6l1 2m2 6l1 2m1 3l2 4m68 236l1 2m1 3l1 2m1 3l7 14m2 2l1 2"/>
<path class="f bw" d="M160 527l1 1m2 4l4 4m1 0l3 3m1 0l1 1m4 0l1 1m1 0l1-1m4 0l1-1m1 0l1-1m1 0l1-1m1 0l1-1m1 0l1-1m1 0l1-1m1 0l3-3m1 0l2-2m1 0l5-5m1 0l3-3m1 0l4-4m1-2l11-11m1-2l4-4m1 0l6-6m1 0l1-1m1-2l4-4m1-2l2-2m2-2l3-3m2-2l3-3m1-2l1-1m1-2l2-2m1-2l2-2m1-2l1-1m1-2l4-4m1-2l3-3m1-2l2-2m2-4l1-1m4-8l1-1m8-16l1-1m7-15l2-2m1-2l1-1m6-13l1-1m1-2l1-1m12-26l1-1m4-9l1-1m2-4l1-1m1-2l3-3m1-2l1-1m1-2l1-1m1-2l2-2m1-2l1-1m1-2l11-11m1 0l4-4m1 0l1-1m1 0l1-1m1 0l1-1m1 0l1-1m2 0l1-1m6 0l1-1l1 1m4 0l1 1m1 0l1 1m1 0l1 1m2 5l2 2m1 2l5 5m3 7l1 1m105 323l2 2m1 2l8 8m1 0l3 3m1 0l2 2m1 0l1 1m1 0l1 1m1 0l1 1m2 0l1 1m3 0l1 1m17 0l1-1m6 0l1-1m4 0l1-1m2 0l1-1m2 0l1-1m3 0l1-1m2 0l1-1m1 0l1-1m4 0l1-1m4 0l1-1m2 0l1-1m3 0l1-1m6 0l1-1m4 0l1-1m8 0l1-1m8 0l1-1m9 0l1-1m3 0l1 1m23 0l1 1m7 0l1 1m5 0l1 1m6 0l1 1m1 0l1 1m3 0l1 1m1 0l1 1m2 0l1 1m3 0l1 1m2 0l1 1m4 0l1 1m3 0l1 1m1 0l1 1m2 0l1 1m2 0l1 1m3 0l1 1m1 0l1 1m2 0l1 1m1 0l1-1l1 1m1 0l1 1m2 0l1 1m2 0l1 1m1 0l1 1m3 0l1 1m5 0l1 1m2 0l1 1m3 0l1 1m3 0l1 1m2 0l1 1m4 0l1 1m2 0l1 1m4 0l1 1m2 0l1 1m4 0l1 1m2 0l1 1m3 0l1 1m1 0l1 1m5 0l1 1m3 0l1 1m1 0l1 1m4 0l1 1m6 0l1 1m2 0l1 1m1 0l1 1m7 0l1 1m6 0l1 1m8 0l1 1m5 0l1 1m6 0l1 1m8 0l1 1m12 0l1 1m9 0l1 1m9 0l1 1m19 0l1 1m2 0l1-1m4 0l1 1m13 0l1 1m3 0l1-1m8 0l1 1m5 0l1-1m1 0l1 1"/>
<path class="l aw" d="M114 329l5 20l1 5l3 12l3 15l1 6l5 25l1 4l7 35l1 4l1 5l1 4l1 5l1 4l1 5l4 16l1 5l2 8l1 3l1 4l3 9m12 16h3m1 1h1m1 1h3m1-1h3m1-1h2m1-1h2m1-1h1m1-1h1m1-1h1m2-2h1m3-3h1m9-9h1m3-3h1m19-21h1m5-5h1m12-14h1m47-69l1-3m22-39l1-3m3-6l1-3m28-42h1m4-5h1m5-5h1m1-1h1m1-1h1m1-1h2m1-1h1m1-1h5m1-1h7m1 1h1m1 1h1m1 1h1l1 3m9 11l1 3m7 13l1 3m2 4l1 3m1 2l1 3m1 2l1 3m2 4l3 9m2 4l2 6m1 2l1 3m1 2l1 3m1 2l2 6m1 2l1 4l3 9l1 4l2 6l1 4l1 3l1 4l1 3l1 4l2 6l1 4l3 9l1 4l1 3l1 4l1 3l2 8l1 3l2 8l1 3l1 4l1 3l5 20l1 3l4 16l1 3l4 16l1 3l2 8l1 3l1 4l1 3m1 2l6 18l1 4l5 15m1 2l3 9m22 30h1m1 1h1m1 1h1m1 1h2m1 1h1m2 2h6m1 1h12m1-1h9m1-1h3m1-1h3m1-1h2m1-1h2m1-1h2m1-1h4m2-2h4m1-1h5m1-1h2m1-1h5m1-1h4m1-1h5m1-1h11m1-1h26m1-1h4m1 1h13m1 1h5m1 1h3m1 1h2m1 1h2m1 1h2m1 1h4m1 1h2m1 1h3m1 1h2m1 1h2m1 1h4m1 1h1m1 1h2m1 1h3m1 1h2m1 1h1m1 1h3m1 1h2m1 1h2m1 1h2m1 1h4m1 1h2m1 1h2m1 1h4m1 1h2m1 1h3m1 1h3m1 1h5m1 1h1m1 1h1m1 1h3m1 1h5m1 1h2m1 1h2m1 1h4m1 1h3m1 1h2m1 1h3m1 1h2m1 1h5m1 1h4m1 1h4m1 1h5m1 1h6m1 1h4m1 1h12m1 1h5m1 1h9m1 1h6m1 1h9m1 1h2m2 0h10m1 1h16m1 1h19m1 1h3m2 0h3m1-1h5m1 1h17"/>
<path class="l cw" d="M158 523l1 2m1 1l2 4m1 1l1 2m56-19l1-2m6-6l1-2m17-15l1-2m1-1l1-2m7-6l1-2m6-6l1-2m1-1l1-2m1-1l1-2m2-2l1-2m3-3l1-2m5-5l1-2m3-3l3-6m1-1l4-8m1-1l4-8m1-1l3-6m1-1l1-2m1-3l4-8m1-1l1-2m1-1l1-2m1-1l5-10m1-1l2-4m1-1l4-8m1-3l3-6m1-3l2-4m1-1l5-10m1-1l2-4m2-2l1-2m4-4l3-6m4-4l1-2m6-5l1-2m38-4l1 2m1 1l1 2m6 8l2 4m1 1l4 8m1 3l2 4m1 3l1 2m1 3l1 2m1 3l2 4m3 9l2 4m2 6l1 2m1 3l1 2m1 3l1 2m2 6l1 2m51 182l1 2m12 37l1 2m3 9l6 12m1 1l2 4"/>
<path class="l bw" d="M159 525l1 1m2 4l1 1m1 2l6 6m3 0l1 1m1 0l1 1m3 0l1-1m3 0l1-1m2 0l1-1m2 0l1-1m1 0l1-1m1 0l1-1m1 0l2-2m1 0l3-3m1 0l9-9m1 0l3-3m1 0l4-4m1-2l6-6m1-2l7-7m1 0l5-5m1 0l3-3m1-2l1-1m1-2l6-6m2-2l6-6m1-2l1-1m1-2l1-1m1-2l2-2m1-2l3-3m1-2l5-5m1-2l3-3m3-6l1-1m4-8l1-1m4-8l1-1m3-6l1-1m6-13l1-1m1-2l1-1m1-2l1-1m5-10l1-1m2-4l1-1m11-24l1-1m5-10l1-1m2-4l2-2m1-2l4-4m3-6l4-4m1-2l2-2m1 0l3-3m2-2l5-5m1 0l1-1m1 0l1-1m1 0l1-1m2 0l1-1m1 0l1-1m5 0l1-1m7 0l1 1m1 0l1 1m1 0l1 1m2 3l1 1m1 2l1 1m1 2l5 5m3 7l1 1m103 315l1 1m2 4l13 13m1 0l1 1m1 0l1 1m1 0l1 1m2 0l1 1m1 0l2 2m6 0l1 1m12 0l1-1m9 0l1-1m3 0l1-1m3 0l1-1m2 0l1-1m2 0l1-1m2 0l1-1m4 0l2-2m4 0l1-1m5 0l1-1m2 0l1-1m5 0l1-1m4 0l1-1m5 0l1-1m11 0l1-1m26 0l1-1m4 0l1 1m13 0l1 1m5 0l1 1m3 0l1 1m2 0l1 1m2 0l1 1m2 0l1 1m4 0l1 1m2 0l1 1m3 0l1 1m2 0l1 1m2 0l1 1m4 0l1 1m1 0l1 1m2 0l1 1m3 0l1 1m2 0l1 1m1 0l1 1m3 0l1 1m2 0l1 1m2 0l1 1m2 0l1 1m4 0l1 1m2 0l1 1m2 0l1 1m4 0l1 1m2 0l1 1m3 0l1 1m3 0l1 1m5 0l1 1m1 0l1 1m1 0l1 1m3 0l1 1m5 0l1 1m2 0l1 1m2 0l1 1m4 0l1 1m3 0l1 1m2 0l1 1m3 0l1 1m2 0l1 1m5 0l1 1m4 0l1 1m4 0l1 1m5 0l1 1m6 0l1 1m4 0l1 1m12 0l1 1m5 0l1 1m9 0l1 1m6 0l1 1m9 0l1 1m2 0l1-1l1 1m10 0l1 1m16 0l1 1m19 0l1 1m3 0l1-1l1 1m3 0l1-1m5 0l1 1"/>
<path class="s aw" d="M114 329l2 8l1 3l1 5l1 4l1 5l2 8l11 55l1 4l5 25l1 4l2 10l1 4l1 5l1 4l1 5l2 8l1 5l6 24m1 2l2 6m12 16h1m1 1h1m1 1h7m1-1h2m1-1h1m1-1h1m1-1h1m1-1h2m1-1h1m2-2h1m2-2h1m6-6h1m6-6h1m17-19h1m8-8h1m33-40h1m50-85l1-3m34-50h1m2-2h1m4-4h1m1-1h1m1-1h1m1-1h1m1-1h1m1-1h8m1-1h2m1 1h1m1 1h3m1 1h1m11 15l1 3m6 10l1 3m3 6l1 3m3 6l2 6m1 2l1 3m1 2l2 6m1 2l1 3m1 2l2 6m1 2l1 3m1 2l3 9m1 2l2 6l1 4l2 6l1 4l2 6l1 4l3 9l1 4l3 9l1 4l1 3l1 4l1 3l1 4l2 6l2 8l1 3l1 4l1 3l4 16l1 3l3 12l1 3l2 8l1 3l5 20l1 3l1 4l16 48m1 2l2 6m5 10l1 3m10 13h1m7 7h1m2 2h3m1 1h1m1 1h1m1 1h4m1 1h17m1-1h5m1-1h4m1-1h3m1-1h3m1-1h1m1-1h3m1-1h2m1-1h1m1-1h4m1-1h5m1-1h3m1-1h3m1-1h3m1-1h4m1-1h13m1-1h13m1-1h18m1 1h6m2 0h1m2 0h2m1 1h4m1 1h3m1 1h5m1 1h1m1 1h1m1 1h1m1-1h1m1 1h1m1 1h1m1 1h4m1 1h2m1 1h1m1 1h3m1 1h3m1 1h2m1 1h2m1 1h2m1 1h3m1 1h2m1 1h1m1 1h3m1 1h2m1 1h3m1 1h2m1 1h4m1 1h5m2 2h3m1 1h3m1 1h3m1 1h2m1 1h3m1 1h3m1 1h3m1 1h2m1 1h6m1 1h1m1 1h2m1 1h3m1 1h1m1 1h6m1 1h2m1 1h5m1 1h5m1 1h2m1 1h7m1 1h4m1 1h7m1 1h1m1-1h2m1 1h5m1 1h9m1 1h7m1 1h11m1 1h13m1 1h17m1 1h19m1 1h1m1-1h5m1 1h5m1-1h2m1 1h12"/>
<path class="s cw" d="M155 515l1 2m2 6l3 6m1 1l1 2m58-19l1-2m3-3l1-2m18-16l1-2m5-5l1-2m10-10l1-2m3-3l1-2m1-1l1-2m1-1l1-2m4-4l1-2m3-2l1-2m4-4l2-4m1-1l5-10m1-1l5-10m1-1l1-2m1-1l7-14m1-1l1-2m1-1l3-6m1-1l3-6m1-1l1-2m1-1l6-12m1-3l2-4m1-1l8-16m1-1l1-2m1-1l1-2m5-5l1-2m1-1l2-4m2-2l1-2m45-15l2 4m1 1l1 2m2 2l1 2m5 7l1 2m1 1l3 6m1 3l3 6m1 3l3 6m2 6l1 2m1 3l1 2m2 6l1 2m1 3l1 2m2 6l1 2m1 3l1 2m3 9l1 2m63 214l1 2m2 6l5 10m2 4l2 4m2 2l1 2"/>
<path class="s bw" d="M161 529l1 1m1 2l7 7m1 0l1 1m1 0l1 1m7 0l1-1m2 0l1-1m1 0l1-1m1 0l1-1m1 0l1-1m2 0l1-1m1 0l2-2m1 0l2-2m1 0l6-6m1 0l6-6m1 0l6-6m1-2l3-3m1-2l6-6m1 0l8-8m1 0l2-2m1-2l5-5m1-2l10-10m1-2l3-3m1-2l1-1m1-2l1-1m1-2l4-4m2-2l2-2m1-2l4-4m2-4l1-1m5-10l1-1m5-10l1-1m1-2l1-1m7-14l1-1m1-2l1-1m3-6l1-1m3-6l1-1m1-2l1-1m9-19l1-1m8-16l1-1m1-2l1-1m1-2l5-5m1-2l1-1m2-4l2-2m1-2l7-7m1 0l2-2m1 0l4-4m1 0l1-1m1 0l1-1m1 0l1-1m1 0l1-1m1 0l1-1m8 0l1-1m2 0l1 1m1 0l1 1m3 0l1 1m1 0l1 1m2 4l1 1m1 2l2 2m1 2l3 3m1 3l1 1m1 2l1 1m102 309l1 1m2 4l2 2m1 2l4 4m1 0l7 7m1 0l2 2m3 0l1 1m1 0l1 1m1 0l1 1m4 0l1 1m17 0l1-1m5 0l1-1m4 0l1-1m3 0l1-1m3 0l1-1m1 0l1-1m3 0l1-1m2 0l1-1m1 0l1-1m4 0l1-1m5 0l1-1m3 0l1-1m3 0l1-1m3 0l1-1m4 0l1-1m13 0l1-1m13 0l1-1m18 0l1 1m6 0l1 1l1-1m1 0l1-1l1 1m2 0l1 1m4 0l1 1m3 0l1 1m5 0l1 1m1 0l1 1m1 0l1 1m1 0l1-1m1 0l1 1m1 0l1 1m1 0l1 1m4 0l1 1m2 0l1 1m1 0l1 1m3 0l1 1m3 0l1 1m2 0l1 1m2 0l1 1m2 0l1 1m3 0l1 1m2 0l1 1m1 0l1 1m3 0l1 1m2 0l1 1m3 0l1 1m2 0l1 1m4 0l1 1m5 0l2 2m3 0l1 1m3 0l1 1m3 0l1 1m2 0l1 1m3 0l1 1m3 0l1 1m3 0l1 1m2 0l1 1m6 0l1 1m1 0l1 1m2 0l1 1m3 0l1 1m1 0l1 1m6 0l1 1m2 0l1 1m5 0l1 1m5 0l1 1m2 0l1 1m7 0l1 1m4 0l1 1m7 0l1 1m1 0l1-1m2 0l1 1m5 0l1 1m9 0l1 1m7 0l1 1m11 0l1 1m13 0l1 1m17 0l1 1m19 0l1 1m1 0l1-1m5 0l1 1m5 0l1-1m2 0l1 1"/>
<path class="t aw" d="M114 329l6 24l1 5l1 4l5 25l1 6l2 10l1 4l2 10l1 4l4 20l1 4l3 15l1 4l2 10l5 20l1 5l3 12l4 12m9 14h1m2 2h1m1 1h1m1 1h8m1-1h1m1-1h1m1-1h3m3-3h2m1-1h1m2-2h1m11-11h1m4-4h1m18-20h1m2-2h1m16-18h1m19-25h1m67-113h1m18-21h1m2-2h1m2-2h1m2-2h1m1-1h1m1-1h1m1-1h3m1-1h12m1 1h1m1 1h1m23 37l1 3m3 6l1 3m1 2l2 6m1 2l2 6m1 2l1 3m2 4l1 3m1 2l1 3m1 2l7 21l1 4l5 15l1 4l2 6l1 4l3 9l1 4l2 6l1 4l1 3l1 4l1 3l1 4l1 3l1 4l1 3l1 4l1 3l1 4l1 3l2 8l1 5l2 6l2 8l1 3l4 16l1 3l1 4l1 3l1 4l1 3l1 4m1 2l8 24m1 2l5 15m1 2l1 3m1 2l1 3m16 23h1m2 2h1m1 1h1m2 2h1m1 1h1m1 1h1m1 1h1m1 1h1m1 1h4m2 0h16m1-1h4m1-1h4m1-1h2m1-1h2m1-1h2m1-1h3m1-1h2m1-1h3m1-1h3m1-1h2m1-1h2m1-1h5m1-1h4m1-1h8m1-1h5m1-1h8m1-1h26m1 1h15m1 1h6m1 1h4m1 1h2m1 1h1m1 1h4m1 1h3m1 1h2m1 1h2m1 1h3m1 1h2m1 1h2m1 1h2m1 1h4m1 1h1m1 1h3m1 1h2m1 1h2m1 1h2m1 1h1m1 1h3m1 1h3m1 1h1m1 1h2m1 1h4m1 1h3m1 1h2m1 1h4m1 1h1m1 1h4m1 1h4m1 1h3m1 1h2m1 1h2m1 1h4m1 1h2m1 1h3m1 1h1m1 1h4m1 1h5m1 1h1m1 1h8m1 1h2m1 1h4m1 1h4m1 1h8m1 1h2m2 0h8m1 1h1m1 1h12m1 1h6m1 1h10m1 1h11m1 1h23m1 1h26m1 1h3m1-1h7m1 1h7"/>
<path class="t cw" d="M158 523l3 6m1 1l1 2m2 2l1 2m53-21l1-2m5-5l1-2m18-16l1-2m3-3l1-2m10-9l1-2m2-2l1-2m3-3l1-2m1-1l1-2m3-3l1-2m1-1l1-2m6-5l1-2m1-1l1-2m1-1l2-4m1-1l1-2m1-1l2-4m1-1l6-12m1-1l7-14m2-2l1-2m1-1l1-2m1-1l3-6m1-1l1-2m1-1l14-28m1-1l3-6m1-1l2-4m1-1l1-2m4-3l1-2m3-3l1-2m1-1l1-2m46-15l2 4m1 1l1 2m5 5l3 6m1 1l8 16m1 3l3 6m1 3l1 2m2 6l1 2m2 6l1 2m1 3l2 4m1 3l1 2m1 3l1 2m53 182l1 2m8 24l1 2m5 15l1 2m1 3l1 2m1 3l2 4m1 1l2 4m1 1l1 2m1 1l1 2m3 3l1 2"/>
<path class="t bw" d="M161 529l1 1m1 2l2 2m1 2l1 1m1 0l2 2m1 0l1 1m1 0l1 1m8 0l1-1m1 0l1-1m1 0l1-1m3 0l3-3m2 0l1-1m1 0l2-2m1 0l11-11m1 0l4-4m1 0l2-2m1-2l5-5m1-2l9-9m1 0l2-2m1 0l5-5m1-2l3-3m1-2l6-6m1 0l3-3m1-2l2-2m1-2l3-3m1-2l1-1m1-2l3-3m1-2l1-1m2-2l5-5m1-2l1-1m1-2l1-1m2-4l1-1m1-2l1-1m2-4l1-1m6-12l1-1m7-14l2-2m1-2l1-1m1-2l1-1m3-6l1-1m1-2l1-1m14-28l1-1m3-6l1-1m2-4l1-1m1-2l1-1m1 0l2-2m1-2l3-3m1-2l1-1m1-2l9-9m1 0l2-2m1 0l2-2m1 0l2-2m1 0l1-1m1 0l1-1m1 0l1-1m3 0l1-1m12 0l1 1m1 0l1 1m1 0l2 2m2 4l1 1m1 2l5 5m3 6l1 1m101 302l1 1m2 4l1 1m1 2l1 1m1 2l3 3m1 2l3 3m1 0l2 2m1 0l1 1m1 0l2 2m1 0l1 1m1 0l1 1m1 0l1 1m1 0l1 1m1 0l1 1m4 0l1 1l1-1m16 0l1-1m4 0l1-1m4 0l1-1m2 0l1-1m2 0l1-1m2 0l1-1m3 0l1-1m2 0l1-1m3 0l1-1m3 0l1-1m2 0l1-1m2 0l1-1m5 0l1-1m4 0l1-1m8 0l1-1m5 0l1-1m8 0l1-1m26 0l1 1m15 0l1 1m6 0l1 1m4 0l1 1m2 0l1 1m1 0l1 1m4 0l1 1m3 0l1 1m2 0l1 1m2 0l1 1m3 0l1 1m2 0l1 1m2 0l1 1m2 0l1 1m4 0l1 1m1 0l1 1m3 0l1 1m2 0l1 1m2 0l1 1m2 0l1 1m1 0l1 1m3 0l1 1m3 0l1 1m1 0l1 1m2 0l1 1m4 0l1 1m3 0l1 1m2 0l1 1m4 0l1 1m1 0l1 1m4 0l1 1m4 0l1 1m3 0l1 1m2 0l1 1m2 0l1 1m4 0l1 1m2 0l1 1m3 0l1 1m1 0l1 1m4 0l1 1m5 0l1 1m1 0l1 1m8 0l1 1m2 0l1 1m4 0l1 1m4 0l1 1m8 0l1 1m2 0l1-1l1 1m8 0l1 1m1 0l1 1m12 0l1 1m6 0l1 1m10 0l1 1m11 0l1 1m23 0l1 1m26 0l1 1m3 0l1-1m7 0l1 1"/>
<path class="n aw" d="M114 329l6 24l1 5l1 4l8 40l1 4l9 45l1 4l2 10l1 4l1 5l3 12l1 5l5 20l4 12m9 14h1m2 2h1m2 2h1m1 1h3m1-1h4m1-1h1m2-2h3m1-1h1m1-1h1m2-2h1m3-3h1m9-9h1m3-3h1m18-20h1m4-5h1m3-3h1m12-14h1m102-151h1m2-2h1m4-4h1m2-2h1m1-1h1m1-1h2m1-1h1m1-1h4m1-1h9m1 1h1m2 2h1m1 1h1m1 2l1 3m8 9l1 3m9 16l1 3m1 2l1 3m2 4l1 3m1 2l1 3m1 2l1 3m2 4l1 3m1 2l1 3m1 2l1 3m1 2l1 3m1 2l1 3m1 2l7 21l1 4l2 6l1 4l3 9l1 4l5 15l1 4l2 6l1 4l1 3l1 4l1 3l1 4l1 3l1 4l1 3l2 8l1 3l2 8l1 3l1 4l1 3l2 8l1 3l3 12l1 3l2 8l7 21m1 2l5 15m1 2l4 12m1 2l1 3m20 29h1m2 2h1m1 1h2m2 2h1m1 1h2m1 1h4m1 1h10m2 0h3m1-1h9m1-1h3m1-1h3m1-1h2m1-1h3m1-1h2m1-1h1m1-1h3m1-1h2m1-1h4m1-1h4m1-1h1m1-1h6m1-1h5m1-1h8m1-1h12m1-1h9m1-1h4m1 1h7m1 1h3m1-1h3m1 1h2m2 0h4m1 1h5m1 1h3m1 1h2m1 1h3m1 1h2m1 1h3m1 1h2m1 1h2m1 1h3m1 1h2m1 1h3m1 1h1m1 1h4m1 1h1m1 1h2m1 1h3m1 1h1m1 1h3m1 1h2m1 1h2m1 1h4m1 1h1m1 1h2m1 1h6m1 1h1m1 1h4m1 1h2m1 1h4m1 1h1m1 1h1m2 0h2m1 1h1m1 1h3m1 1h3m1 1h2m1 1h2m1 1h4m1 1h3m1 1h2m1 1h4m1 1h2m1 1h5m1 1h4m1 1h1m1 1h12m1 1h3m1 1h8m1 1h5m1 1h9m1 1h4m2 0h3m1 1h6m1 1h15m1 1h25m1 1h20m1 1h23"/>
<path class="n cw" d="M158 523l3 6m1 1l1 2m2 2l1 2m56-24l1-2m2-2l1-2m8-7l1-2m10-8l1-2m2-2l1-2m11-10l1-2m2-2l1-2m2-2l1-2m1-1l1-2m3-3l1-2m9-9l1-2m2-2l2-4m1-1l5-10m2-2l2-4m1-1l2-4m1-1l7-14m3-3l1-2m1-1l3-6m1-1l1-2m1-1l2-4m1-1l11-22m1-1l1-2m1-1l1-2m1-1l2-4m1-1l1-2m7-7l1-2m2-2l1-2m46-14l1 2m7 9l1 2m3 5l1 2m1 1l6 12m1 3l1 2m1 3l2 4m1 3l1 2m1 3l1 2m1 3l2 4m1 3l1 2m1 3l1 2m1 3l1 2m1 3l1 2m1 3l1 2m55 185l1 2m5 15l1 2m4 12l1 2m1 3l8 16m3 3l1 2"/>
<path class="n bw" d="M161 529l1 1m1 2l2 2m1 2l1 1m1 0l2 2m1 0l2 2m1 0l1 1m3 0l1-1m4 0l1-1m1 0l2-2m3 0l1-1m1 0l1-1m1 0l2-2m1 0l3-3m1 0l9-9m1 0l3-3m1 0l7-7m1-2l2-2m1-2l7-7m2-2l3-3m1 0l3-3m1 0l2-2m1-2l2-2m1-2l6-6m1 0l4-4m1-2l2-2m1-2l2-2m1-2l1-1m1-2l3-3m1-2l9-9m1-2l2-2m2-4l1-1m5-10l2-2m2-4l1-1m2-4l1-1m7-14l3-3m1-2l1-1m3-6l1-1m1-2l1-1m2-4l1-1m11-22l1-1m1-2l1-1m1-2l1-1m2-4l1-1m1-2l7-7m1-2l2-2m1-2l5-5m1 0l2-2m1 0l4-4m1 0l2-2m1 0l1-1m1 0l1-1m2 0l1-1m1 0l1-1m4 0l1-1m9 0l1 1m1 0l2 2m1 0l1 1m3 5l6 6m1 2l1 1m1 3l1 1m1 2l1 1m104 303l3 3m1 2l8 8m1 0l2 2m1 0l1 1m2 0l2 2m1 0l1 1m2 0l1 1m4 0l1 1m10 0l1 1l1-1m3 0l1-1m9 0l1-1m3 0l1-1m3 0l1-1m2 0l1-1m3 0l1-1m2 0l1-1m1 0l1-1m3 0l1-1m2 0l1-1m4 0l1-1m4 0l1-1m1 0l1-1m6 0l1-1m5 0l1-1m8 0l1-1m12 0l1-1m9 0l1-1m4 0l1 1m7 0l1 1m3 0l1-1m3 0l1 1m2 0l1 1l1-1m4 0l1 1m5 0l1 1m3 0l1 1m2 0l1 1m3 0l1 1m2 0l1 1m3 0l1 1m2 0l1 1m2 0l1 1m3 0l1 1m2 0l1 1m3 0l1 1m1 0l1 1m4 0l1 1m1 0l1 1m2 0l1 1m3 0l1 1m1 0l1 1m3 0l1 1m2 0l1 1m2 0l1 1m4 0l1 1m1 0l1 1m2 0l1 1m6 0l1 1m1 0l1 1m4 0l1 1m2 0l1 1m4 0l1 1m1 0l1 1m1 0l1 1l1-1m2 0l1 1m1 0l1 1m3 0l1 1m3 0l1 1m2 0l1 1m2 0l1 1m4 0l1 1m3 0l1 1m2 0l1 1m4 0l1 1m2 0l1 1m5 0l1 1m4 0l1 1m1 0l1 1m12 0l1 1m3 0l1 1m8 0l1 1m5 0l1 1m9 0l1 1m4 0l1-1l1 1m3 0l1 1m6 0l1 1m15 0l1 1m25 0l1 1m20 0l1 1"/>
<path class="o aw" d="M114 330l7 28l1 5l1 4l4 20l1 6l1 5l1 4l3 15l1 4l4 20l1 4l4 20l1 4l1 5l2 8l1 5l7 28l1 3m1 2l1 3m9 14h1m3 3h1m1 1h2m1 1h3m1-1h1m1-1h3m1-1h1m1-1h1m1-1h1m1-1h1m1-1h1m2-2h1m2-2h1m6-6h1m8-8h1m19-21h1m7-7h1m8-10h1m21-26h1m68-107h1m9-12h1m5-5h1m3-3h1m2-2h1m1-1h1m1-1h2m1-1h1m1-1h4m1-1h11m1 1h1m1 1h1m1 1h1m22 36l1 3m2 4l1 3m2 4l1 3m1 2l1 3m2 4l1 3m1 2l1 3m1 2l1 3m1 2l1 3m1 2l1 3m1 2l6 18l1 4l6 18l1 4l6 18l1 4l3 9l1 4l1 3l1 4l1 3l1 4l2 6l1 4l1 3l2 8l1 3l2 8l1 3l1 4l2 6l3 12l1 3l1 4l1 3l1 4l1 3l1 4m1 2l2 6m1 2l6 18m1 2l2 6m1 2l1 3m1 2l1 3m19 27h1m2 2h1m3 3h1m1 1h2m1 1h2m1 1h3m1 1h6m1 1h4m1-1h9m1-1h4m1-1h3m1-1h1m1-1h1m1-1h5m1-1h3m2-2h4m1-1h1m1-1h3m1-1h3m1-1h5m1-1h4m1-1h6m1-1h6m1-1h6m1-1h5m1-1h2m1 1h3m2 0h6m1-1h1m1 1h16m1 1h4m2 0h3m1 1h2m1 1h5m1 1h2m1 1h2m1 1h2m1 1h4m1 1h1m1 1h1m1 1h3m1 1h3m1 1h3m1 1h1m1 1h4m1 1h1m1 1h3m1 1h2m1 1h2m1 1h3m1 1h2m1 1h2m1 1h3m1 1h2m1 1h2m1 1h2m1 1h4m1 1h3m1 1h2m1 1h2m1 1h5m1 1h3m1 1h3m1 1h3m1 1h3m1 1h2m1 1h1m1 1h2m1 1h5m1 1h4m1 1h3m1 1h3m1 1h3m1 1h5m1 1h2m1 1h7m1 1h8m1 1h7m1 1h2m1 1h3m1-1h1m1 1h6m1 1h7m1 1h9m1 1h12m1 1h15m1 1h1m1-1h6m1 1h26m2 0h2m1 1h15"/>
<path class="o cw" d="M156 518l1 2m1 3l2 4m1 1l1 2m1 1l1 2m1 1l1 2m55-23l1-2m5-5l1-2m17-15l1-2m2-2l1-2m12-11l1-2m3-3l1-2m1-1l1-2m1-1l1-2m4-4l1-2m6-5l1-2m2-2l1-2m2-2l2-4m1-1l3-6m1-1l2-4m1-1l2-4m1-1l4-8m1-1l2-4m1-1l1-2m1-1l1-2m1-1l1-2m1-1l2-4m2-2l1-2m1-1l2-4m1-1l8-16m1-1l1-2m1-1l1-2m1-1l3-6m1-1l1-2m5-4l1-2m1-1l1-2m4-4l1-2m45-11l3 6m5 5l1 2m1 1l3 6m1 1l7 14m1 3l2 4m1 3l2 4m1 3l1 2m1 3l2 4m1 3l1 2m1 3l1 2m1 3l1 2m1 3l1 2m1 3l1 2m51 171l1 2m2 6l1 2m6 18l1 2m2 6l1 2m1 3l1 2m1 3l7 14m2 2l1 2"/>
<path class="o bw" d="M160 527l1 1m1 2l1 1m1 2l1 1m1 2l1 1m1 0l3 3m1 0l1 1m2 0l1 1m3 0l1-1m1 0l1-1m3 0l1-1m1 0l1-1m1 0l1-1m1 0l1-1m1 0l1-1m1 0l2-2m1 0l2-2m1 0l6-6m1 0l8-8m1 0l4-4m1-2l5-5m1-2l8-8m1 0l7-7m2-2l2-2m1-2l4-4m1 0l7-7m1-2l3-3m1-2l1-1m1-2l1-1m1-2l4-4m2-2l5-5m1-2l2-2m1-2l2-2m2-4l1-1m3-6l1-1m2-4l1-1m2-4l1-1m4-8l1-1m2-4l1-1m1-2l1-1m1-2l1-1m1-2l1-1m2-4l2-2m1-2l1-1m2-4l1-1m8-16l1-1m1-2l1-1m1-2l1-1m3-6l1-1m1-2l3-3m1 0l1-1m1-2l1-1m1-2l4-4m2-2l5-5m1 0l3-3m1 0l2-2m1 0l1-1m1 0l1-1m2 0l1-1m1 0l1-1m4 0l1-1m11 0l1 1m1 0l1 1m1 0l1 1m1 0l1 1m3 6l5 5m1 2l1 1m3 6l1 1m103 296l2 2m1 2l9 9m1 0l2 2m1 0l3 3m1 0l1 1m2 0l1 1m2 0l1 1m3 0l1 1m6 0l1 1m4 0l1-1m9 0l1-1m4 0l1-1m3 0l1-1m1 0l1-1m1 0l1-1m5 0l1-1m3 0l2-2m4 0l1-1m1 0l1-1m3 0l1-1m3 0l1-1m5 0l1-1m4 0l1-1m6 0l1-1m6 0l1-1m6 0l1-1m5 0l1-1m2 0l1 1m3 0l1-1l1 1m6 0l1-1m1 0l1 1m16 0l1 1m4 0l1 1l1-1m3 0l1 1m2 0l1 1m5 0l1 1m2 0l1 1m2 0l1 1m2 0l1 1m4 0l1 1m1 0l1 1m1 0l1 1m3 0l1 1m3 0l1 1m3 0l1 1m1 0l1 1m4 0l1 1m1 0l1 1m3 0l1 1m2 0l1 1m2 0l1 1m3 0l1 1m2 0l1 1m2 0l1 1m3 0l1 1m2 0l1 1m2 0l1 1m2 0l1 1m4 0l1 1m3 0l1 1m2 0l1 1m2 0l1 1m5 0l1 1m3 0l1 1m3 0l1 1m3 0l1 1m3 0l1 1m2 0l1 1m1 0l1 1m2 0l1 1m5 0l1 1m4 0l1 1m3 0l1 1m3 0l1 1m3 0l1 1m5 0l1 1m2 0l1 1m7 0l1 1m8 0l1 1m7 0l1 1m2 0l1 1m3 0l1-1m1 0l1 1m6 0l1 1m7 0l1 1m9 0l1 1m12 0l1 1m15 0l1 1m1 0l1-1m6 0l1 1m26 0l1 1l1-1m2 0l1 1"/>
<path class="g aw" d="M114 330l7 28l1 5l1 4l4 20l1 6l2 10l1 4l2 10l1 4l6 30l1 4l2 10l1 4l2 10l8 32l4 12m9 14h1m3 3h1m1 1h1m1 1h4m1-1h4m1-1h2m2-2h1m2-2h1m1-1h1m1-1h1m1-1h1m14-14h1m2-2h1m20-22h1m4-4h1m12-14h1m22-26h1m79-116h1m1-1h1m3-3h1m1-1h1m2-2h2m1-1h1m1-1h1m1-1h1m1-1h8m1 1h5m1 1h1m1 1h1m1 1h1m11 14l1 3m9 16l1 3m4 8l1 3m1 2l1 3m1 2l1 3m1 2l1 3m1 2l1 3m1 2l1 3m2 4l1 3m2 4l1 3m1 2l3 9l1 4l9 27l1 4l7 21l1 4l2 6l1 4l3 9l1 4l1 3l2 8l2 6l1 4l1 3l2 8l1 3l1 4l1 3l2 8l1 3l1 4l1 3l1 4l5 15m1 2l1 3m1 2l6 18m1 2l1 3m1 2l1 3m1 2l1 3m19 27h1m1 1h1m1 1h1m2 2h1m1 1h1m1 1h2m1 1h2m1 1h9m1 1h4m1-1h10m1-1h3m1-1h1m1-1h2m1-1h3m1-1h3m1-1h1m1-1h1m1-1h4m1-1h2m1-1h3m1-1h1m1-1h5m1-1h4m1-1h7m1-1h3m1-1h10m1-1h9m2 0h4m1-1h9m1 1h19m1 1h3m1 1h4m1 1h4m1 1h3m1 1h1m1 1h2m1 1h5m1 1h1m1 1h1m1 1h2m1 1h3m1 1h2m1 1h3m1 1h2m1 1h2m1 1h3m1 1h2m1 1h3m1 1h1m1 1h3m1 1h1m1 1h3m1 1h3m1 1h3m1 1h3m1 1h2m1 1h2m1 1h3m1 1h3m1 1h2m1 1h2m1 1h4m1 1h2m1 1h5m1 1h2m1 1h2m1 1h1m1 1h4m1 1h2m1 1h6m1 1h2m1 1h3m1 1h5m1 1h5m1 1h8m1 1h3m1 1h10m1 1h9m1 1h3m1 1h8m1 1h14m1 1h10m1 1h4m2 0h12m1 1h2m2 0h19m2 0h6m1 1h11m2 0h3"/>
<path class="g cw" d="M158 523l4 8m1 1l1 2m53-17l1-2m8-8l1-2m16-14l1-2m6-6l1-2m11-10l1-2m3-3l1-2m1-1l1-2m2-2l1-2m9-8l1-2m1-1l1-2m2-2l1-2m1-1l3-6m1-1l2-4m1-1l1-2m1-1l2-4m1-1l1-2m1-1l4-8m1-1l1-2m2-2l1-2m2-2l3-6m2-2l1-2m1-1l1-2m1-1l1-2m1-1l8-16m1-1l1-2m1-1l1-2m1-1l2-4m10-10l1-2m49-14l2 4m1 1l1 2m7 9l1 2m1 1l1 2m1 1l5 10m1 3l4 8m1 3l1 2m1 3l1 2m1 3l1 2m1 3l1 2m1 3l1 2m1 3l2 4m1 3l2 4m1 3l1 2m52 171l1 2m1 3l1 2m6 18l1 2m1 3l1 2m1 3l1 2m1 3l7 14m1 1l1 2"/>
<path class="g bw" d="M162 531l1 1m1 2l3 3m1 0l3 3m1 0l1 1m1 0l1 1m4 0l1-1m4 0l1-1m2 0l2-2m1 0l2-2m1 0l1-1m1 0l1-1m1 0l1-1m1 0l14-14m1 0l2-2m2-2l8-8m1-2l10-10m1 0l4-4m2-2l6-6m1-2l4-4m1 0l6-6m1-2l3-3m1-2l1-1m1-2l2-2m1-2l6-6m1 0l2-2m1-2l1-1m1-2l2-2m1-2l1-1m3-6l1-1m2-4l1-1m1-2l1-1m2-4l1-1m1-2l1-1m4-8l1-1m1-2l2-2m1-2l2-2m3-6l2-2m1-2l1-1m1-2l1-1m1-2l1-1m8-16l1-1m1-2l1-1m1-2l1-1m2-4l10-10m1-2l8-8m1 0l1-1m1 0l3-3m1 0l1-1m1 0l2-2m2 0l1-1m1 0l1-1m1 0l1-1m1 0l1-1m8 0l1 1m5 0l1 1m1 0l1 1m1 0l1 1m1 0l1 1m2 4l1 1m1 2l6 6m2 5l1 1m1 2l1 1m102 290l1 1m1 2l10 10m1 0l1 1m1 0l1 1m1 0l2 2m1 0l1 1m1 0l1 1m2 0l1 1m2 0l1 1m9 0l1 1m4 0l1-1m10 0l1-1m3 0l1-1m1 0l1-1m2 0l1-1m3 0l1-1m3 0l1-1m1 0l1-1m1 0l1-1m4 0l1-1m2 0l1-1m3 0l1-1m1 0l1-1m5 0l1-1m4 0l1-1m7 0l1-1m3 0l1-1m10 0l1-1m9 0l1-1l1 1m4 0l1-1m9 0l1 1m19 0l1 1m3 0l1 1m4 0l1 1m4 0l1 1m3 0l1 1m1 0l1 1m2 0l1 1m5 0l1 1m1 0l1 1m1 0l1 1m2 0l1 1m3 0l1 1m2 0l1 1m3 0l1 1m2 0l1 1m2 0l1 1m3 0l1 1m2 0l1 1m3 0l1 1m1 0l1 1m3 0l1 1m1 0l1 1m3 0l1 1m3 0l1 1m3 0l1 1m3 0l1 1m2 0l1 1m2 0l1 1m3 0l1 1m3 0l1 1m2 0l1 1m2 0l1 1m4 0l1 1m2 0l1 1m5 0l1 1m2 0l1 1m2 0l1 1m1 0l1 1m4 0l1 1m2 0l1 1m6 0l1 1m2 0l1 1m3 0l1 1m5 0l1 1m5 0l1 1m8 0l1 1m3 0l1 1m10 0l1 1m9 0l1 1m3 0l1 1m8 0l1 1m14 0l1 1m10 0l1 1m4 0l1-1l1 1m12 0l1 1m2 0l1-1l1 1m19 0l1 1l1-1m6 0l1 1m11 0l1-1l1 1m3 0l1-1"/>
<path class="m aw" d="M114 330l7 28l1 5l1 4l1 5l1 4l1 6l1 5l1 6l2 10l1 4l3 15l1 4l1 5l1 6l1 4l1 5l1 4l1 5l1 4l3 15l1 4l1 5l7 28l4 12m10 16h1m1 1h1m1 1h1m1 1h7m1-1h2m1-1h1m1-1h1m1-1h1m1-1h2m2-2h1m4-4h1m3-3h1m10-10h1m21-23h1m2-2h1m12-14h1m89-125h1m14-14h1m2-2h1m3-3h1m2-2h1m1-1h3m1-1h4m1-1h6m2 0h5m2 2h1m1 1h2m23 38l1 3m2 4l1 3m2 4l1 3m2 4l1 3m1 2l1 3m3 6l1 3m1 2l1 3m1 2l2 6m1 2l6 18l1 4l3 9m1 2l6 18l1 4l4 12l1 4l1 3l1 4l2 6l1 4l2 6l1 4l1 3l1 4l2 6l1 4l1 3l1 4l1 3l1 4l2 6l2 8l1 3l1 4l1 3m1 2l4 12m1 2l3 9m1 2l2 6m1 2l1 3m1 2l2 6m1 2l1 3m17 25h1m2 2h1m2 2h1m1 1h1m1 1h1m1 1h2m1 1h2m1 1h2m1 1h1m1-1h6m1 1h3m1-1h9m1-1h1m1-1h4m1-1h3m1-1h2m1-1h2m1-1h2m1-1h2m1-1h2m1-1h2m1-1h3m1-1h2m1-1h4m1-1h4m1-1h4m1-1h7m1-1h4m1-1h8m1-1h1m1 1h3m1-1h19m1 1h14m1 1h8m1 1h3m1 1h2m1 1h2m1 1h2m1 1h4m1 1h2m1 1h3m1 1h1m1 1h3m1 1h3m2 2h2m1 1h4m1 1h2m1 1h3m1 1h2m1 1h1m1 1h4m1 1h2m1 1h1m1 1h3m1 1h3m1 1h1m1 1h3m1 1h4m1 1h2m1 1h3m1 1h3m1 1h3m1 1h3m1 1h2m1 1h1m1 1h3m1 1h4m1 1h3m1 1h2m1 1h3m1 1h4m1 1h3m1 1h1m1 1h6m1 1h3m1 1h4m1 1h4m1 1h2m1-1h1m1 1h5m1 1h9m1 1h4m1 1h8m1 1h6m2 0h3m1 1h7m1 1h17m1 1h11m1 1h5m2 0h27m1 1h17"/>
<path class="m cw" d="M158 523l4 8m1 1l1 2m1 1l1 2m52-21l1-2m5-5l1-2m19-17l1-2m5-5l1-2m11-10l1-2m2-2l1-2m2-2l1-2m13-13l1-2m2-2l1-2m1-1l2-4m1-1l1-2m1-1l1-2m1-1l2-4m2-2l1-2m1-1l2-4m1-1l2-4m1-1l1-2m1-1l1-2m1-1l1-2m2-2l1-2m1-1l1-2m1-1l1-2m1-1l1-2m1-1l1-2m1-1l5-10m1-1l2-4m2-2l3-6m1-1l1-2m1-1l1-2m58-24l3 6m1 1l1 2m5 5l2 4m1 1l1 2m1 1l8 16m1 3l2 4m1 3l2 4m1 3l2 4m1 3l1 2m1 3l3 6m1 3l1 2m1 3l1 2m2 6l1 2m10 31l1 2m36 120l1 2m4 12l1 2m3 9l1 2m2 6l1 2m1 3l1 2m2 6l1 2m1 3l6 12m1 1l1 2m1 1l1 2"/>
<path class="m bw" d="M162 531l1 1m1 2l1 1m1 2l2 2m1 0l1 1m1 0l1 1m1 0l1 1m7 0l1-1m2 0l1-1m1 0l1-1m1 0l1-1m1 0l1-1m2 0l2-2m1 0l4-4m1 0l3-3m1 0l10-10m1 0l2-2m1-2l5-5m1-2l12-12m1 0l2-2m1 0l3-3m1-2l5-5m1-2l2-2m1 0l8-8m1-2l2-2m1-2l2-2m1-2l13-13m1-2l2-2m1-2l1-1m2-4l1-1m1-2l1-1m1-2l1-1m2-4l2-2m1-2l1-1m2-4l1-1m2-4l1-1m1-2l1-1m1-2l1-1m1-2l2-2m1-2l1-1m1-2l1-1m1-2l1-1m1-2l1-1m1-2l1-1m5-10l1-1m2-4l2-2m3-6l1-1m1-2l1-1m1-2l3-3m1 0l14-14m1 0l2-2m1 0l3-3m1 0l2-2m1 0l1-1m3 0l1-1m4 0l1-1m6 0l1-1l1 1m5 0l2 2m1 0l1 1m5 6l1 1m1 2l5 5m2 4l1 1m1 2l1 1m102 285l1 1m1 2l1 1m1 2l7 7m1 0l2 2m1 0l2 2m1 0l1 1m1 0l1 1m1 0l1 1m2 0l1 1m2 0l1 1m2 0l1 1m1 0l1-1m6 0l1 1m3 0l1-1m9 0l1-1m1 0l1-1m4 0l1-1m3 0l1-1m2 0l1-1m2 0l1-1m2 0l1-1m2 0l1-1m2 0l1-1m2 0l1-1m3 0l1-1m2 0l1-1m4 0l1-1m4 0l1-1m4 0l1-1m7 0l1-1m4 0l1-1m8 0l1-1m1 0l1 1m3 0l1-1m19 0l1 1m14 0l1 1m8 0l1 1m3 0l1 1m2 0l1 1m2 0l1 1m2 0l1 1m4 0l1 1m2 0l1 1m3 0l1 1m1 0l1 1m3 0l1 1m3 0l2 2m2 0l1 1m4 0l1 1m2 0l1 1m3 0l1 1m2 0l1 1m1 0l1 1m4 0l1 1m2 0l1 1m1 0l1 1m3 0l1 1m3 0l1 1m1 0l1 1m3 0l1 1m4 0l1 1m2 0l1 1m3 0l1 1m3 0l1 1m3 0l1 1m3 0l1 1m2 0l1 1m1 0l1 1m3 0l1 1m4 0l1 1m3 0l1 1m2 0l1 1m3 0l1 1m4 0l1 1m3 0l1 1m1 0l1 1m6 0l1 1m3 0l1 1m4 0l1 1m4 0l1 1m2 0l1-1m1 0l1 1m5 0l1 1m9 0l1 1m4 0l1 1m8 0l1 1m6 0l1 1l1-1m3 0l1 1m7 0l1 1m17 0l1 1m11 0l1 1m5 0l1-1l1 1m27 0l1 1"/>
<path class="p aw" d="M114 330l8 32l5 25l1 6l1 5l1 4l4 20l1 4l3 15l1 4l4 20l1 4l1 5l2 8l1 5l7 28l1 3m1 2l1 3m12 17h1m1 1h1m1 1h10m2-2h1m1-1h1m1-1h1m1-1h1m1-1h1m3-3h1m6-6h1m32-33h1m2-2h1m37-41h1m64-94h1m13-13h1m1-1h1m1-1h1m2-2h2m1-1h1m1-1h1m1-1h2m1-1h14m1 1h4m1 1h1m2 2h1m1 2l1 3m8 9l1 3m12 22l1 3m4 8l1 3m1 2l1 3m1 2l1 3m2 4l1 3m2 4l1 3m2 4l1 3m1 2l15 45m1 2l4 12l1 4l3 9l1 4l1 3l1 4l4 12l1 4l1 3l1 4l1 3l1 4l1 3l1 4l3 9l1 4l1 3l1 4l4 12l1 4m1 2l2 6m1 2l2 6m1 2l4 12m1 2l1 3m1 2l1 3m1 2l1 3m18 26h1m4 4h1m1 1h2m1 1h1m1 1h1m1 1h2m1 1h3m1 1h15m1-1h3m1-1h4m1-1h4m1-1h3m1-1h3m1-1h2m1-1h2m1-1h1m1-1h1m1-1h3m1-1h3m1-1h3m1-1h3m1-1h6m1-1h1m1-1h7m1-1h4m1-1h13m1-1h28m1 1h9m1 1h6m1 1h4m1 1h2m1 1h2m1 1h3m1 1h2m1 1h1m1 1h4m1 1h1m1 1h3m1 1h4m1 1h1m1 1h2m1 1h2m1 1h3m1 1h1m1 1h2m1 1h1m1 1h3m3 1h1m1 1h5m1 1h1m1 1h2m1 1h1m1 1h4m1 1h2m1 1h3m1 1h3m1 1h2m1 1h5m1 1h1m1 1h4m1 1h2m1 1h2m1 1h3m1 1h2m1 1h3m1 1h4m1 1h2m1 1h3m1 1h4m1 1h3m1 1h5m1 1h4m1 1h8m1 1h6m1 1h5m1 1h6m1 1h5m1 1h10m1 1h1m1-1h1m1 1h11m1 1h12m1 1h13m1 1h14m2 0h4m1 1h2m1-1h8m1 1h1m1-1h7m1 1h9"/>
<path class="p cw" d="M156 518l1 2m1 3l4 8m1 1l1 2m57-22l1-2m22-20l1-2m19-19l1-2m3-3l1-2m2-2l1-2m10-9l1-2m2-2l1-2m2-2l2-4m1-1l2-4m1-1l1-2m1-1l1-2m1-1l1-2m1-1l1-2m1-1l3-6m1-1l1-2m4-4l1-2m1-1l1-2m1-1l1-2m1-1l1-2m2-2l1-2m1-1l1-2m1-1l4-8m1-1l1-2m1-1l2-4m1-1l1-2m2-2l1-2m2-2l1-2m58-20l1 2m4 6l1 2m6 8l2 4m1 1l8 16m1 3l4 8m1 3l1 2m1 3l1 2m1 3l2 4m1 3l2 4m1 3l2 4m1 3l1 2m15 45l1 2m33 109l1 2m2 6l1 2m2 6l1 2m4 12l1 2m1 3l1 2m1 3l1 2m1 3l6 12m1 1l1 2m1 1l1 2"/>
<path class="p bw" d="M162 531l1 1m1 2l6 6m1 0l1 1m1 0l1 1m10 0l2-2m1 0l1-1m1 0l1-1m1 0l1-1m1 0l1-1m1 0l3-3m1 0l6-6m1 0l15-15m1-2l16-16m1 0l2-2m1 0l2-2m1-2l19-19m1-2l3-3m1-2l2-2m1-2l7-7m1 0l2-2m1-2l2-2m1-2l2-2m2-4l1-1m2-4l1-1m1-2l1-1m1-2l1-1m1-2l1-1m1-2l1-1m3-6l1-1m1-2l4-4m1-2l1-1m1-2l1-1m1-2l1-1m1-2l2-2m1-2l1-1m1-2l1-1m4-8l1-1m1-2l1-1m2-4l1-1m1-2l2-2m1-2l2-2m1-2l3-3m1 0l13-13m1 0l1-1m1 0l1-1m1 0l2-2m2 0l1-1m1 0l1-1m1 0l1-1m2 0l1-1m14 0l1 1m4 0l1 1m1 0l2 2m3 5l3 3m1 2l4 4m1 3l1 1m2 4l1 1m100 276l1 1m1 2l1 1m1 2l8 8m1 0l4 4m1 0l1 1m2 0l1 1m1 0l1 1m1 0l1 1m2 0l1 1m3 0l1 1m15 0l1-1m3 0l1-1m4 0l1-1m4 0l1-1m3 0l1-1m3 0l1-1m2 0l1-1m2 0l1-1m1 0l1-1m1 0l1-1m3 0l1-1m3 0l1-1m3 0l1-1m3 0l1-1m6 0l1-1m1 0l1-1m7 0l1-1m4 0l1-1m13 0l1-1m28 0l1 1m9 0l1 1m6 0l1 1m4 0l1 1m2 0l1 1m2 0l1 1m3 0l1 1m2 0l1 1m1 0l1 1m4 0l1 1m1 0l1 1m3 0l1 1m4 0l1 1m1 0l1 1m2 0l1 1m2 0l1 1m3 0l1 1m1 0l1 1m2 0l1 1m1 0l1 1m3 0l1-1l2 2m1 0l1 1m5 0l1 1m1 0l1 1m2 0l1 1m1 0l1 1m4 0l1 1m2 0l1 1m3 0l1 1m3 0l1 1m2 0l1 1m5 0l1 1m1 0l1 1m4 0l1 1m2 0l1 1m2 0l1 1m3 0l1 1m2 0l1 1m3 0l1 1m4 0l1 1m2 0l1 1m3 0l1 1m4 0l1 1m3 0l1 1m5 0l1 1m4 0l1 1m8 0l1 1m6 0l1 1m5 0l1 1m6 0l1 1m5 0l1 1m10 0l1 1m1 0l1-1m1 0l1 1m11 0l1 1m12 0l1 1m13 0l1 1m14 0l1 1l1-1m4 0l1 1m2 0l1-1m8 0l1 1m1 0l1-1m7 0l1 1"/>
<path class="u aw" d="M114 332l1 3l1 4l1 3l3 12l1 5l1 4l1 5l1 4l3 15l1 6l2 10l1 4l2 10l1 4l7 35l1 4l1 5l1 4l1 5l2 8l1 5l7 28l2 6m2 4l1 3m7 10h1m3 3h1m1 1h1m1 1h2m1-1h3m1-1h3m1-1h2m2-2h1m1-1h1m1-1h1m3-3h1m7-7h1m19-20h1m9-10h1m18-19h1m23-25h1m64-91h1m2-2h1m5-6h1m4-4h1m1-1h1m2-2h2m1-1h1m1-1h1m1-1h3m1-1h3m1-1h3m1 1h2m1-1h4m1 1h2m2 2h1m1 1h1m7 10h1m4 5l1 3m10 17l1 3m4 8l1 3m1 2l1 3m2 4l1 3m1 2l1 3m5 10l1 3m1 2l1 3m1 2l4 12m1 2l11 33m1 2l6 18l1 4l3 9l1 4l3 9l1 4l2 6l1 4l1 3l1 4l2 6l1 4l3 9l1 4l8 24m1 2l2 6m1 2l1 3m1 2l3 9m1 2l1 3m1 2l1 3m18 27h1m2 2h1m3 3h1m1 1h2m1 1h1m1 1h2m1 1h5m1 1h3m1-1h1m1 1h3m1-1h6m1-1h8m1-1h4m1-1h2m1-1h1m1-1h2m1-1h1m1-1h2m1-1h2m1-1h2m1-1h5m1-1h2m1-1h2m1-1h5m1-1h4m1-1h5m1-1h3m1-1h6m1-1h2m1 1h4m1-1h26m1 1h1m1-1h2m1 1h9m1 1h6m1 1h3m1 1h2m1 1h3m1 1h1m1 1h2m1 1h2m1 1h4m1 1h1m1 1h2m1 1h2m1 1h2m1 1h4m1 1h3m1 1h2m1 1h2m1 1h2m1 1h2m2 2h6m1 1h1m1 1h3m1 1h1m1 1h2m1 1h3m1 1h3m1 1h2m1 1h2m1 1h4m1 1h3m1 1h3m1 1h3m1 1h2m1 1h3m1 1h2m1 1h4m1 1h2m1 1h2m1 1h4m1 1h5m1 1h2m1 1h2m1 1h5m1 1h4m1 1h10m1 1h3m1 1h9m1 1h5m1 1h1m1-1h2m1 1h2m1 1h9m1 1h12m1 1h13m1 1h20m1 1h15m1 1h1m1-1h1m1 1h3m1-1h2m1 1h3m2 0h11"/>
<path class="u cw" d="M157 521l2 4m1 3l1 2m1 1l1 2m2 2l1 2m58-28l1-2m3-2l1-2m21-20l1-2m13-12l1-2m2-2l1-2m13-12l1-2m2-2l1-2m2-2l2-4m1-1l1-2m1-1l1-2m1-1l1-2m1-1l1-2m2-2l1-2m1-1l2-4m1-1l1-2m1-1l1-2m2-2l1-2m4-4l2-4m4-4l1-2m1-1l3-6m1-1l1-2m1-1l1-2m1-1l2-4m1-1l1-2m1-1l1-2m3-3l1-2m8-6l1-2m50-10l2 4m2 2l1 2m3 2l1 2m4 6l2 4m1 1l5 10m1 3l4 8m1 3l1 2m1 3l2 4m1 3l1 2m1 3l5 10m1 3l1 2m1 3l1 2m4 12l1 2m11 33l1 2m35 112l1 2m2 6l1 2m1 3l1 2m3 9l1 2m1 3l1 2m1 3l6 12m1 1l1 2m1 1l1 2m2 2l1 2"/>
<path class="u bw" d="M161 530l1 1m1 2l2 2m1 2l1 1m1 0l3 3m1 0l1 1m1 0l1 1m2 0l1-1m3 0l1-1m3 0l1-1m2 0l2-2m1 0l1-1m1 0l1-1m1 0l3-3m1 0l7-7m1 0l17-17m1-2l1-1m1 0l1-1m1-2l7-7m1 0l13-13m1-2l4-4m1 0l8-8m1-2l2-2m1-2l11-11m1 0l1-1m1-2l2-2m1-2l2-2m2-4l1-1m1-2l1-1m1-2l1-1m1-2l1-1m1-2l2-2m1-2l1-1m2-4l1-1m1-2l1-1m1-2l2-2m1-2l4-4m2-4l4-4m1-2l1-1m3-6l1-1m1-2l1-1m1-2l1-1m2-4l1-1m1-2l1-1m1-2l3-3m1-2l4-4m1 0l2-2m2-2l4-4m1 0l4-4m1 0l1-1m1 0l2-2m2 0l1-1m1 0l1-1m1 0l1-1m3 0l1-1m3 0l1-1m3 0l1 1m2 0l1-1m4 0l1 1m2 0l2 2m1 0l1 1m1 0l2 2m2 4l2 2m2 2l2 2m1 2l1 1m1 3l2 2m2 4l1 1m98 268l1 1m1 2l1 1m1 2l2 2m1 2l5 5m1 0l2 2m1 0l3 3m1 0l1 1m2 0l1 1m1 0l1 1m2 0l1 1m5 0l1 1m3 0l1-1m1 0l1 1m3 0l1-1m6 0l1-1m8 0l1-1m4 0l1-1m2 0l1-1m1 0l1-1m2 0l1-1m1 0l1-1m2 0l1-1m2 0l1-1m2 0l1-1m5 0l1-1m2 0l1-1m2 0l1-1m5 0l1-1m4 0l1-1m5 0l1-1m3 0l1-1m6 0l1-1m2 0l1 1m4 0l1-1m26 0l1 1m1 0l1-1m2 0l1 1m9 0l1 1m6 0l1 1m3 0l1 1m2 0l1 1m3 0l1 1m1 0l1 1m2 0l1 1m2 0l1 1m4 0l1 1m1 0l1 1m2 0l1 1m2 0l1 1m2 0l1 1m4 0l1 1m3 0l1 1m2 0l1 1m2 0l1 1m2 0l1 1m2 0l2 2m6 0l1 1m1 0l1 1m3 0l1 1m1 0l1 1m2 0l1 1m3 0l1 1m3 0l1 1m2 0l1 1m2 0l1 1m4 0l1 1m3 0l1 1m3 0l1 1m3 0l1 1m2 0l1 1m3 0l1 1m2 0l1 1m4 0l1 1m2 0l1 1m2 0l1 1m4 0l1 1m5 0l1 1m2 0l1 1m2 0l1 1m5 0l1 1m4 0l1 1m10 0l1 1m3 0l1 1m9 0l1 1m5 0l1 1m1 0l1-1m2 0l1 1m2 0l1 1m9 0l1 1m12 0l1 1m13 0l1 1m20 0l1 1m15 0l1 1m1 0l1-1m1 0l1 1m3 0l1-1m2 0l1 1m3 0l1-1l1 1m11 0l1-1"/>
<path class="k aw" d="M114 331l2 8l1 3l1 5l4 16l8 40l1 4l2 10l1 4l7 35l2 8l2 10l1 4l1 5l8 32l2 6m2 4l1 3m9 12h1m2 2h1m1 1h3m1-1h5m1-1h1m1-1h1m1-1h1m1-1h1m1-1h1m3-3h1m1-1h1m12-12h1m6-6h1m20-22h1m2-2h1m10-12h1m3-3h1m15-18h1m69-93h2m3-3h1m6-6h1m1-1h1m1-1h1m1-1h1m1-1h1m2-2h2m1-1h1m1-1h3m1-1h12m1 1h4m2 2h1m1 1h1m22 33l1 3m7 14l1 3m1 2l1 3m3 6l1 3m5 10l1 3m1 2l2 6m1 2l6 18m1 2l8 24m1 2l9 27l2 8l5 15l1 4l2 6l1 4l2 6l1 4l4 12l1 4l4 12m1 2l2 6m2 4l1 3m1 2l1 3m1 2l2 6m1 2l1 3m1 2l1 3m15 24h1m3 3h1m2 2h1m2 2h1m1 1h1m1 1h1m1 1h3m1 1h4m1 1h12m1-1h7m1-1h3m1-1h6m1-1h1m1-1h1m1-1h3m1-1h3m1-1h1m1-1h1m1-1h1m1-1h6m1-1h1m1-1h5m1-1h1m1-1h1m1-1h8m1-1h6m1-1h5m1-1h18m1-1h4m1 1h19m1 1h1m1-1h1m1 1h1m2 0h3m1 1h2m1 1h2m1 1h2m1 1h3m1 1h2m1 1h3m1 1h2m1 1h2m1 1h1m1 1h2m1 1h4m1 1h1m1 1h3m1 1h3m1 1h2m1 1h1m1 1h3m1 1h2m1 1h2m1 1h3m1 1h3m1 1h1m1 1h2m1 1h2m1 1h4m1 1h1m1 1h2m1 1h5m1 1h3m1 1h2m1 1h3m1 1h2m1 1h5m1 1h2m1 1h3m1 1h2m1 1h2m1 1h1m1 1h4m1 1h3m1 1h5m1 1h2m1 1h5m1 1h7m1 1h5m1 1h6m1 1h5m1 1h11m1 1h2m1 1h15m1 1h12m1 1h9m1 1h12m1 1h4m1-1h6m1 1h16m1 1h5m1-1h1m1 1h2m1-1h3m1 1h8"/>
<path class="k cw" d="M157 521l2 4m1 3l1 2m1 1l1 2m4 4l1 2m52-25l1-2m7-7l1-2m16-14l1-2m3-3l1-2m12-10l1-2m3-3l1-2m3-3l1-2m13-12l1-2m2-2l1-2m1-1l1-2m2-2l1-2m1-1l1-2m1-1l1-2m1-1l1-2m2-2l3-6m1-1l1-2m4-4l1-2m3-3l1-2m2-2l1-2m4-4l3-6m2-2l2-4m1-1l2-4m1-1l1-2m1-1l1-2m4-4l1-2m58-14l2 4m3 3l1 2m4 4l2 4m1 1l4 8m1 1l2 4m1 3l7 14m1 3l1 2m1 3l3 6m1 3l5 10m1 3l1 2m2 6l1 2m6 18l1 2m8 24l1 2m32 102l1 2m2 6l2 4m1 3l1 2m1 3l1 2m2 6l1 2m1 3l1 2m1 3l7 14m1 1l1 2m3 3l1 2"/>
<path class="k bw" d="M161 530l1 1m1 2l4 4m1 2l1 1m1 0l2 2m1 0l1 1m3 0l1-1m5 0l1-1m1 0l1-1m1 0l1-1m1 0l1-1m1 0l1-1m1 0l3-3m1 0l1-1m1 0l12-12m1 0l6-6m1 0l1-1m1-2l7-7m1-2l10-10m1 0l2-2m1 0l2-2m1-2l3-3m1-2l3-3m1 0l3-3m1 0l4-4m1-2l3-3m1-2l3-3m1-2l2-2m1 0l10-10m1-2l2-2m1-2l1-1m1-2l2-2m1-2l1-1m1-2l1-1m1-2l1-1m1-2l2-2m3-6l1-1m1-2l4-4m1-2l3-3m1-2l2-2m1-2l4-4m3-6l2-2m2-4l1-1m2-4l1-1m1-2l1-1m1-2l4-4m1-2l2-2m2 0l3-3m1 0l6-6m1 0l1-1m1 0l1-1m1 0l1-1m1 0l1-1m1 0l2-2m2 0l1-1m1 0l1-1m3 0l1-1m12 0l1 1m4 0l2 2m1 0l1 1m1 0l2 2m2 4l3 3m1 2l4 4m2 4l1 1m4 8l1 1m97 261l1 1m1 2l3 3m1 2l2 2m1 0l3 3m1 0l2 2m1 0l2 2m1 0l1 1m1 0l1 1m1 0l1 1m3 0l1 1m4 0l1 1m12 0l1-1m7 0l1-1m3 0l1-1m6 0l1-1m1 0l1-1m1 0l1-1m3 0l1-1m3 0l1-1m1 0l1-1m1 0l1-1m1 0l1-1m6 0l1-1m1 0l1-1m5 0l1-1m1 0l1-1m1 0l1-1m8 0l1-1m6 0l1-1m5 0l1-1m18 0l1-1m4 0l1 1m19 0l1 1m1 0l1-1m1 0l1 1m1 0l1 1l1-1m3 0l1 1m2 0l1 1m2 0l1 1m2 0l1 1m3 0l1 1m2 0l1 1m3 0l1 1m2 0l1 1m2 0l1 1m1 0l1 1m2 0l1 1m4 0l1 1m1 0l1 1m3 0l1 1m3 0l1 1m2 0l1 1m1 0l1 1m3 0l1 1m2 0l1 1m2 0l1 1m3 0l1 1m3 0l1 1m1 0l1 1m2 0l1 1m2 0l1 1m4 0l1 1m1 0l1 1m2 0l1 1m5 0l1 1m3 0l1 1m2 0l1 1m3 0l1 1m2 0l1 1m5 0l1 1m2 0l1 1m3 0l1 1m2 0l1 1m2 0l1 1m1 0l1 1m4 0l1 1m3 0l1 1m5 0l1 1m2 0l1 1m5 0l1 1m7 0l1 1m5 0l1 1m6 0l1 1m5 0l1 1m11 0l1 1m2 0l1 1m15 0l1 1m12 0l1 1m9 0l1 1m12 0l1 1m4 0l1-1m6 0l1 1m16 0l1 1m5 0l1-1m1 0l1 1m2 0l1-1m3 0l1 1"/>
<path class="y aw" d="M114 331l3 12l1 3l2 8l2 10l1 4l2 10l1 4l1 6l3 15l1 4l3 15l1 4l5 25l1 4l2 10l1 4l1 5l3 12l1 5l6 24l2 6m11 18h1m2 2h1m1 1h1m1 1h5m1-1h1m1-1h2m1-1h2m1-1h1m1-1h1m2-2h1m2-2h1m10-10h1m29-30h1m1-1h1m10-12h1m9-9h1m15-17h1m64-85h1m1-1h1m4-4h1m4-4h1m1-1h1m1-1h1m1-1h1m1-1h1m1-1h2m1-1h2m1-1h3m1-1h2m1-1h2m1 1h9m1 1h1m1 1h1m1 1h1m1 1h1m12 15l1 3m9 14l1 3m4 8l1 3m3 6l1 3m2 4l1 3m6 12l1 3m2 4l1 3m1 2l3 9m1 2l8 24m1 2l2 6m1 2l12 36l1 4l4 12l1 4l3 9l1 4l5 15l1 4l4 12m1 2l1 3m1 2l2 6m1 2l1 3m1 2l1 3m1 2l1 3m1 2l1 3m1 2l1 3m20 29h1m1 1h1m2 2h1m1 1h1m1 1h2m1 1h2m1 1h2m1 1h16m1-1h5m1-1h6m1-1h3m1-1h2m1-1h1m1-1h2m1-1h2m1-1h2m1-1h3m1-1h1m1-1h3m1-1h3m1-1h3m1-1h1m1-1h5m1-1h5m1-1h2m1-1h12m1-1h3m1-1h19m2 0h9m1 1h8m1 1h6m1 1h4m1 1h2m1 1h4m1 1h1m1 1h1m1 1h4m1 1h2m1 1h3m1 1h3m1 1h1m1 1h3m1 1h1m1 1h3m1 1h2m1 1h1m1 1h4m1 1h3m1 1h1m1 1h1m1 1h3m1 1h3m1 1h2m1 1h1m1 1h4m1 1h1m1 1h4m1 1h4m1 1h2m1 1h1m1 1h3m1 1h3m1 1h2m1 1h5m1 1h1m1 1h2m1 1h6m1 1h1m1 1h1m1 1h4m1 1h1m1 1h6m1 1h3m1 1h5m1 1h6m1 1h7m1 1h6m1 1h5m1 1h5m1 1h13m1 1h8m1 1h6m1 1h7m1 1h3m1-1h3m1 1h17m1 1h2m1-1h2m1 1h3m2 0h9m1 1h1m1-1h9m1 1h4m1-1h9"/>
<path class="y cw" d="M157 521l6 12m1 1l1 2m59-27l1-2m19-17l1-2m3-3l1-2m15-13l1-2m4-4l1-2m9-8l1-2m6-6l1-2m3-3l1-2m1-1l1-2m1-1l1-2m1-1l1-2m1-1l1-2m2-2l1-2m1-1l1-2m1-1l1-2m5-5l1-2m2-2l2-4m5-5l1-2m3-3l1-2m1-1l2-4m1-1l1-2m2-2l1-2m3-3l1-2m2-2l1-2m58-12l2 4m3 3l1 2m7 9l2 4m1 1l2 4m1 1l1 2m1 3l4 8m1 3l3 6m1 3l2 4m1 3l6 12m1 3l2 4m1 3l1 2m3 9l1 2m8 24l1 2m2 6l1 2m32 100l1 2m1 3l1 2m2 6l1 2m1 3l1 2m1 3l1 2m1 3l1 2m1 3l1 2m1 3l8 16m1 1l1 2"/>
<path class="y bw" d="M163 533l1 1m1 2l3 3m1 0l2 2m1 0l1 1m1 0l1 1m5 0l1-1m1 0l1-1m2 0l1-1m2 0l1-1m1 0l1-1m1 0l2-2m1 0l2-2m1 0l10-10m1 0l15-15m1-2l13-13m1 0l1-1m1 0l3-3m1-2l3-3m1-2l2-2m1 0l9-9m1 0l2-2m1-2l4-4m1-2l7-7m1 0l1-1m1-2l6-6m1-2l3-3m1-2l1-1m1-2l1-1m1-2l1-1m1-2l1-1m1-2l2-2m1-2l1-1m1-2l1-1m1-2l5-5m1-2l2-2m2-4l5-5m1-2l3-3m1-2l1-1m2-4l1-1m1-2l2-2m1-2l3-3m1-2l2-2m1-2l1-1m1 0l1-1m1 0l4-4m1 0l4-4m1 0l1-1m1 0l1-1m1 0l1-1m1 0l1-1m1 0l1-1m2 0l1-1m2 0l1-1m3 0l1-1m2 0l1-1m2 0l1 1m9 0l1 1m1 0l1 1m1 0l1 1m1 0l1 1m1 0l2 2m2 4l3 3m1 2l4 4m1 3l2 2m2 4l1 1m2 4l1 1m96 255l1 1m1 2l10 10m1 0l1 1m1 0l2 2m1 0l1 1m1 0l1 1m2 0l1 1m2 0l1 1m2 0l1 1m16 0l1-1m5 0l1-1m6 0l1-1m3 0l1-1m2 0l1-1m1 0l1-1m2 0l1-1m2 0l1-1m2 0l1-1m3 0l1-1m1 0l1-1m3 0l1-1m3 0l1-1m3 0l1-1m1 0l1-1m5 0l1-1m5 0l1-1m2 0l1-1m12 0l1-1m3 0l1-1m19 0l1-1l1 1m9 0l1 1m8 0l1 1m6 0l1 1m4 0l1 1m2 0l1 1m4 0l1 1m1 0l1 1m1 0l1 1m4 0l1 1m2 0l1 1m3 0l1 1m3 0l1 1m1 0l1 1m3 0l1 1m1 0l1 1m3 0l1 1m2 0l1 1m1 0l1 1m4 0l1 1m3 0l1 1m1 0l1 1m1 0l1 1m3 0l1 1m3 0l1 1m2 0l1 1m1 0l1 1m4 0l1 1m1 0l1 1m4 0l1 1m4 0l1 1m2 0l1 1m1 0l1 1m3 0l1 1m3 0l1 1m2 0l1 1m5 0l1 1m1 0l1 1m2 0l1 1m6 0l1 1m1 0l1 1m1 0l1 1m4 0l1 1m1 0l1 1m6 0l1 1m3 0l1 1m5 0l1 1m6 0l1 1m7 0l1 1m6 0l1 1m5 0l1 1m5 0l1 1m13 0l1 1m8 0l1 1m6 0l1 1m7 0l1 1m3 0l1-1m3 0l1 1m17 0l1 1m2 0l1-1m2 0l1 1m3 0l1 1l1-1m9 0l1 1m1 0l1-1m9 0l1 1m4 0l1-1"/>
<path class="c aw" d="M114 331l9 36l2 10l1 6l1 5l1 6l1 5l1 4l1 5l1 4l3 15l1 4l5 25l1 4l2 10l2 8l1 5l1 4l1 5l3 12l1 3l2 8l2 6m11 18h1m4 4h2m2 0h3m1-1h3m1-1h1m1-1h2m2-2h1m2-2h1m2-2h1m13-13h1m7-7h1m17-19h1m1-1h1m15-16h1m20-22h1m3-3h1m60-78h1m1-1h1m2-2h1m5-5h1m2-2h1m1-1h1m1-1h2m1-1h1m1-1h4m1-1h3m1-1h1m1-1h6m1 1h6m1 1h2m1 1h1m1 1h1m1 1h1m29 47l1 3m2 4l1 3m4 8l1 3m5 10l1 3m1 2l2 6m1 2l3 9m1 2l2 6m1 2l4 12m1 2l5 15m1 2l15 45l1 4l5 15l1 4l6 18m1 2l1 3m1 2l1 3m2 4l1 3m1 2l1 3m1 2l1 3m1 2l1 3m2 4l1 3m1 2l1 3m14 19h1m3 3h1m2 2h1m1 1h1m1 1h2m1 1h2m1 1h4m1 1h13m1-1h7m1-1h2m1-1h6m1-1h3m1-1h1m1-1h2m1-1h2m1-1h2m1-1h2m1-1h1m1-1h4m1-1h2m1-1h4m1-1h1m1-1h4m1-1h2m1-1h1m1 1h3m1-1h3m1-1h1m1-1h2m2 0h8m1-1h27m1 1h13m1 1h5m1 1h4m1 1h1m1 1h4m1 1h1m1 1h2m1 1h2m1 1h2m1 1h3m1 1h3m1 1h2m1 1h2m1 1h2m1 1h2m1 1h2m1 1h2m1 1h3m1 1h3m1 1h2m1 1h3m1 1h2m1 1h1m1 1h3m1 1h3m1 1h1m1 1h3m1 1h1m1 1h4m1 1h3m1 1h2m1 1h3m1 1h3m1 1h4m1 1h1m1 1h2m1 1h2m1 1h2m1 1h4m1 1h3m1 1h1m1 1h4m1 1h5m1 1h3m1 1h5m1 1h5m1 1h5m1 1h7m1 1h9m1 1h8m1 1h1m1 1h11m1 1h7m1 1h1m1-1h2m1 1h3m2 0h1m1 1h2m1-1h7m1 1h9m1 1h6m1-1h3m1 1h2m2 0h18m1 1h17"/>
<path class="c cw" d="M157 521l5 10m1 1l1 2m1 1l1 2m56-25l1-2m4-4l1-2m12-10l1-2m21-20l1-2m6-6l1-2m12-10l1-2m3-3l1-2m2-2l1-2m1-1l1-2m2-2l1-2m2-2l1-2m1-1l1-2m2-2l2-4m8-8l1-2m1-1l1-2m6-6l1-2m1-1l1-2m1-1l1-2m2-2l1-2m1-1l1-2m1-1l1-2m5-5l1-2m60-12l2 4m1 1l1 2m6 6l3 6m1 1l1 2m1 1l11 22m1 3l2 4m1 3l4 8m1 3l5 10m1 3l1 2m2 6l1 2m3 9l1 2m2 6l1 2m4 12l1 2m5 15l1 2m28 86l1 2m1 3l1 2m1 3l2 4m1 3l1 2m1 3l1 2m1 3l1 2m1 3l2 4m1 3l1 2m1 3l1 2m1 1l2 4m1 1l1 2m2 2l1 2"/>
<path class="c bw" d="M162 531l1 1m1 2l1 1m1 2l2 2m1 0l4 4m2 0l1 1l1-1m3 0l1-1m3 0l1-1m1 0l1-1m2 0l2-2m1 0l2-2m1 0l2-2m1 0l13-13m1 0l7-7m1 0l2-2m1-2l4-4m1-2l9-9m1 0l1-1m2-2l14-14m1 0l6-6m1-2l6-6m1-2l6-6m1 0l3-3m1 0l1-1m1-2l3-3m1-2l2-2m1-2l1-1m1-2l2-2m1-2l2-2m1-2l1-1m1-2l2-2m2-4l8-8m1-2l1-1m1-2l6-6m1-2l1-1m1-2l1-1m1-2l2-2m1-2l1-1m1-2l1-1m1-2l5-5m1-2l2-2m1 0l1-1m1 0l2-2m1 0l5-5m1 0l2-2m1 0l1-1m1 0l1-1m2 0l1-1m1 0l1-1m4 0l1-1m3 0l1-1m1 0l1-1m6 0l1 1m6 0l1 1m2 0l1 1m1 0l1 1m1 0l1 1m1 0l2 2m2 4l1 1m1 2l6 6m3 6l1 1m1 2l1 1m95 248l1 1m2 4l1 1m1 2l2 2m1 2l5 5m1 0l3 3m1 0l2 2m1 0l1 1m1 0l1 1m2 0l1 1m2 0l1 1m4 0l1 1m13 0l1-1m7 0l1-1m2 0l1-1m6 0l1-1m3 0l1-1m1 0l1-1m2 0l1-1m2 0l1-1m2 0l1-1m2 0l1-1m1 0l1-1m4 0l1-1m2 0l1-1m4 0l1-1m1 0l1-1m4 0l1-1m2 0l1-1m1 0l1 1m3 0l1-1m3 0l1-1m1 0l1-1m2 0l1 1l1-1m8 0l1-1m27 0l1 1m13 0l1 1m5 0l1 1m4 0l1 1m1 0l1 1m4 0l1 1m1 0l1 1m2 0l1 1m2 0l1 1m2 0l1 1m3 0l1 1m3 0l1 1m2 0l1 1m2 0l1 1m2 0l1 1m2 0l1 1m2 0l1 1m2 0l1 1m3 0l1 1m3 0l1 1m2 0l1 1m3 0l1 1m2 0l1 1m1 0l1 1m3 0l1 1m3 0l1 1m1 0l1 1m3 0l1 1m1 0l1 1m4 0l1 1m3 0l1 1m2 0l1 1m3 0l1 1m3 0l1 1m4 0l1 1m1 0l1 1m2 0l1 1m2 0l1 1m2 0l1 1m4 0l1 1m3 0l1 1m1 0l1 1m4 0l1 1m5 0l1 1m3 0l1 1m5 0l1 1m5 0l1 1m5 0l1 1m7 0l1 1m9 0l1 1m8 0l1 1m1 0l1 1m11 0l1 1m7 0l1 1m1 0l1-1m2 0l1 1m3 0l1-1l1 1m1 0l1 1m2 0l1-1m7 0l1 1m9 0l1 1m6 0l1-1m3 0l1 1m2 0l1-1l1 1m18 0l1 1"/>
<path class="f aw" d="M114 332l4 16l1 3l1 4l1 5l2 8l7 35l1 4l6 30l1 4l2 10l1 4l3 15l1 4l1 5l5 20l1 5l1 4l1 3l1 4l2 6m1 2l1 3m11 15h1m1 1h1m1 1h1m2 0h5m1-1h2m1-1h1m1-1h1m2-2h1m2-2h1m1-1h1m10-10h1m3-4h1m23-25h1m3-3h1m1-1h1m10-11h1m19-21h1m4-4h1m31-39h1m33-39h2m2-2h1m5-5h1m1-1h2m1-1h1m1-1h2m1-1h2m1-1h2m1-1h4m1-1h7m1 1h5m1 1h1m1 1h3m1 1h1m3 3h1m29 49l1 3m4 8l1 3m4 8l1 3m3 6l1 3m2 4l4 12m1 2l2 6m1 2l4 12m1 2l1 3m1 2l4 12m1 2l8 24l1 4m1 2l3 9l1 4l12 36m1 2l1 3m1 2l1 3m2 4l1 3m1 2l1 3m1 2l1 3m1 2l1 3m4 8l1 3m13 18h1m3 3h1m1 1h2m3 3h1m1 1h3m1 1h1m2 0h1m1 1h3m1 1h4m1-1h2m2 0h4m1-1h6m1-1h3m1-1h3m1-1h2m1-1h3m1-1h1m1-1h2m1-1h1m1-1h2m1-1h2m1-1h1m1-1h3m1-1h4m1-1h2m1-1h1m1-1h8m1-1h3m1-1h6m1-1h10m1-1h10m1-1h9m1 1h12m1 1h8m1 1h6m1 1h4m1 1h1m1 1h1m1 1h4m1 1h3m1 1h2m2 2h5m1 1h1m1 1h3m1 1h3m1 1h1m1 1h2m1 1h2m1 1h2m1 1h3m1 1h1m1 1h2m1 1h2m1 1h6m2 2h1m1 1h3m1 1h2m1 1h3m1 1h3m1 1h3m1 1h2m1 1h3m1 1h1m1 1h6m1 1h1m1 1h2m1 1h4m1 1h2m1 1h2m1 1h3m1 1h2m1 1h3m1 1h5m1 1h2m1 1h1m1 1h9m1 1h3m1 1h7m1 1h3m1 1h5m1 1h10m1 1h6m1 1h8m1 1h9m1 1h22m1 1h17m2 0h2m1 1h20m1 1h4m1-1h5m1 1h7"/>
<path class="f cw" d="M157 521l1 2m1 3l3 6m1 1l1 2m44-10l1-2m17-16l1-2m4-4l1-2m14-11l1-2m18-17l1-2m2-2l1-2m16-14l1-2m3-3l1-2m2-2l1-2m2-2l1-2m1-1l1-2m3-3l1-2m1-1l1-2m1-1l1-2m5-4l1-2m7-7l1-2m2-2l1-2m2-2l1-2m1-1l1-2m1-1l1-2m69-20l2 4m1 1l1 2m5 5l1 2m1 1l3 6m2 2l13 26m1 3l4 8m1 3l4 8m1 3l3 6m1 3l2 4m4 12l1 2m2 6l1 2m4 12l1 2m1 3l1 2m4 12l1 2m9 28l1 2m16 49l1 2m1 3l1 2m1 3l2 4m1 3l1 2m1 3l1 2m1 3l1 2m1 3l4 8m2 4l1 2m1 1l2 4m1 1l1 2m3 3l1 2"/>
<path class="f bw" d="M162 532l1 1m1 2l6 6m1 0l1 1m1 0l1 1m1 0l1 1l1-1m5 0l1-1m2 0l1-1m1 0l1-1m1 0l2-2m1 0l2-2m1 0l1-1m1 0l10-10m2-2l2-2m1 0l14-14m1-2l4-4m1-2l3-3m1 0l3-3m1 0l1-1m1 0l4-4m1-2l5-5m1 0l12-12m1-2l2-2m1-2l3-3m1 0l4-4m1 0l7-7m1-2l3-3m1-2l2-2m1-2l2-2m1-2l1-1m1-2l3-3m1-2l1-1m1-2l1-1m1-2l3-3m1 0l1-1m1-2l7-7m1-2l2-2m1-2l2-2m1-2l1-1m1-2l1-1m1-2l13-13m2 0l2-2m1 0l5-5m1 0l1-1m2 0l1-1m1 0l1-1m2 0l1-1m2 0l1-1m2 0l1-1m4 0l1-1m7 0l1 1m5 0l1 1m1 0l1 1m3 0l1 1m1 0l3 3m3 4l1 1m1 2l5 5m1 2l1 1m3 6l2 2m94 241l1 1m1 2l1 1m2 4l1 1m1 2l3 3m1 2l2 2m1 0l3 3m1 0l1 1m2 0l3 3m1 0l1 1m3 0l1 1m1 0l1-1l1 1m1 0l1 1m3 0l1 1m4 0l1-1m2 0l1-1l1 1m4 0l1-1m6 0l1-1m3 0l1-1m3 0l1-1m2 0l1-1m3 0l1-1m1 0l1-1m2 0l1-1m1 0l1-1m2 0l1-1m2 0l1-1m1 0l1-1m3 0l1-1m4 0l1-1m2 0l1-1m1 0l1-1m8 0l1-1m3 0l1-1m6 0l1-1m10 0l1-1m10 0l1-1m9 0l1 1m12 0l1 1m8 0l1 1m6 0l1 1m4 0l1 1m1 0l1 1m1 0l1 1m4 0l1 1m3 0l1 1m2 0l2 2m5 0l1 1m1 0l1 1m3 0l1 1m3 0l1 1m1 0l1 1m2 0l1 1m2 0l1 1m2 0l1 1m3 0l1 1m1 0l1 1m2 0l1 1m2 0l1 1m6 0l2 2m1 0l1 1m3 0l1 1m2 0l1 1m3 0l1 1m3 0l1 1m3 0l1 1m2 0l1 1m3 0l1 1m1 0l1 1m6 0l1 1m1 0l1 1m2 0l1 1m4 0l1 1m2 0l1 1m2 0l1 1m3 0l1 1m2 0l1 1m3 0l1 1m5 0l1 1m2 0l1 1m1 0l1 1m9 0l1 1m3 0l1 1m7 0l1 1m3 0l1 1m5 0l1 1m10 0l1 1m6 0l1 1m8 0l1 1m9 0l1 1m22 0l1 1m17 0l1 1l1-1m2 0l1 1m20 0l1 1m4 0l1-1m5 0l1 1"/>
<path class="l aw" d="M114 332l2 8l1 3l5 20l1 5l1 4l1 5l1 6l5 25l1 4l5 25l1 4l2 10l1 4l3 15l3 12l1 5l2 8l1 5l4 16m1 2l2 6m9 15h1m1 1h1m3 3h1m1 1h4m1-1h3m1-1h2m1-1h1m2-2h1m2-2h1m2-2h1m3-3h1m10-11h1m22-24h1m3-3h1m16-16h1m17-18h1m6-6h1m27-34h1m33-38h3m3-3h1m1-1h1m1-1h1m2-2h1m1-1h1m1-1h4m1-1h3m1-1h5m1-1h5m1 1h8m1 1h2m2 2h1m2 2h1m3 3l1 3m23 35l1 3m3 6l1 3m9 18l1 3m3 6l1 3m1 2l2 6m1 2l2 6m1 2l1 3m1 2l3 9m1 2l2 6m1 2l1 3m1 2l5 15m1 2l6 18m1 2l3 9l1 4l12 36m1 2l1 3m1 2l1 3m4 8l2 6m2 4l1 3m20 31h1m3 3h1m2 2h1m1 1h2m1 1h3m1 1h3m1 1h3m1 1h3m1-1h7m1-1h2m2 0h5m1-1h1m1-1h5m1-1h2m1-1h1m1-1h2m1-1h2m1-1h2m1-1h2m1-1h2m1-1h2m1-1h3m1-1h1m1-1h4m1-1h4m1-1h5m1-1h4m1-1h3m1-1h7m1-1h11m1-1h13m1 1h13m1 1h1m1-1h1m1 1h6m1 1h4m1 1h1m1 1h5m1 1h1m1 1h3m1 1h1m1 1h2m1 1h3m1 1h2m1 1h3m1 1h2m1 1h2m1 1h2m1 1h2m1 1h4m2 2h2m1 1h4m1 1h1m1 1h1m1 1h4m1 1h3m1 1h1m1 1h1m1 1h5m1 1h2m1 1h3m1 1h2m1 1h2m1 1h3m1 1h1m1 1h5m1 1h1m1 1h4m1 1h2m1 1h3m1 1h2m1 1h2m1 1h3m1 1h4m1 1h4m1 1h3m1 1h2m1 1h7m1 1h4m1 1h4m1 1h9m1 1h9m1 1h4m1 1h6m1 1h7m1 1h8m1 1h1m1-1h5m1 1h12m1 1h5m1 1h2m1-1h7m1 1h1m1-1h2m1 1h17m1 1h4m1-1h6m1 1h11"/>
<path class="l cw" d="M155 516l1 2m2 6l4 8m1 1l1 2m1 1l1 2m40-11l1-2m18-17l1-2m7-7l1-2m31-28l1-2m20-18l1-2m3-3l1-2m2-2l1-2m1-1l1-2m4-4l1-2m3-3l1-2m1-1l1-2m7-6l1-2m8-8l1-2m2-2l1-2m2-2l1-2m5-5l1-2m72 1l2 4m1 1l1 2m1 1l1 2m1 1l1 2m1 1l7 14m1 3l3 6m1 3l9 18m1 3l3 6m1 3l1 2m2 6l1 2m2 6l1 2m1 3l1 2m3 9l1 2m2 6l1 2m1 3l1 2m5 15l1 2m6 18l1 2m16 49l1 2m1 3l1 2m1 3l4 8m2 6l2 4m1 3l9 18m1 1l1 2m1 1l1 2"/>
<path class="l bw" d="M162 532l1 1m1 2l1 1m1 2l1 1m1 0l1 1m1 0l3 3m1 0l1 1m4 0l1-1m3 0l1-1m2 0l1-1m1 0l2-2m1 0l2-2m1 0l2-2m1 0l3-3m1 0l5-5m1-2l4-4m1 0l13-13m1-2l7-7m2-2l3-3m1 0l16-16m1 0l9-9m1-2l7-7m1 0l6-6m1 0l5-5m1-2l3-3m1-2l2-2m1-2l1-1m1-2l4-4m1-2l3-3m1-2l1-1m1-2l1-1m1 0l5-5m1-2l8-8m1-2l2-2m1-2l2-2m1-2l5-5m1-2l6-6m3 0l3-3m1 0l1-1m1 0l1-1m1 0l2-2m1 0l1-1m1 0l1-1m4 0l1-1m3 0l1-1m5 0l1-1m5 0l1 1m8 0l1 1m2 0l2 2m1 0l2 2m1 0l3 3m1 3l7 7m2 4l1 1m1 2l1 1m1 2l1 1m1 2l1 1m95 238l1 1m1 2l1 1m1 2l7 7m1 0l3 3m1 0l2 2m1 0l1 1m2 0l1 1m3 0l1 1m3 0l1 1m3 0l1 1m3 0l1-1m7 0l1-1m2 0l1-1l1 1m5 0l1-1m1 0l1-1m5 0l1-1m2 0l1-1m1 0l1-1m2 0l1-1m2 0l1-1m2 0l1-1m2 0l1-1m2 0l1-1m2 0l1-1m3 0l1-1m1 0l1-1m4 0l1-1m4 0l1-1m5 0l1-1m4 0l1-1m3 0l1-1m7 0l1-1m11 0l1-1m13 0l1 1m13 0l1 1m1 0l1-1m1 0l1 1m6 0l1 1m4 0l1 1m1 0l1 1m5 0l1 1m1 0l1 1m3 0l1 1m1 0l1 1m2 0l1 1m3 0l1 1m2 0l1 1m3 0l1 1m2 0l1 1m2 0l1 1m2 0l1 1m2 0l1 1m4 0l2 2m2 0l1 1m4 0l1 1m1 0l1 1m1 0l1 1m4 0l1 1m3 0l1 1m1 0l1 1m1 0l1 1m5 0l1 1m2 0l1 1m3 0l1 1m2 0l1 1m2 0l1 1m3 0l1 1m1 0l1 1m5 0l1 1m1 0l1 1m4 0l1 1m2 0l1 1m3 0l1 1m2 0l1 1m2 0l1 1m3 0l1 1m4 0l1 1m4 0l1 1m3 0l1 1m2 0l1 1m7 0l1 1m4 0l1 1m4 0l1 1m9 0l1 1m9 0l1 1m4 0l1 1m6 0l1 1m7 0l1 1m8 0l1 1m1 0l1-1m5 0l1 1m12 0l1 1m5 0l1 1m2 0l1-1m7 0l1 1m1 0l1-1m2 0l1 1m17 0l1 1m4 0l1-1m6 0l1 1"/>
<path class="s aw" d="M114 332l4 16l1 3l1 4l1 5l2 8l1 6l2 10l1 4l3 15l1 4l6 30l1 4l3 15l1 4l2 10l1 4l1 5l3 12l1 5l3 12l1 3l1 4l3 9m12 18h2m1 1h1m1 1h2m2 0h2m1-1h2m2-2h1m1-1h1m1-1h1m2-2h1m1-1h1m11-11h1m32-33h1m12-12h1m2-2h1m5-6h1m13-14h1m5-5h1m25-31h1m31-34h1m2-2h3m1-1h1m3-3h2m1-1h1m1-1h1m1-1h1m1-1h4m1-1h9m1-1h1m2 0h5m1 1h2m1 1h2m1 1h2m2 2h1m3 3h1m10 13l1 3m9 14l1 3m7 13l1 3m13 26l1 3m1 2l2 6m2 4l2 6m1 2l2 6m1 2l1 3m1 2l1 3m1 2l3 9m2 4l4 12m1 2l3 9m1 2l5 15l1 4m1 2l8 24m1 2l3 9m1 2l1 3m2 4l1 3m2 4l1 3m3 6l1 3m6 12l1 3m13 17h1m2 2h1m2 2h1m1 1h1m1 1h1m1 1h2m1 1h1m1 1h7m1 1h3m1-1h2m1 1h3m1-1h3m1-1h5m1-1h4m1-1h2m1-1h2m1-1h4m1-1h1m1-1h1m1-1h3m1-1h1m1-1h3m1-1h1m1-1h3m1-1h2m1-1h3m1-1h3m1-1h3m1-1h6m1-1h2m1-1h3m1-1h10m1-1h8m2 0h7m1 1h5m1-1h11m1 1h1m1 1h8m1 1h2m1 1h4m1 1h3m1 1h4m1 1h1m1 1h1m1 1h4m1 1h1m1 1h2m1 1h2m1 1h3m1 1h2m1 1h1m1 1h3m1 1h2m1 1h2m1 1h2m1 1h4m1 1h1m1 1h2m1 1h2m1 1h3m1 1h2m1 1h2m1 1h3m1 1h3m1 1h2m1 1h1m1 1h4m1 1h1m1 1h3m1 1h5m1 1h1m1 1h5m1 1h1m1 1h2m1 1h4m1 1h3m1 1h2m1 1h3m1 1h2m1 1h3m1 1h6m1 1h3m1 1h7m1 1h3m1 1h5m1 1h3m2 0h6m1 1h3m1 1h8m1 1h6m1 1h14m1 1h10m1 1h11m1-1h1m1 1h9m1 1h25m1 1h4m1-1h4m1 1h4m1-1h2"/>
<path class="s cw" d="M158 524l5 10m2 2l1 2m61-32l1-2m30-27l1-2m4-3l1-2m23-21l1-2m1-1l1-2m4-4l1-2m4-4l1-2m1-1l1-2m3-3l1-2m15-14l1-2m4-4l1-2m3-3l1-2m68-13l2 4m1 1l1 2m8 10l1 2m2 2l2 4m1 1l2 4m1 3l3 6m1 1l3 6m1 3l13 26m1 3l1 2m2 6l2 4m2 6l1 2m2 6l1 2m1 3l1 2m1 3l1 2m3 9l2 4m4 12l1 2m3 9l1 2m6 19l1 2m8 24l1 2m3 9l1 2m1 3l2 4m1 3l2 4m1 3l3 6m1 3l6 12m1 3l1 2m1 1l2 4m2 2l1 2"/>
<path class="s bw" d="M163 534l2 2m1 2l4 4m2 0l1 1m1 0l1 1m2 0l1 1l1-1m2 0l1-1m2 0l2-2m1 0l1-1m1 0l1-1m1 0l2-2m1 0l1-1m1 0l11-11m1 0l19-19m1-2l12-12m1 0l12-12m1 0l2-2m1 0l1-1m1-2l3-3m2-2l12-12m1 0l5-5m1 0l4-4m1-2l1-1m1-2l4-4m1-2l4-4m1-2l1-1m1-2l3-3m1-2l2-2m1 0l12-12m1-2l4-4m1-2l3-3m1-2l9-9m1 0l2-2m3 0l1-1m1 0l3-3m2 0l1-1m1 0l1-1m1 0l1-1m1 0l1-1m4 0l1-1m9 0l1-1m1 0l1 1l1-1m5 0l1 1m2 0l1 1m2 0l1 1m2 0l2 2m1 0l3 3m3 4l1 1m1 2l6 6m1 3l1 1m1 2l2 2m2 4l1 1m6 13l1 1m86 215l1 1m2 4l2 2m1 2l6 6m1 0l2 2m1 0l2 2m1 0l1 1m1 0l1 1m1 0l1 1m2 0l1 1m1 0l1 1m7 0l1 1m3 0l1-1m2 0l1 1m3 0l1-1m3 0l1-1m5 0l1-1m4 0l1-1m2 0l1-1m2 0l1-1m4 0l1-1m1 0l1-1m1 0l1-1m3 0l1-1m1 0l1-1m3 0l1-1m1 0l1-1m3 0l1-1m2 0l1-1m3 0l1-1m3 0l1-1m3 0l1-1m6 0l1-1m2 0l1-1m3 0l1-1m10 0l1-1m8 0l1 1l1-1m7 0l1 1m5 0l1-1m11 0l1 1m1 0l1 1m8 0l1 1m2 0l1 1m4 0l1 1m3 0l1 1m4 0l1 1m1 0l1 1m1 0l1 1m4 0l1 1m1 0l1 1m2 0l1 1m2 0l1 1m3 0l1 1m2 0l1 1m1 0l1 1m3 0l1 1m2 0l1 1m2 0l1 1m2 0l1 1m4 0l1 1m1 0l1 1m2 0l1 1m2 0l1 1m3 0l1 1m2 0l1 1m2 0l1 1m3 0l1 1m3 0l1 1m2 0l1 1m1 0l1 1m4 0l1 1m1 0l1 1m3 0l1 1m5 0l1 1m1 0l1 1m5 0l1 1m1 0l1 1m2 0l1 1m4 0l1 1m3 0l1 1m2 0l1 1m3 0l1 1m2 0l1 1m3 0l1 1m6 0l1 1m3 0l1 1m7 0l1 1m3 0l1 1m5 0l1 1m3 0l1-1l1 1m6 0l1 1m3 0l1 1m8 0l1 1m6 0l1 1m14 0l1 1m10 0l1 1m11 0l1-1m1 0l1 1m9 0l1 1m25 0l1 1m4 0l1-1m4 0l1 1m4 0l1-1m2 0l1 1"/>
<path class="t aw" d="M114 332l4 16l1 3l1 4l1 5l2 8l4 20l1 6l1 5l1 4l2 10l1 4l3 15l1 4l5 25l1 4l1 5l3 12l1 5l3 12l1 5l1 4l1 3l1 4l3 9m11 17h1m2 2h1m1 1h3m2 0h2m1-1h2m2-2h1m1-1h1m1-1h1m1-1h1m1-1h1m5-5h1m8-9h1m18-20h1m5-6h1m2-2h1m16-16h1m7-7h1m9-10h1m4-4h1m4-4h1m24-29h1m8-8h1m23-25h1m2-2h3m2-2h1m1-1h1m1-1h1m1-1h3m1-1h5m1-1h4m1-1h4m1 1h1m1-1h2m1 1h5m1 1h3m1 1h1m1 1h1m1 1h1m2 2h1m3 3l1 3m8 8l1 3m19 34l1 3m12 24l1 3m1 2l1 3m1 2l1 3m1 2l1 3m2 4l2 6m1 2l1 3m1 2l1 3m1 2l1 3m1 2l1 3m1 2l4 12m1 2l3 9m1 2l2 6m1 2l4 12m1 2l9 27m1 2l2 6m2 4l1 3m3 5l1 3m3 6l1 3m1 2l1 3m18 27h1m1 1h1m2 2h1m2 2h1m1 1h2m1 1h4m1 1h9m1 1h2m1-1h8m1-1h5m1-1h3m1-1h3m1-1h2m1-1h2m1-1h3m2-2h2m1-1h2m1-1h2m1-1h3m1-1h2m1-1h2m1-1h2m1-1h4m1-1h4m1-1h5m1-1h5m1-1h5m1-1h11m1-1h25m1 1h13m1 1h4m1 1h1m1 1h2m1 1h5m1 1h2m1 1h1m1 1h2m1 1h3m1 1h3m1 1h1m1 1h3m2 2h4m1 1h2m1 1h2m1 1h3m1 1h1m1 1h3m1 1h2m1 1h1m1 1h2m1 1h4m1 1h1m1 1h2m1 1h3m1 1h2m1 1h2m1 1h3m1 1h3m1 1h3m1 1h2m1 1h2m1 1h2m1 1h4m1 1h2m1 1h3m1 1h2m1 1h4m1 1h3m1 1h1m1 1h5m1 1h3m1 1h2m1 1h2m1 1h2m2 0h2m1 1h6m1 1h5m1 1h7m1 1h4m1 1h4m2 0h4m1 1h4m1 1h1m1-1h3m1 1h4m1 1h15m1 1h12m1 1h19m1 1h19m1 1h1m1-1h9m1 1h4m1-1h4"/>
<path class="t cw" d="M158 524l4 8m1 1l2 4m38-7l1-2m19-18l1-2m3-3l1-2m5-4l1-2m32-28l1-2m18-15l1-2m4-4l1-2m8-8l1-2m1-1l1-2m1-1l1-2m16-14l1-2m5-5l1-2m84 2l1 2m1 1l2 4m1 1l1 2m1 1l11 22m1 3l12 24m1 3l1 2m1 3l1 2m1 3l1 2m1 3l2 4m2 6l1 2m1 3l1 2m1 3l1 2m1 3l1 2m1 3l1 2m4 12l1 2m3 9l1 2m2 6l1 2m4 12l1 2m9 27l1 2m2 6l2 4m1 3l2 4m2 4l3 6m1 3l1 2m1 3l6 12m1 1l1 2m1 1l1 2m2 2l1 2"/>
<path class="t bw" d="M162 532l1 1m2 4l4 4m1 0l2 2m1 0l1 1m3 0l1 1l1-1m2 0l1-1m2 0l2-2m1 0l1-1m1 0l1-1m1 0l1-1m1 0l1-1m1 0l5-5m1 0l2-2m1-2l5-5m1 0l13-13m1-2l3-3m2-2l4-4m2-2l2-2m1 0l16-16m1 0l7-7m1 0l3-3m1-2l5-5m1 0l4-4m1 0l4-4m1 0l2-2m1-2l4-4m1-2l8-8m1-2l1-1m1-2l1-1m1-2l3-3m1 0l8-8m1 0l3-3m1-2l5-5m1-2l13-13m1 0l2-2m3 0l2-2m1 0l1-1m1 0l1-1m1 0l1-1m3 0l1-1m5 0l1-1m4 0l1-1m4 0l1 1m1 0l1-1m2 0l1 1m5 0l1 1m3 0l1 1m1 0l1 1m1 0l1 1m1 0l2 2m1 0l3 3m1 3l8 8m1 3l1 1m1 2l1 1m2 4l1 1m1 2l1 1m78 192l1 1m13 29l1 1m1 2l1 1m1 2l2 2m1 2l5 5m1 0l1 1m1 0l2 2m1 0l2 2m1 0l1 1m2 0l1 1m4 0l1 1m9 0l1 1m2 0l1-1m8 0l1-1m5 0l1-1m3 0l1-1m3 0l1-1m2 0l1-1m2 0l1-1m3 0l2-2m2 0l1-1m2 0l1-1m2 0l1-1m3 0l1-1m2 0l1-1m2 0l1-1m2 0l1-1m4 0l1-1m4 0l1-1m5 0l1-1m5 0l1-1m5 0l1-1m11 0l1-1m25 0l1 1m13 0l1 1m4 0l1 1m1 0l1 1m2 0l1 1m5 0l1 1m2 0l1 1m1 0l1 1m2 0l1 1m3 0l1 1m3 0l1 1m1 0l1 1m3 0l2 2m4 0l1 1m2 0l1 1m2 0l1 1m3 0l1 1m1 0l1 1m3 0l1 1m2 0l1 1m1 0l1 1m2 0l1 1m4 0l1 1m1 0l1 1m2 0l1 1m3 0l1 1m2 0l1 1m2 0l1 1m3 0l1 1m3 0l1 1m3 0l1 1m2 0l1 1m2 0l1 1m2 0l1 1m4 0l1 1m2 0l1 1m3 0l1 1m2 0l1 1m4 0l1 1m3 0l1 1m1 0l1 1m5 0l1 1m3 0l1 1m2 0l1 1m2 0l1 1m2 0l1-1l1 1m2 0l1 1m6 0l1 1m5 0l1 1m7 0l1 1m4 0l1 1m4 0l1-1l1 1m4 0l1 1m4 0l1 1m1 0l1-1m3 0l1 1m4 0l1 1m15 0l1 1m12 0l1 1m19 0l1 1m19 0l1 1m1 0l1-1m9 0l1 1m4 0l1-1m4 0l1 1"/>
<path class="n aw" d="M114 333l1 4l1 3l7 28l3 15l1 6l2 10l1 4l1 5l1 4l4 20l1 4l4 20l1 4l2 10l1 4l1 5l4 16l1 5l2 8l1 3l1 4l3 9m1 2l1 3m10 13h1m2 2h3m1 1h2m1-1h1m1-1h3m1-1h2m3-3h1m4-4h1m1-1h1m6-7h1m5-6h1m24-26h1m2-2h1m2-2h1m12-13h1m1-1h1m16-16h1m4-4h1m28-31h1m2-2h1m4-5h1m2-2h1m11-13h1m7-7h1m2-2h4m2-2h2m2-2h1m1-1h1m1-1h2m1 1h2m1-1h3m2 0h9m2 0h3m1 1h5m1 1h1m1 1h1m1 1h1m3 3h1m1 1h1m44 77l2 6m2 4l3 9m2 4l1 3m1 2l1 3m1 2l1 3m2 4l1 3m1 2l2 6m2 4l2 6m1 2l2 6m1 2l1 3l1 4l1 3m1 2l1 3m1 2l1 3m1 2l7 21m1 2l1 3m1 2l1 3l1 4m10 20l1 3m22 32h1m1 1h1m1 1h1m1 1h1m1 1h1m1 1h3m1 1h7m1 1h11m1-1h3m1-1h5m1-1h4m1-1h3m1-1h1m1-1h3m1-1h2m1-1h1m1-1h1m1-1h2m1-1h2m1-1h4m1-1h1m2-2h5m1-1h2m1-1h4m1-1h3m1-1h6m1-1h4m1-1h6m1-1h12m1-1h2m1 1h6m1-1h1m1 1h2m1-1h2m1 1h3m2 0h3m1 1h8m1 1h2m1 1h4m1 1h2m1 1h4m1 1h1m1 1h3m1 1h1m1 1h4m1 1h1m1 1h2m1 1h1m1 1h2m1 1h2m1 1h2m1 1h3m1 1h4m1 1h3m1 1h2m2 2h2m1 1h2m1 1h2m1 1h3m1 1h3m1 1h3m1 1h1m1 1h1m1 1h5m1 1h1m1 1h2m1 1h2m1 1h4m1 1h2m1 1h4m1 1h2m1 1h3m1 1h1m1 1h2m1 1h5m1 1h2m1 1h2m1 1h5m1 1h4m1 1h2m1 1h3m1 1h8m1 1h4m1 1h7m1 1h5m1 1h8m1 1h3m2 0h4m1 1h7m1 1h9m1 1h4m2 0h7m1 1h21m1 1h23m1 1h1m1-1h6m1 1h11"/>
<path class="n cw" d="M158 524l1 2m1 3l1 2m1 1l2 4m39-6l1-2m5-4l1-2m13-12l1-2m7-7l1-2m14-11l1-2m42-38l1-2m11-11l1-2m2-2l1-2m9-7l1-2m7-5l1-2m1-1l1-2m74-13l2 4m1 1l1 2m6 6l2 4m1 1l1 2m1 1l1 2m1 1l2 4m1 1l24 48m2 6l2 4m3 9l2 4m1 3l1 2m1 3l1 2m1 3l2 4m1 3l1 2m2 6l2 4m2 6l1 2m2 6l1 2m3 10l1 2m1 3l1 2m1 3l1 2m7 21l1 2m1 3l1 2m2 7l10 20m1 3l7 14m1 1l1 2m1 1l2 4"/>
<path class="n bw" d="M161 531l1 1m2 4l6 6m1 0l2 2m3 0l1 1m2 0l1-1m1 0l1-1m3 0l1-1m2 0l3-3m1 0l4-4m1 0l1-1m1 0l4-4m1-2l1-1m1 0l3-3m1-2l1-1m1 0l11-11m1-2l7-7m1-2l4-4m1 0l2-2m1 0l2-2m1 0l3-3m1-2l8-8m1 0l1-1m1 0l16-16m1 0l4-4m1 0l9-9m1-2l11-11m1-2l2-2m1-2l3-3m1 0l2-2m1 0l2-2m1-2l1-1m1 0l2-2m1 0l2-2m1-2l1-1m1-2l6-6m1 0l7-7m1 0l2-2m4 0l2-2m2 0l2-2m1 0l1-1m1 0l1-1m2 0l1 1m2 0l1-1m3 0l1-1l1 1m9 0l1-1l1 1m3 0l1 1m5 0l1 1m1 0l1 1m1 0l1 1m1 0l3 3m1 0l1 1m3 4l1 1m1 2l6 6m2 4l1 1m1 2l1 1m1 2l1 1m2 4l1 1m90 213l1 1m1 2l1 1m2 4l10 10m1 0l1 1m1 0l1 1m1 0l1 1m1 0l1 1m1 0l1 1m3 0l1 1m7 0l1 1m11 0l1-1m3 0l1-1m5 0l1-1m4 0l1-1m3 0l1-1m1 0l1-1m3 0l1-1m2 0l1-1m1 0l1-1m1 0l1-1m2 0l1-1m2 0l1-1m4 0l1-1m1 0l2-2m5 0l1-1m2 0l1-1m4 0l1-1m3 0l1-1m6 0l1-1m4 0l1-1m6 0l1-1m12 0l1-1m2 0l1 1m6 0l1-1m1 0l1 1m2 0l1-1m2 0l1 1m3 0l1-1l1 1m3 0l1 1m8 0l1 1m2 0l1 1m4 0l1 1m2 0l1 1m4 0l1 1m1 0l1 1m3 0l1 1m1 0l1 1m4 0l1 1m1 0l1 1m2 0l1 1m1 0l1 1m2 0l1 1m2 0l1 1m2 0l1 1m3 0l1 1m4 0l1 1m3 0l1 1m2 0l2 2m2 0l1 1m2 0l1 1m2 0l1 1m3 0l1 1m3 0l1 1m3 0l1 1m1 0l1 1m1 0l1 1m5 0l1 1m1 0l1 1m2 0l1 1m2 0l1 1m4 0l1 1m2 0l1 1m4 0l1 1m2 0l1 1m3 0l1 1m1 0l1 1m2 0l1 1m5 0l1 1m2 0l1 1m2 0l1 1m5 0l1 1m4 0l1 1m2 0l1 1m3 0l1 1m8 0l1 1m4 0l1 1m7 0l1 1m5 0l1 1m8 0l1 1m3 0l1 1l1-1m4 0l1 1m7 0l1 1m9 0l1 1m4 0l1 1l1-1m7 0l1 1m21 0l1 1m23 0l1 1m1 0l1-1m6 0l1 1"/>
<path class="o aw" d="M114 333l2 8l1 3l6 24l3 15l1 6l2 10l1 4l4 20l1 4l3 15l2 8l3 15l1 4l1 5l2 8l1 5l2 8l1 5l2 8l1 3l1 4l3 9m2 4l1 3m7 10h1m2 2h1m2 2h5m1-1h2m1-1h1m1-1h2m1-1h1m1-1h1m2-2h1m13-13h1m8-9h1m21-22h1m7-7h1m10-10h1m14-14h1m3-3h1m3-3h1m26-28h1m6-6h1m3-3h1m4-4h1m4-6h1m4-4h1m3-3h1m4-4h5m1-1h1m1-1h1m1-1h3m1-1h8m1-1h12m1 1h4m1 1h3m1 1h1m1 1h1m1 1h1m1 1h1m2 2h1m7 10h1m17 26l1 3m21 41l1 3m1 2l1 3m1 2l1 3m2 4l2 6m1 2l1 3m1 2l1 3m3 6l1 3m1 2l1 3m1 2l1 3m1 2l1 3m1 2l1 3m1 2l4 12m1 2l2 6m1 2l2 6m1 2l3 9m1 2l1 3m1 2l1 3m1 2l2 6m1 2l1 3m11 22l1 3m19 25h2m1 1h1m1 1h1m1 1h2m1 1h2m1 1h3m1 1h10m1-1h2m1 1h2m1-1h2m1-1h3m1-1h8m1-1h2m1-1h2m1-1h2m1-1h1m1-1h3m1-1h1m1-1h1m1-1h1m1-1h2m1-1h1m1-1h5m1-1h1m1-1h6m1-1h2m1-1h2m1-1h5m1-1h3m1-1h10m1-1h12m1-1h1m1 1h3m1-1h1m1 1h6m1-1h2m1 1h3m2 0h4m1 1h7m1 1h3m1 1h3m1 1h2m1 1h3m1 1h1m1 1h3m1 1h1m1 1h2m1 1h2m1 1h3m1 1h2m1 1h2m1 1h2m1 1h3m1 1h1m1 1h3m1 1h2m1 1h3m1 1h1m1 1h3m1 1h1m1 1h3m1 1h1m1 1h4m1 1h3m1 1h2m1 1h2m1 1h2m1 1h1m1 1h6m1 1h1m1 1h1m1 1h3m1 1h3m1 1h2m1 1h2m1 1h3m1 1h5m1 1h2m1 1h3m1 1h3m1 1h3m1 1h2m1 1h6m1 1h3m1 1h2m1 1h6m1 1h3m1-1h2m1 1h5m1 1h4m1 1h8m1 1h9m1 1h6m1 1h9m1 1h3m1-1h1m1 1h13m1 1h8m1 1h3m1-1h3m1 1h22m1 1h6m1-1h3m1 1h8"/>
<path class="o cw" d="M158 524l2 4m2 4l1 2m1 1l1 2m1 1l1 2m45-19l1-2m8-7l1-2m73-67l1-2m9-9l1-2m19-15l1-2m1-1l1-2m71-6l1 2m1 1l1 2m1 1l1 2m4 3l2 4m1 1l1 2m1 1l1 2m1 1l1 2m1 1l2 4m1 1l2 4m1 3l4 8m1 1l16 32m1 3l1 2m1 3l1 2m1 3l2 4m2 6l1 2m1 3l1 2m1 3l3 6m1 3l1 2m1 3l1 2m1 3l1 2m1 3l1 2m1 3l1 2m4 12l1 2m2 6l1 2m2 6l1 2m3 9l1 2m1 3l1 2m1 3l1 2m2 6l1 2m1 3l11 22m1 3l2 4m1 1l2 4m1 1l1 2m1 1l1 2"/>
<path class="o bw" d="M161 531l1 1m1 2l1 1m1 2l1 1m1 2l1 1m1 0l2 2m1 0l2 2m5 0l1-1m2 0l1-1m1 0l1-1m2 0l1-1m1 0l1-1m1 0l2-2m1 0l13-13m1 0l4-4m1-2l3-3m1 0l4-4m1-2l16-16m1 0l7-7m1 0l10-10m1 0l14-14m1 0l3-3m1 0l3-3m1 0l14-14m1-2l9-9m1-2l1-1m1 0l6-6m1 0l3-3m1 0l4-4m1 0l1-1m1-2l1-1m2-2l4-4m1 0l3-3m1 0l4-4m5 0l1-1m1 0l1-1m1 0l1-1m3 0l1-1m8 0l1-1m12 0l1 1m4 0l1 1m3 0l1 1m1 0l1 1m1 0l1 1m1 0l1 1m1 0l2 2m1 0l2 2m1 2l1 1m1 2l1 1m2 2l3 3m2 4l1 1m1 2l1 1m1 2l1 1m1 2l1 1m2 4l1 1m7 15l1 1m79 187l1 1m2 4l1 1m1 2l1 1m1 2l10 10m2 0l1 1m1 0l1 1m1 0l1 1m2 0l1 1m2 0l1 1m3 0l1 1m10 0l1-1m2 0l1 1m2 0l1-1m2 0l1-1m3 0l1-1m8 0l1-1m2 0l1-1m2 0l1-1m2 0l1-1m1 0l1-1m3 0l1-1m1 0l1-1m1 0l1-1m1 0l1-1m2 0l1-1m1 0l1-1m5 0l1-1m1 0l1-1m6 0l1-1m2 0l1-1m2 0l1-1m5 0l1-1m3 0l1-1m10 0l1-1m12 0l1-1m1 0l1 1m3 0l1-1m1 0l1 1m6 0l1-1m2 0l1 1m3 0l1 1l1-1m4 0l1 1m7 0l1 1m3 0l1 1m3 0l1 1m2 0l1 1m3 0l1 1m1 0l1 1m3 0l1 1m1 0l1 1m2 0l1 1m2 0l1 1m3 0l1 1m2 0l1 1m2 0l1 1m2 0l1 1m3 0l1 1m1 0l1 1m3 0l1 1m2 0l1 1m3 0l1 1m1 0l1 1m3 0l1 1m1 0l1 1m3 0l1 1m1 0l1 1m4 0l1 1m3 0l1 1m2 0l1 1m2 0l1 1m2 0l1 1m1 0l1 1m6 0l1 1m1 0l1 1m1 0l1 1m3 0l1 1m3 0l1 1m2 0l1 1m2 0l1 1m3 0l1 1m5 0l1 1m2 0l1 1m3 0l1 1m3 0l1 1m3 0l1 1m2 0l1 1m6 0l1 1m3 0l1 1m2 0l1 1m6 0l1 1m3 0l1-1m2 0l1 1m5 0l1 1m4 0l1 1m8 0l1 1m9 0l1 1m6 0l1 1m9 0l1 1m3 0l1-1m1 0l1 1m13 0l1 1m8 0l1 1m3 0l1-1m3 0l1 1m22 0l1 1m6 0l1-1m3 0l1 1"/>
<path class="g aw" d="M114 334l1 3l3 12l1 3l4 16l1 5l1 6l4 20l1 4l1 5l1 4l7 35l1 4l1 5l1 4l1 5l1 4l1 5l2 8l1 5l2 8l1 5l3 12l4 12m1 2l1 3m9 13h1m2 2h1m1 1h6m1-1h2m1-1h1m1-1h1m1-1h1m2-2h1m2-2h1m2-2h1m8-9h1m29-31h1m2-2h1m5-5h1m10-10h1m2-2h1m13-13h1m4-4h1m1-1h1m26-27h1m1-1h1m6-6h1m2-2h1m2-2h1m7-8h1m4-4h1m3-3h1m1-1h1m1-1h1m2 0h3m1-1h1m1-1h4m1-1h16m1 1h6m1 1h1m1 1h5m2 2h1m2 2h1m1 1h1m30 44l1 3m13 24l1 3m5 10l1 3m1 2l1 3m1 2l1 3m3 6l1 3m1 2l1 3m2 4l1 3m1 2l1 3m2 4l1 3m2 4l2 6m1 2l2 6m1 2l1 3m1 2l1 3m1 2l3 9m1 2l2 6m1 2l2 6m1 2l2 6m1 2l1 3m8 16l1 3m21 31h1m2 2h1m1 1h1m2 2h3m1 1h1m1 1h3m1 1h7m1 1h1m1-1h7m1-1h3m1-1h3m1-1h7m1-1h2m1-1h2m1-1h3m1-1h1m1-1h1m1-1h3m1-1h1m1-1h1m1-1h3m1-1h2m1-1h2m1-1h3m1-1h3m1-1h3m1-1h2m1-1h5m1-1h5m1-1h2m1-1h14m1-1h24m1 1h12m1 1h1m1 1h7m2 2h6m1 1h1m2 2h2m1 1h2m1 1h1m1 1h4m1 1h3m1 1h1m1 1h1m1 1h2m1 1h3m1 1h4m1 1h1m1 1h3m1 1h1m1 1h3m1 1h1m1 1h2m1 1h1m1 1h4m1 1h1m1 1h1m1 1h5m1 1h2m1 1h1m1 1h6m1 1h1m1 1h3m1 1h1m1 1h3m1 1h3m1 1h2m1 1h4m2 2h6m1 1h1m1 1h1m1 1h3m1 1h6m1 1h1m1 1h2m1 1h5m1 1h1m1-1h1m1 1h2m1 1h10m1 1h3m1 1h7m1 1h6m1 1h8m1 1h9m1 1h12m1 1h14m1 1h24m1 1h19m2 0h2m1 1h3m1-1h1m1 1h6"/>
<path class="g cw" d="M158 524l1 2m1 3l1 2m1 1l2 4m2 2l1 2m35-9l1-2m21-20l1-2m7-7l1-2m69-61l1-2m22-17l1-2m73-5l1 2m2 2l1 2m5 5l1 2m1 1l1 2m2 2l1 2m1 1l1 2m1 1l3 6m1 1l5 10m1 3l1 2m1 1l9 18m1 1l1 2m1 3l5 10m1 3l1 2m1 3l1 2m1 3l3 6m1 3l1 2m1 3l2 4m1 3l1 2m1 3l2 4m1 3l2 4m2 6l1 2m2 6l1 2m1 3l1 2m1 3l1 2m3 9l1 2m2 6l1 2m2 6l1 2m2 6l1 2m1 3l8 16m1 3l1 2m1 1l6 12m1 1l2 4m2 2l1 2"/>
<path class="g bw" d="M161 531l1 1m2 4l2 2m1 2l2 2m1 0l2 2m1 0l1 1m6 0l1-1m2 0l1-1m1 0l1-1m1 0l1-1m1 0l2-2m1 0l2-2m1 0l2-2m1 0l4-4m1-2l3-3m1 0l17-17m1-2l7-7m1-2l3-3m1 0l2-2m1 0l5-5m1 0l10-10m1 0l2-2m1 0l13-13m1 0l4-4m1 0l1-1m1 0l21-21m1-2l4-4m1 0l1-1m1 0l6-6m1 0l2-2m1 0l2-2m1 0l2-2m1-2l4-4m1 0l4-4m1 0l3-3m1 0l1-1m1 0l1-1m1 0l1 1l1-1m3 0l1-1m1 0l1-1m4 0l1-1m16 0l1 1m6 0l1 1m1 0l1 1m5 0l2 2m1 0l2 2m1 0l1 1m1 0l3 3m1 2l2 2m1 2l5 5m1 2l1 1m1 2l2 2m1 2l1 1m1 2l1 1m3 6l1 1m7 15l1 1m9 18l1 1m62 150l1 1m6 12l1 1m2 4l2 2m1 2l7 7m1 0l2 2m1 0l1 1m1 0l2 2m3 0l1 1m1 0l1 1m3 0l1 1m7 0l1 1m1 0l1-1m7 0l1-1m3 0l1-1m3 0l1-1m7 0l1-1m2 0l1-1m2 0l1-1m3 0l1-1m1 0l1-1m1 0l1-1m3 0l1-1m1 0l1-1m1 0l1-1m3 0l1-1m2 0l1-1m2 0l1-1m3 0l1-1m3 0l1-1m3 0l1-1m2 0l1-1m5 0l1-1m5 0l1-1m2 0l1-1m14 0l1-1m24 0l1 1m12 0l1 1m1 0l1 1m7 0l2 2m6 0l1 1m1 0l2 2m2 0l1 1m2 0l1 1m1 0l1 1m4 0l1 1m3 0l1 1m1 0l1 1m1 0l1 1m2 0l1 1m3 0l1 1m4 0l1 1m1 0l1 1m3 0l1 1m1 0l1 1m3 0l1 1m1 0l1 1m2 0l1 1m1 0l1 1m4 0l1 1m1 0l1 1m1 0l1 1m5 0l1 1m2 0l1 1m1 0l1 1m6 0l1 1m1 0l1 1m3 0l1 1m1 0l1 1m3 0l1 1m3 0l1 1m2 0l1 1m4 0l2 2m6 0l1 1m1 0l1 1m1 0l1 1m3 0l1 1m6 0l1 1m1 0l1 1m2 0l1 1m5 0l1 1m1 0l1-1m1 0l1 1m2 0l1 1m10 0l1 1m3 0l1 1m7 0l1 1m6 0l1 1m8 0l1 1m9 0l1 1m12 0l1 1m14 0l1 1m24 0l1 1m19 0l1 1l1-1m2 0l1 1m3 0l1-1m1 0l1 1"/>
<path class="m aw" d="M114 334l1 4l1 3l2 8l1 3l2 8l1 5l1 4l6 30l1 4l1 5l1 4l6 30l1 4l2 10l1 4l1 5l1 4l2 10l4 16l1 5l2 8l1 3l1 4l3 9m2 4l1 3m8 11h1m2 2h1m1 1h3m2 0h2m1-1h2m2-2h1m2-2h1m3-3h2m3-3h1m10-11h1m26-28h1m1-1h1m11-11h1m4-4h1m3-3h1m13-13h1m2-2h1m1-1h1m1-1h1m7-7h1m18-19h1m1-1h1m2-2h1m4-4h1m3-3h1m2-2h1m7-7h1m2-2h1m2-2h1m2-2h6m1-1h4m1-1h5m1-1h1m1 1h10m1 1h6m1 1h3m1 1h3m1 1h1m1 1h1m2 2h1m1 1h1m49 79l1 3m2 4l1 3m2 4l1 3m2 4l1 3m6 12l2 6m1 2l1 3m2 4l1 3m1 2l1 3m1 2l1 3m1 2l1 3m1 2l1 3m1 2l1 3m1 2l1 3m1 2l2 6m1 2l2 6m1 2l2 6m2 4l1 3m10 19l1 3m17 25h1m3 3h1m1 1h1m1 1h1m1 1h1m1 1h1m1 1h4m1 1h4m1 1h4m1-1h8m1-1h4m1-1h5m1-1h4m1-1h1m1-1h2m1-1h2m1-1h1m1-1h4m1-1h2m1-1h1m1-1h1m1-1h2m1-1h2m1-1h2m1-1h1m1-1h4m1-1h6m1-1h1m1-1h4m1-1h3m1-1h3m1-1h10m1-1h16m1-1h1m1 1h12m1 1h1m1-1h1m1 1h5m1 1h5m1 1h3m1 1h4m1 1h2m1 1h2m1 1h2m1 1h3m1 1h2m1 1h3m1 1h2m2 2h3m1 1h2m1 1h3m1 1h1m1 1h2m1 1h1m1 1h5m1 1h1m1 1h1m1 1h5m2 2h2m1 1h3m1 1h1m1 1h3m1 1h3m1 1h2m1 1h3m1 1h1m1 1h1m1 1h5m1 1h1m1 1h3m1 1h2m1 1h4m1 1h2m1 1h3m1 1h3m1 1h1m1 1h5m1 1h3m1 1h2m1 1h3m1 1h6m1 1h3m1 1h5m2 0h2m1 1h2m1 1h7m1 1h6m1 1h9m1 1h4m1 1h8m1 1h15m1 1h12m1 1h20m1 1h18m1 1h12m1-1h1m1 1h6"/>
<path class="m cw" d="M158 524l2 4m1 3l1 2m1 1l1 2m3 3l1 2m39-15l1-2m15-14l1-2m8-8l1-2m56-46l1-2m110-31l1 2m2 2l1 2m5 5l2 4m2 2l2 4m1 1l1 2m1 1l3 6m1 1l1 2m1 1l14 28m1 1l5 10m1 3l2 4m1 3l2 4m1 3l2 4m1 3l6 12m2 6l1 2m1 3l2 4m1 3l1 2m1 3l1 2m1 3l1 2m1 3l1 2m1 3l1 2m1 3l1 2m1 3l1 2m2 6l1 2m2 6l1 2m2 6l2 4m1 3l8 16m1 1l1 2m1 3l3 6m1 1l3 6m1 1l1 2m2 2l1 2"/>
<path class="m bw" d="M162 533l1 1m1 2l3 3m1 2l1 1m1 0l2 2m1 0l1 1m3 0l1 1l1-1m2 0l1-1m2 0l2-2m1 0l2-2m1 0l3-3m2 0l3-3m1 0l8-8m1-2l1-1m1 0l13-13m1-2l8-8m1-2l3-3m1 0l1-1m1 0l11-11m1 0l4-4m1 0l3-3m1 0l13-13m1 0l2-2m1 0l1-1m1 0l1-1m1 0l7-7m2-2l17-17m1 0l1-1m1 0l2-2m1 0l4-4m1 0l3-3m1 0l2-2m1 0l7-7m1 0l2-2m1 0l2-2m1 0l2-2m6 0l1-1m4 0l1-1m5 0l1-1m1 0l1 1m10 0l1 1m6 0l1 1m3 0l1 1m3 0l1 1m1 0l1 1m1 0l2 2m1 0l1 1m1 0l5 5m1 2l2 2m1 2l5 5m2 4l2 2m2 4l1 1m1 2l1 1m3 6l1 1m1 2l1 1m14 28l1 1m60 141l1 1m5 11l1 1m3 6l1 1m1 2l2 2m1 2l5 5m1 0l3 3m1 0l1 1m1 0l1 1m1 0l1 1m1 0l1 1m1 0l1 1m4 0l1 1m4 0l1 1m4 0l1-1m8 0l1-1m4 0l1-1m5 0l1-1m4 0l1-1m1 0l1-1m2 0l1-1m2 0l1-1m1 0l1-1m4 0l1-1m2 0l1-1m1 0l1-1m1 0l1-1m2 0l1-1m2 0l1-1m2 0l1-1m1 0l1-1m4 0l1-1m6 0l1-1m1 0l1-1m4 0l1-1m3 0l1-1m3 0l1-1m10 0l1-1m16 0l1-1m1 0l1 1m12 0l1 1m1 0l1-1m1 0l1 1m5 0l1 1m5 0l1 1m3 0l1 1m4 0l1 1m2 0l1 1m2 0l1 1m2 0l1 1m3 0l1 1m2 0l1 1m3 0l1 1m2 0l2 2m3 0l1 1m2 0l1 1m3 0l1 1m1 0l1 1m2 0l1 1m1 0l1 1m5 0l1 1m1 0l1 1m1 0l1 1m5 0l2 2m2 0l1 1m3 0l1 1m1 0l1 1m3 0l1 1m3 0l1 1m2 0l1 1m3 0l1 1m1 0l1 1m1 0l1 1m5 0l1 1m1 0l1 1m3 0l1 1m2 0l1 1m4 0l1 1m2 0l1 1m3 0l1 1m3 0l1 1m1 0l1 1m5 0l1 1m3 0l1 1m2 0l1 1m3 0l1 1m6 0l1 1m3 0l1 1m5 0l1 1l1-1m2 0l1 1m2 0l1 1m7 0l1 1m6 0l1 1m9 0l1 1m4 0l1 1m8 0l1 1m15 0l1 1m12 0l1 1m20 0l1 1m18 0l1 1m12 0l1-1m1 0l1 1"/>
<path class="p aw" d="M114 334l1 4l1 3l2 8l1 3l2 8l1 5l1 4l6 30l1 4l3 15l1 4l4 20l1 4l3 15l1 4l1 5l2 8l1 5l1 4l1 5l5 20l5 15m11 16h1m1 1h1m1 1h7m1-1h1m1-1h1m1-1h1m1-1h1m1-1h1m2-2h1m2-2h1m14-15h1m3-3h1m15-18h1m7-7h1m2-2h1m9-10h1m2-2h1m3-3h1m12-12h1m1-1h1m3-3h2m4-4h1m8-8h1m14-14h2m2-2h1m3-3h1m1-1h1m1-1h1m2-2h1m5-5h1m1-1h1m3-3h1m2-2h1m1-1h7m1-1h3m1-1h12m1 1h3m1 1h7m1 1h3m1 1h1m1 1h2m1 1h2m1 1h1m1 1h1m5 5h1m49 81l1 3m1 2l1 3m4 8l1 3m4 8l1 3m2 4l1 3m2 4l1 3m2 4l1 3m1 2l1 3m2 4l1 3m1 2l1 3m1 2l1 3m1 2l1 3m1 2l1 3m1 2l1 3m1 2l1 3m1 2l1 3m1 2l1 3m26 45h1m4 4h1m3 3h1m1 1h2m1 1h2m1 1h3m1 1h3m2 0h7m1 1h1m1-1h3m1-1h6m1-1h1m1-1h7m1-1h1m1-1h4m1-1h1m1-1h1m1-1h1m1-1h2m1-1h1m1-1h3m1-1h1m1-1h3m1-1h1m1-1h3m1-1h1m1-1h6m1-1h4m1-1h2m1-1h4m1-1h4m1-1h10m1-1h7m1-1h11m1 1h4m2 0h1m1 1h1m1-1h3m1 1h4m1-1h1m1 1h2m1 1h5m1 1h1m1 1h4m1 1h2m1 1h3m1 1h1m1 1h3m1 1h2m1 1h1m1 1h1m2 2h5m1 1h2m1 1h3m1 1h1m1 1h1m1 1h4m1 1h2m1 1h2m2 2h2m2 0h1m1 1h1m1 1h2m1 1h4m1 1h2m1 1h1m1 1h3m1 1h3m1 1h2m1 1h1m1 1h4m1 1h3m1 1h1m1 1h1m1 1h4m1 1h2m1 1h2m1 1h3m1 1h4m1 1h3m1 1h3m1 1h3m1 1h3m1 1h3m1 1h6m1 1h3m1 1h4m1 1h4m1-1h1m1 1h1m1 1h7m1 1h6m1 1h1m1 1h11m1 1h8m1 1h8m1 1h17m1 1h13m1 1h4m1-1h1m1 1h12m2 0h17m1 1h6m2 0h1"/>
<path class="p cw" d="M159 527l3 6m2 2l1 2m1 1l1 2m42-16l1-2m9-7l1-2m3-3l1-2m6-6l1-2m12-9l1-2m156-63l1 2m2 2l1 2m6 6l1 2m2 2l2 4m1 1l1 2m1 1l4 8m1 1l4 8m1 1l7 14m1 1l11 22m1 3l1 2m1 3l4 8m1 3l4 8m1 3l2 4m1 3l2 4m1 3l2 4m1 3l1 2m1 3l2 4m1 3l1 2m1 3l1 2m1 3l1 2m1 3l1 2m1 3l1 2m1 3l1 2m1 3l1 2m1 3l1 2m1 3l5 10m1 1l9 18m1 1l3 6m1 1l1 2m2 2l1 2"/>
<path class="p bw" d="M162 533l2 2m1 2l1 1m1 2l3 3m1 0l1 1m1 0l1 1m7 0l1-1m1 0l1-1m1 0l1-1m1 0l1-1m1 0l1-1m1 0l2-2m1 0l2-2m1 0l12-12m1-2l1-1m1 0l3-3m1 0l3-3m1-2l3-3m1-2l6-6m2-2l7-7m1 0l2-2m2-2l8-8m1 0l2-2m1 0l3-3m1 0l12-12m1 0l1-1m1 0l3-3m2 0l4-4m1 0l8-8m1 0l14-14m2 0l2-2m1 0l3-3m1 0l1-1m1 0l1-1m1 0l2-2m1 0l5-5m1 0l1-1m1 0l3-3m1 0l2-2m1 0l1-1m7 0l1-1m3 0l1-1m12 0l1 1m3 0l1 1m7 0l1 1m3 0l1 1m1 0l1 1m2 0l1 1m2 0l1 1m1 0l1 1m1 0l5 5m1 0l2 2m1 2l2 2m1 2l6 6m1 2l2 2m2 4l1 1m1 2l1 1m4 8l1 1m4 8l1 1m7 14l1 1m59 135l1 1m9 18l1 1m3 6l1 1m1 2l2 2m1 2l2 2m1 0l4 4m1 0l3 3m1 0l1 1m2 0l1 1m2 0l1 1m3 0l1 1m3 0l1 1l1-1m7 0l1 1m1 0l1-1m3 0l1-1m6 0l1-1m1 0l1-1m7 0l1-1m1 0l1-1m4 0l1-1m1 0l1-1m1 0l1-1m1 0l1-1m2 0l1-1m1 0l1-1m3 0l1-1m1 0l1-1m3 0l1-1m1 0l1-1m3 0l1-1m1 0l1-1m6 0l1-1m4 0l1-1m2 0l1-1m4 0l1-1m4 0l1-1m10 0l1-1m7 0l1-1m11 0l1 1m4 0l1-1l1 1m1 0l1 1m1 0l1-1m3 0l1 1m4 0l1-1m1 0l1 1m2 0l1 1m5 0l1 1m1 0l1 1m4 0l1 1m2 0l1 1m3 0l1 1m1 0l1 1m3 0l1 1m2 0l1 1m1 0l1 1m1 0l2 2m5 0l1 1m2 0l1 1m3 0l1 1m1 0l1 1m1 0l1 1m4 0l1 1m2 0l1 1m2 0l2 2m2 0l1-1l1 1m1 0l1 1m1 0l1 1m2 0l1 1m4 0l1 1m2 0l1 1m1 0l1 1m3 0l1 1m3 0l1 1m2 0l1 1m1 0l1 1m4 0l1 1m3 0l1 1m1 0l1 1m1 0l1 1m4 0l1 1m2 0l1 1m2 0l1 1m3 0l1 1m4 0l1 1m3 0l1 1m3 0l1 1m3 0l1 1m3 0l1 1m3 0l1 1m6 0l1 1m3 0l1 1m4 0l1 1m4 0l1-1m1 0l1 1m1 0l1 1m7 0l1 1m6 0l1 1m1 0l1 1m11 0l1 1m8 0l1 1m8 0l1 1m17 0l1 1m13 0l1 1m4 0l1-1m1 0l1 1m12 0l1-1l1 1m17 0l1 1m6 0l1-1l1 1"/>
<path class="u aw" d="M114 334l2 8l1 3l5 20l1 5l1 4l5 25l1 4l4 20l1 4l3 15l1 4l3 15l1 4l1 5l2 8l1 5l1 4l1 5l6 24l3 9m13 19h1m1 1h1m1 1h4m1-1h2m1-1h1m1-1h1m1-1h1m2-2h1m2-2h1m2-2h1m38-40h1m6-6h1m6-6h1m3-3h1m3-3h1m10-10h1m3-3h1m2-2h2m3-3h1m3-3h1m1-1h1m11-11h1m8-8h1m1-1h1m1-1h1m2-2h1m1-1h1m1-1h1m1-1h1m2-2h1m4-4h1m1-1h1m3-3h2m1-1h1m1-1h1m1-1h13m1-1h4m1 1h3m1 1h6m1 1h4m1 1h2m1 1h1m1 1h2m1 1h2m1 1h1m1 1h1m1 1h1m2 2h1m2 2h1m51 85l1 3m4 8l1 3m6 12l1 3m4 8l1 3m2 4l1 3m1 2l1 3m2 4l1 3m1 2l1 3m3 6l2 6m1 2l1 3m1 2l1 3m2 4l1 3m10 19l1 3m16 24h1m5 5h1m1 1h2m2 2h1m1 1h2m1 1h4m1 1h5m1 1h2m1-1h3m1-1h4m1-1h6m1-1h4m1-1h2m1-1h5m1-1h2m1-1h1m1-1h1m1-1h2m1-1h1m1-1h2m2-2h4m1-1h1m1-1h2m1-1h1m1-1h6m1-1h1m1-1h5m1-1h2m1-1h2m1-1h6m1-1h5m1-1h7m2 0h2m1-1h18m1 1h7m1 1h13m1 1h2m1 1h4m1 1h2m1 1h2m1 1h1m1 1h3m1 1h2m1 1h2m1 1h2m1 1h3m1 1h2m1 1h2m2 2h2m1 1h3m1 1h2m1 1h2m1 1h1m1 1h5m1 1h2m1 1h1m1 1h1m1 1h2m1 1h3m1 1h2m1 1h4m1 1h3m1 1h1m1 1h3m1 1h1m1 1h3m1 1h3m1 1h1m1 1h5m1 1h1m1 1h2m1 1h3m1 1h2m1 1h2m1 1h3m1 1h4m1 1h2m1 1h4m1 1h4m1 1h4m1 1h3m1 1h6m1 1h5m1 1h8m1 1h6m1 1h11m1 1h2m1 1h8m1 1h11m1 1h3m1-1h1m1 1h9m1 1h21m1 1h24m1 1h4m1-1h7m1 1h1"/>
<path class="u cw" d="M158 525l4 8m1 1l1 2m1 1l1 2m55-27l1-2m7-7l1-2m169-70l2 4m1 1l1 2m7 7l1 2m1 1l1 2m1 1l1 2m1 1l1 2m1 1l2 4m1 1l5 10m1 1l4 8m1 1l4 8m1 1l12 24m1 3l4 8m1 3l6 12m1 3l4 8m1 3l2 4m1 3l1 2m1 3l2 4m1 3l1 2m1 3l3 6m2 6l1 2m1 3l1 2m1 3l2 4m1 3l7 14m1 1l2 4m2 4l2 4m1 1l5 10m4 4l1 2"/>
<path class="u bw" d="M162 533l1 1m1 2l1 1m1 2l5 5m1 0l1 1m1 0l1 1m4 0l1-1m2 0l1-1m1 0l1-1m1 0l1-1m1 0l2-2m1 0l2-2m1 0l2-2m1 0l24-24m1-2l7-7m1-2l5-5m1 0l6-6m1 0l6-6m1 0l3-3m1 0l3-3m1 0l10-10m1 0l3-3m1 0l2-2m2 0l3-3m1 0l3-3m1 0l1-1m1 0l11-11m1 0l8-8m1 0l1-1m1 0l1-1m1 0l2-2m1 0l1-1m1 0l1-1m1 0l1-1m1 0l2-2m1 0l4-4m1 0l1-1m1 0l3-3m2 0l1-1m1 0l1-1m1 0l1-1m13 0l1-1m4 0l1 1m3 0l1 1m6 0l1 1m4 0l1 1m2 0l1 1m1 0l1 1m2 0l1 1m2 0l1 1m1 0l1 1m1 0l1 1m1 0l2 2m1 0l2 2m1 0l1 1m2 4l1 1m1 2l7 7m1 2l1 1m1 2l1 1m1 2l1 1m1 2l1 1m2 4l1 1m5 10l1 1m4 8l1 1m4 8l1 1m59 131l1 1m3 7l1 1m2 4l1 1m5 10l4 4m1 2l2 2m1 0l5 5m1 0l1 1m2 0l2 2m1 0l1 1m2 0l1 1m4 0l1 1m5 0l1 1m2 0l1-1m3 0l1-1m4 0l1-1m6 0l1-1m4 0l1-1m2 0l1-1m5 0l1-1m2 0l1-1m1 0l1-1m1 0l1-1m2 0l1-1m1 0l1-1m2 0l2-2m4 0l1-1m1 0l1-1m2 0l1-1m1 0l1-1m6 0l1-1m1 0l1-1m5 0l1-1m2 0l1-1m2 0l1-1m6 0l1-1m5 0l1-1m7 0l1-1l1 1m2 0l1-1m18 0l1 1m7 0l1 1m13 0l1 1m2 0l1 1m4 0l1 1m2 0l1 1m2 0l1 1m1 0l1 1m3 0l1 1m2 0l1 1m2 0l1 1m2 0l1 1m3 0l1 1m2 0l1 1m2 0l2 2m2 0l1 1m3 0l1 1m2 0l1 1m2 0l1 1m1 0l1 1m5 0l1 1m2 0l1 1m1 0l1 1m1 0l1 1m2 0l1 1m3 0l1 1m2 0l1 1m4 0l1 1m3 0l1 1m1 0l1 1m3 0l1 1m1 0l1 1m3 0l1 1m3 0l1 1m1 0l1 1m5 0l1 1m1 0l1 1m2 0l1 1m3 0l1 1m2 0l1 1m2 0l1 1m3 0l1 1m4 0l1 1m2 0l1 1m4 0l1 1m4 0l1 1m4 0l1 1m3 0l1 1m6 0l1 1m5 0l1 1m8 0l1 1m6 0l1 1m11 0l1 1m2 0l1 1m8 0l1 1m11 0l1 1m3 0l1-1m1 0l1 1m9 0l1 1m21 0l1 1m24 0l1 1m4 0l1-1m7 0l1 1"/>
<path class="k aw" d="M114 335l1 3l1 4l1 3l5 20l4 20l1 4l3 15l1 4l2 10l1 4l6 30l1 4l2 10l1 4l1 5l3 12l1 5l6 24l3 9m11 18h1m2 2h1m1 1h7m1-1h1m1-1h1m1-1h1m1-1h1m4-4h1m1-1h1m12-13h1m11-12h1m11-13h1m5-5h1m3-3h1m4-5h1m5-5h1m3-3h1m2-2h1m8-8h1m4-4h1m1-1h1m1-1h1m1-1h1m3-3h1m3-3h1m4-4h1m5-5h1m6-6h1m1-1h1m1-1h1m1-1h1m2-2h1m1-1h2m1-1h2m4-4h1m2-2h1m2-2h1m1-1h3m2-2h11m2 0h1m1-1h2m1 1h2m1 1h4m1 1h4m1 1h3m1 1h1m1 1h3m1 1h2m1 1h1m1 1h1m2 2h2m1 1h1m3 3h1m2 2h1m10 12l1 3m35 59l1 3m7 14l1 3m9 18l1 3m4 8l1 3m3 6l1 3m2 4l1 3m2 4l1 3m3 6l1 3m1 2l1 3m1 2l1 3m28 48h1m5 5h1m2 2h2m1 1h2m1 1h1m1 1h4m1 1h16m1-1h2m1-1h4m1-1h5m1-1h3m1-1h2m1-1h4m1-1h1m1-1h1m1-1h2m1-1h2m1-1h1m1-1h1m1-1h2m1-1h4m1-1h1m1-1h2m1-1h1m1-1h6m1-1h1m1-1h5m1-1h3m1-1h3m1-1h4m1-1h2m1 1h1m1-1h4m2 0h2m1-1h25m1 1h7m1 1h6m1 1h3m1 1h4m1 1h1m1 1h3m1 1h2m1 1h2m1 1h2m2 2h4m1 1h2m1 1h1m1 1h2m1 1h3m1 1h3m2 2h1m1 1h5m1 1h1m1 1h2m1 1h3m1 1h1m1 1h3m1 1h1m1 1h3m1 1h3m1 1h3m1 1h1m1 1h3m1 1h2m1 1h1m1 1h3m1 1h2m1 1h3m1 1h2m1 1h4m1 1h1m1 1h4m1 1h2m1 1h2m1 1h4m1 1h1m1 1h3m1 1h4m1 1h5m1 1h3m1 1h3m1 1h7m1 1h5m1 1h5m1 1h5m2 0h3m1 1h5m1 1h4m1 1h9m1 1h9m1 1h18m1 1h1m1-1h3m1 1h10m1 1h28m1 1h2m1-1h4m1 1h7"/>
<path class="k cw" d="M158 525l6 12m3 3l1 2m39-16l1-2m11-10l1-2m2-1l1-2m7-7l1-2m12-9l1-2m155-51l2 4m12 14l1 2m1 1l2 4m1 1l2 4m1 1l2 4m1 1l3 6m1 1l4 8m1 1l2 4m1 1l2 4m1 1l6 12m1 3l7 14m1 3l9 18m1 3l4 8m1 3l3 6m1 3l2 4m1 3l2 4m1 3l3 6m1 3l1 2m1 3l1 2m1 3l11 22m1 1l2 4m1 1l4 8m1 1l1 2m2 2l1 2m3 3l1 2"/>
<path class="k bw" d="M164 537l3 3m1 2l1 1m1 0l2 2m1 0l1 1m7 0l1-1m1 0l1-1m1 0l1-1m1 0l1-1m1 0l4-4m1 0l1-1m1 0l11-11m2-2l10-10m2-2l1-1m1-2l7-7m1-2l1-1m1 0l5-5m1 0l3-3m2-2l3-3m1 0l5-5m1 0l3-3m1 0l2-2m1 0l8-8m1 0l4-4m1 0l1-1m1 0l1-1m1 0l1-1m1 0l3-3m1 0l3-3m1 0l4-4m1 0l5-5m1 0l6-6m1 0l1-1m1 0l1-1m1 0l1-1m1 0l2-2m1 0l1-1m2 0l1-1m2 0l4-4m1 0l2-2m1 0l2-2m1 0l1-1m3 0l2-2m11 0l1 1l1-1m1 0l1-1m2 0l1 1m2 0l1 1m4 0l1 1m4 0l1 1m3 0l1 1m1 0l1 1m3 0l1 1m2 0l1 1m1 0l1 1m1 0l2 2m2 0l1 1m1 0l3 3m1 0l2 2m3 4l8 8m1 3l3 3m1 2l1 1m2 4l1 1m2 4l1 1m2 4l1 1m3 6l1 1m4 8l1 1m2 4l1 1m2 4l1 1m59 128l1 1m2 4l1 1m4 8l1 1m1 2l2 2m1 2l3 3m2 2l5 5m1 0l2 2m2 0l1 1m2 0l1 1m1 0l1 1m4 0l1 1m16 0l1-1m2 0l1-1m4 0l1-1m5 0l1-1m3 0l1-1m2 0l1-1m4 0l1-1m1 0l1-1m1 0l1-1m2 0l1-1m2 0l1-1m1 0l1-1m1 0l1-1m2 0l1-1m4 0l1-1m1 0l1-1m2 0l1-1m1 0l1-1m6 0l1-1m1 0l1-1m5 0l1-1m3 0l1-1m3 0l1-1m4 0l1-1m2 0l1 1m1 0l1-1m4 0l1-1l1 1m2 0l1-1m25 0l1 1m7 0l1 1m6 0l1 1m3 0l1 1m4 0l1 1m1 0l1 1m3 0l1 1m2 0l1 1m2 0l1 1m2 0l2 2m4 0l1 1m2 0l1 1m1 0l1 1m2 0l1 1m3 0l1 1m3 0l2 2m1 0l1 1m5 0l1 1m1 0l1 1m2 0l1 1m3 0l1 1m1 0l1 1m3 0l1 1m1 0l1 1m3 0l1 1m3 0l1 1m3 0l1 1m1 0l1 1m3 0l1 1m2 0l1 1m1 0l1 1m3 0l1 1m2 0l1 1m3 0l1 1m2 0l1 1m4 0l1 1m1 0l1 1m4 0l1 1m2 0l1 1m2 0l1 1m4 0l1 1m1 0l1 1m3 0l1 1m4 0l1 1m5 0l1 1m3 0l1 1m3 0l1 1m7 0l1 1m5 0l1 1m5 0l1 1m5 0l1 1l1-1m3 0l1 1m5 0l1 1m4 0l1 1m9 0l1 1m9 0l1 1m18 0l1 1m1 0l1-1m3 0l1 1m10 0l1 1m28 0l1 1m2 0l1-1m4 0l1 1"/>
<path class="y aw" d="M114 336l1 3l1 4l1 3l1 4l1 3l2 8l1 5l1 4l1 5l1 4l5 25l1 4l2 10l1 4l6 30l1 4l1 5l1 4l2 10l1 4l1 5l8 32l2 6m1 2l1 3m10 16h1m2 2h1m1 1h1m1 1h1m1-1h4m2-2h2m2-2h1m3-3h1m1-1h1m16-17h1m20-22h1m7-7h1m10-10h1m1-1h1m2-2h1m3-3h1m7-7h1m3-3h1m2-2h1m1-1h1m1-1h1m1-1h1m1-1h1m2-2h1m5-5h1m4-4h1m3-3h1m2-2h1m2-2h1m1-1h2m1-1h1m1-1h1m1-1h1m1-1h1m1-1h1m2-2h1m1-1h1m1-1h1m2-2h1m1-1h2m1-1h1m1-1h2m2 0h15m1 1h2m1 1h4m1 1h3m1 1h3m1 1h1m1 1h2m1 1h2m1 1h2m2 2h1m1 1h1m1 1h1m1 1h1m2 2h1m2 2h1m9 12h1m55 98l1 3m3 6l1 3m5 10l1 3m2 4l1 3m2 4l1 3m4 8l1 3m2 4l1 3m25 42h1m4 5h1m2 2h2m1 1h1m2 2h4m1 1h2m1 1h4m1 1h2m1-1h2m1 1h2m1-1h7m1-1h1m1-1h1m1-1h5m1-1h4m1-1h2m1-1h2m1-1h2m1-1h2m1-1h1m1-1h1m1-1h3m1-1h1m1-1h1m1-1h2m1-1h2m1-1h2m1-1h4m1-1h3m1-1h2m1-1h2m1-1h5m1-1h3m1-1h1m1-1h11m1-1h8m2 0h3m1-1h2m1 1h1m1-1h5m1 1h3m1 1h13m1 1h7m2 2h3m1 1h2m1 1h3m1 1h2m1 1h3m1 1h1m1 1h1m1 1h4m1 1h1m1 1h3m1 1h2m1 1h1m1 1h2m1 1h1m1 1h5m2 2h3m1 1h4m1 1h1m2 2h2m1 1h4m1 1h3m1 1h1m1 1h1m1 1h2m1 1h4m1 1h1m1 1h4m1 1h2m1 1h2m1 1h3m1 1h1m1 1h3m1 1h3m1 1h1m1 1h4m1 1h2m1 1h2m1 1h2m2 0h1m1 1h1m1 1h3m1 1h1m1-1h1m1 1h2m1 1h3m1 1h3m1 1h5m1 1h9m1 1h4m1 1h6m1 1h4m1-1h2m1 1h1m1 1h8m1 1h3m1 1h11m1 1h10m1 1h2m1-1h3m1 1h19m1 1h3m2 0h27m1 1h2m1-1h1m1 1h3"/>
<path class="y cw" d="M157 522l1 2m1 3l5 10m2 2l1 2m42-17l1-2m14-13l1-2m4-4l1-2m168-57l3 6m8 7l2 4m1 1l1 2m2 2l1 2m1 1l1 2m1 1l2 4m1 1l5 10m1 1l1 2m1 1l4 8m1 1l2 4m1 1l1 2m1 1l23 46m1 3l3 6m1 3l5 10m1 3l2 4m1 3l2 4m1 3l4 8m1 3l2 4m1 3l5 10m1 1l3 6m1 1l3 6m1 1l2 4m1 1l1 2m1 1l2 4m2 2l1 2m4 3l1 2"/>
<path class="y bw" d="M164 537l2 2m1 2l2 2m1 0l2 2m1 0l1 1m1 0l1 1m1 0l1-1m4 0l2-2m2 0l2-2m1 0l3-3m1 0l1-1m1 0l14-14m1-2l1-1m1 0l12-12m1-2l4-4m1-2l2-2m1 0l7-7m1 0l10-10m1 0l1-1m1 0l2-2m1 0l3-3m1 0l7-7m1 0l3-3m1 0l2-2m1 0l1-1m1 0l1-1m1 0l1-1m1 0l1-1m1 0l2-2m1 0l5-5m1 0l4-4m1 0l3-3m1 0l2-2m1 0l2-2m1 0l1-1m2 0l1-1m1 0l1-1m1 0l1-1m1 0l1-1m1 0l1-1m1 0l2-2m1 0l1-1m1 0l1-1m1 0l2-2m1 0l1-1m2 0l1-1m1 0l1-1m2 0l1-1l1 1m15 0l1 1m2 0l1 1m4 0l1 1m3 0l1 1m3 0l1 1m1 0l1 1m2 0l1 1m2 0l1 1m2 0l2 2m1 0l1 1m1 0l1 1m1 0l1 1m1 0l2 2m1 0l2 2m4 6l6 6m1 0l1 1m2 4l1 1m1 2l2 2m1 2l1 1m1 2l1 1m2 4l1 1m5 10l1 1m1 2l1 1m4 8l1 1m2 4l1 1m1 2l1 1m53 113l1 1m3 6l1 1m3 6l1 1m2 4l1 1m1 2l1 1m2 4l2 2m1 2l1 1m1 0l2 2m1 2l1 1m1 0l2 2m2 0l1 1m1 0l2 2m4 0l1 1m2 0l1 1m4 0l1 1m2 0l1-1m2 0l1 1m2 0l1-1m7 0l1-1m1 0l1-1m1 0l1-1m5 0l1-1m4 0l1-1m2 0l1-1m2 0l1-1m2 0l1-1m2 0l1-1m1 0l1-1m1 0l1-1m3 0l1-1m1 0l1-1m1 0l1-1m2 0l1-1m2 0l1-1m2 0l1-1m4 0l1-1m3 0l1-1m2 0l1-1m2 0l1-1m5 0l1-1m3 0l1-1m1 0l1-1m11 0l1-1m8 0l1 1l1-1m3 0l1-1m2 0l1 1m1 0l1-1m5 0l1 1m3 0l1 1m13 0l1 1m7 0l2 2m3 0l1 1m2 0l1 1m3 0l1 1m2 0l1 1m3 0l1 1m1 0l1 1m1 0l1 1m4 0l1 1m1 0l1 1m3 0l1 1m2 0l1 1m1 0l1 1m2 0l1 1m1 0l1 1m5 0l2 2m3 0l1 1m4 0l1 1m1 0l2 2m2 0l1 1m4 0l1 1m3 0l1 1m1 0l1 1m1 0l1 1m2 0l1 1m4 0l1 1m1 0l1 1m4 0l1 1m2 0l1 1m2 0l1 1m3 0l1 1m1 0l1 1m3 0l1 1m3 0l1 1m1 0l1 1m4 0l1 1m2 0l1 1m2 0l1 1m2 0l1-1l1 1m1 0l1 1m1 0l1 1m3 0l1 1m1 0l1-1m1 0l1 1m2 0l1 1m3 0l1 1m3 0l1 1m5 0l1 1m9 0l1 1m4 0l1 1m6 0l1 1m4 0l1-1m2 0l1 1m1 0l1 1m8 0l1 1m3 0l1 1m11 0l1 1m10 0l1 1m2 0l1-1m3 0l1 1m19 0l1 1m3 0l1-1l1 1m27 0l1 1m2 0l1-1m1 0l1 1"/>
<path class="c aw" d="M114 336l1 3l1 4l1 3l1 4l1 3l2 8l1 5l1 4l1 5l1 4l7 35l1 4l1 5l1 4l4 20l1 4l3 15l1 4l1 5l3 12l1 5l5 20l1 3l1 4l2 6m12 19h1m1 1h1m1 1h2m1 1h2m1-1h1m1-1h2m1-1h1m1-1h1m1-1h1m6-6h1m12-13h1m26-28h1m3-3h1m8-8h1m3-3h1m2-2h1m3-3h1m5-5h1m3-3h1m4-4h3m1-1h1m1-1h1m2-2h1m1-1h1m4-4h1m4-4h1m1-1h1m1-1h1m4-4h1m1-1h1m1-1h2m1-1h1m1-1h1m1-1h2m1-1h2m1-1h1m1-1h1m2-2h2m1-1h1m1-1h1m1-1h1m1-1h5m2 0h1m1 1h10m1 1h2m1 1h2m1 1h2m1 1h2m1 1h2m1 1h2m1 1h3m1 1h2m2 2h1m1 1h1m1 1h1m2 2h1m3 3h1m2 2h1m55 86l1 3m14 27l1 3m5 10l1 3m4 8l1 3m4 8l1 3m1 2l1 3m30 47h1m2 2h1m2 2h1m1 1h2m1 1h2m1 1h1m1 1h5m1 1h4m1-1h3m2 0h4m1-1h6m1-1h3m1-1h2m1-1h3m1-1h3m1-1h3m1-1h2m1-1h1m1-1h2m2-2h2m1-1h1m1-1h3m1-1h1m2-2h4m1-1h3m1-1h4m1-1h2m1-1h2m1-1h4m1-1h3m1-1h4m1-1h9m1-1h4m1-1h2m1 1h4m1-1h11m1 1h3m2 0h9m1 1h6m1 1h2m1 1h3m1 1h2m1 1h3m1 1h3m1 1h3m1 1h1m1 1h2m1 1h1m1 1h1m1 1h4m1 1h1m1 1h2m1 1h2m1 1h2m1 1h2m1 1h3m1 1h2m1 1h2m1 1h2m1 1h2m1 1h2m1 1h3m1 1h1m1 1h1m1 1h2m1 1h4m1 1h1m1 1h3m1 1h2m1 1h2m1 1h3m1 1h3m1 1h3m2 2h3m1 1h4m1 1h2m1 1h2m1 1h3m1 1h3m1 1h2m1 1h4m1 1h3m1 1h3m1 1h4m1 1h5m1 1h7m1 1h5m1 1h5m1 1h8m1 1h6m1 1h5m1 1h5m2 0h3m1 1h6m1 1h24m1 1h16m1 1h6m2 0h16m2 0h3m1 1h5m1-1h2"/>
<path class="c cw" d="M158 525l5 10m1 1l2 4m39-12l1-2m12-11l1-2m10-10l1-2m169-48l1 2m2 2l1 2m6 6l1 2m3 3l1 2m1 1l1 2m1 1l1 2m1 1l1 2m1 1l3 6m1 1l2 4m1 1l1 2m1 1l4 8m1 1l1 2m1 1l3 6m1 1l8 16m1 1l2 4m1 3l4 8m1 1l9 18m1 3l5 10m1 3l4 8m1 3l4 8m1 3l1 2m2 4l6 12m1 1l3 6m1 1l1 2m1 1l3 6m1 1l1 2m1 1l1 2m1 1l1 2m3 3l1 2"/>
<path class="c bw" d="M163 535l1 1m2 4l4 4m1 0l1 1m1 0l1 1m2 0l1 1m2 0l1-1m1 0l1-1m2 0l1-1m1 0l1-1m1 0l1-1m1 0l6-6m1 0l8-8m1-2l3-3m1 0l8-8m1-2l10-10m1-2l6-6m1 0l3-3m1 0l8-8m1 0l3-3m1 0l2-2m1 0l3-3m1 0l5-5m1 0l3-3m1 0l4-4m3 0l1-1m1 0l1-1m1 0l2-2m1 0l1-1m1 0l4-4m1 0l4-4m1 0l1-1m1 0l1-1m1 0l4-4m1 0l1-1m1 0l1-1m2 0l1-1m1 0l1-1m1 0l1-1m2 0l1-1m2 0l1-1m1 0l1-1m1 0l2-2m2 0l1-1m1 0l1-1m1 0l1-1m1 0l1-1m5 0l1-1l1 1m1 0l1 1m10 0l1 1m2 0l1 1m2 0l1 1m2 0l1 1m2 0l1 1m2 0l1 1m2 0l1 1m3 0l1 1m2 0l2 2m1 0l1 1m1 0l1 1m1 0l2 2m1 0l3 3m1 0l2 2m1 0l2 2m1 2l2 2m1 2l6 6m1 2l3 3m1 2l1 1m1 2l1 1m1 2l1 1m1 2l1 1m3 6l1 1m2 4l1 1m1 2l1 1m4 8l1 1m1 2l1 1m3 6l1 1m8 16l1 1m7 15l1 1m28 61l1 1m6 12l1 1m3 6l1 1m1 2l1 1m3 6l1 1m1 2l1 1m1 2l1 1m1 2l3 3m1 2l3 3m1 0l2 2m1 0l2 2m1 0l1 1m2 0l1 1m2 0l1 1m1 0l1 1m5 0l1 1m4 0l1-1m3 0l1 1l1-1m4 0l1-1m6 0l1-1m3 0l1-1m2 0l1-1m3 0l1-1m3 0l1-1m3 0l1-1m2 0l1-1m1 0l1-1m2 0l2-2m2 0l1-1m1 0l1-1m3 0l1-1m1 0l2-2m4 0l1-1m3 0l1-1m4 0l1-1m2 0l1-1m2 0l1-1m4 0l1-1m3 0l1-1m4 0l1-1m9 0l1-1m4 0l1-1m2 0l1 1m4 0l1-1m11 0l1 1m3 0l1-1l1 1m9 0l1 1m6 0l1 1m2 0l1 1m3 0l1 1m2 0l1 1m3 0l1 1m3 0l1 1m3 0l1 1m1 0l1 1m2 0l1 1m1 0l1 1m1 0l1 1m4 0l1 1m1 0l1 1m2 0l1 1m2 0l1 1m2 0l1 1m2 0l1 1m3 0l1 1m2 0l1 1m2 0l1 1m2 0l1 1m2 0l1 1m2 0l1 1m3 0l1 1m1 0l1 1m1 0l1 1m2 0l1 1m4 0l1 1m1 0l1 1m3 0l1 1m2 0l1 1m2 0l1 1m3 0l1 1m3 0l1 1m3 0l2 2m3 0l1 1m4 0l1 1m2 0l1 1m2 0l1 1m3 0l1 1m3 0l1 1m2 0l1 1m4 0l1 1m3 0l1 1m3 0l1 1m4 0l1 1m5 0l1 1m7 0l1 1m5 0l1 1m5 0l1 1m8 0l1 1m6 0l1 1m5 0l1 1m5 0l1 1l1-1m3 0l1 1m6 0l1 1m24 0l1 1m16 0l1 1m6 0l1-1l1 1m16 0l1 1l1-1m3 0l1 1m5 0l1-1"/>
<path class="f aw" d="M114 336l1 3l1 4l1 3l6 24l6 30l1 4l1 5l1 4l3 15l1 4l1 5l1 4l1 6l2 10l1 4l1 5l3 12l1 5l1 4l1 5l2 8l1 5l1 4l1 3l1 4l3 9m1 2l1 3m11 15h1m1 1h1m1 1h5m1-1h2m1-1h1m1-1h1m1-1h1m6-6h1m15-16h1m25-27h1m1-1h1m5-5h1m7-7h1m1-1h1m2-2h1m2-2h1m7-7h1m2-2h1m1-1h1m1-1h1m1-1h1m1-1h1m1-1h1m1-1h1m1-1h1m4-4h1m2-2h1m2-2h1m2-2h1m2-2h1m1-1h1m1-1h3m1-1h1m1-1h3m1-1h3m1-1h1m1-1h2m2-2h1m1-1h1m1-1h5m1-1h8m1 1h2m1 1h7m1 1h1m1 1h1m1 1h2m1 1h1m1 1h2m1 1h3m1 1h1m1 1h1m1 1h1m1 1h1m1 1h1m1 1h2m1 1h1m2 2h1m3 3h1m4 4h1m73 122l1 3m4 7l1 3m6 12l1 3m4 7l1 3m24 36h1m3 3h1m2 2h1m1 1h1m1 1h1m1 1h3m1 1h3m1 1h11m1-1h2m2 0h1m1-1h4m1-1h3m1-1h5m1-1h2m1-1h3m1-1h3m1-1h1m1-1h1m1-1h1m1-1h3m2-2h1m1-1h3m1-1h2m1-1h1m1-1h2m1-1h2m1-1h3m1-1h4m1-1h4m1-1h1m1-1h3m1-1h3m1-1h6m1-1h9m1-1h28m1 1h4m1 1h7m1 1h5m1 1h2m1 1h3m1 1h1m1 1h4m1 1h1m1 1h3m1 1h1m1 1h1m1 1h3m1 1h2m1 1h2m1 1h2m1 1h3m1 1h1m1 1h2m1 1h4m1 1h1m1 1h1m1 1h2m1 1h3m1 1h1m1 1h4m2 2h2m1 1h4m1 1h1m1 1h2m1 1h2m1 1h3m1 1h3m1 1h2m1 1h2m1 1h3m1 1h3m1 1h2m1 1h2m1 1h2m1 1h3m1 1h5m1 1h1m1 1h1m1 1h5m1 1h2m1 1h3m1 1h3m1 1h6m1 1h6m1 1h4m1 1h7m1 1h6m2 0h3m1 1h2m1 1h10m1 1h4m1 1h9m1 1h6m2 0h4m1 1h4m1-1h1m1 1h15m1 1h1m1-1h2m1 1h26m1 1h11"/>
<path class="f cw" d="M158 525l1 2m1 3l1 2m1 1l2 4m1 1l1 2m40-13l1-2m12-11l1-2m9-9l1-2m169-41l1 2m1 1l1 2m7 7l1 2m3 3l1 2m1 1l1 2m1 1l1 2m1 1l1 2m1 1l1 2m1 1l2 4m1 1l3 6m1 1l2 4m1 1l2 4m1 1l1 2m1 1l1 2m1 1l4 8m1 1l10 20m1 1l16 32m1 3l3 6m2 4l6 12m1 3l2 4m1 1l1 2m1 3l2 4m1 1l1 2m1 1l1 2m1 1l2 4m1 1l1 2m1 1l1 2m1 1l3 6m2 2l1 2"/>
<path class="f bw" d="M161 532l1 1m2 4l1 1m1 2l5 5m1 0l1 1m1 0l1 1m5 0l1-1m2 0l1-1m1 0l1-1m1 0l1-1m1 0l6-6m1 0l10-10m1-2l4-4m1 0l7-7m1-2l9-9m1-2l7-7m1 0l1-1m1 0l5-5m1 0l7-7m1 0l1-1m1 0l2-2m1 0l2-2m1 0l7-7m1 0l2-2m1 0l1-1m1 0l1-1m1 0l1-1m1 0l1-1m1 0l1-1m1 0l1-1m1 0l1-1m1 0l4-4m1 0l2-2m1 0l2-2m1 0l2-2m1 0l2-2m1 0l1-1m1 0l1-1m3 0l1-1m1 0l1-1m3 0l1-1m3 0l1-1m1 0l1-1m2 0l2-2m1 0l1-1m1 0l1-1m5 0l1-1m8 0l1 1m2 0l1 1m7 0l1 1m1 0l1 1m1 0l1 1m2 0l1 1m1 0l1 1m2 0l1 1m3 0l1 1m1 0l1 1m1 0l1 1m1 0l1 1m1 0l1 1m1 0l1 1m2 0l1 1m1 0l2 2m1 0l3 3m1 0l4 4m2 2l1 1m1 2l7 7m1 2l3 3m1 2l1 1m1 2l1 1m1 2l1 1m1 2l1 1m1 2l1 1m2 4l1 1m3 6l1 1m2 4l1 1m2 4l1 1m1 2l1 1m1 2l1 1m4 8l1 1m10 20l1 1m20 41l1 1m10 22l1 1m4 9l1 1m1 2l1 1m1 2l1 1m2 4l1 1m1 2l1 1m1 2l1 1m3 6l2 2m1 2l4 4m1 0l3 3m1 0l2 2m1 0l1 1m1 0l1 1m1 0l1 1m3 0l1 1m3 0l1 1m11 0l1-1m2 0l1 1l1-1m1 0l1-1m4 0l1-1m3 0l1-1m5 0l1-1m2 0l1-1m3 0l1-1m3 0l1-1m1 0l1-1m1 0l1-1m1 0l1-1m3 0l2-2m1 0l1-1m3 0l1-1m2 0l1-1m1 0l1-1m2 0l1-1m2 0l1-1m3 0l1-1m4 0l1-1m4 0l1-1m1 0l1-1m3 0l1-1m3 0l1-1m6 0l1-1m9 0l1-1m28 0l1 1m4 0l1 1m7 0l1 1m5 0l1 1m2 0l1 1m3 0l1 1m1 0l1 1m4 0l1 1m1 0l1 1m3 0l1 1m1 0l1 1m1 0l1 1m3 0l1 1m2 0l1 1m2 0l1 1m2 0l1 1m3 0l1 1m1 0l1 1m2 0l1 1m4 0l1 1m1 0l1 1m1 0l1 1m2 0l1 1m3 0l1 1m1 0l1 1m4 0l2 2m2 0l1 1m4 0l1 1m1 0l1 1m2 0l1 1m2 0l1 1m3 0l1 1m3 0l1 1m2 0l1 1m2 0l1 1m3 0l1 1m3 0l1 1m2 0l1 1m2 0l1 1m2 0l1 1m3 0l1 1m5 0l1 1m1 0l1 1m1 0l1 1m5 0l1 1m2 0l1 1m3 0l1 1m3 0l1 1m6 0l1 1m6 0l1 1m4 0l1 1m7 0l1 1m6 0l1 1l1-1m3 0l1 1m2 0l1 1m10 0l1 1m4 0l1 1m9 0l1 1m6 0l1-1l1 1m4 0l1 1m4 0l1-1m1 0l1 1m15 0l1 1m1 0l1-1m2 0l1 1m26 0l1 1"/>
<path class="l aw" d="M114 336l1 4l2 6l6 24l3 15l1 4l3 15l1 4l3 15l1 4l5 25l1 4l2 10l2 8l1 5l2 8l1 5l6 24l3 9m1 2l1 3m12 16h1m1 1h5m1-1h4m3-3h1m1-1h1m4-4h1m5-5h1m7-9h1m28-30h1m1-1h1m6-6h1m7-7h2m1-1h1m4-4h1m3-3h1m1-1h1m4-4h1m1-1h1m1-1h2m1-1h1m1-1h1m2-2h2m2-2h1m1-1h1m2-2h1m2-2h1m1-1h1m2-2h1m2-2h2m1-1h2m1-1h1m1-1h6m1-1h2m1-1h2m1-1h2m1-1h1m1-1h4m1-1h7m2 2h4m1 1h3m1 1h3m2 2h1m1 1h1m1 1h1m1 1h3m1 1h1m2 2h2m1 1h2m1 1h1m1 1h1m1 1h1m3 3h1m1 1h1m1 1h1m2 2h1m89 145l1 3m30 46h1m3 3h1m1 1h1m1 1h1m1 1h1m1 1h1m1 1h4m1 1h4m1 1h4m1-1h5m1-1h5m1-1h4m1-1h3m1-1h2m1-1h3m1-1h3m1-1h2m1-1h2m1-1h1m1-1h2m1-1h1m1-1h2m1-1h1m1-1h1m1-1h1m1-1h3m1-1h3m1-1h1m1-1h3m1-1h3m1-1h3m1-1h2m1-1h5m1-1h4m1-1h3m1-1h7m1-1h7m2 0h4m1-1h3m1 1h14m1 1h10m1 1h3m1 1h3m1 1h3m1 1h1m1 1h1m1 1h4m1 1h2m1 1h2m2 2h2m1 1h3m1 1h2m1 1h3m1 1h1m1 1h2m1 1h3m1 1h2m1 1h2m1 1h2m1 1h3m1 1h1m1 1h1m1 1h4m1 1h1m1 1h3m1 1h1m1 1h3m1 1h2m1 1h1m1 1h1m1 1h5m1 1h2m1 1h2m1 1h1m1 1h5m1 1h2m1 1h2m1 1h2m1 1h2m1 1h4m1 1h2m1 1h2m1 1h3m1 1h4m1 1h2m1 1h3m1 1h2m1 1h5m2 0h2m1 1h5m1 1h6m1 1h6m1 1h5m1 1h4m1 1h10m1 1h7m1 1h14m1 1h12m1 1h29m1 1h24m1 1h5"/>
<path class="l cw" d="M158 525l1 2m1 3l4 8m38-6l1-2m4-4l1-2m13-12l1-2m4-4l1-2m172-36l1 2m9 9l1 2m3 3l1 2m1 1l1 2m1 1l2 4m1 1l1 2m1 1l1 2m1 1l1 2m1 1l1 2m1 1l2 4m1 1l2 4m1 1l1 2m1 1l1 2m1 1l1 2m1 1l5 10m1 1l6 12m1 1l3 6m1 1l6 12m1 1l19 38m1 3l5 10m1 1l3 6m1 1l1 2m1 1l1 2m1 1l1 2m1 1l2 4m1 1l1 2m3 3l1 2m1 1l1 2"/>
<path class="l bw" d="M164 538l8 8m1 0l1 1m5 0l1-1m4 0l3-3m1 0l1-1m1 0l4-4m1 0l5-5m1 0l1-1m1-2l4-4m2-2l12-12m1-2l4-4m1-2l10-10m1 0l1-1m1 0l6-6m1 0l7-7m2 0l1-1m1 0l4-4m1 0l3-3m1 0l1-1m1 0l4-4m1 0l1-1m1 0l1-1m2 0l1-1m1 0l1-1m1 0l2-2m2 0l2-2m1 0l1-1m1 0l2-2m1 0l2-2m1 0l1-1m1 0l2-2m1 0l2-2m2 0l1-1m2 0l1-1m1 0l1-1m6 0l1-1m2 0l1-1m2 0l1-1m2 0l1-1m1 0l1-1m4 0l1-1m7 0l2 2m4 0l1 1m3 0l1 1m3 0l2 2m1 0l1 1m1 0l1 1m1 0l1 1m3 0l1 1m1 0l2 2m2 0l1 1m2 0l1 1m1 0l1 1m1 0l1 1m1 0l3 3m1 0l1 1m1 0l1 1m1 0l2 2m1 0l5 5m1 2l9 9m1 2l3 3m1 2l1 1m1 2l1 1m2 4l1 1m1 2l1 1m1 2l1 1m1 2l1 1m1 2l1 1m2 4l1 1m2 4l1 1m1 2l1 1m1 2l1 1m1 2l1 1m5 10l1 1m6 12l1 1m3 6l1 1m6 12l1 1m25 51l1 1m3 6l1 1m1 2l1 1m1 2l1 1m1 2l1 1m2 4l1 1m1 2l3 3m1 2l1 1m1 2l4 4m1 0l3 3m1 0l1 1m1 0l1 1m1 0l1 1m1 0l1 1m1 0l1 1m4 0l1 1m4 0l1 1m4 0l1-1m5 0l1-1m5 0l1-1m4 0l1-1m3 0l1-1m2 0l1-1m3 0l1-1m3 0l1-1m2 0l1-1m2 0l1-1m1 0l1-1m2 0l1-1m1 0l1-1m2 0l1-1m1 0l1-1m1 0l1-1m1 0l1-1m3 0l1-1m3 0l1-1m1 0l1-1m3 0l1-1m3 0l1-1m3 0l1-1m2 0l1-1m5 0l1-1m4 0l1-1m3 0l1-1m7 0l1-1m7 0l1-1l1 1m4 0l1-1m3 0l1 1m14 0l1 1m10 0l1 1m3 0l1 1m3 0l1 1m3 0l1 1m1 0l1 1m1 0l1 1m4 0l1 1m2 0l1 1m2 0l2 2m2 0l1 1m3 0l1 1m2 0l1 1m3 0l1 1m1 0l1 1m2 0l1 1m3 0l1 1m2 0l1 1m2 0l1 1m2 0l1 1m3 0l1 1m1 0l1 1m1 0l1 1m4 0l1 1m1 0l1 1m3 0l1 1m1 0l1 1m3 0l1 1m2 0l1 1m1 0l1 1m1 0l1 1m5 0l1 1m2 0l1 1m2 0l1 1m1 0l1 1m5 0l1 1m2 0l1 1m2 0l1 1m2 0l1 1m2 0l1 1m4 0l1 1m2 0l1 1m2 0l1 1m3 0l1 1m4 0l1 1m2 0l1 1m3 0l1 1m2 0l1 1m5 0l1 1l1-1m2 0l1 1m5 0l1 1m6 0l1 1m6 0l1 1m5 0l1 1m4 0l1 1m10 0l1 1m7 0l1 1m14 0l1 1m12 0l1 1m29 0l1 1m24 0l1 1"/>
<path class="s aw" d="M114 337l2 6l1 4l1 3l4 16l1 5l1 4l1 5l1 4l5 25l1 4l4 20l1 4l3 15l1 4l2 10l2 8l1 5l3 12l1 5l5 20l3 9m1 2l1 3m13 17h2m1 1h1m1-1h4m1-1h1m2-2h1m1-1h1m2-2h1m3-3h1m12-14h1m18-20h1m7-8h1m3-3h1m9-9h1m1-1h1m3-3h1m2-2h1m2-2h1m2-2h1m4-4h1m2-2h2m1-1h1m2-2h3m1-1h1m1-1h1m2-2h1m1-1h1m1-1h1m1-1h1m2-2h1m1-1h1m1-1h1m1-1h1m1-1h1m2-2h6m1-1h5m1-1h4m1-1h2m1-1h2m1-1h12m2 2h2m1 1h3m1 1h1m1 1h2m1 1h2m1 1h1m2 2h1m1 1h1m1 1h2m2 2h1m1 1h2m1 1h1m2 2h1m1 1h1m2 2h2m2 2h1m4 4h1m2 2h1m81 128l1 3m36 55h1m2 2h2m2 2h1m1 1h1m1 1h4m1 1h3m1 1h8m1-1h2m1-1h1m1 1h1m1-1h3m1-1h4m1-1h2m1-1h5m1-1h2m1-1h1m1-1h3m1-1h2m1-1h1m1-1h1m1-1h2m1-1h1m1-1h2m1-1h1m1-1h2m1-1h1m1-1h2m1-1h3m1-1h2m1-1h1m1-1h4m1-1h6m1-1h3m1-1h2m1-1h4m1-1h5m1-1h21m1-1h3m2 0h1m1 1h8m1 1h8m1 1h4m1 1h2m1 1h3m1 1h2m1 1h4m1 1h1m1 1h1m1 1h2m1 1h4m2 2h2m1 1h4m1 1h1m1 1h1m1 1h2m1 1h1m1 1h2m1 1h3m1 1h4m1 1h1m1 1h2m1 1h1m1 1h3m1 1h2m1 1h1m1 1h4m1 1h2m1 1h1m1 1h2m1 1h4m1 1h1m1 1h3m1 1h1m1 1h3m1 1h2m1 1h2m1 1h3m1 1h1m1 1h3m1 1h2m1 1h4m1 1h2m1 1h5m1 1h2m1 1h3m1 1h3m1 1h4m1 1h6m1 1h3m1 1h7m1 1h6m1 1h7m1 1h5m1 1h10m1 1h6m1 1h8m1 1h15m1 1h3m1-1h2m1 1h2m2 0h6m1 1h35m1 1h5m1-1h1"/>
<path class="s cw" d="M158 525l1 2m1 3l2 4m1 1l2 4m37-7l1-2m3-3l1-2m12-11l1-2m4-4l1-2m4-3l1-2m169-26l2 4m9 9l1 2m2 2l1 2m2 2l1 2m1 1l1 2m2 2l1 2m1 1l1 2m1 1l1 2m1 1l3 6m1 1l1 2m1 1l1 2m1 1l2 4m1 1l1 2m1 1l1 2m1 1l2 4m1 1l1 2m1 1l5 10m1 1l4 8m1 1l2 4m1 1l7 14m1 1l7 14m1 1l1 2m1 3l5 10m1 1l6 12m1 1l2 4m1 1l1 2m2 2l1 2m1 1l1 2m2 2l1 2m1 1l1 2m1 1l1 2"/>
<path class="s bw" d="M162 534l1 1m2 4l8 8m2 0l1 1m1 0l1-1m4 0l1-1m1 0l2-2m1 0l1-1m1 0l2-2m1 0l3-3m1 0l6-6m1-2l3-3m1-2l1-1m1 0l10-10m1-2l4-4m1-2l2-2m1 0l1-1m1-2l5-5m1 0l3-3m1 0l9-9m1 0l1-1m1 0l3-3m1 0l2-2m1 0l2-2m1 0l2-2m1 0l4-4m1 0l2-2m2 0l1-1m1 0l2-2m3 0l1-1m1 0l1-1m1 0l2-2m1 0l1-1m1 0l1-1m1 0l1-1m1 0l2-2m1 0l1-1m1 0l1-1m1 0l1-1m1 0l1-1m1 0l2-2m6 0l1-1m5 0l1-1m4 0l1-1m2 0l1-1m2 0l1-1m12 0l2 2m2 0l1 1m3 0l1 1m1 0l1 1m2 0l1 1m2 0l1 1m1 0l2 2m1 0l1 1m1 0l1 1m2 0l2 2m1 0l1 1m2 0l1 1m1 0l2 2m1 0l1 1m1 0l2 2m2 0l2 2m1 0l4 4m1 0l2 2m1 0l2 2m2 4l9 9m1 2l2 2m1 2l2 2m1 2l1 1m1 2l2 2m1 2l1 1m1 2l1 1m1 2l1 1m3 6l1 1m1 2l1 1m1 2l1 1m2 4l1 1m1 2l1 1m1 2l1 1m2 4l1 1m1 2l1 1m5 10l1 1m4 8l1 1m2 4l1 1m7 14l1 1m7 14l1 1m7 15l1 1m6 12l1 1m2 4l1 1m1 2l2 2m1 2l1 1m1 2l2 2m1 2l1 1m1 2l1 1m1 2l7 7m1 0l2 2m2 0l2 2m1 0l1 1m1 0l1 1m4 0l1 1m3 0l1 1m8 0l1-1m2 0l1-1m1 0l1 1m1 0l1-1m3 0l1-1m4 0l1-1m2 0l1-1m5 0l1-1m2 0l1-1m1 0l1-1m3 0l1-1m2 0l1-1m1 0l1-1m1 0l1-1m2 0l1-1m1 0l1-1m2 0l1-1m1 0l1-1m2 0l1-1m1 0l1-1m2 0l1-1m3 0l1-1m2 0l1-1m1 0l1-1m4 0l1-1m6 0l1-1m3 0l1-1m2 0l1-1m4 0l1-1m5 0l1-1m21 0l1-1m3 0l1 1l1-1m1 0l1 1m8 0l1 1m8 0l1 1m4 0l1 1m2 0l1 1m3 0l1 1m2 0l1 1m4 0l1 1m1 0l1 1m1 0l1 1m2 0l1 1m4 0l2 2m2 0l1 1m4 0l1 1m1 0l1 1m1 0l1 1m2 0l1 1m1 0l1 1m2 0l1 1m3 0l1 1m4 0l1 1m1 0l1 1m2 0l1 1m1 0l1 1m3 0l1 1m2 0l1 1m1 0l1 1m4 0l1 1m2 0l1 1m1 0l1 1m2 0l1 1m4 0l1 1m1 0l1 1m3 0l1 1m1 0l1 1m3 0l1 1m2 0l1 1m2 0l1 1m3 0l1 1m1 0l1 1m3 0l1 1m2 0l1 1m4 0l1 1m2 0l1 1m5 0l1 1m2 0l1 1m3 0l1 1m3 0l1 1m4 0l1 1m6 0l1 1m3 0l1 1m7 0l1 1m6 0l1 1m7 0l1 1m5 0l1 1m10 0l1 1m6 0l1 1m8 0l1 1m15 0l1 1m3 0l1-1m2 0l1 1m2 0l1-1l1 1m6 0l1 1m35 0l1 1m5 0l1-1m1 0l1 1"/>
<path class="t aw" d="M114 336l1 4l1 3l3 12l1 3l3 12l6 30l1 4l1 5l1 4l3 15l1 4l5 25l1 4l1 5l1 4l2 10l9 36l3 9m2 4l1 3m9 13h1m2 2h2m1 1h3m1-1h3m1-1h1m4-4h1m3-3h1m3-3h1m38-41h1m4-4h1m6-6h1m3-3h2m2-2h1m2-2h1m2-2h1m2-2h1m4-4h2m3-3h2m1-1h1m1-1h3m1-1h1m1-1h1m1-1h1m1-1h1m1-1h1m1-1h1m1-1h1m1-1h1m1-1h2m2-2h1m1-1h4m1-1h8m1-1h4m1-1h6m1-1h8m1 1h2m2 2h1m1 1h2m1 1h2m1 1h2m1 1h1m1 1h1m1 1h1m1 1h1m3 3h2m1 1h1m1 1h1m1 1h1m2 2h1m1 1h1m1 1h1m2 2h1m2 2h1m1 1h1m2 2h1m121 182h1m5 5h2m1 1h2m1 1h1m1 1h4m1 1h15m1-1h1m1-1h5m1-1h3m1-1h3m1-1h4m1-1h1m1-1h3m1-1h2m1-1h1m1-1h2m1-1h1m1-1h1m1-1h1m1-1h1m1-1h2m1-1h1m1-1h3m1-1h1m1-1h5m1-1h2m1-1h2m1-1h1m1-1h5m1-1h2m1-1h3m1-1h4m1-1h4m1-1h9m1-1h20m2 0h5m1 1h7m1 1h5m1 1h3m1 1h3m1 1h1m1 1h3m1 1h4m2 2h2m1 1h3m1 1h1m1 1h3m2 2h3m1 1h1m1 1h2m1 1h4m1 1h1m1 1h2m1 1h2m1 1h1m1 1h4m1 1h1m1 1h2m1 1h3m1 1h2m1 1h1m1 1h1m1 1h2m1 1h4m1 1h2m1 1h3m1 1h1m1 1h3m1 1h3m1 1h1m1 1h2m1 1h1m1 1h2m1 1h4m1 1h2m1 1h5m1 1h1m1 1h3m1 1h3m1 1h3m1 1h4m1 1h1m1 1h7m1 1h3m1 1h6m1 1h2m1 1h9m1 1h1m1-1h1m1 1h3m1 1h10m1 1h2m1 1h13m1 1h11m1 1h7m1 1h1m1-1h1m1 1h16m1 1h4m1-1h4m1 1h18m1 1h4m1-1h3m1 1h4"/>
<path class="t cw" d="M158 525l2 4m1 3l3 6m3 3l1 2m34-11l1-2m18-18l1-2m4-4l1-2m172-21l1 2m9 9l1 2m1 1l1 2m4 4l1 2m1 1l1 2m1 1l1 2m1 1l1 2m1 1l1 2m2 2l2 4m1 1l1 2m1 1l1 2m1 1l1 2m2 2l2 4m2 2l2 4m1 1l4 8m1 1l1 2m1 1l3 6m1 1l2 4m1 1l3 6m1 1l3 6m1 1l2 4m1 1l7 14m1 1l7 14m1 1l4 8m1 1l1 2m1 1l1 2m1 1l1 2m1 1l1 2m1 1l1 2m2 2l1 2m3 3l1 2m1 1l1 2"/>
<path class="t bw" d="M164 538l3 3m1 2l2 2m1 0l2 2m2 0l1 1m3 0l1-1m3 0l1-1m1 0l4-4m1 0l3-3m1 0l3-3m1 0l4-4m1-2l18-18m1-2l4-4m1-2l9-9m1 0l4-4m1 0l6-6m1 0l3-3m2 0l2-2m1 0l2-2m1 0l2-2m1 0l2-2m1 0l4-4m2 0l3-3m2 0l1-1m1 0l1-1m3 0l1-1m1 0l1-1m1 0l1-1m1 0l1-1m1 0l1-1m1 0l1-1m1 0l1-1m1 0l1-1m1 0l1-1m2 0l2-2m1 0l1-1m4 0l1-1m8 0l1-1m4 0l1-1m6 0l1-1m8 0l1 1m2 0l2 2m1 0l1 1m2 0l1 1m2 0l1 1m2 0l1 1m1 0l1 1m1 0l1 1m1 0l1 1m1 0l3 3m2 0l1 1m1 0l1 1m1 0l1 1m1 0l2 2m1 0l1 1m1 0l1 1m1 0l2 2m1 0l2 2m1 0l1 1m1 0l2 2m1 0l7 7m1 2l9 9m1 2l1 1m1 2l4 4m1 2l1 1m1 2l1 1m1 2l1 1m1 2l1 1m1 2l2 2m2 4l1 1m1 2l1 1m1 2l1 1m1 2l2 2m2 4l2 2m2 4l1 1m4 8l1 1m1 2l1 1m3 6l1 1m2 4l1 1m3 6l1 1m3 6l1 1m2 4l1 1m7 14l1 1m7 14l1 1m4 8l1 1m1 2l1 1m1 2l1 1m1 2l1 1m1 2l1 1m1 2l2 2m1 2l3 3m1 2l1 1m1 2l5 5m1 0l5 5m2 0l1 1m2 0l1 1m1 0l1 1m4 0l1 1m15 0l1-1m1 0l1-1m5 0l1-1m3 0l1-1m3 0l1-1m4 0l1-1m1 0l1-1m3 0l1-1m2 0l1-1m1 0l1-1m2 0l1-1m1 0l1-1m1 0l1-1m1 0l1-1m1 0l1-1m2 0l1-1m1 0l1-1m3 0l1-1m1 0l1-1m5 0l1-1m2 0l1-1m2 0l1-1m1 0l1-1m5 0l1-1m2 0l1-1m3 0l1-1m4 0l1-1m4 0l1-1m9 0l1-1m20 0l1 1l1-1m5 0l1 1m7 0l1 1m5 0l1 1m3 0l1 1m3 0l1 1m1 0l1 1m3 0l1 1m4 0l2 2m2 0l1 1m3 0l1 1m1 0l1 1m3 0l2 2m3 0l1 1m1 0l1 1m2 0l1 1m4 0l1 1m1 0l1 1m2 0l1 1m2 0l1 1m1 0l1 1m4 0l1 1m1 0l1 1m2 0l1 1m3 0l1 1m2 0l1 1m1 0l1 1m1 0l1 1m2 0l1 1m4 0l1 1m2 0l1 1m3 0l1 1m1 0l1 1m3 0l1 1m3 0l1 1m1 0l1 1m2 0l1 1m1 0l1 1m2 0l1 1m4 0l1 1m2 0l1 1m5 0l1 1m1 0l1 1m3 0l1 1m3 0l1 1m3 0l1 1m4 0l1 1m1 0l1 1m7 0l1 1m3 0l1 1m6 0l1 1m2 0l1 1m9 0l1 1m1 0l1-1m1 0l1 1m3 0l1 1m10 0l1 1m2 0l1 1m13 0l1 1m11 0l1 1m7 0l1 1m1 0l1-1m1 0l1 1m16 0l1 1m4 0l1-1m4 0l1 1m18 0l1 1m4 0l1-1m3 0l1 1"/>
<path class="n aw" d="M114 337l1 3l1 4l1 3l2 8l1 3l1 5l2 8l2 10l1 4l4 20l1 4l1 5l1 4l2 10l1 4l4 20l1 4l1 5l1 4l1 5l1 4l1 5l1 4l1 5l1 4l1 5l4 16l4 12m1 2l1 3m12 17h1m1 1h6m1-1h1m1-1h1m1-1h1m2-2h1m1-1h1m4-4h1m4-5h1m4-6h1m5-6h1m15-17h1m7-8h1m4-4h1m5-5h1m4-4h1m2-2h1m1-1h1m2-2h1m1-1h1m5-5h1m1-1h1m1-1h1m1-1h1m1-1h1m1-1h3m1-1h1m1-1h2m1-1h1m1-1h1m1-1h1m1-1h1m1-1h2m2-2h2m1-1h2m1-1h2m1-1h13m1-1h8m1-1h4m1 1h3m1 1h3m1 1h1m1 1h1m1 1h1m1 1h2m2 2h1m1 1h1m1 1h1m2 2h2m2 2h1m3 3h1m2 2h2m1 1h1m1 1h1m1 1h1m2 2h1m2 2h1m1 1h1m6 6h1m4 4h1m6 8h1m104 159h1m4 4h1m2 2h1m1 1h1m1 1h2m1 1h5m1 1h4m1 1h4m1-1h7m1-1h3m1-1h3m1-1h1m1-1h5m1-1h2m1-1h2m1-1h4m1-1h1m1-1h1m1-1h1m1-1h2m1-1h1m1-1h1m1-1h1m1-1h2m1-1h1m1-1h2m1-1h2m1-1h3m1-1h2m1-1h2m1-1h3m1-1h4m1-1h3m1-1h2m2-2h9m1-1h7m1-1h30m1 1h5m1 1h7m1 1h2m1 1h4m1 1h3m1 1h1m1 1h1m1 1h4m1 1h1m1 1h2m1 1h2m1 1h2m1 1h2m1 1h1m1 1h2m1 1h3m2 2h4m1 1h1m1 1h3m1 1h1m1 1h2m1 1h2m1 1h3m1 1h1m1 1h2m1 1h1m1 1h3m1 1h1m1 1h3m1 1h3m1 1h2m1 1h4m1 1h2m2 2h4m2 2h4m1 1h2m1 1h3m1 1h3m1 1h2m1 1h2m1 1h2m1 1h3m1 1h4m1 1h5m1 1h1m1 1h5m1 1h3m1 1h5m1 1h9m1 1h4m1 1h9m1 1h4m1 1h6m1 1h9m1 1h5m2 0h3m1 1h11m1 1h2m1-1h5m1 1h11m1 1h3m1-1h4m2 0h2m1 1h16m1 1h4m1-1h1m1 1h6"/>
<path class="n cw" d="M158 525l1 2m1 3l4 8m1 1l1 2m31-4l1-2m4-3l1-2m1-1l1-2m4-3l1-2m7-6l1-2m5-5l1-2m5-4l1-2m169-11l1 2m1 1l1 2m5 4l1 2m1 1l1 2m4 4l1 2m2 2l1 2m3 3l2 4m1 1l1 2m1 1l1 2m1 1l1 2m2 2l1 2m1 1l1 2m1 1l1 2m1 1l1 2m1 1l1 2m2 2l2 4m1 1l2 4m1 1l1 2m1 1l2 4m1 1l2 4m1 1l2 4m1 1l1 2m1 1l3 6m1 1l2 4m1 1l3 6m1 1l3 6m1 1l4 8m1 1l3 6m1 1l4 8m1 1l1 2m1 1l1 2m1 1l1 2m2 2l1 2m2 2l1 2m4 4l1 2m2 2l1 2"/>
<path class="n bw" d="M164 538l1 1m1 2l6 6m1 0l1 1m6 0l1-1m1 0l1-1m1 0l1-1m1 0l2-2m1 0l1-1m1 0l4-4m1 0l1-1m1-2l2-2m1 0l1-1m1-2l1-1m2-2l3-3m1-2l1-1m1 0l5-5m1-2l5-5m1-2l3-3m1 0l1-1m1-2l5-5m1 0l4-4m1 0l5-5m1 0l4-4m1 0l2-2m1 0l1-1m1 0l2-2m1 0l1-1m1 0l5-5m1 0l1-1m1 0l1-1m1 0l1-1m1 0l1-1m1 0l1-1m3 0l1-1m1 0l1-1m2 0l1-1m1 0l1-1m1 0l1-1m1 0l1-1m1 0l1-1m2 0l2-2m2 0l1-1m2 0l1-1m2 0l1-1m13 0l1-1m8 0l1-1m4 0l1 1m3 0l1 1m3 0l1 1m1 0l1 1m1 0l1 1m1 0l1 1m2 0l2 2m1 0l1 1m1 0l1 1m1 0l2 2m2 0l2 2m1 0l3 3m1 0l2 2m2 0l1 1m1 0l1 1m1 0l1 1m1 0l2 2m1 0l2 2m1 0l1 1m1 0l6 6m1 0l4 4m2 2l1 1m1 2l3 3m1 0l1 1m1 2l1 1m1 2l4 4m1 2l2 2m1 2l3 3m2 4l1 1m1 2l1 1m1 2l1 1m1 2l2 2m1 2l1 1m1 2l1 1m1 2l1 1m1 2l1 1m1 2l2 2m2 4l1 1m2 4l1 1m1 2l1 1m2 4l1 1m2 4l1 1m2 4l1 1m1 2l1 1m3 6l1 1m2 4l1 1m3 6l1 1m3 6l1 1m4 8l1 1m3 6l1 1m4 8l1 1m1 2l1 1m1 2l1 1m1 2l2 2m1 2l2 2m1 2l4 4m1 2l2 2m1 2l1 1m1 0l4 4m1 0l2 2m1 0l1 1m1 0l1 1m2 0l1 1m5 0l1 1m4 0l1 1m4 0l1-1m7 0l1-1m3 0l1-1m3 0l1-1m1 0l1-1m5 0l1-1m2 0l1-1m2 0l1-1m4 0l1-1m1 0l1-1m1 0l1-1m1 0l1-1m2 0l1-1m1 0l1-1m1 0l1-1m1 0l1-1m2 0l1-1m1 0l1-1m2 0l1-1m2 0l1-1m3 0l1-1m2 0l1-1m2 0l1-1m3 0l1-1m4 0l1-1m3 0l1-1m2 0l2-2m9 0l1-1m7 0l1-1m30 0l1 1m5 0l1 1m7 0l1 1m2 0l1 1m4 0l1 1m3 0l1 1m1 0l1 1m1 0l1 1m4 0l1 1m1 0l1 1m2 0l1 1m2 0l1 1m2 0l1 1m2 0l1 1m1 0l1 1m2 0l1 1m3 0l2 2m4 0l1 1m1 0l1 1m3 0l1 1m1 0l1 1m2 0l1 1m2 0l1 1m3 0l1 1m1 0l1 1m2 0l1 1m1 0l1 1m3 0l1 1m1 0l1 1m3 0l1 1m3 0l1 1m2 0l1 1m4 0l1 1m2 0l2 2m4 0l2 2m4 0l1 1m2 0l1 1m3 0l1 1m3 0l1 1m2 0l1 1m2 0l1 1m2 0l1 1m3 0l1 1m4 0l1 1m5 0l1 1m1 0l1 1m5 0l1 1m3 0l1 1m5 0l1 1m9 0l1 1m4 0l1 1m9 0l1 1m4 0l1 1m6 0l1 1m9 0l1 1m5 0l1-1l1 1m3 0l1 1m11 0l1 1m2 0l1-1m5 0l1 1m11 0l1 1m3 0l1-1m4 0l1 1l1-1m2 0l1 1m16 0l1 1m4 0l1-1m1 0l1 1"/>
<path class="o aw" d="M114 337l1 3l1 4l1 3l4 16l1 3l1 4l6 30l1 4l3 15l1 4l2 10l1 4l4 20l1 4l1 5l1 4l1 5l2 8l1 5l2 8l1 5l4 16l3 9m14 21h1m2 2h3m1-1h1m1-1h2m1-1h1m2-2h1m2-2h1m3-3h1m43-46h1m2-2h1m4-4h1m4-4h1m1-1h1m2-2h1m1-1h1m1-1h1m2-2h1m3-3h1m2-2h1m2-2h4m1-1h3m1-1h1m1-1h1m1-1h2m1-1h1m1-1h2m1-1h2m2-2h3m1-1h2m1-1h3m1-1h2m1 1h2m1-1h2m1 1h17m1 1h4m1 1h1m2 2h1m1 1h2m2 2h1m1 1h1m1 1h1m2 2h1m1 1h1m4 4h1m1 1h1m1 1h1m2 2h1m1 1h1m4 4h2m2 2h1m3 3h1m3 3h1m5 5h1m8 10h1m3 3l1 3m102 148h1m3 3h1m1 1h2m1 1h1m1 1h1m1 1h6m1 1h9m1-1h3m1-1h5m1-1h4m1-1h3m1-1h4m1-1h1m1-1h2m1-1h2m1-1h2m1-1h2m1-1h1m1-1h1m1-1h2m1-1h1m1-1h2m1-1h1m1-1h2m1-1h1m1-1h2m1-1h1m1-1h2m1-1h5m1-1h2m1-1h2m1-1h4m1-1h1m1-1h5m1-1h2m1-1h7m1-1h14m1-1h11m1 1h7m1 1h2m1-1h1m1 1h6m1 1h3m1 1h4m1 1h2m1 1h1m1 1h2m1 1h3m1 1h1m2 2h5m1 1h1m2 2h3m1 1h2m1 1h1m1 1h3m1 1h2m1 1h3m1 1h1m1 1h2m1 1h4m1 1h1m1 1h1m1 1h2m1 1h2m1 1h2m1 1h2m1 1h3m1 1h1m1 1h1m1 1h3m1 1h1m1 1h3m1 1h3m1 1h1m1 1h3m1 1h1m1 1h3m1 1h3m1 1h2m1 1h4m1 1h1m1 1h4m1 1h3m1 1h1m1 1h5m1 1h2m1 1h4m1 1h5m1 1h4m1 1h4m1 1h5m1 1h6m1 1h7m1 1h9m1 1h7m1 1h7m1 1h10m2 0h6m1 1h3m2 0h3m1 1h9m1 1h13m2 0h12m1 1h1m1-1h10m2 0h3m2 0h1"/>
<path class="o cw" d="M158 526l6 12m1 1l1 2m35-8l1-2m16-16l1-2m9-9l1-2m170-4l2 4m15 16l1 2m2 2l1 2m2 2l1 2m1 1l1 2m1 1l1 2m2 2l1 2m1 1l1 2m2 2l1 2m1 1l1 2m1 1l1 2m2 2l1 2m1 1l1 2m1 1l1 2m1 1l1 2m1 1l3 6m1 1l1 2m1 1l1 2m2 2l1 2m1 1l3 6m1 1l1 2m1 1l2 4m1 1l2 4m1 1l3 6m1 1l1 2m1 1l2 4m1 1l4 8m1 1l3 6m2 2l1 2m1 1l1 2m2 2l1 2m3 3l1 2m4 4l1 2"/>
<path class="o bw" d="M164 538l1 1m1 2l6 6m1 0l2 2m3 0l1-1m1 0l1-1m2 0l1-1m1 0l2-2m1 0l2-2m1 0l3-3m1 0l6-6m1-2l16-16m1-2l9-9m1-2l9-9m1 0l2-2m1 0l4-4m1 0l4-4m1 0l1-1m1 0l2-2m1 0l1-1m1 0l1-1m1 0l2-2m1 0l3-3m1 0l2-2m1 0l2-2m4 0l1-1m3 0l1-1m1 0l1-1m1 0l1-1m2 0l1-1m1 0l1-1m2 0l1-1m2 0l2-2m3 0l1-1m2 0l1-1m3 0l1-1m2 0l1 1m2 0l1-1m2 0l1 1m17 0l1 1m4 0l1 1m1 0l2 2m1 0l1 1m2 0l2 2m1 0l1 1m1 0l1 1m1 0l2 2m1 0l1 1m1 0l4 4m1 0l1 1m1 0l1 1m1 0l2 2m1 0l1 1m1 0l4 4m2 0l2 2m1 0l3 3m1 0l3 3m1 0l5 5m1 0l2 2m2 4l4 4m1 0l3 3m1 3l6 6m1 2l2 2m1 2l2 2m1 2l1 1m1 2l1 1m1 2l2 2m1 2l1 1m1 2l2 2m1 2l1 1m1 2l1 1m1 2l2 2m1 2l1 1m1 2l1 1m1 2l1 1m1 2l1 1m3 6l1 1m1 2l1 1m1 2l2 2m1 2l1 1m3 6l1 1m1 2l1 1m2 4l1 1m2 4l1 1m3 6l1 1m1 2l1 1m2 4l1 1m4 8l1 1m3 6l2 2m1 2l1 1m1 2l2 2m1 2l3 3m1 2l4 4m1 2l6 6m1 0l3 3m1 0l1 1m2 0l1 1m1 0l1 1m1 0l1 1m6 0l1 1m9 0l1-1m3 0l1-1m5 0l1-1m4 0l1-1m3 0l1-1m4 0l1-1m1 0l1-1m2 0l1-1m2 0l1-1m2 0l1-1m2 0l1-1m1 0l1-1m1 0l1-1m2 0l1-1m1 0l1-1m2 0l1-1m1 0l1-1m2 0l1-1m1 0l1-1m2 0l1-1m1 0l1-1m2 0l1-1m5 0l1-1m2 0l1-1m2 0l1-1m4 0l1-1m1 0l1-1m5 0l1-1m2 0l1-1m7 0l1-1m14 0l1-1m11 0l1 1m7 0l1 1m2 0l1-1m1 0l1 1m6 0l1 1m3 0l1 1m4 0l1 1m2 0l1 1m1 0l1 1m2 0l1 1m3 0l1 1m1 0l2 2m5 0l1 1m1 0l2 2m3 0l1 1m2 0l1 1m1 0l1 1m3 0l1 1m2 0l1 1m3 0l1 1m1 0l1 1m2 0l1 1m4 0l1 1m1 0l1 1m1 0l1 1m2 0l1 1m2 0l1 1m2 0l1 1m2 0l1 1m3 0l1 1m1 0l1 1m1 0l1 1m3 0l1 1m1 0l1 1m3 0l1 1m3 0l1 1m1 0l1 1m3 0l1 1m1 0l1 1m3 0l1 1m3 0l1 1m2 0l1 1m4 0l1 1m1 0l1 1m4 0l1 1m3 0l1 1m1 0l1 1m5 0l1 1m2 0l1 1m4 0l1 1m5 0l1 1m4 0l1 1m4 0l1 1m5 0l1 1m6 0l1 1m7 0l1 1m9 0l1 1m7 0l1 1m7 0l1 1m10 0l1 1l1-1m6 0l1 1m3 0l1 1l1-1m3 0l1 1m9 0l1 1m13 0l1-1l1 1m12 0l1 1m1 0l1-1m10 0l1 1l1-1m3 0l1 1l1-1"/>
<path class="g aw" d="M114 337l2 8l1 3l2 8l1 3l3 12l1 5l1 4l4 20l1 4l2 10l1 4l2 10l1 4l5 25l2 8l2 10l1 4l1 5l2 8l1 5l4 16l1 3l1 4l2 6m2 4l1 3m9 13h1m2 2h1m1 1h5m1-1h1m2-2h1m1-1h1m2-2h1m2-2h1m44-47h1m3-3h1m4-4h1m3-3h1m2-2h1m3-3h1m1-1h2m3-3h1m1-1h1m2-2h1m1-1h2m1-1h2m2-2h4m1-1h2m1-1h3m1-1h2m1-1h1m1-1h2m1-1h4m1-1h1m1-1h1m2 0h8m1 1h7m1 1h1m1-1h4m1 1h3m1 1h1m1 1h2m1 1h1m2 2h1m2 2h1m1 1h1m2 2h1m2 2h2m6 6h1m1 1h1m3 3h1m2 2h1m1 1h1m3 3h1m3 3h1m2 2h1m2 2h1m3 4h1m1 1h1m9 11h1m109 150h2m1 1h2m1 1h1m1 1h1m1 1h4m1 1h9m1-1h10m1-1h2m1-1h4m1-1h2m1-1h2m1-1h4m1-1h2m1-1h2m1-1h2m1-1h1m1-1h1m1-1h1m1-1h2m1-1h1m1-1h1m1-1h1m1-1h3m1-1h1m1-1h2m1-1h2m2-2h4m1-1h2m1-1h2m1-1h5m1-1h2m1-1h2m1-1h4m1-1h5m1-1h3m2 0h5m1-1h4m1 1h3m1-1h10m1 1h11m1 1h7m1 1h4m1 1h3m1 1h1m1 1h1m1 1h2m1 1h2m1 1h3m1 1h3m2 2h2m1 1h3m1 1h1m1 1h1m1 1h4m1 1h1m1 1h1m1 1h3m1 1h3m1 1h1m1 1h1m1 1h2m1 1h4m1 1h2m1 1h1m1 1h3m1 1h1m1 1h3m2 2h1m1 1h3m1 1h3m1 1h3m1 1h2m1 1h2m1 1h2m1 1h2m1 1h4m1 1h1m1 1h3m1 1h2m1 1h5m2 2h4m1 1h4m1 1h2m1 1h2m1 1h3m1 1h5m1 1h6m1 1h5m1 1h5m1 1h4m1 1h1m1-1h2m1 1h3m1 1h9m1 1h2m1 1h10m1 1h9m1 1h9m2 0h4m2 0h2m1 1h22m1 1h15m1 1h4m1-1h3m1 1h8"/>
<path class="g cw" d="M158 526l2 4m1 3l1 2m1 1l2 4m3 3l1 2m33-13l1-2m15-15l1-2m7-7l1-2m164-5l1 2m7 5l1 2m3 3l1 2m5 4l1 2m4 4l1 2m3 3l1 2m2 2l1 2m1 1l1 2m1 1l1 2m1 1l1 2m1 1l1 2m2 2l1 2m4 4l2 4m3 3l1 2m1 1l1 2m1 1l2 4m2 2l1 2m1 1l2 4m2 2l1 2m1 1l1 2m2 2l1 2m1 1l2 4m1 1l1 2m1 1l2 4m1 1l2 4m1 1l1 2m2 2l2 4m1 1l2 4m1 1l1 2m1 1l2 4m1 1l1 2m1 1l2 4m6 6l1 2m3 3l1 2"/>
<path class="g bw" d="M162 535l1 1m2 4l3 3m1 2l1 1m1 0l2 2m1 0l1 1m5 0l1-1m1 0l2-2m1 0l1-1m1 0l2-2m1 0l2-2m1 0l9-9m1-2l15-15m1-2l7-7m1-2l10-10m1 0l3-3m1 0l4-4m1 0l3-3m1 0l2-2m1 0l3-3m1 0l1-1m2 0l3-3m1 0l1-1m1 0l2-2m1 0l1-1m2 0l1-1m2 0l2-2m4 0l1-1m2 0l1-1m3 0l1-1m2 0l1-1m1 0l1-1m2 0l1-1m4 0l1-1m1 0l1-1m1 0l1-1l1 1m8 0l1 1m7 0l1 1m1 0l1-1m4 0l1 1m3 0l1 1m1 0l1 1m2 0l1 1m1 0l2 2m1 0l2 2m1 0l1 1m1 0l2 2m1 0l2 2m2 0l6 6m1 0l1 1m1 0l3 3m1 0l2 2m1 0l1 1m1 0l3 3m1 0l3 3m1 0l2 2m1 0l2 2m1 0l2 2m2 2l1 1m1 0l4 4m1 2l3 3m2 2l4 4m1 2l4 4m1 2l3 3m1 2l2 2m1 2l1 1m1 2l1 1m1 2l1 1m1 2l1 1m1 2l2 2m1 2l4 4m2 4l3 3m1 2l1 1m1 2l1 1m2 4l2 2m1 2l1 1m2 4l2 2m1 2l1 1m1 2l2 2m1 2l1 1m2 4l1 1m1 2l1 1m2 4l1 1m2 4l1 1m1 2l2 2m2 4l1 1m2 4l1 1m1 2l1 1m2 4l1 1m1 2l1 1m2 4l6 6m1 2l3 3m1 2l11 11m2 0l1 1m2 0l1 1m1 0l1 1m1 0l1 1m4 0l1 1m9 0l1-1m10 0l1-1m2 0l1-1m4 0l1-1m2 0l1-1m2 0l1-1m4 0l1-1m2 0l1-1m2 0l1-1m2 0l1-1m1 0l1-1m1 0l1-1m1 0l1-1m2 0l1-1m1 0l1-1m1 0l1-1m1 0l1-1m3 0l1-1m1 0l1-1m2 0l1-1m2 0l2-2m4 0l1-1m2 0l1-1m2 0l1-1m5 0l1-1m2 0l1-1m2 0l1-1m4 0l1-1m5 0l1-1m3 0l1-1l1 1m5 0l1-1m4 0l1 1m3 0l1-1m10 0l1 1m11 0l1 1m7 0l1 1m4 0l1 1m3 0l1 1m1 0l1 1m1 0l1 1m2 0l1 1m2 0l1 1m3 0l1 1m3 0l2 2m2 0l1 1m3 0l1 1m1 0l1 1m1 0l1 1m4 0l1 1m1 0l1 1m1 0l1 1m3 0l1 1m3 0l1 1m1 0l1 1m1 0l1 1m2 0l1 1m4 0l1 1m2 0l1 1m1 0l1 1m3 0l1 1m1 0l1 1m3 0l2 2m1 0l1 1m3 0l1 1m3 0l1 1m3 0l1 1m2 0l1 1m2 0l1 1m2 0l1 1m2 0l1 1m4 0l1 1m1 0l1 1m3 0l1 1m2 0l1 1m5 0l2 2m4 0l1 1m4 0l1 1m2 0l1 1m2 0l1 1m3 0l1 1m5 0l1 1m6 0l1 1m5 0l1 1m5 0l1 1m4 0l1 1m1 0l1-1m2 0l1 1m3 0l1 1m9 0l1 1m2 0l1 1m10 0l1 1m9 0l1 1m9 0l1-1l1 1m4 0l1 1l1-1m2 0l1 1m22 0l1 1m15 0l1 1m4 0l1-1m3 0l1 1"/>
<path class="m aw" d="M114 338l1 4l2 6l4 16l1 3l1 4l2 10l1 4l4 20l1 4l1 5l1 4l3 15l1 4l5 25l1 4l1 5l1 4l1 5l4 16l1 5l4 16l3 9m13 21h1m2 2h6m1-1h1m1-1h1m1-1h2m5-5h1m44-47h1m3-3h1m6-6h1m1-1h1m2-2h1m1-1h1m1-1h1m2-2h1m1-1h1m2-2h1m1-1h1m2-2h1m1-1h3m1-1h1m1-1h4m1-1h1m1-1h5m1-1h2m1-1h2m1-1h3m1-1h3m1-1h4m1 1h5m1 1h5m1 1h2m2 0h5m1 1h2m2 2h2m1 1h2m3 3h1m2 2h1m3 3h1m2 2h1m4 4h1m2 2h1m3 4h1m1 1h1m4 4h1m2 2h1m3 3h1m2 2h1m2 2h1m4 4h1m5 6h1m111 147h1m2 2h1m1 1h1m2 2h1m1 1h2m1 1h1m1 1h6m1 1h11m1-1h3m1-1h3m1-1h1m1-1h4m1-1h2m1-1h2m1-1h4m1-1h2m1-1h2m1-1h3m2-2h1m1-1h2m1-1h1m1-1h2m1-1h1m1-1h1m1-1h2m1-1h2m1-1h1m2-2h3m1-1h2m1-1h4m1-1h2m1-1h1m1-1h4m1-1h3m1-1h3m1-1h3m1-1h10m1-1h19m1 1h2m1-1h5m1 1h6m1 1h7m1 1h3m1 1h3m1 1h2m1 1h2m1 1h1m1 1h3m1 1h2m1 1h2m1 1h2m1 1h1m1 1h3m1 1h1m1 1h1m1 1h3m1 1h1m1 1h2m1 1h3m1 1h2m1 1h3m1 1h1m1 1h2m1 1h2m1 1h1m1 1h2m1 1h1m1 1h2m1 1h4m1 1h1m1 1h2m1 1h3m1 1h1m1 1h3m1 1h2m1 1h3m1 1h1m1 1h3m1 1h2m1 1h3m1 1h1m1 1h6m1 1h1m1 1h3m1 1h1m1 1h4m1 1h3m1 1h1m1 1h3m1 1h6m1 1h5m1 1h8m1 1h6m1 1h5m1 1h4m1 1h8m1 1h7m1 1h4m1 1h8m1 1h18m1 1h19m1 1h37m1 1h2"/>
<path class="m cw" d="M158 526l7 14m1 1l1 2m34-10l1-2m16-16l1-2m6-6l1-2m138-19l1 2m27 19l1 2m6 5l1 2m10 10l1 2m4 4l1 2m4 4l1 2m2 2l1 2m1 1l1 2m2 2l1 2m2 2l1 2m1 1l1 2m2 2l1 2m5 5l1 2m1 1l2 4m1 1l1 2m2 2l1 2m1 1l1 2m1 1l1 2m2 2l1 2m2 2l1 2m2 2l1 2m1 1l1 2m1 1l1 2m1 1l1 2m1 1l2 4m1 1l1 2m1 1l1 2m1 1l1 2m1 1l1 2m1 1l1 2m1 1l1 2m1 1l1 2m2 2l1 2m1 1l1 2m3 3l1 2m11 11l1 2"/>
<path class="m bw" d="M165 540l1 1m1 2l4 4m1 0l2 2m6 0l1-1m1 0l1-1m1 0l1-1m2 0l5-5m1 0l8-8m1-2l16-16m1-2l6-6m1-2l11-11m1 0l3-3m1 0l6-6m1 0l1-1m1 0l2-2m1 0l1-1m1 0l1-1m1 0l2-2m1 0l1-1m1 0l2-2m1 0l1-1m1 0l2-2m1 0l1-1m3 0l1-1m1 0l1-1m4 0l1-1m1 0l1-1m5 0l1-1m2 0l1-1m2 0l1-1m3 0l1-1m3 0l1-1m4 0l1 1m5 0l1 1m5 0l1 1m2 0l1 1l1-1m5 0l1 1m2 0l2 2m2 0l1 1m2 0l3 3m1 0l2 2m1 0l3 3m1 0l2 2m1 0l4 4m1 0l2 2m1 0l1 1m1 2l1 1m1 0l1 1m1 0l4 4m1 0l2 2m1 0l3 3m1 0l2 2m1 0l2 2m1 0l4 4m2 2l4 4m1 0l1 1m1 2l10 10m1 2l4 4m1 2l4 4m1 2l2 2m1 2l1 1m1 2l2 2m1 2l2 2m1 2l1 1m1 2l2 2m1 2l5 5m1 2l1 1m2 4l1 1m1 2l2 2m1 2l1 1m1 2l1 1m1 2l2 2m1 2l2 2m1 2l2 2m1 2l1 1m1 2l1 1m1 2l1 1m1 2l1 1m2 4l1 1m1 2l1 1m1 2l1 1m1 2l1 1m1 2l1 1m1 2l1 1m1 2l1 1m1 2l2 2m1 2l1 1m1 2l3 3m1 2l11 11m1 2l1 1m1 0l2 2m1 0l1 1m1 0l2 2m1 0l1 1m2 0l1 1m1 0l1 1m6 0l1 1m11 0l1-1m3 0l1-1m3 0l1-1m1 0l1-1m4 0l1-1m2 0l1-1m2 0l1-1m4 0l1-1m2 0l1-1m2 0l1-1m3 0l2-2m1 0l1-1m2 0l1-1m1 0l1-1m2 0l1-1m1 0l1-1m1 0l1-1m2 0l1-1m2 0l1-1m1 0l2-2m3 0l1-1m2 0l1-1m4 0l1-1m2 0l1-1m1 0l1-1m4 0l1-1m3 0l1-1m3 0l1-1m3 0l1-1m10 0l1-1m19 0l1 1m2 0l1-1m5 0l1 1m6 0l1 1m7 0l1 1m3 0l1 1m3 0l1 1m2 0l1 1m2 0l1 1m1 0l1 1m3 0l1 1m2 0l1 1m2 0l1 1m2 0l1 1m1 0l1 1m3 0l1 1m1 0l1 1m1 0l1 1m3 0l1 1m1 0l1 1m2 0l1 1m3 0l1 1m2 0l1 1m3 0l1 1m1 0l1 1m2 0l1 1m2 0l1 1m1 0l1 1m2 0l1 1m1 0l1 1m2 0l1 1m4 0l1 1m1 0l1 1m2 0l1 1m3 0l1 1m1 0l1 1m3 0l1 1m2 0l1 1m3 0l1 1m1 0l1 1m3 0l1 1m2 0l1 1m3 0l1 1m1 0l1 1m6 0l1 1m1 0l1 1m3 0l1 1m1 0l1 1m4 0l1 1m3 0l1 1m1 0l1 1m3 0l1 1m6 0l1 1m5 0l1 1m8 0l1 1m6 0l1 1m5 0l1 1m4 0l1 1m8 0l1 1m7 0l1 1m4 0l1 1m8 0l1 1m18 0l1 1m19 0l1 1m37 0l1 1"/>
<path class="p aw" d="M114 339l3 9l3 12l1 3l2 8l2 10l1 4l3 15l1 4l1 5l1 4l6 30l1 4l4 20l3 12l1 5l3 12l1 5l1 4l1 3l2 8l4 12m1 2l1 3m9 13h1m2 2h1m1 1h2m2 0h1m1-1h1m1-1h1m1-1h1m2-2h1m3-3h1m43-46h1m3-3h1m6-6h1m2-2h1m1-1h1m2-2h1m2-2h3m2-2h1m3-3h2m2-2h1m1-1h3m1-1h4m1-1h5m1-1h3m1-1h3m1-1h5m1-1h3m1-1h1m1 1h2m1 1h3m1 1h4m1 1h4m1 1h2m1 1h3m1 1h1m1 1h2m1 1h1m1 1h1m1 1h1m4 4h1m7 7h1m1 1h1m5 5h1m3 4h1m1 1h1m4 4h1m2 2h1m6 6h1m1 1h1m4 4h1m17 18h1l1 3m101 128h1m2 2h1m1 1h2m1 1h3m1 1h2m1 1h16m1-1h3m1-1h2m1-1h3m1-1h3m1-1h1m1-1h2m1-1h2m1-1h5m1-1h2m1-1h1m1-1h1m1-1h3m1-1h1m2-2h1m1-1h2m1-1h1m1-1h2m1-1h2m1-1h1m1-1h1m1-1h3m1-1h2m1-1h1m1-1h4m1-1h2m1-1h4m1-1h2m1-1h3m1-1h6m1-1h3m1-1h11m1-1h8m1 1h12m1 1h11m1 1h2m1 1h5m2 2h4m1 1h1m1 1h2m1 1h2m1 1h2m1 1h2m1 1h2m1 1h2m1 1h1m1 1h2m1 1h1m1 1h4m1 1h1m1 1h2m1 1h3m1 1h1m1 1h1m1 1h2m1 1h4m2 2h2m1 1h3m1 1h2m1 1h2m1 1h2m1 1h2m1 1h1m1 1h3m1 1h1m1 1h5m1 1h1m1 1h2m1 1h2m1 1h2m1 1h3m1 1h1m1 1h4m1 1h2m1 1h4m2 2h2m2 0h1m1 1h2m1 1h3m1 1h2m1 1h5m1 1h1m1 1h9m1 1h3m1 1h7m1 1h8m1 1h4m1 1h7m1 1h4m1 1h9m1 1h7m1 1h13m1-1h1m1 1h4m1 1h16m1 1h7m1-1h1m1 1h16m1 1h10m1-1h1"/>
<path class="p cw" d="M159 528l1 2m1 3l2 4m1 1l2 4m38-12l1-2m14-14l1-2m4-4l1-2m138-14l1 2m35 28l1 2m17 18l1 2m2 2l1 2m1 1l1 2m5 5l1 2m2 2l1 2m2 2l1 2m4 4l1 2m2 2l1 2m2 2l2 4m3 3l1 2m2 2l1 2m2 2l1 2m2 2l1 2m2 2l1 2m3 3l2 4m3 3l1 2m1 1l1 2m1 1l1 2m2 2l1 2m1 1l1 2m1 1l1 2m1 1l1 2m1 1l1 2m1 1l1 2m1 1l1 2"/>
<path class="p bw" d="M163 537l1 1m2 4l4 4m1 0l2 2m1 0l1 1m2 0l1 1l1-1m1 0l1-1m1 0l1-1m1 0l1-1m1 0l2-2m1 0l3-3m1 0l11-11m1-2l14-14m1-2l4-4m1-2l11-11m1 0l3-3m1 0l6-6m1 0l2-2m1 0l1-1m1 0l2-2m1 0l2-2m3 0l2-2m1 0l3-3m2 0l2-2m1 0l1-1m3 0l1-1m4 0l1-1m5 0l1-1m3 0l1-1m3 0l1-1m5 0l1-1m3 0l1-1m1 0l1 1m2 0l1 1m3 0l1 1m4 0l1 1m4 0l1 1m2 0l1 1m3 0l1 1m1 0l1 1m2 0l1 1m1 0l1 1m1 0l1 1m1 0l4 4m1 0l7 7m1 0l1 1m1 0l5 5m2 2l2 2m1 0l1 1m1 0l4 4m1 0l2 2m1 0l6 6m1 0l1 1m1 0l4 4m1 0l8 8m1 2l8 8m2 3l7 7m1 2l2 2m1 2l1 1m1 2l5 5m1 2l2 2m1 2l2 2m1 2l4 4m1 2l2 2m1 2l2 2m2 4l3 3m1 2l2 2m1 2l2 2m1 2l2 2m1 2l2 2m1 2l3 3m2 4l3 3m1 2l1 1m1 2l1 1m1 2l2 2m1 2l1 1m1 2l1 1m1 2l1 1m1 2l1 1m1 2l1 1m1 2l1 1m1 2l20 20m1 0l2 2m1 0l1 1m2 0l1 1m3 0l1 1m2 0l1 1m16 0l1-1m3 0l1-1m2 0l1-1m3 0l1-1m3 0l1-1m1 0l1-1m2 0l1-1m2 0l1-1m5 0l1-1m2 0l1-1m1 0l1-1m1 0l1-1m3 0l1-1m1 0l2-2m1 0l1-1m2 0l1-1m1 0l1-1m2 0l1-1m2 0l1-1m1 0l1-1m1 0l1-1m3 0l1-1m2 0l1-1m1 0l1-1m4 0l1-1m2 0l1-1m4 0l1-1m2 0l1-1m3 0l1-1m6 0l1-1m3 0l1-1m11 0l1-1m8 0l1 1m12 0l1 1m11 0l1 1m2 0l1 1m5 0l2 2m4 0l1 1m1 0l1 1m2 0l1 1m2 0l1 1m2 0l1 1m2 0l1 1m2 0l1 1m2 0l1 1m1 0l1 1m2 0l1 1m1 0l1 1m4 0l1 1m1 0l1 1m2 0l1 1m3 0l1 1m1 0l1 1m1 0l1 1m2 0l1 1m4 0l2 2m2 0l1 1m3 0l1 1m2 0l1 1m2 0l1 1m2 0l1 1m2 0l1 1m1 0l1 1m3 0l1 1m1 0l1 1m5 0l1 1m1 0l1 1m2 0l1 1m2 0l1 1m2 0l1 1m3 0l1 1m1 0l1 1m4 0l1 1m2 0l1 1m4 0l2 2m2 0l1-1l1 1m1 0l1 1m2 0l1 1m3 0l1 1m2 0l1 1m5 0l1 1m1 0l1 1m9 0l1 1m3 0l1 1m7 0l1 1m8 0l1 1m4 0l1 1m7 0l1 1m4 0l1 1m9 0l1 1m7 0l1 1m13 0l1-1m1 0l1 1m4 0l1 1m16 0l1 1m7 0l1-1m1 0l1 1m16 0l1 1m10 0l1-1m1 0l1 1"/>
<path class="u aw" d="M114 339l2 6l1 4l1 3l6 24l1 5l1 4l4 20l1 4l2 10l1 4l3 15l1 4l3 15l1 4l1 5l1 4l1 5l2 8l1 5l2 8l1 5l4 16l2 6m1 2l1 3m1 2l1 3m9 14h1m1 1h1m2 2h2m1-1h3m1-1h1m2-2h1m1-1h1m3-3h1m46-49h1m2-2h1m3-3h1m4-4h1m1-1h1m1-1h1m2-2h1m1-1h2m1-1h1m1-1h1m2-2h1m1-1h1m1-1h1m1-1h1m1-1h6m1-1h6m1-1h5m1-1h7m1-1h7m1 1h2m1 1h1m1 1h2m1 1h2m1 1h2m1 1h4m1 1h2m1 1h1m2 2h1m2 2h1m1 1h1m4 5h1m3 3h1m4 4h1m8 9h1m6 6h1m3 3h1m4 4h1m3 3h1m7 7h1m5 6h1m9 10h1l1 3m87 109h1m7 7h1m5 5h1m1 1h1m2 2h2m1 1h2m1 1h11m1 1h3m1-1h3m1-1h6m1-1h3m1-1h2m1-1h1m2-2h5m1-1h3m1-1h2m1-1h1m1-1h3m1-1h2m2-2h1m1-1h1m1-1h2m1-1h1m1-1h1m1-1h2m1-1h1m1-1h1m1-1h2m1-1h2m1-1h3m1-1h3m1-1h2m1-1h2m1-1h3m1-1h2m1-1h5m1-1h1m1-1h5m1-1h4m1-1h2m1 1h2m1-1h15m1 1h16m1 1h3m1 1h4m1 1h3m1 1h4m1 1h1m1 1h3m1 1h2m1 1h1m1 1h2m1 1h1m1 1h2m1 1h1m1 1h2m1 1h2m1 1h2m1 1h2m1 1h3m1 1h1m1 1h4m1 1h1m1 1h2m1 1h1m1 1h2m1 1h4m1 1h1m2 2h1m1 1h3m1 1h1m1 1h4m1 1h2m1 1h2m1 1h1m1 1h3m1 1h2m1 1h2m1 1h4m1 1h1m1 1h1m1 1h1m1 1h4m1 1h4m1 1h4m1 1h1m1 1h2m1 1h2m1 1h4m1 1h5m1 1h1m1 1h5m1 1h1m2 0h1m1 1h7m1 1h4m1 1h6m1 1h8m1 1h7m1 1h7m1 1h7m1 1h10m1 1h17m1 1h14m1 1h5m1-1h4m1 1h11m1 1h2m1-1h13"/>
<path class="u cw" d="M157 523l1 2m1 3l1 2m1 3l2 4m1 1l1 2m1 1l1 2m1 1l1 2m34-15l1-2m11-11l1-2m8-8l1-2m119-24l1 2m16 13l1 2m34 28l1 2m3 2l1 2m15 16l1 2m4 4l1 2m4 4l1 2m2 2l1 2m5 5l1 2m2 2l1 2m4 4l1 2m2 2l1 2m2 2l1 2m5 5l1 2m3 3l1 2m2 2l1 2m2 2l1 2m1 1l1 2m3 3l1 2m3 3l1 2m1 1l1 2m2 2l1 2m1 1l1 2m2 2l1 2m2 2l1 2m7 7l1 2"/>
<path class="u bw" d="M163 537l1 1m1 2l1 1m1 2l1 1m1 2l1 1m1 0l1 1m1 0l2 2m2 0l1-1m3 0l1-1m1 0l2-2m1 0l1-1m1 0l3-3m1 0l11-11m1-2l11-11m1-2l8-8m1-2l13-13m1 0l2-2m1 0l3-3m1 0l4-4m1 0l1-1m1 0l1-1m1 0l2-2m1 0l1-1m2 0l1-1m1 0l1-1m1 0l2-2m1 0l1-1m1 0l1-1m1 0l1-1m1 0l1-1m6 0l1-1m6 0l1-1m5 0l1-1m7 0l1-1m7 0l1 1m2 0l1 1m1 0l1 1m2 0l1 1m2 0l1 1m2 0l1 1m4 0l1 1m2 0l1 1m1 0l2 2m1 0l2 2m1 0l1 1m1 0l2 2m1 2l1 1m1 0l3 3m1 0l4 4m1 0l5 5m1 2l2 2m1 0l6 6m1 0l3 3m1 0l4 4m1 0l3 3m1 0l7 7m1 0l3 3m1 2l1 1m1 0l1 1m1 2l7 7m2 3l6 6m1 2l4 4m1 2l4 4m1 2l2 2m1 2l5 5m1 2l2 2m1 2l4 4m1 2l2 2m1 2l2 2m1 2l5 5m1 2l3 3m1 2l2 2m1 2l2 2m1 2l1 1m1 2l3 3m1 2l3 3m1 2l1 1m1 2l2 2m1 2l1 1m1 2l2 2m1 2l2 2m1 2l7 7m2 2l7 7m1 0l5 5m1 0l1 1m1 0l2 2m2 0l1 1m2 0l1 1m11 0l1 1m3 0l1-1m3 0l1-1m6 0l1-1m3 0l1-1m2 0l1-1m1 0l2-2m5 0l1-1m3 0l1-1m2 0l1-1m1 0l1-1m3 0l1-1m2 0l2-2m1 0l1-1m1 0l1-1m2 0l1-1m1 0l1-1m1 0l1-1m2 0l1-1m1 0l1-1m1 0l1-1m2 0l1-1m2 0l1-1m3 0l1-1m3 0l1-1m2 0l1-1m2 0l1-1m3 0l1-1m2 0l1-1m5 0l1-1m1 0l1-1m5 0l1-1m4 0l1-1m2 0l1 1m2 0l1-1m15 0l1 1m16 0l1 1m3 0l1 1m4 0l1 1m3 0l1 1m4 0l1 1m1 0l1 1m3 0l1 1m2 0l1 1m1 0l1 1m2 0l1 1m1 0l1 1m2 0l1 1m1 0l1 1m2 0l1 1m2 0l1 1m2 0l1 1m2 0l1 1m3 0l1 1m1 0l1 1m4 0l1 1m1 0l1 1m2 0l1 1m1 0l1 1m2 0l1 1m4 0l1 1m1 0l2 2m1 0l1 1m3 0l1 1m1 0l1 1m4 0l1 1m2 0l1 1m2 0l1 1m1 0l1 1m3 0l1 1m2 0l1 1m2 0l1 1m4 0l1 1m1 0l1 1m1 0l1 1m1 0l1 1m4 0l1 1m4 0l1 1m4 0l1 1m1 0l1 1m2 0l1 1m2 0l1 1m4 0l1 1m5 0l1 1m1 0l1 1m5 0l1 1m1 0l1-1l1 1m1 0l1 1m7 0l1 1m4 0l1 1m6 0l1 1m8 0l1 1m7 0l1 1m7 0l1 1m7 0l1 1m10 0l1 1m17 0l1 1m14 0l1 1m5 0l1-1m4 0l1 1m11 0l1 1m2 0l1-1m13 0l1 1"/>
<path class="k aw" d="M114 339l1 4l2 6l1 4l1 3l5 20l5 25l1 4l1 5l1 4l1 5l1 4l2 10l1 4l5 25l1 4l1 5l2 8l1 5l2 8l1 5l5 20l4 12m12 19h2m2 2h5m1-1h1m1-1h1m3-3h1m1-1h1m3-3h1m17-20h1m20-23h1m5-5h1m2-2h1m4-4h1m3-3h1m1-1h1m1-1h1m2-2h2m1-1h1m1-1h1m2-2h1m1-1h2m1-1h1m1-1h1m1-1h5m1-1h13m1-1h7m1-1h4m1 1h2m1 1h2m1 1h2m1 1h1m1 1h1m1 1h2m1 1h1m1 1h2m1 1h2m1 1h1m1 1h1m1 1h1m3 3h1m12 12h1m15 16h1m4 4h1m5 5h1m5 5h1m21 22h1m92 109h1m6 6h1m2 2h1m1 1h1m1 1h1m1 1h2m1 1h5m1 1h8m1 1h2m1-1h3m1-1h3m1-1h3m1-1h2m1-1h3m1-1h2m1-1h2m1-1h2m1-1h1m1-1h4m1-1h1m1-1h3m1-1h1m1-1h1m1-1h2m1-1h1m2-2h2m1-1h1m2-2h3m1-1h1m1-1h2m1-1h2m1-1h2m1-1h3m2-2h4m1-1h3m1-1h2m1-1h3m1-1h3m1-1h5m1-1h4m1-1h15m1-1h5m1 1h8m1 1h10m1 1h4m1 1h1m1 1h1m1-1h1m1 1h1m1 1h1m1 1h2m1 1h3m1 1h2m1 1h1m1 1h1m1 1h4m1 1h1m1 1h1m1 1h2m1 1h1m1 1h2m1 1h4m1 1h1m1 1h1m1 1h2m1 1h3m1 1h1m1 1h4m1 1h1m1 1h2m1 1h2m1 1h1m1 1h1m1 1h2m1 1h3m1 1h3m1 1h1m1 1h2m1 1h2m1 1h3m1 1h2m1 1h1m1 1h3m1 1h1m1 1h3m1 1h4m1 1h1m1 1h2m1 1h3m1 1h5m1 1h3m1 1h1m1 1h1m1 1h4m1 1h4m1 1h4m1 1h4m1 1h1m1-1h2m1 1h2m1 1h6m1 1h6m1 1h7m2 0h2m1 1h5m1 1h3m1 1h8m1 1h8m1 1h1m1-1h3m1 1h8m2 0h6m1 1h19m1 1h3m2 0h12m1 1h1m1-1h9m1 1h2"/>
<path class="k cw" d="M159 529l5 10m1 1l1 2m1 1l1 2m30-8l1-2m4-4l1-2m6-6l1-2m8-7l1-2m5-5l1-2m4-4l1-2m136 11l1 2m32 28l1 2m8 7l1 2m9 9l1 2m2 2l1 2m6 6l1 2m6 6l1 2m4 4l1 2m2 2l1 2m4 4l1 2m2 2l1 2m7 7l1 2m5 5l1 2m2 2l1 2m3 3l1 2m1 1l1 2m4 4l1 2m2 2l1 2m6 6l1 2"/>
<path class="k bw" d="M164 539l1 1m1 2l1 1m1 2l3 3m2 0l2 2m5 0l1-1m1 0l1-1m1 0l3-3m1 0l1-1m1 0l3-3m1 0l4-4m1-2l4-4m1-2l6-6m2-2l7-7m1-2l5-5m1-2l4-4m1-2l1-1m1 0l5-5m1 0l2-2m1 0l4-4m1 0l3-3m1 0l1-1m1 0l1-1m1 0l2-2m2 0l1-1m1 0l1-1m1 0l2-2m1 0l1-1m2 0l1-1m1 0l1-1m1 0l1-1m5 0l1-1m13 0l1-1m7 0l1-1m4 0l1 1m2 0l1 1m2 0l1 1m2 0l1 1m1 0l1 1m1 0l1 1m2 0l1 1m1 0l1 1m2 0l1 1m2 0l1 1m1 0l1 1m1 0l1 1m1 0l3 3m1 0l12 12m1 0l14 14m2 2l4 4m1 0l5 5m1 0l5 5m1 0l14 14m1 2l6 6m1 0l1 1m1 2l9 9m1 2l2 2m1 2l6 6m1 2l6 6m1 2l4 4m1 2l2 2m1 2l4 4m1 2l2 2m1 2l7 7m1 2l5 5m1 2l2 2m1 2l3 3m1 2l1 1m1 2l4 4m1 2l2 2m1 2l6 6m1 2l9 9m1 0l6 6m1 0l2 2m1 0l1 1m1 0l1 1m1 0l1 1m2 0l1 1m5 0l1 1m8 0l1 1m2 0l1-1m3 0l1-1m3 0l1-1m3 0l1-1m2 0l1-1m3 0l1-1m2 0l1-1m2 0l1-1m2 0l1-1m1 0l1-1m4 0l1-1m1 0l1-1m3 0l1-1m1 0l1-1m1 0l1-1m2 0l1-1m1 0l2-2m2 0l1-1m1 0l2-2m3 0l1-1m1 0l1-1m2 0l1-1m2 0l1-1m2 0l1-1m3 0l2-2m4 0l1-1m3 0l1-1m2 0l1-1m3 0l1-1m3 0l1-1m5 0l1-1m4 0l1-1m15 0l1-1m5 0l1 1m8 0l1 1m10 0l1 1m4 0l1 1m1 0l1 1m1 0l1-1m1 0l1 1m1 0l1 1m1 0l1 1m2 0l1 1m3 0l1 1m2 0l1 1m1 0l1 1m1 0l1 1m4 0l1 1m1 0l1 1m1 0l1 1m2 0l1 1m1 0l1 1m2 0l1 1m4 0l1 1m1 0l1 1m1 0l1 1m2 0l1 1m3 0l1 1m1 0l1 1m4 0l1 1m1 0l1 1m2 0l1 1m2 0l1 1m1 0l1 1m1 0l1 1m2 0l1 1m3 0l1 1m3 0l1 1m1 0l1 1m2 0l1 1m2 0l1 1m3 0l1 1m2 0l1 1m1 0l1 1m3 0l1 1m1 0l1 1m3 0l1 1m4 0l1 1m1 0l1 1m2 0l1 1m3 0l1 1m5 0l1 1m3 0l1 1m1 0l1 1m1 0l1 1m4 0l1 1m4 0l1 1m4 0l1 1m4 0l1 1m1 0l1-1m2 0l1 1m2 0l1 1m6 0l1 1m6 0l1 1m7 0l1 1l1-1m2 0l1 1m5 0l1 1m3 0l1 1m8 0l1 1m8 0l1 1m1 0l1-1m3 0l1 1m8 0l1 1l1-1m6 0l1 1m19 0l1 1m3 0l1-1l1 1m12 0l1 1m1 0l1-1m9 0l1 1"/>
<path class="y aw" d="M114 339l1 4l1 3l1 4l1 3l1 4l1 3l3 12l2 10l1 4l2 10l1 4l2 10l1 4l1 5l1 4l2 10l1 4l6 30l1 4l1 5l2 8l1 5l7 28l3 9m1 2l1 3m8 14h1m5 5h2m1 1h2m1-1h1m1-1h1m2-2h1m4-4h1m6-6h1m36-41h1m1-1h1m4-4h1m4-4h1m2-2h1m1-1h1m1-1h1m1-1h1m1-1h1m2-2h1m1-1h1m1-1h2m1-1h2m1-1h1m1-1h4m1-1h8m1-1h11m2 0h4m2 0h1m1 1h3m1 1h1m1 1h3m2 2h1m2 2h2m1 1h1m1 1h1m1 1h1m1 1h2m2 2h1m5 5h1m5 6h1m21 23h1m2 2h1m15 15h1m4 4h1m9 11h1m5 6h1m87 99h1m2 2h1m4 4h1m4 4h1m1 1h1m1 1h1m1 1h6m1 1h1m1 1h13m1-1h2m1-1h4m1-1h2m1-1h4m1-1h1m1-1h1m1-1h1m1-1h2m1-1h5m1-1h1m1-1h1m1-1h2m1-1h2m1-1h1m1-1h2m1-1h2m1-1h1m2-2h1m1-1h2m1-1h1m1-1h1m1-1h2m1-1h4m1-1h1m1-1h2m1-1h1m1-1h3m1-1h1m1-1h5m1-1h4m1-1h2m1-1h3m1-1h4m1-1h11m1-1h13m1 1h8m1 1h8m1 1h4m1 1h3m1 1h4m1 1h2m1 1h1m1 1h2m1 1h3m1 1h1m1 1h1m1 1h2m1 1h2m1 1h1m1 1h3m1 1h2m1 1h1m1 1h3m1 1h2m1 1h1m1 1h3m1 1h2m1 1h2m1 1h1m1 1h2m1 1h2m1 1h3m1 1h1m1 1h2m1 1h2m1 1h1m1 1h3m1 1h1m1 1h3m1 1h2m1 1h1m1 1h2m1 1h3m1 1h3m1 1h2m1 1h2m2 2h5m1 1h3m1 1h3m1 1h2m1 1h2m1 1h2m1 1h4m1 1h2m1 1h7m1 1h1m1 1h6m1 1h5m1 1h5m1 1h3m1 1h1m1-1h1m1 1h6m1 1h3m2 0h2m1 1h10m1 1h1m1 1h11m1 1h1m1-1h2m1 1h3m1 1h1m1-1h4m1 1h23m1 1h11m1-1h1m1 1h15m1 1h1m1-1h3"/>
<path class="y cw" d="M158 526l1 2m1 3l5 10m1 1l1 2m34-10l1-2m1-1l1-2m12-12l1-2m5-5l1-2m7-7l1-2m113-6l1 2m12 11l1 2m7 7l1 2m30 26l1 2m3 3l1 2m3 2l1 2m4 3l1 2m11 11l1 2m3 3l1 2m7 7l1 2m10 10l1 2m3 3l1 2m10 10l1 2m7 7l1 2m4 4l1 2m7 7l1 2m1 1l1 2m5 5l1 2"/>
<path class="y bw" d="M165 541l1 1m1 2l1 1m1 0l5 5m2 0l1 1m2 0l1-1m1 0l1-1m1 0l2-2m1 0l4-4m1 0l6-6m1 0l3-3m1-2l1-1m1-2l12-12m1-2l5-5m1-2l7-7m1-2l3-3m1 0l1-1m1 0l4-4m1 0l4-4m1 0l2-2m1 0l1-1m1 0l1-1m1 0l1-1m1 0l1-1m1 0l2-2m1 0l1-1m1 0l1-1m2 0l1-1m2 0l1-1m1 0l1-1m4 0l1-1m8 0l1-1m11 0l1-1l1 1m4 0l1-1l1 1m1 0l1 1m3 0l1 1m1 0l1 1m3 0l2 2m1 0l2 2m2 0l1 1m1 0l1 1m1 0l1 1m1 0l1 1m2 0l2 2m1 0l5 5m1 0l3 3m1 2l1 1m1 0l10 10m1 2l7 7m1 2l2 2m1 0l2 2m1 0l15 15m1 0l4 4m1 0l3 3m1 2l3 3m1 2l1 1m1 0l1 1m1 2l3 3m2 2l11 11m1 2l3 3m1 2l7 7m1 2l10 10m1 2l3 3m1 2l10 10m1 2l7 7m1 2l4 4m1 2l7 7m1 2l1 1m1 2l5 5m1 2l7 7m1 0l2 2m1 0l4 4m1 0l4 4m1 0l1 1m1 0l1 1m1 0l1 1m6 0l1 1m1 0l1 1m13 0l1-1m2 0l1-1m4 0l1-1m2 0l1-1m4 0l1-1m1 0l1-1m1 0l1-1m1 0l1-1m2 0l1-1m5 0l1-1m1 0l1-1m1 0l1-1m2 0l1-1m2 0l1-1m1 0l1-1m2 0l1-1m2 0l1-1m1 0l2-2m1 0l1-1m2 0l1-1m1 0l1-1m1 0l1-1m2 0l1-1m4 0l1-1m1 0l1-1m2 0l1-1m1 0l1-1m3 0l1-1m1 0l1-1m5 0l1-1m4 0l1-1m2 0l1-1m3 0l1-1m4 0l1-1m11 0l1-1m13 0l1 1m8 0l1 1m8 0l1 1m4 0l1 1m3 0l1 1m4 0l1 1m2 0l1 1m1 0l1 1m2 0l1 1m3 0l1 1m1 0l1 1m1 0l1 1m2 0l1 1m2 0l1 1m1 0l1 1m3 0l1 1m2 0l1 1m1 0l1 1m3 0l1 1m2 0l1 1m1 0l1 1m3 0l1 1m2 0l1 1m2 0l1 1m1 0l1 1m2 0l1 1m2 0l1 1m3 0l1 1m1 0l1 1m2 0l1 1m2 0l1 1m1 0l1 1m3 0l1 1m1 0l1 1m3 0l1 1m2 0l1 1m1 0l1 1m2 0l1 1m3 0l1 1m3 0l1 1m2 0l1 1m2 0l2 2m5 0l1 1m3 0l1 1m3 0l1 1m2 0l1 1m2 0l1 1m2 0l1 1m4 0l1 1m2 0l1 1m7 0l1 1m1 0l1 1m6 0l1 1m5 0l1 1m5 0l1 1m3 0l1 1m1 0l1-1m1 0l1 1m6 0l1 1m3 0l1 1l1-1m2 0l1 1m10 0l1 1m1 0l1 1m11 0l1 1m1 0l1-1m2 0l1 1m3 0l1 1m1 0l1-1m4 0l1 1m23 0l1 1m11 0l1-1m1 0l1 1m15 0l1 1m1 0l1-1"/>
<path class="c aw" d="M114 340l3 9l2 8l1 3l3 12l2 10l1 4l3 15l1 4l1 5l1 4l2 10l1 4l3 15l1 4l2 10l1 4l2 10l1 4l1 5l3 12l1 5l4 16l1 3l1 4l1 3l1 4m1 2l1 3m13 18h1m1 1h3m1-1h2m1-1h1m1-1h1m3-3h1m5-5h1m16-19h1m18-21h1m3-4h1m1-1h1m3-4h1m2-2h1m2-2h1m1-1h1m3-3h1m1-1h1m1-1h1m1-1h1m1-1h2m1-1h2m1-1h1m1-1h1m1-1h2m1-1h5m1-1h4m1 1h9m1-1h4m1 1h8m1 1h1m1 1h1m1 1h1m2 2h1m1 1h2m3 3h1m1 1h1m1 1h2m2 2h1m5 5h1m2 2h1m8 10h1m26 29h1m3 3h1m7 8h1m19 20h1m57 62h1m29 31h1m4 4h1m3 3h1m1 1h1m1 1h1m2 2h1m1 1h2m1 1h2m1 1h20m1-1h2m1-1h2m1-1h2m1-1h3m1-1h1m1-1h1m1-1h4m1-1h1m1-1h3m1-1h2m1-1h3m2-2h2m1-1h3m2-2h1m1-1h1m1-1h1m1-1h1m1-1h1m1-1h1m1-1h2m1-1h2m1-1h1m1-1h3m1-1h3m1-1h1m1-1h1m1-1h2m1-1h5m1-1h2m1-1h2m1-1h2m1-1h7m1-1h10m1-1h20m1 1h7m1 1h7m1 1h4m1 1h2m1 1h2m1 1h1m1 1h3m1 1h1m1 1h3m1 1h3m1 1h2m2 2h1m1 1h3m1 1h1m1 1h2m1 1h2m1 1h2m1 1h2m1 1h2m1 1h2m1 1h2m1 1h3m1 1h2m1 1h2m1 1h1m1 1h1m1 1h3m1 1h1m1 1h1m1 1h3m1 1h3m1 1h1m1 1h1m1 1h3m1 1h2m1 1h2m1 1h2m1 1h1m1 1h4m1 1h3m1 1h1m1 1h3m1 1h2m1 1h5m1 1h1m1 1h3m1 1h3m1 1h3m1 1h3m1 1h5m1 1h2m1 1h6m1 1h4m1 1h7m1 1h5m1 1h6m1 1h5m1 1h5m1 1h1m1-1h3m1 1h2m1 1h13m1 1h12m2 0h2m1 1h18m1 1h1m1-1h2m1 1h5m1-1h1m1 1h15m1 1h1m1-1h2m1 1h3"/>
<path class="c cw" d="M158 527l1 2m1 3l3 6m1 1l2 4m36-10l1-2m1-1l1-2m5-5l1-2m4-3l1-2m8-8l1-2m2-2l1-2m4-3l1-2m4-2l1-2m105 4l1 2m3 3l1 2m7 6l1 2m4 4l1 2m12 12l1 2m10 8l1 2m15 14l1 2m8 7l1 2m10 10l1 2m6 6l1 2m16 16l1 2m18 18l1 2m5 4l1 2m7 7l1 2"/>
<path class="c bw" d="M163 538l1 1m2 4l7 7m1 0l1 1m3 0l1-1m2 0l1-1m1 0l1-1m1 0l3-3m1 0l5-5m1 0l7-7m1-2l1-1m1-2l5-5m2-2l3-3m1-2l8-8m1-2l2-2m1-2l2-2m1 0l1-1m1-2l1-1m1 0l1-1m2-2l2-2m1 0l2-2m1 0l2-2m1 0l1-1m1 0l3-3m1 0l1-1m1 0l1-1m1 0l1-1m1 0l1-1m2 0l1-1m2 0l1-1m1 0l1-1m1 0l1-1m2 0l1-1m5 0l1-1m4 0l1 1m9 0l1-1m4 0l1 1m8 0l1 1m1 0l1 1m1 0l1 1m1 0l2 2m1 0l1 1m2 0l3 3m1 0l1 1m1 0l1 1m2 0l2 2m1 0l5 5m1 0l2 2m1 0l3 3m1 2l3 3m2 2l6 6m1 2l4 4m1 2l12 12m1 2l1 1m1 0l3 3m1 0l4 4m1 2l2 2m1 0l12 12m1 2l6 6m1 0l1 1m1 2l10 10m1 2l6 6m1 2l16 16m1 2l18 18m1 2l1 1m1 0l3 3m1 2l7 7m1 2l17 17m1 0l4 4m1 0l3 3m1 0l1 1m1 0l1 1m1 0l2 2m1 0l1 1m2 0l1 1m2 0l1 1m20 0l1-1m2 0l1-1m2 0l1-1m2 0l1-1m3 0l1-1m1 0l1-1m1 0l1-1m4 0l1-1m1 0l1-1m3 0l1-1m2 0l1-1m3 0l2-2m2 0l1-1m3 0l2-2m1 0l1-1m1 0l1-1m1 0l1-1m1 0l1-1m1 0l1-1m1 0l1-1m2 0l1-1m2 0l1-1m1 0l1-1m3 0l1-1m3 0l1-1m1 0l1-1m1 0l1-1m2 0l1-1m5 0l1-1m2 0l1-1m2 0l1-1m2 0l1-1m7 0l1-1m10 0l1-1m20 0l1 1m7 0l1 1m7 0l1 1m4 0l1 1m2 0l1 1m2 0l1 1m1 0l1 1m3 0l1 1m1 0l1 1m3 0l1 1m3 0l1 1m2 0l2 2m1 0l1 1m3 0l1 1m1 0l1 1m2 0l1 1m2 0l1 1m2 0l1 1m2 0l1 1m2 0l1 1m2 0l1 1m2 0l1 1m3 0l1 1m2 0l1 1m2 0l1 1m1 0l1 1m1 0l1 1m3 0l1 1m1 0l1 1m1 0l1 1m3 0l1 1m3 0l1 1m1 0l1 1m1 0l1 1m3 0l1 1m2 0l1 1m2 0l1 1m2 0l1 1m1 0l1 1m4 0l1 1m3 0l1 1m1 0l1 1m3 0l1 1m2 0l1 1m5 0l1 1m1 0l1 1m3 0l1 1m3 0l1 1m3 0l1 1m3 0l1 1m5 0l1 1m2 0l1 1m6 0l1 1m4 0l1 1m7 0l1 1m5 0l1 1m6 0l1 1m5 0l1 1m5 0l1 1m1 0l1-1m3 0l1 1m2 0l1 1m13 0l1 1m12 0l1 1l1-1m2 0l1 1m18 0l1 1m1 0l1-1m2 0l1 1m5 0l1-1m1 0l1 1m15 0l1 1m1 0l1-1m2 0l1 1"/>
<path class="f aw" d="M114 340l1 4l3 9l1 4l1 3l3 12l2 10l1 4l3 15l2 8l1 5l1 4l5 25l1 4l2 10l1 4l2 10l1 4l1 5l3 12l1 5l1 4l1 5l1 4l1 3l1 4l4 12m1 2l1 3m10 15h1m1 1h1m1 1h5m1-1h1m2-2h1m2-2h1m5-5h1m39-44h1m3-3h1m1-1h1m3-4h1m1-1h1m3-3h1m1-1h1m3-3h3m1-1h2m1-1h1m1-1h1m1-1h1m1-1h3m1-1h22m1 1h9m1 1h2m1 1h1m1 1h1m1 1h1m1 1h1m4 4h1m1 1h1m1 1h1m1 1h1m2 2h1m6 6h1m68 74h1m3 3h1l1 3h1m6 7h1m33 35h1m9 9h1m17 18h1m6 7h1m4 5h1m3 3h1m3 3h1m1 1h1m2 2h1m1 1h1m1 1h1m1 1h1m1 1h2m1 1h4m1 1h2m1 1h2m1-1h7m1-1h6m1-1h3m1-1h4m1-1h1m2-2h3m1-1h1m1-1h2m1-1h2m1-1h2m1-1h3m1-1h2m1-1h1m1-1h2m1-1h1m1-1h1m1-1h1m1-1h1m1-1h1m1-1h2m2-2h1m1-1h1m1-1h2m1-1h2m1-1h1m1-1h3m1-1h2m1-1h1m1-1h4m1-1h2m1-1h2m1-1h4m1-1h1m1-1h4m1-1h10m1-1h14m2 0h9m1 1h10m1 1h2m1 1h5m1 1h2m1 1h3m1 1h1m1 1h4m1 1h1m1 1h3m1 1h2m1 1h2m1 1h1m1 1h1m1 1h2m1 1h2m1 1h1m1 1h1m1 1h3m1 1h2m1 1h1m1 1h2m1 1h5m1 1h1m1 1h1m1 1h1m1 1h2m1 1h1m1 1h3m1 1h1m1 1h3m2 2h3m1 1h2m1 1h3m1 1h3m1 1h1m1 1h2m1 1h2m1 1h1m1 1h2m1 1h5m1 1h1m1 1h3m1 1h1m1 1h3m1 1h4m1 1h3m1 1h3m1 1h2m1 1h2m1 1h5m1 1h1m1 1h8m1 1h6m1 1h3m1 1h7m1 1h6m1 1h5m1 1h8m1 1h7m1 1h15m1 1h13m1 1h5m2 0h10m1 1h2m1-1h3m1 1h4m2 0h14m1 1h3m1-1h3m1 1h1"/>
<path class="f cw" d="M159 529l1 2m1 3l3 6m1 1l2 4m32-9l1-2m4-4l1-2m15-15l1-2m3-3l1-2m3-3l1-2m11-8l1-2m103 13l1 2m5 5l1 2m4 4l1 2m5 5l1 2m1 1l1 2m38 38l1 2m10 9l1 2m5 4l1 2m29 29l1 2m13 11l1 2m21 20l1 2m4 3l1 2"/>
<path class="f bw" d="M164 540l1 1m2 4l4 4m1 0l1 1m1 0l1 1m5 0l1-1m1 0l2-2m1 0l2-2m1 0l5-5m1 0l5-5m1-2l4-4m1-2l15-15m1-2l3-3m1-2l3-3m1-2l4-4m1 0l3-3m1 0l1-1m2-2l2-2m1 0l1-1m1 0l3-3m1 0l1-1m1 0l3-3m3 0l1-1m2 0l1-1m1 0l1-1m1 0l1-1m1 0l1-1m3 0l1-1m22 0l1 1m9 0l1 1m2 0l1 1m1 0l1 1m1 0l1 1m1 0l1 1m1 0l4 4m1 0l1 1m1 0l1 1m1 0l1 1m1 0l2 2m1 0l6 6m1 0l8 8m1 2l5 5m1 2l4 4m1 2l5 5m1 2l1 1m1 2l38 38m1 2l1 1m1 0l3 3m3 3l2 2m1 2l3 3m1 0l1 1m1 2l29 29m1 2l1 1m1 0l9 9m1 0l1 1m1 2l15 15m1 0l5 5m2 2l3 3m2 2l3 3m1 0l3 3m1 0l1 1m1 0l2 2m1 0l1 1m1 0l1 1m1 0l1 1m1 0l1 1m2 0l1 1m4 0l1 1m2 0l1 1m2 0l1-1m7 0l1-1m6 0l1-1m3 0l1-1m4 0l1-1m1 0l2-2m3 0l1-1m1 0l1-1m2 0l1-1m2 0l1-1m2 0l1-1m3 0l1-1m2 0l1-1m1 0l1-1m2 0l1-1m1 0l1-1m1 0l1-1m1 0l1-1m1 0l1-1m1 0l1-1m2 0l2-2m1 0l1-1m1 0l1-1m2 0l1-1m2 0l1-1m1 0l1-1m3 0l1-1m2 0l1-1m1 0l1-1m4 0l1-1m2 0l1-1m2 0l1-1m4 0l1-1m1 0l1-1m4 0l1-1m10 0l1-1m14 0l1-1l1 1m9 0l1 1m10 0l1 1m2 0l1 1m5 0l1 1m2 0l1 1m3 0l1 1m1 0l1 1m4 0l1 1m1 0l1 1m3 0l1 1m2 0l1 1m2 0l1 1m1 0l1 1m1 0l1 1m2 0l1 1m2 0l1 1m1 0l1 1m1 0l1 1m3 0l1 1m2 0l1 1m1 0l1 1m2 0l1 1m5 0l1 1m1 0l1 1m1 0l1 1m1 0l1 1m2 0l1 1m1 0l1 1m3 0l1 1m1 0l1 1m3 0l2 2m3 0l1 1m2 0l1 1m3 0l1 1m3 0l1 1m1 0l1 1m2 0l1 1m2 0l1 1m1 0l1 1m2 0l1 1m5 0l1 1m1 0l1 1m3 0l1 1m1 0l1 1m3 0l1 1m4 0l1 1m3 0l1 1m3 0l1 1m2 0l1 1m2 0l1 1m5 0l1 1m1 0l1 1m8 0l1 1m6 0l1 1m3 0l1 1m7 0l1 1m6 0l1 1m5 0l1 1m8 0l1 1m7 0l1 1m15 0l1 1m13 0l1 1m5 0l1-1l1 1m10 0l1 1m2 0l1-1m3 0l1 1m4 0l1-1l1 1m14 0l1 1m3 0l1-1m3 0l1 1"/>
<path class="l aw" d="M114 340l1 4l3 9l1 4l1 3l2 8l1 5l1 4l2 10l1 4l2 10l1 4l1 5l1 4l2 10l1 4l2 10l1 4l3 15l1 4l2 10l2 8l1 5l2 8l1 5l5 20l4 12m1 2l1 3m10 15h1m1 1h1m1 1h6m1-1h1m2-2h1m2-2h1m9-9h1m39-44h1m2-2h1m2-2h1m4-4h1m1-1h1m1-1h1m1-1h1m1-1h1m1-1h3m1-1h1m1-1h1m1-1h1m1-1h9m1-1h4m1 1h8m1 1h3m1 1h8m1 1h1m2 2h1m2 2h1m3 3h1m2 2h1m2 2h1m3 3h1m4 4h1m7 8h1m66 75h1m8 9h1m25 26h1m7 7h1m5 5h1m4 5h1m6 6h1m15 15h1m5 5h1m4 4h1m1 1h1m1 1h1m1 1h1m2 2h1m1 1h1m1 1h1m1 1h1m1 1h3m1 1h4m1 1h3m1-1h1m1 1h5m1-1h6m1-1h1m1-1h4m2-2h5m1-1h1m1-1h1m1-1h1m1-1h2m1-1h1m1-1h4m1-1h1m1-1h2m1-1h2m1-1h1m1-1h1m1-1h1m1-1h2m2-2h1m1-1h2m1-1h1m1-1h1m2-2h3m1-1h1m1-1h2m1-1h2m1-1h2m1-1h3m1-1h1m1-1h4m1-1h2m1-1h2m1-1h2m1-1h6m1-1h7m1-1h19m1-1h1m1 1h10m1 1h7m1 1h5m1 1h1m1 1h4m1 1h2m1 1h2m1 1h1m1 1h2m1 1h2m1 1h3m2 2h3m1 1h1m1 1h1m1 1h2m1 1h1m1 1h1m1 1h3m1 1h3m1 1h2m1 1h2m1 1h1m1 1h4m1 1h1m1 1h1m1 1h2m1 1h1m1 1h3m1 1h2m1 1h1m1 1h1m1 1h3m1 1h2m1 1h2m1 1h3m1 1h3m1 1h2m1 1h1m1 1h1m1 1h3m1 1h2m1 1h2m1 1h4m1 1h2m1 1h3m1 1h2m1 1h2m1 1h4m1 1h2m1 1h1m1 1h7m1 1h2m1 1h7m1 1h6m1 1h5m1 1h3m1 1h7m1 1h5m1 1h2m1-1h1m1 1h3m1 1h9m1 1h7m2 0h3m1 1h3m1 1h1m1-1h4m1 1h21m2 0h4m1 1h1m1-1h2m1 1h12m2 0h6m1 1h2m1-1h1"/>
<path class="l cw" d="M159 529l1 2m1 3l3 6m1 1l1 2m1 1l1 2m31-9l1-2m1-1l1-2m2-2l1-2m9-9l1-2m6-6l1-2m112-10l1 2m8 7l1 2m2 2l1 2m4 4l1 2m3 3l1 2m1 1l1 2m2 2l1 2m3 3l1 2m7 7l1 2m26 26l1 2m9 8l1 2m8 7l1 2m38 35l1 2"/>
<path class="l bw" d="M164 540l1 1m1 2l1 1m1 2l3 3m1 0l1 1m1 0l1 1m6 0l1-1m1 0l2-2m1 0l2-2m1 0l9-9m2-2l1-1m1-2l2-2m1-2l9-9m1-2l6-6m1-2l16-16m1 0l2-2m1 0l2-2m1 0l4-4m1 0l1-1m1 0l1-1m1 0l1-1m1 0l1-1m1 0l1-1m3 0l1-1m1 0l1-1m1 0l1-1m1 0l1-1m9 0l1-1m4 0l1 1m8 0l1 1m3 0l1 1m8 0l1 1m1 0l2 2m1 0l2 2m1 0l3 3m1 0l2 2m1 0l2 2m1 0l3 3m1 0l4 4m1 0l2 2m1 2l4 4m1 0l3 3m1 2l2 2m1 2l4 4m1 2l3 3m1 2l1 1m1 2l2 2m1 2l3 3m1 2l7 7m1 2l26 26m1 2l6 6m1 0l2 2m1 2l5 5m1 0l2 2m1 2l22 22m1 0l7 7m1 0l5 5m1 0l1 1m1 2l2 2m1 0l6 6m1 0l15 15m1 0l5 5m1 0l4 4m1 0l1 1m1 0l1 1m1 0l1 1m1 0l2 2m1 0l1 1m1 0l1 1m1 0l1 1m1 0l1 1m3 0l1 1m4 0l1 1m3 0l1-1m1 0l1 1m5 0l1-1m6 0l1-1m1 0l1-1m4 0l2-2m5 0l1-1m1 0l1-1m1 0l1-1m1 0l1-1m2 0l1-1m1 0l1-1m4 0l1-1m1 0l1-1m2 0l1-1m2 0l1-1m1 0l1-1m1 0l1-1m1 0l1-1m2 0l2-2m1 0l1-1m2 0l1-1m1 0l1-1m1 0l2-2m3 0l1-1m1 0l1-1m2 0l1-1m2 0l1-1m2 0l1-1m3 0l1-1m1 0l1-1m4 0l1-1m2 0l1-1m2 0l1-1m2 0l1-1m6 0l1-1m7 0l1-1m19 0l1-1m1 0l1 1m10 0l1 1m7 0l1 1m5 0l1 1m1 0l1 1m4 0l1 1m2 0l1 1m2 0l1 1m1 0l1 1m2 0l1 1m2 0l1 1m3 0l2 2m3 0l1 1m1 0l1 1m1 0l1 1m2 0l1 1m1 0l1 1m1 0l1 1m3 0l1 1m3 0l1 1m2 0l1 1m2 0l1 1m1 0l1 1m4 0l1 1m1 0l1 1m1 0l1 1m2 0l1 1m1 0l1 1m3 0l1 1m2 0l1 1m1 0l1 1m1 0l1 1m3 0l1 1m2 0l1 1m2 0l1 1m3 0l1 1m3 0l1 1m2 0l1 1m1 0l1 1m1 0l1 1m3 0l1 1m2 0l1 1m2 0l1 1m4 0l1 1m2 0l1 1m3 0l1 1m2 0l1 1m2 0l1 1m4 0l1 1m2 0l1 1m1 0l1 1m7 0l1 1m2 0l1 1m7 0l1 1m6 0l1 1m5 0l1 1m3 0l1 1m7 0l1 1m5 0l1 1m2 0l1-1m1 0l1 1m3 0l1 1m9 0l1 1m7 0l1 1l1-1m3 0l1 1m3 0l1 1m1 0l1-1m4 0l1 1m21 0l1 1l1-1m4 0l1 1m1 0l1-1m2 0l1 1m12 0l1 1l1-1m6 0l1 1m2 0l1-1m1 0l1 1"/>
<path class="s aw" d="M114 341l1 4l4 12l4 16l1 5l1 4l1 5l1 4l2 10l2 8l1 5l1 4l5 25l1 4l3 15l1 4l1 5l1 4l1 5l3 12l1 5l1 4l1 5l1 4l1 3l1 4l2 6l1 4m1 2l1 3m1 2l1 3m8 12h1m2 2h1m1 1h4m1-1h1m1-1h1m2-2h1m4-4h1m43-48h1m3-3h1m2-2h1m4-4h1m2-2h1m1-1h1m1-1h2m1-1h2m1-1h1m1-1h2m1-1h2m1-1h1m1-1h4m1-1h6m1 1h7m1 1h4m1 1h1m1 1h6m1 1h1m1 1h2m3 3h1m1 1h1m1 1h1m7 7h1m3 3h1m7 8h1m67 80h1m5 5h1m19 20h1m5 6h1m6 6h1m4 4h1m5 5h1m4 4h1m7 7h1m1 1h1m5 5h1m6 6h1m6 6h1m1 1h1m2 2h1m2 2h1m1 1h1m1 1h2m1 1h2m3 3h2m1 1h2m1 1h3m1 1h9m1-1h9m1-1h1m1-1h4m1-1h1m1-1h2m1-1h2m1-1h1m1-1h1m1-1h1m1-1h4m2-2h4m1-1h2m1-1h1m1-1h1m1-1h1m1-1h2m1-1h1m1-1h2m2-2h1m2-2h2m1-1h2m1-1h2m1-1h1m1-1h1m1-1h2m1-1h2m1-1h2m1-1h1m1-1h3m1-1h2m1-1h2m1-1h3m1-1h2m1-1h4m1-1h5m1-1h9m1-1h10m1 1h4m1-1h3m1 1h8m1 1h6m1 1h3m1 1h4m1 1h2m1 1h4m1 1h1m1 1h1m1 1h2m1 1h2m1 1h2m1 1h2m1 1h2m1 1h1m1 1h1m1 1h2m1 1h2m1 1h2m1 1h2m1 1h2m1 1h4m1 1h1m2 2h4m1 1h1m1 1h2m1 1h1m1 1h2m1 1h3m1 1h1m1 1h2m1 1h2m1 1h1m1 1h2m1 1h2m1 1h1m1 1h1m1 1h4m1 1h3m1 1h2m1 1h3m1 1h2m1 1h3m1 1h2m1 1h3m1 1h3m1 1h2m1 1h1m1 1h3m1 1h2m1 1h4m1 1h5m1 1h1m1 1h9m1 1h6m1 1h2m1 1h7m1 1h6m1 1h7m1 1h5m1 1h5m1 1h1m1-1h2m1 1h9m1 1h8m2 0h4m1 1h7m2 0h18m1 1h20m1 1h7"/>
<path class="s cw" d="M158 527l1 2m1 3l1 2m1 3l2 4m2 2l1 2m2 2l1 2m32-16l1-2m1-1l1-2m4-4l1-2m11-11l1-2m7-7l1-2m101 1l1 2m6 5l1 2m4 4l2 4m3 3l1 2m3 3l1 2m1 1l1 2m3 3l1 2m1 1l1 2m1 1l1 2m4 4l1 2m2 2l1 2m21 21l1 2m7 7l1 2m8 6l1 2m21 20l1 2"/>
<path class="s bw" d="M164 541l2 2m1 2l2 2m2 2l2 2m1 0l1 1m4 0l1-1m1 0l1-1m1 0l2-2m1 0l4-4m1 0l11-11m1-2l1-1m1-2l4-4m1-2l11-11m1-2l7-7m1-2l4-4m1 0l3-3m1 0l2-2m1 0l4-4m1 0l2-2m1 0l1-1m1 0l1-1m2 0l1-1m2 0l1-1m1 0l1-1m2 0l1-1m2 0l1-1m1 0l1-1m4 0l1-1m6 0l1 1m7 0l1 1m4 0l1 1m1 0l1 1m6 0l1 1m1 0l1 1m2 0l3 3m1 0l1 1m1 0l1 1m1 0l7 7m1 0l3 3m1 0l4 4m1 2l2 2m1 0l3 3m1 2l4 4m2 4l3 3m1 2l3 3m1 2l1 1m1 2l3 3m1 2l1 1m1 2l1 1m1 2l4 4m1 2l2 2m1 2l21 21m1 2l7 7m1 2l1 1m1 0l5 5m2 2l18 18m1 0l2 2m1 2l2 2m1 0l6 6m1 0l4 4m1 0l5 5m1 0l4 4m1 0l7 7m1 0l1 1m1 0l5 5m1 0l6 6m1 0l6 6m1 0l1 1m1 0l2 2m1 0l2 2m1 0l1 1m1 0l1 1m2 0l1 1m2 0l3 3m2 0l1 1m2 0l1 1m3 0l1 1m9 0l1-1m9 0l1-1m1 0l1-1m4 0l1-1m1 0l1-1m2 0l1-1m2 0l1-1m1 0l1-1m1 0l1-1m1 0l1-1m4 0l2-2m4 0l1-1m2 0l1-1m1 0l1-1m1 0l1-1m1 0l1-1m2 0l1-1m1 0l1-1m2 0l2-2m1 0l2-2m2 0l1-1m2 0l1-1m2 0l1-1m1 0l1-1m1 0l1-1m2 0l1-1m2 0l1-1m2 0l1-1m1 0l1-1m3 0l1-1m2 0l1-1m2 0l1-1m3 0l1-1m2 0l1-1m4 0l1-1m5 0l1-1m9 0l1-1m10 0l1 1m4 0l1-1m3 0l1 1m8 0l1 1m6 0l1 1m3 0l1 1m4 0l1 1m2 0l1 1m4 0l1 1m1 0l1 1m1 0l1 1m2 0l1 1m2 0l1 1m2 0l1 1m2 0l1 1m2 0l1 1m1 0l1 1m1 0l1 1m2 0l1 1m2 0l1 1m2 0l1 1m2 0l1 1m2 0l1 1m4 0l1 1m1 0l2 2m4 0l1 1m1 0l1 1m2 0l1 1m1 0l1 1m2 0l1 1m3 0l1 1m1 0l1 1m2 0l1 1m2 0l1 1m1 0l1 1m2 0l1 1m2 0l1 1m1 0l1 1m1 0l1 1m4 0l1 1m3 0l1 1m2 0l1 1m3 0l1 1m2 0l1 1m3 0l1 1m2 0l1 1m3 0l1 1m3 0l1 1m2 0l1 1m1 0l1 1m3 0l1 1m2 0l1 1m4 0l1 1m5 0l1 1m1 0l1 1m9 0l1 1m6 0l1 1m2 0l1 1m7 0l1 1m6 0l1 1m7 0l1 1m5 0l1 1m5 0l1 1m1 0l1-1m2 0l1 1m9 0l1 1m8 0l1 1l1-1m4 0l1 1m7 0l1-1l1 1m18 0l1 1m20 0l1 1m7 0l1-1"/>
<path class="t aw" d="M114 342l3 9l1 4l2 6l3 12l1 5l1 4l2 10l2 8l2 10l1 4l4 20l1 4l2 10l1 4l2 10l1 4l1 5l1 4l1 5l2 8l1 5l1 4l1 5l2 8l1 3l1 4l2 6l1 4m1 2l1 3m11 18h1m1 1h1m1 1h5m1-1h1m2-2h1m1-1h1m24-27h1m22-25h1m5-5h1m1-1h1m3-3h1m2-2h2m1-1h1m1-1h1m1-1h1m1-1h1m1-1h2m1-1h2m1-1h4m1-1h10m1 1h4m1 1h3m1 1h3m1 1h3m1 1h2m1 1h2m1 1h1m2 2h1m5 5h1m7 7h1m55 70h1m24 27h1m17 17h1m9 9h1m7 7h1m2 2h1m6 6h1m2 2h1m3 3h1m1 1h1m2 2h1m3 3h1m2 2h1m2 2h1m2 2h1m6 6h1m2 2h1m3 3h1m1 1h1m1 1h1m1 1h1m1 1h1m1 1h2m1 1h2m1 1h1m1 1h2m1 1h3m1 1h5m1 1h5m1-1h8m1-1h3m1-1h3m1-1h2m1-1h2m2-2h1m1-1h2m1-1h2m1-1h1m1-1h2m1-1h2m1-1h3m1-1h1m1-1h1m1-1h3m1-1h2m2-2h1m1-1h1m1-1h1m2-2h2m1-1h1m1-1h1m1-1h1m1-1h2m1-1h1m1-1h2m1-1h2m1-1h2m1-1h2m1-1h1m1-1h1m1-1h4m1-1h3m1-1h3m1-1h2m1-1h4m1-1h5m1-1h27m1 1h10m1 1h6m1 1h2m1 1h3m1 1h3m1 1h1m1 1h2m1 1h3m1 1h2m1 1h3m1 1h1m1 1h1m1 1h1m1 1h2m1 1h2m1 1h3m1 1h1m1 1h2m1 1h2m1 1h1m1 1h2m1 1h1m1 1h3m1 1h3m1 1h4m2 2h1m1 1h1m1 1h1m1 1h2m1 1h1m1 1h3m1 1h1m1 1h2m1 1h4m1 1h1m1 1h3m2 2h2m1 1h2m1 1h4m1 1h2m1 1h2m1 1h3m1 1h2m1 1h3m1 1h2m1 1h3m1 1h3m1 1h3m1 1h1m1 1h5m1 1h6m1 1h5m1 1h3m1 1h2m2 0h4m1 1h6m1 1h4m1 1h7m1 1h6m1 1h11m1 1h9m1 1h5m1 1h2m1-1h3m1 1h3m1-1h3m1 1h17m1 1h1m1-1h1m1 1h3m1-1h1m1 1h6m1 1h2m1-1h4m1 1h6"/>
<path class="t cw" d="M158 527l1 2m1 3l6 12m1 1l1 2m33-13l1-2m2-2l1-2m4-4l1-2m5-4l1-2m5-5l1-2m4-4l1-2m107 6l1 2m6 6l1 2m1 1l1 2m1 1l1 2m2 2l1 2m1 1l1 2m1 1l1 2m2 2l1 2m1 1l1 2m1 1l1 2m1 1l1 2m2 2l1 2m2 2l2 4m7 7l1 2m4 3l1 2m8 8l1 2m9 9l1 2"/>
<path class="t bw" d="M166 544l1 1m1 2l3 3m1 0l1 1m1 0l1 1m5 0l1-1m1 0l2-2m1 0l1-1m1 0l14-14m1-2l2-2m1-2l4-4m1-2l1-1m1 0l3-3m1-2l5-5m1-2l4-4m1-2l7-7m1 0l5-5m1 0l1-1m1 0l3-3m1 0l2-2m2 0l1-1m1 0l1-1m1 0l1-1m1 0l1-1m1 0l1-1m2 0l1-1m2 0l1-1m4 0l1-1m10 0l1 1m4 0l1 1m3 0l1 1m3 0l1 1m3 0l1 1m2 0l1 1m2 0l1 1m1 0l2 2m1 0l5 5m1 0l7 7m1 0l11 11m1 2l6 6m1 2l1 1m1 2l1 1m1 2l2 2m1 2l1 1m1 2l1 1m1 2l2 2m1 2l1 1m1 2l1 1m1 2l1 1m1 2l2 2m1 2l2 2m2 4l7 7m1 2l1 1m1 0l2 2m1 2l8 8m1 2l9 9m1 2l2 2m1 0l17 17m1 0l9 9m1 0l7 7m1 0l2 2m1 0l6 6m1 0l2 2m1 0l3 3m1 0l1 1m1 0l2 2m1 0l3 3m1 0l2 2m1 0l2 2m1 0l2 2m1 0l6 6m1 0l2 2m1 0l3 3m1 0l1 1m1 0l1 1m1 0l1 1m1 0l1 1m1 0l1 1m2 0l1 1m2 0l1 1m1 0l1 1m2 0l1 1m3 0l1 1m5 0l1 1m5 0l1-1m8 0l1-1m3 0l1-1m3 0l1-1m2 0l1-1m2 0l2-2m1 0l1-1m2 0l1-1m2 0l1-1m1 0l1-1m2 0l1-1m2 0l1-1m3 0l1-1m1 0l1-1m1 0l1-1m3 0l1-1m2 0l2-2m1 0l1-1m1 0l1-1m1 0l2-2m2 0l1-1m1 0l1-1m1 0l1-1m1 0l1-1m2 0l1-1m1 0l1-1m2 0l1-1m2 0l1-1m2 0l1-1m2 0l1-1m1 0l1-1m1 0l1-1m4 0l1-1m3 0l1-1m3 0l1-1m2 0l1-1m4 0l1-1m5 0l1-1m27 0l1 1m10 0l1 1m6 0l1 1m2 0l1 1m3 0l1 1m3 0l1 1m1 0l1 1m2 0l1 1m3 0l1 1m2 0l1 1m3 0l1 1m1 0l1 1m1 0l1 1m1 0l1 1m2 0l1 1m2 0l1 1m3 0l1 1m1 0l1 1m2 0l1 1m2 0l1 1m1 0l1 1m2 0l1 1m1 0l1 1m3 0l1 1m3 0l1 1m4 0l2 2m1 0l1 1m1 0l1 1m1 0l1 1m2 0l1 1m1 0l1 1m3 0l1 1m1 0l1 1m2 0l1 1m4 0l1 1m1 0l1 1m3 0l2 2m2 0l1 1m2 0l1 1m4 0l1 1m2 0l1 1m2 0l1 1m3 0l1 1m2 0l1 1m3 0l1 1m2 0l1 1m3 0l1 1m3 0l1 1m3 0l1 1m1 0l1 1m5 0l1 1m6 0l1 1m5 0l1 1m3 0l1 1m2 0l1-1l1 1m4 0l1 1m6 0l1 1m4 0l1 1m7 0l1 1m6 0l1 1m11 0l1 1m9 0l1 1m5 0l1 1m2 0l1-1m3 0l1 1m3 0l1-1m3 0l1 1m17 0l1 1m1 0l1-1m1 0l1 1m3 0l1-1m1 0l1 1m6 0l1 1m2 0l1-1m4 0l1 1"/>
<path class="n aw" d="M114 341l1 4l3 9l1 4l1 3l3 12l1 5l1 4l1 5l1 4l1 5l1 4l3 15l1 4l1 5l1 4l4 20l1 4l2 10l1 4l1 5l1 4l1 5l3 12l1 5l1 4l1 5l2 8l1 3l1 4l3 9m1 2l1 3m11 16h1m1 1h1m1 1h1m1-1h3m1-1h1m2-2h1m5-5h1m42-48h1m1-1h1m4-4h1m4-4h1m1-1h1m1-1h1m1-1h2m1-1h1m1-1h1m1-1h3m1-1h1m1-1h3m1-1h4m1-1h2m1 1h4m1 1h4m1 1h1m1 1h1m1 1h3m1 1h1m1 1h2m1 1h2m1 1h1m1 1h1m2 2h1m6 6h1m5 6h1m80 102h1m5 5h1m4 5h1m13 13h1m1 1h1m5 5h1m4 4h1m1 1h1m3 3h1m4 4h1m1 1h1m2 2h1m1 1h1m2 2h1m1 1h1m1 1h1m3 3h1m2 2h1m1 1h1m3 3h1m1 1h1m1 1h1m1 1h1m4 4h1m1 1h2m1 1h2m1 1h2m1 1h2m1 1h4m1 1h2m1 1h5m1 1h2m1-1h11m1-1h3m1-1h2m1-1h4m1-1h1m2-2h2m1-1h2m1-1h1m1-1h2m1-1h2m1-1h1m1-1h1m1-1h2m1-1h1m1-1h3m1-1h1m1-1h3m1-1h1m3-3h1m1-1h1m1-1h1m1-1h1m1-1h1m1-1h1m1-1h2m1-1h2m1-1h2m1-1h1m1-1h2m1-1h3m1-1h1m1-1h2m1-1h2m1-1h4m1-1h1m1-1h3m1-1h4m1-1h4m1-1h10m1-1h6m1 1h18m1 1h6m1 1h3m1 1h6m1 1h1m1 1h4m1 1h1m1 1h1m1 1h2m1 1h2m1 1h1m1 1h2m1 1h2m1 1h2m1 1h2m1 1h1m1 1h2m1 1h1m1 1h3m1 1h1m1 1h1m1 1h3m1 1h2m1 1h2m1 1h1m1 1h2m1 1h2m1 1h1m1 1h3m1 1h1m1 1h3m1 1h1m1 1h1m1 1h1m1 1h4m1 1h1m1 1h3m1 1h2m1 1h2m1 1h1m1 1h4m1 1h1m1 1h3m1 1h3m1 1h2m1 1h1m1 1h4m1 1h1m1 1h3m1 1h4m1 1h1m1 1h2m1 1h6m1 1h2m1 1h4m1 1h1m1-1h1m1 1h5m1 1h8m1 1h3m1 1h2m1 1h2m2 0h4m1 1h7m1 1h9m1 1h7m2 0h3m1 1h13m1 1h21m1 1h3m1-1h2m1 1h6m1-1h2m1 1h6m1 1h4m1-1h3m1 1h1"/>
<path class="n cw" d="M159 530l1 2m1 3l2 4m1 1l2 4m1 1l1 2m30-9l1-2m3-3l1-2m1-1l1-2m9-9l1-2m8-8l1-2m2-2l1-2m89-8l1 2m11 10l1 2m6 6l1 2m2 2l1 2m2 2l1 2m1 1l1 2m1 1l1 2m1 1l1 2m1 1l2 4m1 1l1 2m2 2l1 2m1 1l1 2m1 1l3 6m1 1l1 2m3 3l1 2m2 2l1 2m4 4l1 2m5 5l1 2m11 11l1 2m6 6l1 2m8 6l1 2"/>
<path class="n bw" d="M163 539l1 1m2 4l1 1m1 2l4 4m1 0l1 1m1 0l1 1m1 0l1-1m3 0l1-1m1 0l2-2m1 0l5-5m1 0l6-6m1-2l3-3m1-2l1-1m1-2l9-9m1-2l8-8m1-2l2-2m1-2l7-7m1 0l1-1m1 0l4-4m1 0l4-4m1 0l1-1m1 0l1-1m1 0l1-1m2 0l1-1m1 0l1-1m1 0l1-1m3 0l1-1m1 0l1-1m3 0l1-1m4 0l1-1m2 0l1 1m4 0l1 1m4 0l1 1m1 0l1 1m1 0l1 1m3 0l1 1m1 0l1 1m2 0l1 1m2 0l1 1m1 0l1 1m1 0l2 2m1 0l6 6m2 2l4 4m1 0l6 6m1 2l6 6m1 2l2 2m1 2l2 2m1 2l1 1m1 2l1 1m1 2l1 1m1 2l1 1m2 4l1 1m1 2l2 2m1 2l1 1m1 2l1 1m3 6l1 1m1 2l3 3m1 2l2 2m1 2l4 4m1 2l5 5m1 2l11 11m1 2l6 6m1 2l1 1m1 0l5 5m2 2l3 3m1 0l13 13m1 0l1 1m1 0l5 5m1 0l4 4m1 0l1 1m1 0l3 3m1 0l4 4m1 0l1 1m1 0l2 2m1 0l1 1m1 0l2 2m1 0l1 1m1 0l1 1m1 0l3 3m1 0l2 2m1 0l1 1m1 0l3 3m1 0l1 1m1 0l1 1m1 0l1 1m1 0l4 4m1 0l1 1m2 0l1 1m2 0l1 1m2 0l1 1m2 0l1 1m4 0l1 1m2 0l1 1m5 0l1 1m2 0l1-1m11 0l1-1m3 0l1-1m2 0l1-1m4 0l1-1m1 0l2-2m2 0l1-1m2 0l1-1m1 0l1-1m2 0l1-1m2 0l1-1m1 0l1-1m1 0l1-1m2 0l1-1m1 0l1-1m3 0l1-1m1 0l1-1m3 0l1-1m1 0l3-3m1 0l1-1m1 0l1-1m1 0l1-1m1 0l1-1m1 0l1-1m1 0l1-1m2 0l1-1m2 0l1-1m2 0l1-1m1 0l1-1m2 0l1-1m3 0l1-1m1 0l1-1m2 0l1-1m2 0l1-1m4 0l1-1m1 0l1-1m3 0l1-1m4 0l1-1m4 0l1-1m10 0l1-1m6 0l1 1m18 0l1 1m6 0l1 1m3 0l1 1m6 0l1 1m1 0l1 1m4 0l1 1m1 0l1 1m1 0l1 1m2 0l1 1m2 0l1 1m1 0l1 1m2 0l1 1m2 0l1 1m2 0l1 1m2 0l1 1m1 0l1 1m2 0l1 1m1 0l1 1m3 0l1 1m1 0l1 1m1 0l1 1m3 0l1 1m2 0l1 1m2 0l1 1m1 0l1 1m2 0l1 1m2 0l1 1m1 0l1 1m3 0l1 1m1 0l1 1m3 0l1 1m1 0l1 1m1 0l1 1m1 0l1 1m4 0l1 1m1 0l1 1m3 0l1 1m2 0l1 1m2 0l1 1m1 0l1 1m4 0l1 1m1 0l1 1m3 0l1 1m3 0l1 1m2 0l1 1m1 0l1 1m4 0l1 1m1 0l1 1m3 0l1 1m4 0l1 1m1 0l1 1m2 0l1 1m6 0l1 1m2 0l1 1m4 0l1 1m1 0l1-1m1 0l1 1m5 0l1 1m8 0l1 1m3 0l1 1m2 0l1 1m2 0l1-1l1 1m4 0l1 1m7 0l1 1m9 0l1 1m7 0l1 1l1-1m3 0l1 1m13 0l1 1m21 0l1 1m3 0l1-1m2 0l1 1m6 0l1-1m2 0l1 1m6 0l1 1m4 0l1-1m3 0l1 1"/>
<path class="o aw" d="M114 343l5 15l1 4l1 3l1 4l1 5l1 4l1 5l1 4l1 5l1 4l1 5l1 4l1 5l1 4l6 30l2 8l3 15l1 4l1 5l3 12l1 5l1 4l1 5l2 8l1 3l1 4l1 3l1 4l2 6m1 2l1 3m11 16h1m2 2h3m1-1h2m1-1h1m2-2h1m9-9h1m15-19h1m18-21h1m8-8h1m2-2h1m3-3h2m2-2h1m1-1h1m1-1h1m1-1h4m1-1h2m1-1h2m1-1h5m1-1h5m1 1h2m1 1h2m1 1h1m1 1h1m1 1h2m1 1h3m2 2h1m1 1h2m1 1h1m1 1h1m3 3h1m94 121h1m9 9h1m7 7h1m3 3h1m5 5h1m4 4h1m1 1h1m2 2h1m2 2h1m3 3h1m1 1h1m1 1h1m1 1h1m1 1h1m1 1h1m2 2h1m1 1h1m1 1h1m2 2h1m1 1h1m1 1h1m1 1h1m1 1h1m1 1h1m1 1h2m1 1h1m2 2h1m1 1h1m1 1h1m1 1h3m2 2h4m1 1h4m1 1h13m2 0h6m1-1h4m1-1h4m1-1h1m1-1h2m1-1h2m1-1h1m1-1h1m1-1h2m2-2h1m1-1h1m1-1h1m1-1h3m1-1h2m1-1h2m1-1h2m1-1h1m2-2h3m2-2h1m1-1h1m1-1h1m1-1h1m1-1h1m1-1h1m1-1h1m1-1h2m1-1h2m1-1h2m1-1h1m1-1h1m1-1h2m1-1h2m1-1h3m2-2h4m1-1h2m1-1h3m1-1h4m1-1h5m1-1h8m1-1h2m1 1h1m1-1h12m1 1h1m1-1h2m1 1h10m1 1h2m1 1h5m1 1h4m1 1h1m1 1h1m1 1h2m1 1h4m2 2h1m1 1h2m1 1h1m1 1h3m1 1h2m2 2h3m1 1h2m1 1h1m1 1h3m1 1h1m1 1h1m1 1h4m1 1h2m1 1h1m1 1h1m1 1h2m1 1h1m1 1h2m1 1h3m1 1h1m1 1h2m1 1h2m2 2h3m1 1h1m1 1h3m1 1h2m1 1h1m1 1h1m1 1h3m1 1h4m1 1h1m1 1h1m1 1h5m1 1h1m1 1h3m1 1h3m1 1h3m1 1h2m1 1h2m1 1h2m1 1h6m1 1h1m1 1h4m1 1h8m1 1h2m1 1h8m1 1h5m1 1h8m1 1h4m1 1h2m2 0h2m1 1h1m1-1h1m1 1h3m1 1h8m1 1h1m1-1h2m1 1h6m2 0h3m1 1h2m1-1h1m1 1h9m1 1h1m1-1h5m1 1h4m1-1h2m1 1h4m2 0h21"/>
<path class="o cw" d="M159 530l1 2m1 3l3 6m1 1l2 4m30-7l1-2m4-4l1-2m2-2l1-2m2-2l1-2m6-5l1-2m6-6l1-2m2-2l1-2m98 3l1 2m6 6l1 2m3 3l1 2m1 1l1 2m1 1l1 2m1 1l1 2m1 1l1 2m1 1l2 4m1 1l1 2m2 2l2 4m1 1l3 6m1 1l1 2m1 1l1 2m1 1l3 6m2 2l1 2m2 2l1 2m3 3l1 2m6 6l1 2m4 4l1 2m6 6l1 2m6 6l1 2"/>
<path class="o bw" d="M164 541l1 1m2 4l5 5m1 0l2 2m3 0l1-1m2 0l1-1m1 0l2-2m1 0l9-9m1 0l1-1m1-2l4-4m1-2l2-2m1-2l2-2m1-2l2-2m1 0l3-3m1-2l6-6m1-2l2-2m1-2l4-4m1 0l8-8m1 0l2-2m1 0l3-3m2 0l2-2m1 0l1-1m1 0l1-1m1 0l1-1m4 0l1-1m2 0l1-1m2 0l1-1m5 0l1-1m5 0l1 1m2 0l1 1m2 0l1 1m1 0l1 1m1 0l1 1m2 0l1 1m3 0l2 2m1 0l1 1m2 0l1 1m1 0l1 1m1 0l3 3m1 0l15 15m1 2l6 6m1 2l3 3m1 2l1 1m1 2l1 1m1 2l1 1m1 2l1 1m1 2l1 1m2 4l1 1m1 2l2 2m2 4l1 1m3 6l1 1m1 2l1 1m1 2l1 1m3 6l2 2m1 2l2 2m1 2l3 3m1 2l6 6m1 2l4 4m1 2l6 6m1 2l6 6m1 2l2 2m1 0l9 9m1 0l7 7m1 0l3 3m1 0l5 5m1 0l4 4m1 0l1 1m1 0l2 2m1 0l2 2m1 0l3 3m1 0l1 1m1 0l1 1m1 0l1 1m1 0l1 1m1 0l1 1m1 0l2 2m1 0l1 1m1 0l1 1m1 0l2 2m1 0l1 1m1 0l1 1m1 0l1 1m1 0l1 1m1 0l1 1m1 0l1 1m2 0l1 1m1 0l2 2m1 0l1 1m1 0l1 1m1 0l1 1m3 0l2 2m4 0l1 1m4 0l1 1m13 0l1 1l1-1m6 0l1-1m4 0l1-1m4 0l1-1m1 0l1-1m2 0l1-1m2 0l1-1m1 0l1-1m1 0l1-1m2 0l2-2m1 0l1-1m1 0l1-1m1 0l1-1m3 0l1-1m2 0l1-1m2 0l1-1m2 0l1-1m1 0l2-2m3 0l2-2m1 0l1-1m1 0l1-1m1 0l1-1m1 0l1-1m1 0l1-1m1 0l1-1m1 0l1-1m2 0l1-1m2 0l1-1m2 0l1-1m1 0l1-1m1 0l1-1m2 0l1-1m2 0l1-1m3 0l2-2m4 0l1-1m2 0l1-1m3 0l1-1m4 0l1-1m5 0l1-1m8 0l1-1m2 0l1 1m1 0l1-1m12 0l1 1m1 0l1-1m2 0l1 1m10 0l1 1m2 0l1 1m5 0l1 1m4 0l1 1m1 0l1 1m1 0l1 1m2 0l1 1m4 0l2 2m1 0l1 1m2 0l1 1m1 0l1 1m3 0l1 1m2 0l2 2m3 0l1 1m2 0l1 1m1 0l1 1m3 0l1 1m1 0l1 1m1 0l1 1m4 0l1 1m2 0l1 1m1 0l1 1m1 0l1 1m2 0l1 1m1 0l1 1m2 0l1 1m3 0l1 1m1 0l1 1m2 0l1 1m2 0l2 2m3 0l1 1m1 0l1 1m3 0l1 1m2 0l1 1m1 0l1 1m1 0l1 1m3 0l1 1m4 0l1 1m1 0l1 1m1 0l1 1m5 0l1 1m1 0l1 1m3 0l1 1m3 0l1 1m3 0l1 1m2 0l1 1m2 0l1 1m2 0l1 1m6 0l1 1m1 0l1 1m4 0l1 1m8 0l1 1m2 0l1 1m8 0l1 1m5 0l1 1m8 0l1 1m4 0l1 1m2 0l1-1l1 1m2 0l1 1m1 0l1-1m1 0l1 1m3 0l1 1m8 0l1 1m1 0l1-1m2 0l1 1m6 0l1 1l1-1m3 0l1 1m2 0l1-1m1 0l1 1m9 0l1 1m1 0l1-1m5 0l1 1m4 0l1-1m2 0l1 1m4 0l1-1l1 1"/>
<path class="g aw" d="M114 342l1 4l3 9l1 4l1 3l1 4l1 3l1 4l2 10l1 4l2 10l1 4l1 5l2 8l3 15l1 4l5 25l1 4l1 5l1 4l1 5l1 4l1 5l2 8l1 5l5 20l4 12m2 4l1 3m8 13h1m2 2h1m1 1h5m1-1h1m1-1h1m3-3h1m47-53h1m2-2h1m4-4h1m2-2h1m1-1h1m1-1h1m1-1h1m1-1h3m1-1h5m1-1h1m1-1h4m1-1h4m1 1h4m1 1h2m1 1h2m1 1h1m1 1h2m1 1h1m1 1h1m1 1h1m2 2h1m1 1h1m2 2h1m5 5h1m95 128h1m1 1h1l1 3h1m2 2h1m3 3h1m8 8h1m2 2h1m2 2h1m2 2h1m3 3h2m1 1h1m2 2h1m1 1h1m2 2h1m1 1h1m1 1h2m1 1h2m1 1h1m1 1h1m1 1h1m1 1h2m1 1h1m1 1h2m1 1h1m1 1h1m1 1h2m1 1h1m1 1h2m2 2h1m1 1h1m1 1h2m1 1h6m1 1h8m1 1h6m1-1h10m1-1h2m1-1h5m1-1h2m1-1h1m1-1h2m1-1h1m1-1h1m2-2h2m1-1h2m1-1h1m2-2h1m1-1h2m1-1h4m1-1h2m2-2h4m3-3h2m1-1h1m1-1h1m1-1h1m2-2h1m1-1h1m1-1h1m1-1h2m1-1h1m2-2h5m1-1h1m1-1h2m1-1h1m1-1h4m1-1h2m1-1h1m1-1h1m1-1h1m1-1h4m1-1h1m1-1h7m1-1h35m1 1h3m1 1h6m1 1h4m1 1h3m1 1h1m1 1h1m1 1h2m1 1h4m1 1h1m1 1h2m1 1h1m1 1h1m1 1h2m1 1h2m1 1h1m1 1h3m1 1h1m1 1h3m1 1h1m1 1h3m1 1h1m1 1h3m1 1h1m1 1h1m1 1h3m1 1h2m1 1h1m1 1h1m1 1h1m1 1h1m1 1h2m1 1h3m1 1h1m1 1h3m2 2h6m3 3h1m1 1h5m1 1h1m1 1h3m1 1h4m1 1h1m1 1h2m1 1h2m1 1h2m1 1h3m1 1h1m2 0h1m1 1h1m1 1h5m1 1h1m1 1h5m1 1h4m1 1h6m1 1h4m1 1h7m1 1h4m1 1h4m1 1h3m1 1h14m1 1h7m1 1h12m1 1h6m1 1h14m2 0h5m1 1h4m2 0h7m2 0h23"/>
<path class="g cw" d="M159 530l2 4m1 3l3 6m1 1l1 2m2 2l1 2m27-11l1-2m4-4l1-2m2-2l1-2m8-8l1-2m8-8l1-2m1-1l1-2m92 0l1 2m3 3l1 2m5 5l1 2m1 1l1 2m2 2l1 2m1 1l1 2m1 1l1 2m1 1l1 2m2 2l2 4m1 1l3 6m1 1l2 4m1 1l1 2m1 1l3 6m1 1l3 6m1 1l1 2m1 1l2 4m1 1l1 2m2 2l1 2m1 1l1 2m3 3l1 2m2 2l1 2m5 5l1 2m5 5l1 2m7 7l1 2"/>
<path class="g bw" d="M165 543l1 1m1 2l2 2m2 2l2 2m1 0l1 1m5 0l1-1m1 0l1-1m1 0l3-3m1 0l9-9m1-2l4-4m1-2l2-2m1-2l8-8m1-2l8-8m1-2l1-1m1-2l9-9m1 0l2-2m1 0l4-4m1 0l2-2m1 0l1-1m1 0l1-1m1 0l1-1m1 0l1-1m3 0l1-1m5 0l1-1m1 0l1-1m4 0l1-1m4 0l1 1m4 0l1 1m2 0l1 1m2 0l1 1m1 0l1 1m2 0l1 1m1 0l1 1m1 0l1 1m1 0l2 2m1 0l1 1m1 0l2 2m1 0l5 5m1 0l7 7m1 2l3 3m1 2l5 5m1 2l1 1m1 2l2 2m1 2l1 1m1 2l1 1m1 2l1 1m1 2l2 2m2 4l1 1m3 6l1 1m2 4l1 1m1 2l1 1m3 6l1 1m3 6l1 1m1 2l1 1m2 4l1 1m1 2l2 2m1 2l1 1m1 2l3 3m1 2l2 2m1 2l5 5m1 2l5 5m1 2l7 7m1 2l6 6m1 0l1 1m3 3l2 2m1 0l3 3m1 0l8 8m1 0l2 2m1 0l2 2m1 0l2 2m1 0l3 3m2 0l1 1m1 0l2 2m1 0l1 1m1 0l2 2m1 0l1 1m1 0l1 1m2 0l1 1m2 0l1 1m1 0l1 1m1 0l1 1m1 0l1 1m2 0l1 1m1 0l1 1m2 0l1 1m1 0l1 1m1 0l1 1m2 0l1 1m1 0l1 1m2 0l2 2m1 0l1 1m1 0l1 1m2 0l1 1m6 0l1 1m8 0l1 1m6 0l1-1m10 0l1-1m2 0l1-1m5 0l1-1m2 0l1-1m1 0l1-1m2 0l1-1m1 0l1-1m1 0l2-2m2 0l1-1m2 0l1-1m1 0l2-2m1 0l1-1m2 0l1-1m4 0l1-1m2 0l2-2m4 0l3-3m2 0l1-1m1 0l1-1m1 0l1-1m1 0l2-2m1 0l1-1m1 0l1-1m1 0l1-1m2 0l1-1m1 0l2-2m5 0l1-1m1 0l1-1m2 0l1-1m1 0l1-1m4 0l1-1m2 0l1-1m1 0l1-1m1 0l1-1m1 0l1-1m4 0l1-1m1 0l1-1m7 0l1-1m35 0l1 1m3 0l1 1m6 0l1 1m4 0l1 1m3 0l1 1m1 0l1 1m1 0l1 1m2 0l1 1m4 0l1 1m1 0l1 1m2 0l1 1m1 0l1 1m1 0l1 1m2 0l1 1m2 0l1 1m1 0l1 1m3 0l1 1m1 0l1 1m3 0l1 1m1 0l1 1m3 0l1 1m1 0l1 1m3 0l1 1m1 0l1 1m1 0l1 1m3 0l1 1m2 0l1 1m1 0l1 1m1 0l1 1m1 0l1 1m1 0l1 1m2 0l1 1m3 0l1 1m1 0l1 1m3 0l2 2m6 0l3 3m1 0l1 1m5 0l1 1m1 0l1 1m3 0l1 1m4 0l1 1m1 0l1 1m2 0l1 1m2 0l1 1m2 0l1 1m3 0l1 1m1 0l1 1l1-1m1 0l1 1m1 0l1 1m5 0l1 1m1 0l1 1m5 0l1 1m4 0l1 1m6 0l1 1m4 0l1 1m7 0l1 1m4 0l1 1m4 0l1 1m3 0l1 1m14 0l1 1m7 0l1 1m12 0l1 1m6 0l1 1m14 0l1 1l1-1m5 0l1 1m4 0l1-1l1 1m7 0l1-1l1 1m23 0l1 1"/>
<path class="m aw" d="M114 343l3 9l1 4l2 6l5 20l3 15l1 4l1 5l1 4l1 5l1 4l3 15l1 4l4 20l1 4l1 5l2 8l1 5l2 8l1 5l1 4l1 5l2 8l1 3l2 8l3 9m1 2l1 3m10 16h1m1 1h1m1 1h1m1 1h1m1-1h2m2-2h1m2-2h1m45-51h1m6-6h1m3-3h1m1-1h1m1-1h1m3-3h2m1-1h4m1-1h4m1-1h3m1-1h8m1 1h5m2 2h2m2 2h1m1 1h1m1 1h1m1 1h1m1 1h1m2 2h1m1 1h1m2 2h1m101 140h1m5 5h1m4 4h1m2 2h1m6 6h1m1 1h1m3 3h1m1 1h1m1 1h1m2 2h1m1 1h1m1 1h1m1 1h1m1 1h1m1 1h1m1 1h2m1 1h3m1 1h1m1 1h2m1 1h2m1 1h1m1 1h2m1 1h1m1 1h2m2 0h1m1 1h1m1 1h2m1 1h3m1 1h2m1 1h4m1 1h2m1 1h2m1-1h15m1-1h8m1-1h2m1-1h2m1-1h2m1-1h2m2-2h3m1-1h1m1-1h2m1-1h2m1-1h1m1-1h1m3-3h3m1-1h2m1-1h1m1-1h1m1-1h2m1-1h1m1-1h2m1-1h2m3-3h2m1-1h1m1-1h1m2-2h2m1-1h1m1-1h1m1-1h2m1-1h2m2-2h2m1-1h2m1-1h2m1-1h3m1-1h1m1-1h2m1-1h3m1-1h2m1-1h1m1-1h6m1-1h1m1-1h3m1 1h2m1-1h6m1-1h11m1 1h15m1 1h3m1 1h4m1 1h3m1 1h3m1 1h2m1 1h2m1 1h2m1 1h2m1 1h1m1 1h2m1 1h3m1 1h1m1 1h2m1 1h1m1 1h2m1 1h1m1 1h1m1 1h4m1 1h2m1 1h3m1 1h1m1 1h1m1 1h1m1 1h2m1 1h3m1 1h1m1 1h1m1 1h1m1 1h2m1 1h1m1 1h1m1 1h1m1 1h3m1 1h3m1 1h1m1 1h2m1 1h3m1 1h2m1 1h2m1 1h2m1 1h2m1 1h1m1 1h1m1 1h1m2 0h2m1 1h2m1 1h2m1 1h3m1 1h4m1 1h3m1 1h2m1 1h1m1 1h5m1 1h3m1 1h3m1 1h9m1 1h2m1 1h7m1 1h5m1 1h5m1 1h9m1 1h6m1 1h4m1 1h9m1 1h15m1 1h1m1-1h3m1 1h8m2 0h7m1 1h5m2 0h15m1 1h1m1-1h9"/>
<path class="m cw" d="M159 530l1 2m1 3l6 12m32-10l1-2m2-2l1-2m2-2l1-2m5-5l1-2m9-9l1-2m7-7l1-2m82 1l1 2m4 4l1 2m3 3l1 2m3 3l1 2m2 2l1 2m1 1l1 2m1 1l1 2m1 1l1 2m2 2l2 4m1 1l1 2m1 1l4 8m1 1l4 8m1 1l1 2m1 1l4 8m1 1l5 10m1 1l1 2m1 1l1 2m1 1l2 4m2 2l1 2m2 2l1 2m2 2l1 2m5 5l1 2m3 3l1 2m5 5l1 2"/>
<path class="m bw" d="M167 547l4 4m1 0l1 1m1 0l1 1m1 0l1 1m1 0l1-1m2 0l2-2m1 0l2-2m1 0l12-12m1-2l2-2m1-2l2-2m1-2l5-5m1-2l9-9m1-2l7-7m1-2l2-2m1 0l6-6m1 0l3-3m1 0l1-1m1 0l1-1m1 0l3-3m2 0l1-1m4 0l1-1m4 0l1-1m3 0l1-1m8 0l1 1m5 0l2 2m2 0l2 2m1 0l1 1m1 0l1 1m1 0l1 1m1 0l1 1m1 0l2 2m1 0l1 1m1 0l2 2m1 0l7 7m1 2l4 4m1 2l3 3m1 2l3 3m1 2l2 2m1 2l1 1m1 2l1 1m1 2l1 1m1 2l2 2m2 4l1 1m1 2l1 1m4 8l1 1m4 8l1 1m1 2l1 1m4 8l1 1m5 10l1 1m1 2l1 1m1 2l1 1m2 4l2 2m1 2l2 2m1 2l2 2m1 2l5 5m1 2l3 3m1 2l5 5m1 2l10 10m1 0l5 5m1 0l4 4m1 0l2 2m1 0l6 6m1 0l1 1m1 0l3 3m1 0l1 1m1 0l1 1m1 0l2 2m1 0l1 1m1 0l1 1m1 0l1 1m1 0l1 1m1 0l1 1m1 0l1 1m2 0l1 1m3 0l1 1m1 0l1 1m2 0l1 1m2 0l1 1m1 0l1 1m2 0l1 1m1 0l1 1m2 0l1-1l1 1m1 0l1 1m1 0l1 1m2 0l1 1m3 0l1 1m2 0l1 1m4 0l1 1m2 0l1 1m2 0l1-1m15 0l1-1m8 0l1-1m2 0l1-1m2 0l1-1m2 0l1-1m2 0l2-2m3 0l1-1m1 0l1-1m2 0l1-1m2 0l1-1m1 0l1-1m1 0l3-3m3 0l1-1m2 0l1-1m1 0l1-1m1 0l1-1m2 0l1-1m1 0l1-1m2 0l1-1m2 0l3-3m2 0l1-1m1 0l1-1m1 0l2-2m2 0l1-1m1 0l1-1m1 0l1-1m2 0l1-1m2 0l2-2m2 0l1-1m2 0l1-1m2 0l1-1m3 0l1-1m1 0l1-1m2 0l1-1m3 0l1-1m2 0l1-1m1 0l1-1m6 0l1-1m1 0l1-1m3 0l1 1m2 0l1-1m6 0l1-1m11 0l1 1m15 0l1 1m3 0l1 1m4 0l1 1m3 0l1 1m3 0l1 1m2 0l1 1m2 0l1 1m2 0l1 1m2 0l1 1m1 0l1 1m2 0l1 1m3 0l1 1m1 0l1 1m2 0l1 1m1 0l1 1m2 0l1 1m1 0l1 1m1 0l1 1m4 0l1 1m2 0l1 1m3 0l1 1m1 0l1 1m1 0l1 1m1 0l1 1m2 0l1 1m3 0l1 1m1 0l1 1m1 0l1 1m1 0l1 1m2 0l1 1m1 0l1 1m1 0l1 1m1 0l1 1m3 0l1 1m3 0l1 1m1 0l1 1m2 0l1 1m3 0l1 1m2 0l1 1m2 0l1 1m2 0l1 1m2 0l1 1m1 0l1 1m1 0l1 1m1 0l1-1l1 1m2 0l1 1m2 0l1 1m2 0l1 1m3 0l1 1m4 0l1 1m3 0l1 1m2 0l1 1m1 0l1 1m5 0l1 1m3 0l1 1m3 0l1 1m9 0l1 1m2 0l1 1m7 0l1 1m5 0l1 1m5 0l1 1m9 0l1 1m6 0l1 1m4 0l1 1m9 0l1 1m15 0l1 1m1 0l1-1m3 0l1 1m8 0l1-1l1 1m7 0l1 1m5 0l1-1l1 1m15 0l1 1m1 0l1-1"/>
<path class="p aw" d="M114 344l6 18l3 12l1 5l1 4l1 5l3 12l3 15l1 4l5 25l1 4l3 15l1 4l1 5l3 12l1 5l2 8l1 5l3 12l1 3l1 4l4 12m1 2l1 3m11 15h1m1 1h4m1-1h1m1-1h1m2-2h1m6-6h1m19-24h1m24-27h1m1-1h1m3-3h1m1-1h1m2-2h1m1-1h1m1-1h3m1-1h4m1-1h2m1-1h10m1 1h6m2 2h1m1 1h1m1 1h1m1 1h1m2 2h1m1 1h1m1 1h1m2 2h1m2 2h1m58 89l1 3m38 51h1m4 5h1m4 4h1m5 5h1m2 2h1m2 2h1m2 2h1m2 2h2m4 4h1m1 1h1m2 2h1m1 1h2m1 1h4m1 1h1m1 1h2m1 1h2m1 1h2m1 1h4m1 1h3m1 1h2m1 1h4m1 1h3m1 1h4m1 1h4m1 1h2m1 1h9m1-1h9m1-1h6m1-1h4m1-1h2m1-1h5m1-1h2m2-2h1m1-1h2m1-1h1m1-1h1m1-1h1m1-1h1m1-1h1m1-1h2m2-2h1m1-1h2m1-1h2m1-1h1m1-1h2m1-1h1m1-1h3m3-3h2m1-1h1m1-1h1m1-1h1m1-1h1m1-1h1m1-1h1m1-1h1m2-2h3m1-1h1m1-1h1m1-1h2m1-1h2m1-1h1m1-1h1m1-1h3m1-1h1m1-1h3m1-1h3m1-1h3m1-1h2m1-1h1m1-1h6m1-1h28m1 1h8m1 1h7m1 1h2m1 1h3m1 1h2m1 1h1m1 1h4m1 1h3m1 1h1m1 1h1m1 1h2m1 1h1m1 1h1m1 1h2m1 1h1m1 1h2m1 1h2m1 1h1m1 1h1m1 1h1m1 1h5m1 1h2m1 1h2m1 1h2m1 1h2m1 1h1m1 1h2m1 1h2m1 1h1m1 1h1m1 1h3m1 1h1m1 1h1m1 1h2m1 1h1m1 1h4m1 1h1m1 1h1m1 1h1m1 1h3m1 1h3m1 1h1m1 1h3m1 1h3m1 1h2m1 1h1m1 1h3m1 1h3m1 1h2m1 1h3m1 1h2m1 1h1m1 1h6m1 1h3m1 1h3m1 1h8m1 1h4m1 1h3m1 1h9m1 1h2m1 1h9m1 1h7m1 1h5m1 1h12m1 1h17m1 1h3m2 0h8m1 1h7m1-1h1m1 1h20m1 1h2m1-1h5"/>
<path class="p cw" d="M160 533l1 2m1 3l3 6m1 1l1 2m29-6l1-2m1-1l1-2m3-3l1-2m2-2l1-2m3-3l1-2m4-3l1-2m5-5l1-2m5-5l1-2m85 1l1 2m2 2l1 2m2 2l1 2m2 2l1 2m1 1l1 2m2 2l1 2m2 2l1 2m1 1l1 2m1 1l3 6m1 1l2 4m1 1l2 4m1 1l8 16m1 1l1 2m1 1l7 14m1 3l1 2m1 1l1 2m1 1l1 2m1 1l1 2m1 1l2 4m1 1l1 2m3 3l1 2m2 2l1 2m1 1l1 2m4 4l1 2m4 4l1 2m1 1l1 2m6 5l1 2"/>
<path class="p bw" d="M165 544l1 1m1 2l6 6m1 0l1 1m4 0l1-1m1 0l1-1m1 0l2-2m1 0l6-6m1 0l3-3m1-2l1-1m1-2l3-3m1-2l2-2m1-2l3-3m1-2l2-2m1 0l1-1m1-2l5-5m1-2l5-5m1-2l10-10m1 0l1-1m1 0l3-3m1 0l1-1m1 0l2-2m1 0l1-1m1 0l1-1m3 0l1-1m4 0l1-1m2 0l1-1m10 0l1 1m6 0l2 2m1 0l1 1m1 0l1 1m1 0l1 1m1 0l2 2m1 0l1 1m1 0l1 1m1 0l2 2m1 0l2 2m1 0l9 9m1 2l2 2m1 2l2 2m1 2l2 2m1 2l1 1m1 2l2 2m1 2l2 2m1 2l1 1m1 2l1 1m3 6l1 1m2 4l1 1m2 4l1 1m8 16l1 1m1 2l1 1m9 19l1 1m1 2l1 1m1 2l1 1m1 2l1 1m2 4l1 1m1 2l3 3m1 2l2 2m1 2l1 1m1 2l4 4m1 2l4 4m1 2l1 1m1 2l5 5m2 2l3 3m1 0l4 4m1 0l5 5m1 0l2 2m1 0l2 2m1 0l2 2m1 0l2 2m2 0l4 4m1 0l1 1m1 0l2 2m1 0l1 1m2 0l1 1m4 0l1 1m1 0l1 1m2 0l1 1m2 0l1 1m2 0l1 1m4 0l1 1m3 0l1 1m2 0l1 1m4 0l1 1m3 0l1 1m4 0l1 1m4 0l1 1m2 0l1 1m9 0l1-1m9 0l1-1m6 0l1-1m4 0l1-1m2 0l1-1m5 0l1-1m2 0l2-2m1 0l1-1m2 0l1-1m1 0l1-1m1 0l1-1m1 0l1-1m1 0l1-1m1 0l1-1m2 0l2-2m1 0l1-1m2 0l1-1m2 0l1-1m1 0l1-1m2 0l1-1m1 0l1-1m3 0l3-3m2 0l1-1m1 0l1-1m1 0l1-1m1 0l1-1m1 0l1-1m1 0l1-1m1 0l1-1m1 0l2-2m3 0l1-1m1 0l1-1m1 0l1-1m2 0l1-1m2 0l1-1m1 0l1-1m1 0l1-1m3 0l1-1m1 0l1-1m3 0l1-1m3 0l1-1m3 0l1-1m2 0l1-1m1 0l1-1m6 0l1-1m28 0l1 1m8 0l1 1m7 0l1 1m2 0l1 1m3 0l1 1m2 0l1 1m1 0l1 1m4 0l1 1m3 0l1 1m1 0l1 1m1 0l1 1m2 0l1 1m1 0l1 1m1 0l1 1m2 0l1 1m1 0l1 1m2 0l1 1m2 0l1 1m1 0l1 1m1 0l1 1m1 0l1 1m5 0l1 1m2 0l1 1m2 0l1 1m2 0l1 1m2 0l1 1m1 0l1 1m2 0l1 1m2 0l1 1m1 0l1 1m1 0l1 1m3 0l1 1m1 0l1 1m1 0l1 1m2 0l1 1m1 0l1 1m4 0l1 1m1 0l1 1m1 0l1 1m1 0l1 1m3 0l1 1m3 0l1 1m1 0l1 1m3 0l1 1m3 0l1 1m2 0l1 1m1 0l1 1m3 0l1 1m3 0l1 1m2 0l1 1m3 0l1 1m2 0l1 1m1 0l1 1m6 0l1 1m3 0l1 1m3 0l1 1m8 0l1 1m4 0l1 1m3 0l1 1m9 0l1 1m2 0l1 1m9 0l1 1m7 0l1 1m5 0l1 1m12 0l1 1m17 0l1 1m3 0l1-1l1 1m8 0l1 1m7 0l1-1m1 0l1 1m20 0l1 1m2 0l1-1"/>
<path class="u aw" d="M115 347l4 12l2 8l1 3l1 4l1 5l1 4l1 5l1 4l1 5l1 4l1 5l1 4l2 10l1 4l3 15l1 4l3 15l1 4l1 5l1 4l1 5l2 8l1 5l2 8l1 5l4 16l5 15m1 2l1 3m11 15h1m1 1h4m1-1h2m1-1h1m11-11h1m39-46h1m2-2h1m5-5h1m1-1h1m1-1h1m1-1h2m1-1h2m1-1h5m1-1h6m1-1h3m1 1h3m1 1h3m1 1h2m1 1h1m2 2h1m2 2h1m1 1h1m5 5h1m3 3h1m97 150h1m7 7h1m1 2h1m3 3h1m2 2h1m1 1h1m2 2h1m4 4h2m1 1h1m2 2h2m1 1h1m1 1h1m1 1h3m1 1h1m1 1h1m1 1h4m1 1h5m1 1h5m1 1h5m1 1h9m1 1h5m1 1h17m1-1h5m1-1h5m1-1h3m1-1h4m1-1h3m1-1h2m1-1h1m1-1h2m1-1h1m1-1h2m1-1h1m2-2h1m1-1h1m1-1h1m2-2h3m2-2h1m1-1h1m1-1h2m1-1h3m2-2h1m1-1h2m1-1h2m2-2h2m1-1h1m2-2h1m1-1h1m1-1h1m1-1h1m1-1h1m1-1h2m2-2h1m1-1h2m1-1h1m1-1h4m1-1h1m1-1h2m1-1h2m1-1h2m1-1h3m1-1h1m1-1h1m1-1h2m1-1h3m1-1h7m1-1h11m1-1h3m1 1h1m1-1h2m1 1h13m1 1h4m1 1h8m1 1h1m1 1h2m1 1h3m1 1h2m1 1h2m1 1h1m1 1h2m1 1h1m1 1h1m1 1h1m1 1h4m1 1h1m1 1h1m1 1h2m1 1h2m1 1h1m1 1h3m1 1h1m1 1h3m1 1h1m1 1h3m1 1h2m1 1h2m1 1h1m1 1h1m1 1h2m1 1h1m1 1h2m1 1h2m1 1h1m1 1h2m1 1h2m1 1h1m1 1h3m1 1h1m1 1h1m1 1h3m1 1h2m1 1h2m1 1h3m1 1h1m1 1h3m1 1h2m1 1h3m1 1h2m1 1h2m1 1h3m1 1h2m1 1h3m1 1h2m1 1h3m1 1h5m1 1h4m1 1h4m1 1h6m1 1h4m1 1h8m1 1h8m1 1h6m1 1h3m1 1h7m1 1h15m1 1h10m1 1h3m1-1h1m1 1h26m1 1h23"/>
<path class="u cw" d="M114 345l1 2m45 186l1 2m1 3l3 6m1 1l1 2m29-6l1-2m2-2l1-2m3-3l1-2m2-2l1-2m7-7l1-2m7-7l1-2m2-2l1-2m85 2l1 2m2 2l1 2m1 1l2 4m2 2l1 2m2 2l1 2m1 1l1 2m1 1l1 2m1 1l2 4m1 1l2 4m1 1l2 4m1 1l13 26m1 1l13 26m1 1l1 2m1 1l1 2m1 1l2 4m1 1l1 2m1 1l1 2m1 1l1 2m2 2l1 2m1 1l1 2m4 4l1 2m2 2l1 2m2 2l1 2m5 5l1 2m9 7l1 2"/>
<path class="u bw" d="M165 544l1 1m1 2l6 6m1 0l1 1m4 0l1-1m2 0l1-1m1 0l11-11m2-2l2-2m1-2l3-3m1-2l2-2m1-2l7-7m1-2l7-7m1-2l2-2m1-2l9-9m1 0l2-2m1 0l5-5m1 0l1-1m1 0l1-1m1 0l1-1m2 0l1-1m2 0l1-1m5 0l1-1m6 0l1-1m3 0l1 1m3 0l1 1m3 0l1 1m2 0l1 1m1 0l2 2m1 0l2 2m1 0l1 1m1 0l5 5m1 0l3 3m1 0l8 8m1 2l2 2m1 2l1 1m2 4l2 2m1 2l2 2m1 2l1 1m1 2l1 1m1 2l1 1m2 4l1 1m2 4l1 1m2 4l1 1m13 26l1 1m13 26l1 1m1 2l1 1m1 2l1 1m2 4l1 1m1 2l1 1m1 2l1 1m1 2l2 2m1 2l1 1m1 2l4 4m1 2l2 2m1 2l2 2m1 2l5 5m2 2l7 7m3 2l3 3m1 0l2 2m1 0l1 1m1 0l2 2m1 0l4 4m2 0l1 1m1 0l2 2m2 0l1 1m1 0l1 1m1 0l1 1m3 0l1 1m1 0l1 1m1 0l1 1m4 0l1 1m5 0l1 1m5 0l1 1m5 0l1 1m9 0l1 1m5 0l1 1m17 0l1-1m5 0l1-1m5 0l1-1m3 0l1-1m4 0l1-1m3 0l1-1m2 0l1-1m1 0l1-1m2 0l1-1m1 0l1-1m2 0l1-1m1 0l2-2m1 0l1-1m1 0l1-1m1 0l2-2m3 0l2-2m1 0l1-1m1 0l1-1m2 0l1-1m3 0l2-2m1 0l1-1m2 0l1-1m2 0l2-2m2 0l1-1m1 0l2-2m1 0l1-1m1 0l1-1m1 0l1-1m1 0l1-1m1 0l1-1m2 0l2-2m1 0l1-1m2 0l1-1m1 0l1-1m4 0l1-1m1 0l1-1m2 0l1-1m2 0l1-1m2 0l1-1m3 0l1-1m1 0l1-1m1 0l1-1m2 0l1-1m3 0l1-1m7 0l1-1m11 0l1-1m3 0l1 1m1 0l1-1m2 0l1 1m13 0l1 1m4 0l1 1m8 0l1 1m1 0l1 1m2 0l1 1m3 0l1 1m2 0l1 1m2 0l1 1m1 0l1 1m2 0l1 1m1 0l1 1m1 0l1 1m1 0l1 1m4 0l1 1m1 0l1 1m1 0l1 1m2 0l1 1m2 0l1 1m1 0l1 1m3 0l1 1m1 0l1 1m3 0l1 1m1 0l1 1m3 0l1 1m2 0l1 1m2 0l1 1m1 0l1 1m1 0l1 1m2 0l1 1m1 0l1 1m2 0l1 1m2 0l1 1m1 0l1 1m2 0l1 1m2 0l1 1m1 0l1 1m3 0l1 1m1 0l1 1m1 0l1 1m3 0l1 1m2 0l1 1m2 0l1 1m3 0l1 1m1 0l1 1m3 0l1 1m2 0l1 1m3 0l1 1m2 0l1 1m2 0l1 1m3 0l1 1m2 0l1 1m3 0l1 1m2 0l1 1m3 0l1 1m5 0l1 1m4 0l1 1m4 0l1 1m6 0l1 1m4 0l1 1m8 0l1 1m8 0l1 1m6 0l1 1m3 0l1 1m7 0l1 1m15 0l1 1m10 0l1 1m3 0l1-1m1 0l1 1m26 0l1 1"/>
<path class="r aw" d="M115 347l2 6l1 4l2 6l1 4l1 3l1 4l1 5l1 4l1 5l1 4l1 5l1 4l1 5l1 4l3 15l1 4l2 10l1 4l3 15l1 4l2 10l2 8l1 5l3 12l1 5l4 16l2 6l1 4m1 2l1 3m2 4l1 3m7 11h1m2 2h1m1 1h5m1-1h1m1-1h1m8-8h1m18-23h1m25-28h1m1-1h1m2-2h1m3-3h1m1-1h2m1-1h1m1-1h5m1-1h3m1-1h10m1 1h4m1 1h1m1 1h1m2 2h1m1 1h1m3 3h1m2 2h1m3 3h1m46 69l1 3m8 15l1 3m45 70h1m4 5h1m5 5h1m4 4h1m1 1h1m2 2h1m2 2h1m1 1h1m1 1h1m1 1h2m2 2h1m1 1h2m1 1h2m1 1h2m1 1h2m1 1h5m1 1h13m1 1h3m2 0h22m2 0h3m1-1h3m1-1h3m1-1h5m1-1h2m1-1h3m1-1h2m1-1h3m1-1h3m1-1h2m1-1h1m1-1h1m1-1h1m1-1h1m1-1h1m1-1h1m1-1h1m1-1h1m1-1h1m1-1h1m2-2h1m1-1h1m1-1h1m1-1h3m1-1h1m2-2h2m1-1h1m1-1h2m3-3h1m1-1h1m1-1h1m2-2h1m2-2h2m2-2h1m1-1h1m1-1h1m1-1h1m1-1h2m1-1h1m1-1h2m1-1h1m1-1h1m1-1h3m1-1h2m1-1h1m1-1h2m1-1h1m1-1h2m1-1h2m1-1h4m1-1h3m1-1h9m1-1h19m1 1h10m1 1h6m1 1h2m1 1h2m1 1h2m1 1h2m1 1h5m1 1h1m2 2h3m1 1h1m1 1h1m1 1h3m1 1h2m1 1h1m2 2h2m1 1h1m1 1h2m1 1h2m1 1h3m1 1h1m1 1h2m1 1h2m1 1h1m1 1h1m1 1h2m1 1h1m1 1h2m1 1h1m1 1h1m1 1h2m1 1h1m1 1h1m1 1h2m1 1h1m1 1h2m1 1h1m1 1h1m1 1h4m1 1h1m1 1h2m1 1h2m1 1h3m1 1h1m1 1h2m1 1h3m1 1h2m1 1h2m1 1h4m1 1h3m1 1h3m1 1h3m1 1h1m1 1h1m1 1h5m1 1h3m1 1h4m1 1h6m1 1h3m1 1h9m1 1h5m1 1h6m1 1h6m1 1h2m1 1h9m1 1h1m1-1h3m1 1h6m1 1h1m1-1h1m1 1h6m1 1h17m2 0h2m1 1h1m2 0h22m2 0h9"/>
<path class="r cw" d="M114 345l1 2m43 181l1 2m1 3l2 4m1 3l1 2m1 1l2 4m2 2l1 2m27-11l1-2m2-2l1-2m1-1l1-2m2-2l1-2m3-3l1-2m3-2l1-2m5-5l1-2m4-4l1-2m83 1l1 2m4 4l1 2m1 1l1 2m1 1l2 4m3 3l3 6m1 1l2 4m1 1l4 8m1 1l2 4m1 1l7 14m2 4l7 14m1 3l12 24m1 1l2 4m1 1l2 4m1 1l1 2m1 1l1 2m1 1l1 2m1 1l1 2m3 3l1 2m1 1l1 2m2 2l1 2m2 2l1 2m4 4l1 2m3 2l1 2"/>
<path class="r bw" d="M164 542l1 1m2 4l2 2m2 2l2 2m1 0l1 1m5 0l1-1m1 0l1-1m1 0l8-8m1 0l4-4m1-2l2-2m1-2l1-1m1-2l2-2m1-2l3-3m1-2l1-1m1 0l1-1m1-2l5-5m1-2l4-4m1-2l12-12m1 0l1-1m1 0l2-2m1 0l3-3m1 0l1-1m2 0l1-1m1 0l1-1m5 0l1-1m3 0l1-1m10 0l1 1m4 0l1 1m1 0l1 1m1 0l2 2m1 0l1 1m1 0l3 3m1 0l2 2m1 0l3 3m1 0l10 10m1 2l4 4m1 2l1 1m1 2l1 1m2 4l3 3m3 6l1 1m2 4l1 1m4 8l1 1m2 4l1 1m8 17l1 1m20 41l1 1m2 4l1 1m2 4l1 1m1 2l1 1m1 2l1 1m1 2l1 1m1 2l3 3m1 2l1 1m1 2l2 2m1 2l2 2m1 2l4 4m1 2l2 2m2 2l3 3m1 0l5 5m1 0l4 4m1 0l1 1m1 0l2 2m1 0l2 2m1 0l1 1m1 0l1 1m1 0l1 1m2 0l2 2m1 0l1 1m2 0l1 1m2 0l1 1m2 0l1 1m2 0l1 1m5 0l1 1m13 0l1 1m3 0l1-1l1 1m22 0l1 1l1-1m3 0l1-1m3 0l1-1m3 0l1-1m5 0l1-1m2 0l1-1m3 0l1-1m2 0l1-1m3 0l1-1m3 0l1-1m2 0l1-1m1 0l1-1m1 0l1-1m1 0l1-1m1 0l1-1m1 0l1-1m1 0l1-1m1 0l1-1m1 0l1-1m1 0l1-1m1 0l2-2m1 0l1-1m1 0l1-1m1 0l1-1m3 0l1-1m1 0l2-2m2 0l1-1m1 0l1-1m2 0l3-3m1 0l1-1m1 0l1-1m1 0l2-2m1 0l2-2m2 0l2-2m1 0l1-1m1 0l1-1m1 0l1-1m1 0l1-1m2 0l1-1m1 0l1-1m2 0l1-1m1 0l1-1m1 0l1-1m3 0l1-1m2 0l1-1m1 0l1-1m2 0l1-1m1 0l1-1m2 0l1-1m2 0l1-1m4 0l1-1m3 0l1-1m9 0l1-1m19 0l1 1m10 0l1 1m6 0l1 1m2 0l1 1m2 0l1 1m2 0l1 1m2 0l1 1m5 0l1 1m1 0l2 2m3 0l1 1m1 0l1 1m1 0l1 1m3 0l1 1m2 0l1 1m1 0l2 2m2 0l1 1m1 0l1 1m2 0l1 1m2 0l1 1m3 0l1 1m1 0l1 1m2 0l1 1m2 0l1 1m1 0l1 1m1 0l1 1m2 0l1 1m1 0l1 1m2 0l1 1m1 0l1 1m1 0l1 1m2 0l1 1m1 0l1 1m1 0l1 1m2 0l1 1m1 0l1 1m2 0l1 1m1 0l1 1m1 0l1 1m4 0l1 1m1 0l1 1m2 0l1 1m2 0l1 1m3 0l1 1m1 0l1 1m2 0l1 1m3 0l1 1m2 0l1 1m2 0l1 1m4 0l1 1m3 0l1 1m3 0l1 1m3 0l1 1m1 0l1 1m1 0l1 1m5 0l1 1m3 0l1 1m4 0l1 1m6 0l1 1m3 0l1 1m9 0l1 1m5 0l1 1m6 0l1 1m6 0l1 1m2 0l1 1m9 0l1 1m1 0l1-1m3 0l1 1m6 0l1 1m1 0l1-1m1 0l1 1m6 0l1 1m17 0l1-1l1 1m2 0l1 1m1 0l1-1l1 1m22 0l1 1l1-1"/>
</g>
<g fill="#000" shape-rendering="crispEdges">
<rect x="785" y="60" width="7" height="102"/>
<polygon points="789,10 815,62 762,62"/>
<rect x="1331" y="1074" width="7" height="102"/>
<polygon points="1308,1174 1361,1174 1334.5,1225"/>
</g>
<defs><filter id="tb" x="-10%" y="-10%" width="120%" height="120%"><feGaussianBlur stdDeviation="0.65"/></filter></defs>
<g filter="url(#tb)">
<text transform="translate(110.5 107.5) scale(1 1.06)">0.5</text>
<text transform="translate(110.5 371.5) scale(1 1.06)">0.4</text>
<text transform="translate(110.5 634.5) scale(1 1.06)">0.3</text>
<text transform="translate(110.5 898.5) scale(1 1.06)">0.2</text>
<text transform="translate(110.5 1161.5) scale(1 1.06)">0.1</text>
<text transform="translate(110.5 1425.5) scale(1 1.06)">0.0</text>
<text transform="translate(519 1496) scale(1 1.06)" text-anchor="middle">300</text>
<text transform="translate(1105 1496) scale(1 1.06)" text-anchor="middle">400</text>
<text transform="translate(1690 1496) scale(1 1.06)" text-anchor="middle">500</text>
<text transform="translate(1104.5 1567) scale(1 1.06)" text-anchor="middle">Wavelength (nm)</text>
<text transform="translate(61 750) rotate(-90) scale(1 1.06)" text-anchor="middle">Abs</text>
</g>
</svg>
</body></html>
